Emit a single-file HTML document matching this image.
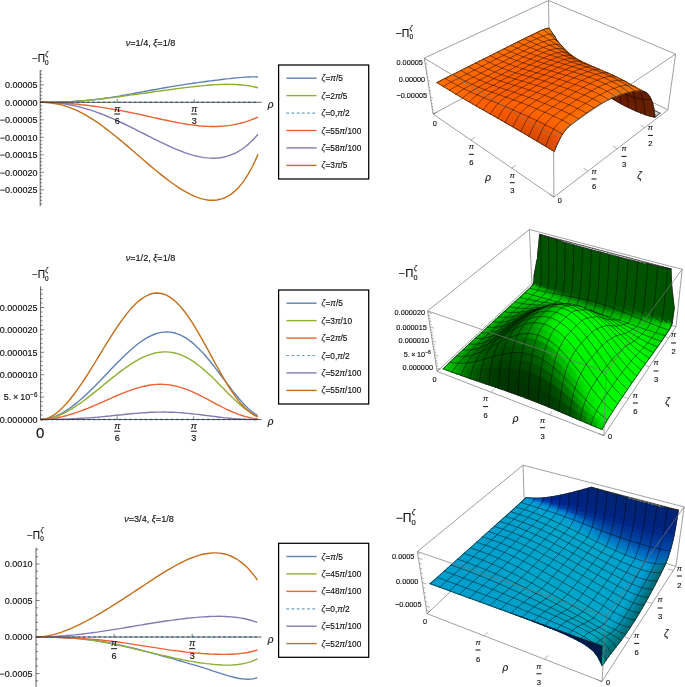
<!DOCTYPE html>
<html><head><meta charset="utf-8"><title>Plots</title>
<style>html,body{margin:0;padding:0;background:#fff}svg{display:block}text{font-family:"Liberation Sans",Arial,sans-serif;fill:#111;stroke:#111;stroke-width:.15px}.m{stroke:#000;stroke-opacity:.62;stroke-width:.75;fill:none}.e{stroke:#222;stroke-width:.7;fill:none;stroke-linecap:round}</style></head>
<body><svg width="685" height="687" viewBox="0 0 685 687">
<rect width="685" height="687" fill="#fff"/>
<path d="M40.2 102.3 L43.4 102.3 L46.5 102.3 L49.7 102.2 L52.8 102.2 L56 102.1 L59.1 102 L62.3 101.9 L65.5 101.8 L68.6 101.6 L71.8 101.5 L74.9 101.3 L78.1 101 L81.2 100.8 L84.4 100.6 L87.5 100.3 L90.7 100 L93.9 99.6 L97 99.3 L100.2 98.9 L103.3 98.5 L106.5 98 L109.6 97.6 L112.8 97.1 L116 96.6 L119.1 96.1 L122.3 95.5 L125.4 95 L128.6 94.4 L131.7 93.9 L134.9 93.3 L138.1 92.7 L141.2 92.1 L144.4 91.5 L147.5 90.9 L150.7 90.3 L153.8 89.7 L157 89.2 L160.1 88.6 L163.3 88 L166.5 87.5 L169.6 86.9 L172.8 86.4 L175.9 85.9 L179.1 85.4 L182.2 84.9 L185.4 84.4 L188.6 83.9 L191.7 83.5 L194.9 83 L198 82.6 L201.2 82.1 L204.3 81.7 L207.5 81.3 L210.7 80.9 L213.8 80.5 L217 80.1 L220.1 79.7 L223.3 79.3 L226.4 78.9 L229.6 78.6 L232.7 78.2 L235.9 77.9 L239.1 77.6 L242.2 77.4 L245.4 77.1 L248.5 77 L251.7 76.9 L254.8 76.9 L258 77" stroke="#5E81B5" stroke-width="1.4" fill="none" stroke-linejoin="round"/>
<path d="M40.2 102.3 L43.4 102.3 L46.5 102.3 L49.7 102.3 L52.8 102.2 L56 102.2 L59.1 102.1 L62.3 102 L65.5 101.9 L68.6 101.8 L71.8 101.6 L74.9 101.4 L78.1 101.2 L81.2 100.9 L84.4 100.7 L87.5 100.4 L90.7 100.1 L93.9 99.8 L97 99.4 L100.2 99.1 L103.3 98.7 L106.5 98.3 L109.6 97.9 L112.8 97.5 L116 97.1 L119.1 96.7 L122.3 96.2 L125.4 95.8 L128.6 95.4 L131.7 94.9 L134.9 94.5 L138.1 94.1 L141.2 93.6 L144.4 93.2 L147.5 92.7 L150.7 92.3 L153.8 91.8 L157 91.4 L160.1 91 L163.3 90.5 L166.5 90.1 L169.6 89.7 L172.8 89.3 L175.9 88.8 L179.1 88.4 L182.2 88 L185.4 87.6 L188.6 87.3 L191.7 86.9 L194.9 86.5 L198 86.2 L201.2 85.9 L204.3 85.6 L207.5 85.3 L210.7 85 L213.8 84.8 L217 84.6 L220.1 84.5 L223.3 84.4 L226.4 84.3 L229.6 84.4 L232.7 84.4 L235.9 84.5 L239.1 84.7 L242.2 85 L245.4 85.4 L248.5 85.8 L251.7 86.4 L254.8 87 L258 87.8" stroke="#8FB032" stroke-width="1.4" fill="none" stroke-linejoin="round"/>
<path d="M40.2 102.3H258" stroke="#5D9EC7" stroke-width="1.5" stroke-dasharray="2.6 2.6" fill="none"/>
<path d="M40.2 102.3 L43.4 102.3 L46.5 102.4 L49.7 102.4 L52.8 102.5 L56 102.7 L59.1 102.8 L62.3 103 L65.5 103.2 L68.6 103.5 L71.8 103.7 L74.9 104 L78.1 104.3 L81.2 104.7 L84.4 105 L87.5 105.4 L90.7 105.8 L93.9 106.2 L97 106.6 L100.2 107.1 L103.3 107.6 L106.5 108.1 L109.6 108.6 L112.8 109.2 L116 109.7 L119.1 110.3 L122.3 110.9 L125.4 111.5 L128.6 112.1 L131.7 112.8 L134.9 113.4 L138.1 114.1 L141.2 114.8 L144.4 115.5 L147.5 116.2 L150.7 116.9 L153.8 117.6 L157 118.3 L160.1 119 L163.3 119.7 L166.5 120.3 L169.6 121 L172.8 121.6 L175.9 122.3 L179.1 122.9 L182.2 123.4 L185.4 124 L188.6 124.5 L191.7 124.9 L194.9 125.3 L198 125.7 L201.2 126 L204.3 126.2 L207.5 126.4 L210.7 126.5 L213.8 126.5 L217 126.5 L220.1 126.3 L223.3 126.1 L226.4 125.8 L229.6 125.4 L232.7 124.9 L235.9 124.3 L239.1 123.6 L242.2 122.8 L245.4 121.9 L248.5 120.9 L251.7 119.7 L254.8 118.5 L258 117.2" stroke="#EB6235" stroke-width="1.4" fill="none" stroke-linejoin="round"/>
<path d="M40.2 102.3 L43.4 102.3 L46.5 102.4 L49.7 102.5 L52.8 102.7 L56 102.9 L59.1 103.3 L62.3 103.6 L65.5 104.1 L68.6 104.6 L71.8 105.2 L74.9 105.9 L78.1 106.6 L81.2 107.4 L84.4 108.3 L87.5 109.2 L90.7 110.2 L93.9 111.2 L97 112.4 L100.2 113.5 L103.3 114.7 L106.5 116 L109.6 117.3 L112.8 118.7 L116 120.1 L119.1 121.6 L122.3 123 L125.4 124.5 L128.6 126.1 L131.7 127.6 L134.9 129.2 L138.1 130.8 L141.2 132.4 L144.4 134 L147.5 135.6 L150.7 137.2 L153.8 138.8 L157 140.3 L160.1 141.9 L163.3 143.4 L166.5 144.9 L169.6 146.4 L172.8 147.8 L175.9 149.1 L179.1 150.4 L182.2 151.6 L185.4 152.8 L188.6 153.8 L191.7 154.8 L194.9 155.7 L198 156.4 L201.2 157.1 L204.3 157.6 L207.5 157.9 L210.7 158.1 L213.8 158.2 L217 158 L220.1 157.7 L223.3 157.2 L226.4 156.4 L229.6 155.4 L232.7 154.2 L235.9 152.8 L239.1 151 L242.2 149 L245.4 146.7 L248.5 144.1 L251.7 141.1 L254.8 137.9 L258 134.2" stroke="#8778B3" stroke-width="1.4" fill="none" stroke-linejoin="round"/>
<path d="M40.2 102.3 L43.4 102.3 L46.5 102.5 L49.7 102.8 L52.8 103.2 L56 103.7 L59.1 104.3 L62.3 105.1 L65.5 106.1 L68.6 107.1 L71.8 108.3 L74.9 109.6 L78.1 111.1 L81.2 112.7 L84.4 114.4 L87.5 116.2 L90.7 118.1 L93.9 120.1 L97 122.2 L100.2 124.4 L103.3 126.7 L106.5 129.1 L109.6 131.5 L112.8 134 L116 136.5 L119.1 139.1 L122.3 141.8 L125.4 144.4 L128.6 147.1 L131.7 149.8 L134.9 152.5 L138.1 155.3 L141.2 158 L144.4 160.7 L147.5 163.4 L150.7 166.1 L153.8 168.7 L157 171.3 L160.1 173.9 L163.3 176.4 L166.5 178.9 L169.6 181.2 L172.8 183.5 L175.9 185.7 L179.1 187.8 L182.2 189.8 L185.4 191.7 L188.6 193.4 L191.7 195 L194.9 196.4 L198 197.6 L201.2 198.6 L204.3 199.4 L207.5 200 L210.7 200.3 L213.8 200.3 L217 200 L220.1 199.3 L223.3 198.3 L226.4 197 L229.6 195.2 L232.7 192.9 L235.9 190.2 L239.1 186.9 L242.2 183.1 L245.4 178.7 L248.5 173.7 L251.7 168 L254.8 161.6 L258 154.4" stroke="#C56E1A" stroke-width="1.4" fill="none" stroke-linejoin="round"/>
<path d="M40.2 70.2V206.4M40.2 102.3H261.6" stroke="#2b2b2b" stroke-width="0.75" fill="none"/>
<path d="M40.2 203.8h2.0M40.2 200.3h2.0M40.2 196.8h2.0M40.2 193.3h2.0M40.2 189.8h3.6M40.2 186.3h2.0M40.2 182.8h2.0M40.2 179.3h2.0M40.2 175.8h2.0M40.2 172.3h3.6M40.2 168.8h2.0M40.2 165.3h2.0M40.2 161.8h2.0M40.2 158.3h2.0M40.2 154.8h3.6M40.2 151.3h2.0M40.2 147.8h2.0M40.2 144.3h2.0M40.2 140.8h2.0M40.2 137.3h3.6M40.2 133.8h2.0M40.2 130.3h2.0M40.2 126.8h2.0M40.2 123.3h2.0M40.2 119.8h3.6M40.2 116.3h2.0M40.2 112.8h2.0M40.2 109.3h2.0M40.2 105.8h2.0M40.2 102.3h3.6M40.2 98.8h2.0M40.2 95.3h2.0M40.2 91.8h2.0M40.2 88.3h2.0M40.2 84.8h3.6M40.2 81.3h2.0M40.2 77.8h2.0M40.2 74.3h2.0M40.2 70.8h2.0M117.2 102.3v-3.2M194.2 102.3v-3.2" stroke="#2b2b2b" stroke-width="0.6" fill="none"/>
<text x="37.6" y="88" font-size="9" text-anchor="end">0.00005</text>
<text x="37.6" y="105.5" font-size="9" text-anchor="end">0.00000</text>
<text x="37.6" y="123" font-size="9" text-anchor="end">−0.00005</text>
<text x="37.6" y="140.5" font-size="9" text-anchor="end">−0.00010</text>
<text x="37.6" y="158" font-size="9" text-anchor="end">−0.00015</text>
<text x="37.6" y="175.5" font-size="9" text-anchor="end">−0.00020</text>
<text x="37.6" y="193" font-size="9" text-anchor="end">−0.00025</text>
<text x="117.2" y="111.5" font-size="9" font-style="italic" text-anchor="middle">π</text>
<path d="M114.2 114H120.2" stroke="#111" stroke-width="1"/>
<text x="117.2" y="123.9" font-size="9" text-anchor="middle">6</text>
<text x="194.2" y="111.5" font-size="9" font-style="italic" text-anchor="middle">π</text>
<path d="M191.2 114H197.2" stroke="#111" stroke-width="1"/>
<text x="194.2" y="123.9" font-size="9" text-anchor="middle">3</text>
<text x="270.5" y="107.8" font-size="10" font-style="italic" text-anchor="middle">ρ</text>
<text x="150.5" y="46.3" font-size="9.1" text-anchor="middle"><tspan font-style="italic">ν</tspan>=1/4, <tspan font-style="italic">ξ</tspan>=1/8</text>
<text x="31.9" y="62.2" font-size="10">−Π</text>
<text x="45.1" y="64.6" font-size="6.4">0</text>
<text x="45.3" y="55.6" font-size="6.4" font-style="italic">ζ</text>
<rect x="278.6" y="65" width="90.1" height="114" fill="#fff" stroke="#000" stroke-width="1.25"/>
<path d="M286.4 78.2H316.6" stroke="#5E81B5" stroke-width="1.4"/>
<text x="321.6" y="81.2" font-size="8.3"><tspan font-style="italic">ζ</tspan>=<tspan font-style="italic">π</tspan>/5</text>
<path d="M286.4 95.6H316.6" stroke="#8FB032" stroke-width="1.4"/>
<text x="321.6" y="98.6" font-size="8.3"><tspan font-style="italic">ζ</tspan>=2<tspan font-style="italic">π</tspan>/5</text>
<path d="M286.4 113.1H316.6" stroke="#5D9EC7" stroke-width="1.2" stroke-dasharray="2.6 2.6"/>
<text x="321.6" y="116.1" font-size="8.3"><tspan font-style="italic">ζ</tspan>=0,<tspan font-style="italic">π</tspan>/2</text>
<path d="M286.4 130.5H316.6" stroke="#EB6235" stroke-width="1.4"/>
<text x="321.6" y="133.5" font-size="8.3"><tspan font-style="italic">ζ</tspan>=55<tspan font-style="italic">π</tspan>/100</text>
<path d="M286.4 147.9H316.6" stroke="#8778B3" stroke-width="1.4"/>
<text x="321.6" y="150.9" font-size="8.3"><tspan font-style="italic">ζ</tspan>=58<tspan font-style="italic">π</tspan>/100</text>
<path d="M286.4 165.4H316.6" stroke="#C56E1A" stroke-width="1.4"/>
<text x="321.6" y="168.4" font-size="8.3"><tspan font-style="italic">ζ</tspan>=3<tspan font-style="italic">π</tspan>/5</text>
<path d="M40.6 419.5 L43.7 419.3 L46.9 418.9 L50 418.2 L53.2 417.2 L56.3 415.9 L59.5 414.5 L62.6 412.8 L65.8 410.9 L68.9 408.8 L72 406.5 L75.2 404.1 L78.3 401.5 L81.5 398.8 L84.6 396 L87.8 393 L90.9 390 L94.1 386.9 L97.2 383.7 L100.4 380.5 L103.5 377.2 L106.6 373.9 L109.8 370.6 L112.9 367.3 L116.1 364.1 L119.2 360.9 L122.4 357.7 L125.5 354.7 L128.7 351.8 L131.8 349 L134.9 346.3 L138.1 343.8 L141.2 341.5 L144.4 339.4 L147.5 337.5 L150.7 335.9 L153.8 334.5 L157 333.4 L160.1 332.6 L163.3 332.1 L166.4 331.9 L169.5 332.1 L172.7 332.5 L175.8 333.3 L179 334.4 L182.1 335.8 L185.3 337.6 L188.4 339.7 L191.6 342.1 L194.7 344.7 L197.8 347.7 L201 350.9 L204.1 354.3 L207.3 358 L210.4 361.8 L213.6 365.7 L216.7 369.8 L219.9 374 L223 378.2 L226.2 382.4 L229.3 386.5 L232.4 390.6 L235.6 394.5 L238.7 398.3 L241.9 401.9 L245 405.3 L248.2 408.4 L251.3 411.2 L254.5 413.6 L257.6 415.6" stroke="#5E81B5" stroke-width="1.4" fill="none" stroke-linejoin="round"/>
<path d="M40.6 419.5 L43.7 419.4 L46.9 419 L50 418.4 L53.2 417.5 L56.3 416.5 L59.5 415.2 L62.6 413.8 L65.8 412.2 L68.9 410.5 L72 408.6 L75.2 406.6 L78.3 404.5 L81.5 402.3 L84.6 400 L87.8 397.6 L90.9 395.1 L94.1 392.6 L97.2 390.1 L100.4 387.6 L103.5 385 L106.6 382.4 L109.8 379.9 L112.9 377.4 L116.1 374.9 L119.2 372.4 L122.4 370.1 L125.5 367.8 L128.7 365.6 L131.8 363.6 L134.9 361.6 L138.1 359.8 L141.2 358.2 L144.4 356.7 L147.5 355.4 L150.7 354.3 L153.8 353.3 L157 352.6 L160.1 352.2 L163.3 351.9 L166.4 351.9 L169.5 352.1 L172.7 352.5 L175.8 353.2 L179 354.2 L182.1 355.4 L185.3 356.8 L188.4 358.5 L191.6 360.4 L194.7 362.4 L197.8 364.7 L201 367.2 L204.1 369.9 L207.3 372.7 L210.4 375.6 L213.6 378.6 L216.7 381.7 L219.9 384.9 L223 388.1 L226.2 391.3 L229.3 394.4 L232.4 397.5 L235.6 400.5 L238.7 403.4 L241.9 406.1 L245 408.7 L248.2 411 L251.3 413.1 L254.5 415 L257.6 416.5" stroke="#8FB032" stroke-width="1.4" fill="none" stroke-linejoin="round"/>
<path d="M40.6 419.5 L43.7 419.4 L46.9 419.2 L50 418.9 L53.2 418.5 L56.3 418 L59.5 417.3 L62.6 416.6 L65.8 415.8 L68.9 414.9 L72 414 L75.2 412.9 L78.3 411.9 L81.5 410.7 L84.6 409.5 L87.8 408.3 L90.9 407 L94.1 405.7 L97.2 404.3 L100.4 402.9 L103.5 401.6 L106.6 400.2 L109.8 398.8 L112.9 397.4 L116.1 396 L119.2 394.7 L122.4 393.4 L125.5 392.1 L128.7 390.9 L131.8 389.8 L134.9 388.7 L138.1 387.8 L141.2 386.9 L144.4 386.2 L147.5 385.5 L150.7 385 L153.8 384.6 L157 384.4 L160.1 384.3 L163.3 384.4 L166.4 384.6 L169.5 384.9 L172.7 385.5 L175.8 386.1 L179 386.9 L182.1 387.9 L185.3 388.9 L188.4 390.1 L191.6 391.4 L194.7 392.8 L197.8 394.3 L201 395.9 L204.1 397.5 L207.3 399.2 L210.4 400.9 L213.6 402.6 L216.7 404.3 L219.9 405.9 L223 407.5 L226.2 409.1 L229.3 410.5 L232.4 411.9 L235.6 413.2 L238.7 414.4 L241.9 415.5 L245 416.4 L248.2 417.2 L251.3 417.9 L254.5 418.4 L257.6 418.8" stroke="#EB6235" stroke-width="1.4" fill="none" stroke-linejoin="round"/>
<path d="M40.6 419.5H257.6" stroke="#5D9EC7" stroke-width="1.5" stroke-dasharray="2.6 2.6" fill="none"/>
<path d="M40.6 419.5 L43.7 419.5 L46.9 419.5 L50 419.4 L53.2 419.4 L56.3 419.3 L59.5 419.3 L62.6 419.2 L65.8 419.1 L68.9 419 L72 418.8 L75.2 418.7 L78.3 418.5 L81.5 418.3 L84.6 418.1 L87.8 417.9 L90.9 417.7 L94.1 417.4 L97.2 417.2 L100.4 416.9 L103.5 416.6 L106.6 416.3 L109.8 416 L112.9 415.6 L116.1 415.3 L119.2 415 L122.4 414.7 L125.5 414.3 L128.7 414 L131.8 413.7 L134.9 413.4 L138.1 413.2 L141.2 412.9 L144.4 412.7 L147.5 412.5 L150.7 412.3 L153.8 412.2 L157 412.1 L160.1 412.1 L163.3 412 L166.4 412.1 L169.5 412.2 L172.7 412.3 L175.8 412.4 L179 412.6 L182.1 412.8 L185.3 413.1 L188.4 413.4 L191.6 413.7 L194.7 414.1 L197.8 414.4 L201 414.8 L204.1 415.2 L207.3 415.6 L210.4 416 L213.6 416.4 L216.7 416.8 L219.9 417.2 L223 417.6 L226.2 417.9 L229.3 418.2 L232.4 418.5 L235.6 418.7 L238.7 418.9 L241.9 419.1 L245 419.3 L248.2 419.4 L251.3 419.4 L254.5 419.5 L257.6 419.5" stroke="#8778B3" stroke-width="1.4" fill="none" stroke-linejoin="round"/>
<path d="M40.6 419.5 L43.7 419.2 L46.9 418.4 L50 417.1 L53.2 415.4 L56.3 413.2 L59.5 410.6 L62.6 407.6 L65.8 404.3 L68.9 400.7 L72 396.8 L75.2 392.7 L78.3 388.3 L81.5 383.7 L84.6 379 L87.8 374.1 L90.9 369.1 L94.1 364 L97.2 358.9 L100.4 353.7 L103.5 348.5 L106.6 343.4 L109.8 338.4 L112.9 333.4 L116.1 328.6 L119.2 324 L122.4 319.6 L125.5 315.4 L128.7 311.4 L131.8 307.8 L134.9 304.5 L138.1 301.6 L141.2 299.1 L144.4 297 L147.5 295.3 L150.7 294 L153.8 293.3 L157 293 L160.1 293.2 L163.3 294 L166.4 295.2 L169.5 296.9 L172.7 299.1 L175.8 301.8 L179 304.9 L182.1 308.5 L185.3 312.5 L188.4 316.9 L191.6 321.6 L194.7 326.6 L197.8 331.8 L201 337.3 L204.1 342.9 L207.3 348.6 L210.4 354.4 L213.6 360.3 L216.7 366 L219.9 371.7 L223 377.2 L226.2 382.5 L229.3 387.6 L232.4 392.3 L235.6 396.8 L238.7 400.9 L241.9 404.6 L245 407.9 L248.2 410.8 L251.3 413.2 L254.5 415.3 L257.6 416.9" stroke="#C56E1A" stroke-width="1.4" fill="none" stroke-linejoin="round"/>
<path d="M40.6 286.4V419.5M40.6 419.5H261.6" stroke="#2b2b2b" stroke-width="0.75" fill="none"/>
<path d="M40.6 419.5h3.6M40.6 415h2.0M40.6 410.5h2.0M40.6 406.1h2.0M40.6 401.6h2.0M40.6 397.1h3.6M40.6 392.6h2.0M40.6 388.1h2.0M40.6 383.7h2.0M40.6 379.2h2.0M40.6 374.7h3.6M40.6 370.2h2.0M40.6 365.7h2.0M40.6 361.3h2.0M40.6 356.8h2.0M40.6 352.3h3.6M40.6 347.8h2.0M40.6 343.3h2.0M40.6 338.9h2.0M40.6 334.4h2.0M40.6 329.9h3.6M40.6 325.4h2.0M40.6 320.9h2.0M40.6 316.5h2.0M40.6 312h2.0M40.6 307.5h3.6M40.6 303h2.0M40.6 298.5h2.0M40.6 294.1h2.0M40.6 289.6h2.0M117.2 419.5v-3.2M193.8 419.5v-3.2" stroke="#2b2b2b" stroke-width="0.6" fill="none"/>
<text x="37.4" y="310.7" font-size="9" text-anchor="end">0.000025</text>
<text x="37.4" y="333.1" font-size="9" text-anchor="end">0.000020</text>
<text x="37.4" y="355.5" font-size="9" text-anchor="end">0.000015</text>
<text x="37.4" y="377.9" font-size="9" text-anchor="end">0.000010</text>
<text x="37.4" y="400.3" font-size="9" text-anchor="end">5.&#8201;×&#8201;10<tspan font-size="6.3" dy="-3.6">−6</tspan></text>
<text x="37.4" y="422.7" font-size="9" text-anchor="end">0.000000</text>
<text x="117.2" y="428.7" font-size="9" font-style="italic" text-anchor="middle">π</text>
<path d="M114.2 431.2H120.2" stroke="#111" stroke-width="1"/>
<text x="117.2" y="441.1" font-size="9" text-anchor="middle">6</text>
<text x="193.8" y="428.7" font-size="9" font-style="italic" text-anchor="middle">π</text>
<path d="M190.8 431.2H196.8" stroke="#111" stroke-width="1"/>
<text x="193.8" y="441.1" font-size="9" text-anchor="middle">3</text>
<text x="40.1" y="438" font-size="15" text-anchor="middle">0</text>
<text x="270.5" y="425" font-size="10" font-style="italic" text-anchor="middle">ρ</text>
<text x="150.5" y="261.2" font-size="9.1" text-anchor="middle"><tspan font-style="italic">ν</tspan>=1/2, <tspan font-style="italic">ξ</tspan>=1/8</text>
<text x="31.9" y="278.4" font-size="10">−Π</text>
<text x="45.1" y="280.8" font-size="6.4">0</text>
<text x="45.3" y="271.8" font-size="6.4" font-style="italic">ζ</text>
<rect x="278.6" y="290" width="90.1" height="114" fill="#fff" stroke="#000" stroke-width="1.25"/>
<path d="M286.4 303.2H316.6" stroke="#5E81B5" stroke-width="1.4"/>
<text x="321.6" y="306.2" font-size="8.3"><tspan font-style="italic">ζ</tspan>=<tspan font-style="italic">π</tspan>/5</text>
<path d="M286.4 320.6H316.6" stroke="#8FB032" stroke-width="1.4"/>
<text x="321.6" y="323.6" font-size="8.3"><tspan font-style="italic">ζ</tspan>=3<tspan font-style="italic">π</tspan>/10</text>
<path d="M286.4 338.1H316.6" stroke="#EB6235" stroke-width="1.4"/>
<text x="321.6" y="341.1" font-size="8.3"><tspan font-style="italic">ζ</tspan>=2<tspan font-style="italic">π</tspan>/5</text>
<path d="M286.4 355.5H316.6" stroke="#5D9EC7" stroke-width="1.2" stroke-dasharray="2.6 2.6"/>
<text x="321.6" y="358.5" font-size="8.3"><tspan font-style="italic">ζ</tspan>=0,<tspan font-style="italic">π</tspan>/2</text>
<path d="M286.4 372.9H316.6" stroke="#8778B3" stroke-width="1.4"/>
<text x="321.6" y="375.9" font-size="8.3"><tspan font-style="italic">ζ</tspan>=52<tspan font-style="italic">π</tspan>/100</text>
<path d="M286.4 390.4H316.6" stroke="#C56E1A" stroke-width="1.4"/>
<text x="321.6" y="393.4" font-size="8.3"><tspan font-style="italic">ζ</tspan>=55<tspan font-style="italic">π</tspan>/100</text>
<path d="M36 637 L39.2 637 L42.4 637.1 L45.6 637.1 L48.8 637.2 L52 637.3 L55.3 637.4 L58.5 637.5 L61.7 637.6 L64.9 637.8 L68.1 638 L71.3 638.2 L74.5 638.4 L77.7 638.6 L80.9 638.9 L84.1 639.2 L87.3 639.5 L90.5 639.9 L93.8 640.3 L97 640.8 L100.2 641.3 L103.4 641.8 L106.6 642.3 L109.8 642.9 L113 643.6 L116.2 644.2 L119.4 644.9 L122.6 645.6 L125.8 646.4 L129.1 647.1 L132.3 647.9 L135.5 648.7 L138.7 649.5 L141.9 650.4 L145.1 651.2 L148.3 652.1 L151.5 652.9 L154.7 653.8 L157.9 654.7 L161.1 655.6 L164.3 656.5 L167.6 657.3 L170.8 658.2 L174 659.1 L177.2 660.1 L180.4 661 L183.6 661.9 L186.8 662.8 L190 663.8 L193.2 664.7 L196.4 665.7 L199.6 666.7 L202.9 667.7 L206.1 668.7 L209.3 669.7 L212.5 670.8 L215.7 671.8 L218.9 672.8 L222.1 673.9 L225.3 674.9 L228.5 675.8 L231.7 676.7 L234.9 677.5 L238.1 678.2 L241.4 678.7 L244.6 679.1 L247.8 679.2 L251 679.1 L254.2 678.6 L257.4 677.7" stroke="#5E81B5" stroke-width="1.4" fill="none" stroke-linejoin="round"/>
<path d="M36 637 L39.2 637 L42.4 637 L45.6 637 L48.8 637 L52 637.1 L55.3 637.1 L58.5 637.2 L61.7 637.4 L64.9 637.5 L68.1 637.7 L71.3 637.9 L74.5 638.2 L77.7 638.5 L80.9 638.8 L84.1 639.2 L87.3 639.6 L90.5 640 L93.8 640.5 L97 641 L100.2 641.5 L103.4 642.1 L106.6 642.7 L109.8 643.4 L113 644 L116.2 644.7 L119.4 645.4 L122.6 646.1 L125.8 646.8 L129.1 647.6 L132.3 648.3 L135.5 649.1 L138.7 649.8 L141.9 650.6 L145.1 651.4 L148.3 652.1 L151.5 652.9 L154.7 653.6 L157.9 654.4 L161.1 655.1 L164.3 655.8 L167.6 656.5 L170.8 657.2 L174 657.9 L177.2 658.6 L180.4 659.2 L183.6 659.9 L186.8 660.5 L190 661.1 L193.2 661.6 L196.4 662.2 L199.6 662.7 L202.9 663.1 L206.1 663.6 L209.3 663.9 L212.5 664.3 L215.7 664.6 L218.9 664.8 L222.1 665 L225.3 665.1 L228.5 665.1 L231.7 665 L234.9 664.8 L238.1 664.5 L241.4 664 L244.6 663.4 L247.8 662.6 L251 661.6 L254.2 660.4 L257.4 658.9" stroke="#8FB032" stroke-width="1.4" fill="none" stroke-linejoin="round"/>
<path d="M36 637 L39.2 637 L42.4 637 L45.6 637.1 L48.8 637.2 L52 637.2 L55.3 637.3 L58.5 637.4 L61.7 637.5 L64.9 637.7 L68.1 637.8 L71.3 637.9 L74.5 638.1 L77.7 638.3 L80.9 638.4 L84.1 638.6 L87.3 638.9 L90.5 639.1 L93.8 639.4 L97 639.6 L100.2 639.9 L103.4 640.3 L106.6 640.6 L109.8 641 L113 641.4 L116.2 641.8 L119.4 642.2 L122.6 642.6 L125.8 643.1 L129.1 643.6 L132.3 644.1 L135.5 644.6 L138.7 645.1 L141.9 645.6 L145.1 646.1 L148.3 646.6 L151.5 647.1 L154.7 647.6 L157.9 648.1 L161.1 648.6 L164.3 649.1 L167.6 649.6 L170.8 650.1 L174 650.5 L177.2 650.9 L180.4 651.3 L183.6 651.7 L186.8 652.1 L190 652.4 L193.2 652.8 L196.4 653.1 L199.6 653.3 L202.9 653.6 L206.1 653.8 L209.3 654 L212.5 654.1 L215.7 654.3 L218.9 654.3 L222.1 654.4 L225.3 654.4 L228.5 654.3 L231.7 654.2 L234.9 654 L238.1 653.8 L241.4 653.4 L244.6 653 L247.8 652.5 L251 651.8 L254.2 651 L257.4 650" stroke="#EB6235" stroke-width="1.4" fill="none" stroke-linejoin="round"/>
<path d="M36 637H257.4" stroke="#5D9EC7" stroke-width="1.5" stroke-dasharray="2.6 2.6" fill="none"/>
<path d="M36 637 L39.2 637 L42.4 636.9 L45.6 636.9 L48.8 636.7 L52 636.6 L55.3 636.4 L58.5 636.2 L61.7 636 L64.9 635.8 L68.1 635.5 L71.3 635.2 L74.5 634.9 L77.7 634.5 L80.9 634.2 L84.1 633.8 L87.3 633.4 L90.5 633 L93.8 632.5 L97 632.1 L100.2 631.6 L103.4 631.1 L106.6 630.6 L109.8 630.1 L113 629.6 L116.2 629.1 L119.4 628.6 L122.6 628.1 L125.8 627.5 L129.1 627 L132.3 626.5 L135.5 625.9 L138.7 625.4 L141.9 624.9 L145.1 624.3 L148.3 623.8 L151.5 623.3 L154.7 622.8 L157.9 622.3 L161.1 621.8 L164.3 621.3 L167.6 620.8 L170.8 620.4 L174 619.9 L177.2 619.5 L180.4 619.1 L183.6 618.7 L186.8 618.3 L190 618 L193.2 617.6 L196.4 617.4 L199.6 617.1 L202.9 616.9 L206.1 616.7 L209.3 616.5 L212.5 616.4 L215.7 616.4 L218.9 616.3 L222.1 616.4 L225.3 616.5 L228.5 616.7 L231.7 616.9 L234.9 617.2 L238.1 617.6 L241.4 618.1 L244.6 618.8 L247.8 619.5 L251 620.3 L254.2 621.3 L257.4 622.4" stroke="#8778B3" stroke-width="1.4" fill="none" stroke-linejoin="round"/>
<path d="M36 637 L39.2 636.9 L42.4 636.6 L45.6 636.2 L48.8 635.6 L52 634.9 L55.3 634.1 L58.5 633.1 L61.7 632.1 L64.9 630.9 L68.1 629.6 L71.3 628.3 L74.5 626.9 L77.7 625.4 L80.9 623.8 L84.1 622.2 L87.3 620.5 L90.5 618.8 L93.8 617 L97 615.1 L100.2 613.3 L103.4 611.4 L106.6 609.4 L109.8 607.5 L113 605.4 L116.2 603.4 L119.4 601.4 L122.6 599.3 L125.8 597.2 L129.1 595.1 L132.3 593 L135.5 590.9 L138.7 588.7 L141.9 586.6 L145.1 584.5 L148.3 582.4 L151.5 580.3 L154.7 578.2 L157.9 576.2 L161.1 574.1 L164.3 572.1 L167.6 570.2 L170.8 568.3 L174 566.5 L177.2 564.7 L180.4 563 L183.6 561.4 L186.8 559.9 L190 558.5 L193.2 557.3 L196.4 556.1 L199.6 555.2 L202.9 554.3 L206.1 553.7 L209.3 553.2 L212.5 552.9 L215.7 552.9 L218.9 553.1 L222.1 553.5 L225.3 554.2 L228.5 555.2 L231.7 556.5 L234.9 558.1 L238.1 560 L241.4 562.4 L244.6 565.1 L247.8 568.1 L251 571.7 L254.2 575.6 L257.4 580" stroke="#C56E1A" stroke-width="1.4" fill="none" stroke-linejoin="round"/>
<path d="M36 547.7V687M36 637H261.6" stroke="#2b2b2b" stroke-width="0.75" fill="none"/>
<path d="M36 680.8h2.0M36 673.5h3.6M36 666.2h2.0M36 658.9h2.0M36 651.6h2.0M36 644.3h2.0M36 637h3.6M36 629.7h2.0M36 622.4h2.0M36 615.1h2.0M36 607.8h2.0M36 600.5h3.6M36 593.2h2.0M36 585.9h2.0M36 578.6h2.0M36 571.3h2.0M36 564h3.6M36 556.7h2.0M36 549.4h2.0M114.1 637v-3.2M192.2 637v-3.2" stroke="#2b2b2b" stroke-width="0.6" fill="none"/>
<text x="32.4" y="567.2" font-size="9" text-anchor="end">0.0010</text>
<text x="32.4" y="603.7" font-size="9" text-anchor="end">0.0005</text>
<text x="32.4" y="640.2" font-size="9" text-anchor="end">0.0000</text>
<text x="32.4" y="676.7" font-size="9" text-anchor="end">−0.0005</text>
<text x="114.1" y="646.2" font-size="9" font-style="italic" text-anchor="middle">π</text>
<path d="M111.1 648.7H117.1" stroke="#111" stroke-width="1"/>
<text x="114.1" y="658.6" font-size="9" text-anchor="middle">6</text>
<text x="192.2" y="646.2" font-size="9" font-style="italic" text-anchor="middle">π</text>
<path d="M189.2 648.7H195.2" stroke="#111" stroke-width="1"/>
<text x="192.2" y="658.6" font-size="9" text-anchor="middle">3</text>
<text x="270.5" y="642.5" font-size="10" font-style="italic" text-anchor="middle">ρ</text>
<text x="149" y="522" font-size="9.1" text-anchor="middle"><tspan font-style="italic">ν</tspan>=3/4, <tspan font-style="italic">ξ</tspan>=1/8</text>
<text x="27" y="538.8" font-size="10">−Π</text>
<text x="40.2" y="541.2" font-size="6.4">0</text>
<text x="40.4" y="532.2" font-size="6.4" font-style="italic">ζ</text>
<rect x="278.6" y="543.3" width="90.1" height="114" fill="#fff" stroke="#000" stroke-width="1.25"/>
<path d="M286.4 556.5H316.6" stroke="#5E81B5" stroke-width="1.4"/>
<text x="321.6" y="559.5" font-size="8.3"><tspan font-style="italic">ζ</tspan>=<tspan font-style="italic">π</tspan>/5</text>
<path d="M286.4 573.9H316.6" stroke="#8FB032" stroke-width="1.4"/>
<text x="321.6" y="576.9" font-size="8.3"><tspan font-style="italic">ζ</tspan>=45<tspan font-style="italic">π</tspan>/100</text>
<path d="M286.4 591.4H316.6" stroke="#EB6235" stroke-width="1.4"/>
<text x="321.6" y="594.4" font-size="8.3"><tspan font-style="italic">ζ</tspan>=48<tspan font-style="italic">π</tspan>/100</text>
<path d="M286.4 608.8H316.6" stroke="#5D9EC7" stroke-width="1.2" stroke-dasharray="2.6 2.6"/>
<text x="321.6" y="611.8" font-size="8.3"><tspan font-style="italic">ζ</tspan>=0,<tspan font-style="italic">π</tspan>/2</text>
<path d="M286.4 626.2H316.6" stroke="#8778B3" stroke-width="1.4"/>
<text x="321.6" y="629.2" font-size="8.3"><tspan font-style="italic">ζ</tspan>=51<tspan font-style="italic">π</tspan>/100</text>
<path d="M286.4 643.6H316.6" stroke="#C56E1A" stroke-width="1.4"/>
<text x="321.6" y="646.6" font-size="8.3"><tspan font-style="italic">ζ</tspan>=52<tspan font-style="italic">π</tspan>/100</text>
<path d="M548.6 0.5L549.1 51.4M549.1 51.4L433.1 114.1M549.1 51.4L667.9 109.9" stroke="#777" stroke-width="0.7" fill="none"/>
<path fill="#cc6e00" d="M546.1 28.1l6.9 7.2l3.2 2.8l-6.9-10.4z"/>
<path fill="#661b00" d="M554.2 35.9l5.9 7.9l2 7.4l-7.1-13.9z"/>
<path fill="#e77500" d="M544.1 28.8l7 5.7l3.3 1.2l-7.2-7.8z"/>
<path fill="#f87600" d="M542 29.6l7.2 4.9l3.3 0.1l-7.4-6.1z"/>
<path fill="#b46100" d="M550.3 33.4l7.1 7.8l1.6 1.7l-5.4-8.3z"/>
<path fill="#ff7500" d="M540 30.6l7.2 4.4l3.2-0.7l-7.4-5.1z"/>
<path fill="#d56d00" d="M548.1 33.6l7.3 6.3l3.3 1.9l-7.2-8.1z"/>
<path fill="#ff7400" d="M538 31.6l7.2 4.2l3.1-1.1l-7.3-4.6z"/>
<path fill="#ff7300" d="M535.9 32.6l7.2 4.1l3.1-1.3l-7.3-4.3z"/>
<path fill="#f07400" d="M546.2 34.4l7.3 5.3l3.4 0.4l-7.5-6.5z"/>
<path fill="#ac5b00" d="M554.7 38.7l7.1 7.7l1.6 1.9l-5.4-7.7z"/>
<path fill="#ff7100" d="M533.8 33.6l7.2 3.9l3.2-1.3l-7.3-4.1z"/>
<path fill="#fc7500" d="M544.2 35.2l7.3 4.9l3.3-0.5l-7.5-5.5z"/>
<path fill="#ff7000" d="M531.6 34.6l7.3 3.7l3.2-1.3l-7.3-3.9z"/>
<path fill="#d16a00" d="M552.5 38.8l7.4 6.3l3.2 1.9l-7.2-7.9z"/>
<path fill="#ff7400" d="M542.1 36.1l7.4 4.4l3.2-0.7l-7.4-5z"/>
<path fill="#ff6f00" d="M529.5 35.6l7.3 3.6l3.2-1.4l-7.3-3.7z"/>
<path fill="#ff7100" d="M540 36.9l7.4 4.2l3.3-0.9l-7.5-4.5z"/>
<path fill="#ea7100" d="M550.5 39.3l7.4 5.5l3.4 0.5l-7.5-6.5z"/>
<path fill="#ff6e00" d="M527.4 36.6l7.3 3.5l3.2-1.4l-7.3-3.6z"/>
<path fill="#b05b00" d="M559.1 44l7.3 7.3l1.5 1.4l-5.4-6.9z"/>
<path fill="#ff7000" d="M537.9 37.7l7.4 4l3.3-1l-7.5-4.2z"/>
<path fill="#ff6d00" d="M525.3 37.7l7.3 3.4l3.2-1.5l-7.4-3.5z"/>
<path fill="#f37100" d="M548.4 39.9l7.5 4.8l3.4 0.1l-7.6-5.7z"/>
<path fill="#661b00" d="M565.9 50l4.5 4l2.2 4.9l-4.3-4.9z"/>
<path fill="#cf6700" d="M556.9 43.8l7.5 6.1l3.3 1.9l-7.3-7.4z"/>
<path fill="#ff6e00" d="M535.8 38.6l7.4 3.7l3.3-1l-7.5-4z"/>
<path fill="#ff6d00" d="M523.1 38.7l7.4 3.4l3.2-1.5l-7.4-3.5z"/>
<path fill="#f67000" d="M546.3 40.4l7.6 4.5l3.4-0.3l-7.7-5z"/>
<path fill="#ff6c00" d="M521 39.8l7.3 3.4l3.2-1.6l-7.3-3.4z"/>
<path fill="#ff6d00" d="M533.7 39.6l7.4 3.5l3.3-1.2l-7.5-3.7z"/>
<path fill="#ba5d00" d="M563.7 48.8l4 3.9l3.2 2.5l-3.9-4.6z"/>
<path fill="#e06b00" d="M554.8 43.9l7.7 5.4l3.3 0.9l-7.5-6.3z"/>
<path fill="#f96e00" d="M544.2 41.1l7.6 4.1l3.4-0.5l-7.7-4.6z"/>
<path fill="#ff6c00" d="M518.8 40.9l7.3 3.4l3.2-1.6l-7.3-3.4z"/>
<path fill="#ff6c00" d="M531.5 40.6l7.5 3.4l3.3-1.3l-7.6-3.6z"/>
<path fill="#661b00" d="M567.1 51.5l4.6 3.5l2.5 3.8l-4.5-4.2z"/>
<path fill="#ff6c00" d="M516.6 42l7.4 3.4l3.2-1.6l-7.4-3.4z"/>
<path fill="#fb6d00" d="M542.1 41.8l7.6 3.8l3.5-0.7l-7.8-4.2z"/>
<path fill="#e86b00" d="M552.7 44.1l7.7 4.8l3.4 0.4l-7.6-5.5z"/>
<path fill="#ff6c00" d="M529.4 41.6l7.5 3.4l3.2-1.5l-7.5-3.4z"/>
<path fill="#ce6400" d="M561.5 48.3l4.3 3.3l3.3 1.5l-4.2-3.9z"/>
<path fill="#ff6c00" d="M514.4 43.1l7.4 3.4l3.2-1.6l-7.4-3.4z"/>
<path fill="#fd6c00" d="M540 42.6l7.6 3.6l3.4-0.9l-7.7-3.9z"/>
<path fill="#ff6b00" d="M527.2 42.7l7.5 3.3l3.3-1.5l-7.6-3.4z"/>
<path fill="#c35e00" d="M564.9 50.5l4.2 3.6l3.3 2l-4.1-4.1z"/>
<path fill="#ee6b00" d="M550.6 44.5l7.8 4.3l3.4 0l-7.7-4.8z"/>
<path fill="#ff6c00" d="M512.2 44.2l7.3 3.4l3.3-1.6l-7.4-3.4z"/>
<path fill="#db6600" d="M559.4 48l4.4 3l3.3 0.8l-4.3-3.4z"/>
<path fill="#ff6a00" d="M525.1 43.8l7.4 3.2l3.3-1.5l-7.5-3.3z"/>
<path fill="#ff6b00" d="M537.9 43.5l7.6 3.4l3.4-1.1l-7.7-3.6z"/>
<path fill="#661b00" d="M568.3 52.9l4.7 3l2.7 3.2l-4.6-3.5z"/>
<path fill="#ff6c00" d="M510 45.3l7.3 3.5l3.3-1.7l-7.4-3.4z"/>
<path fill="#f36b00" d="M548.5 45l7.8 3.9l3.5-0.3l-7.8-4.4z"/>
<path fill="#ff6a00" d="M522.9 44.9l7.5 3.2l3.2-1.6l-7.5-3.2z"/>
<path fill="#d16200" d="M562.8 50l4.3 3.1l3.4 1.3l-4.3-3.6z"/>
<path fill="#ff6a00" d="M535.7 44.5l7.7 3.2l3.3-1.2l-7.7-3.5z"/>
<path fill="#e46700" d="M557.3 48l4.4 2.7l3.5 0.3l-4.5-3z"/>
<path fill="#ff6c00" d="M506.6 47l7.3 3.5l4.4-2.2l-7.3-3.5z"/>
<path fill="#f86a00" d="M546.4 45.6l7.9 3.7l3.4-0.6l-7.9-4z"/>
<path fill="#ff6a00" d="M520.7 46l7.5 3.2l3.2-1.6l-7.5-3.2z"/>
<path fill="#c75d00" d="M566.2 52.1l4.3 3.2l3.3 1.7l-4.2-3.7z"/>
<path fill="#ff6900" d="M533.6 45.5l7.6 3.2l3.3-1.4l-7.6-3.3z"/>
<path fill="#dd6400" d="M560.7 49.8l4.4 2.8l3.4 0.6l-4.4-3.1z"/>
<path fill="#ec6800" d="M555.2 48.2l4.5 2.4l3.4 0l-4.5-2.7z"/>
<path fill="#ff6900" d="M518.5 47.2l7.4 3.1l3.3-1.6l-7.5-3.2z"/>
<path fill="#fb6a00" d="M544.3 46.4l7.8 3.4l3.5-0.8l-7.9-3.8z"/>
<path fill="#ff6c00" d="M503.2 48.7l7.3 3.5l4.5-2.2l-7.4-3.5z"/>
<path fill="#ff6900" d="M531.4 46.6l7.7 3l3.3-1.5l-7.7-3.1z"/>
<path fill="#661b00" d="M569.7 54.2l4.7 2.6l2.8 2.9l-4.7-3.1z"/>
<path fill="#ff6900" d="M516.2 48.3l7.5 3.2l3.3-1.7l-7.5-3.2z"/>
<path fill="#d56100" d="M564.1 51.7l4.4 2.8l3.4 1l-4.4-3.2z"/>
<path fill="#f26800" d="M553 48.6l4.6 2.3l3.5-0.5l-4.6-2.4z"/>
<path fill="#e66600" d="M558.5 49.9l4.6 2.5l3.4 0.1l-4.5-2.7z"/>
<path fill="#ff6800" d="M529.2 47.7l7.7 2.9l3.3-1.5l-7.7-3.1z"/>
<path fill="#fd6900" d="M542.2 47.2l7.8 3.3l3.5-1.1l-8-3.4z"/>
<path fill="#ff6c00" d="M499.8 50.4l7.3 3.6l4.5-2.3l-7.4-3.5z"/>
<path fill="#ff6900" d="M512.9 50l7.4 3.2l4.5-2.3l-7.5-3.1z"/>
<path fill="#cd5d00" d="M567.5 53.5l4.4 3l3.4 1.3l-4.4-3.3z"/>
<path fill="#ff6800" d="M527 48.8l7.7 2.9l3.3-1.6l-7.7-3z"/>
<path fill="#f76800" d="M550.9 49.2l4.6 2.1l3.5-0.7l-4.6-2.2z"/>
<path fill="#fe6800" d="M540 48.2l7.9 3.1l3.4-1.3l-7.9-3.2z"/>
<path fill="#e06300" d="M562 51.5l4.5 2.6l3.4 0.4l-4.5-2.8z"/>
<path fill="#ee6700" d="M556.4 50.2l4.6 2.2l3.4-0.2l-4.5-2.5z"/>
<path fill="#6d1c00" d="M608.8 89.1l4.6 3.6l1 7.9l-4.3-2.6z"/>
<path fill="#ff6c00" d="M496.3 52.2l7.3 3.5l4.5-2.3l-7.3-3.5z"/>
<path fill="#ff6700" d="M524.8 49.9l7.7 2.9l3.3-1.6l-7.7-3z"/>
<path fill="#c45a00" d="M571 55.4l4.4 3.1l1.2 0.2l-2.2-1.9z"/>
<path fill="#ff6700" d="M537.9 49.2l7.8 2.9l3.4-1.3l-7.9-3.1z"/>
<path fill="#ff6900" d="M509.5 51.7l7.4 3.2l4.5-2.2l-7.5-3.2z"/>
<path fill="#f96700" d="M548.8 50l4.6 1.8l3.4-0.9l-4.6-2z"/>
<path fill="#d96000" d="M565.4 53.2l4.5 2.7l3.4 0.7l-4.5-2.9z"/>
<path fill="#f36700" d="M554.3 50.7l4.6 2l3.5-0.5l-4.7-2.3z"/>
<path fill="#d1d1d1" d="M617.4 102.2l1.5-1l-4.5-2.4l-1.4 0.9z"/>
<path fill="#6e1d00" d="M612.4 92l4.6 3.3l0.9 7.2l-4.4-2.5z"/>
<path fill="#e96500" d="M559.8 51.7l4.6 2.3l3.5 0l-4.6-2.5z"/>
<path fill="#ff6700" d="M522.6 51l7.6 2.9l3.4-1.6l-7.7-3z"/>
<path fill="#ff6c00" d="M492.8 53.9l7.3 3.6l4.5-2.3l-7.3-3.5z"/>
<path fill="#f60" d="M535.7 50.2l7.8 2.9l3.4-1.5l-7.9-3z"/>
<path fill="#fb6700" d="M546.6 50.8l4.6 1.8l3.5-1.2l-4.6-1.9z"/>
<path fill="#ff6900" d="M506 53.5l7.5 3.2l4.5-2.3l-7.5-3.2z"/>
<path fill="#d1d1d1" d="M621 104.2l1.6-1.1l-4.6-2.4l-1.5 1z"/>
<path fill="#6e1d00" d="M616.1 94.7l4.6 3l0.8 6.8l-4.5-2.5z"/>
<path fill="#f76600" d="M552.1 51.3l4.7 1.9l3.4-0.8l-4.6-2.1z"/>
<path fill="#d25e00" d="M568.9 54.9l4.5 2.7l3.4 1.1l-4.5-3z"/>
<path fill="#ef6500" d="M557.7 52.1l4.6 2.1l3.5-0.4l-4.6-2.3z"/>
<path fill="#e46300" d="M563.3 53.3l4.6 2.3l3.4 0.2l-4.6-2.6z"/>
<path fill="#f60" d="M519.2 52.8l7.7 2.8l4.4-2.2l-7.6-2.9z"/>
<path fill="#f60" d="M533.5 51.3l7.8 2.8l3.4-1.6l-7.9-2.8z"/>
<path fill="#ff6b00" d="M489.3 55.7l7.3 3.6l4.5-2.3l-7.3-3.6z"/>
<path fill="#fd6600" d="M544.4 51.7l4.7 1.7l3.4-1.3l-4.6-1.8z"/>
<path fill="#d1d1d1" d="M624.7 106.1l1.6-1.1l-4.6-2.4l-1.6 1.1z"/>
<path fill="#6f1d00" d="M619.8 97.2l4.7 2.6l0.7 6.6l-4.7-2.4z"/>
<path fill="#ff6900" d="M502.6 55.2l7.4 3.3l4.5-2.3l-7.4-3.2z"/>
<path fill="#f96600" d="M550 52l4.6 1.8l3.5-1l-4.7-1.9z"/>
<path fill="#cb5a00" d="M572.4 56.7l4.5 2.7l3.3 1.4l-4.4-3.1z"/>
<path fill="#ff6500" d="M531.3 52.4l7.8 2.7l3.4-1.6l-7.9-2.8z"/>
<path fill="#f46500" d="M555.5 52.6l4.7 2l3.5-0.7l-4.7-2.1z"/>
<path fill="#de6000" d="M566.8 54.8l4.5 2.4l3.5 0.5l-4.6-2.7z"/>
<path fill="#eb6400" d="M561.1 53.5l4.7 2.2l3.4-0.3l-4.6-2.3z"/>
<path fill="#f60" d="M515.8 54.5l7.7 2.9l4.4-2.3l-7.6-2.9z"/>
<path fill="#ff6b00" d="M485.7 57.5l7.3 3.6l4.6-2.3l-7.3-3.6z"/>
<path fill="#fd6500" d="M542.3 52.6l4.6 1.6l3.4-1.3l-4.6-1.7z"/>
<path fill="#d1d1d1" d="M649.5 110.7l4.8 2.5l2.7-2l-4.9-2.5z"/>
<path fill="#d1d1d1" d="M628.5 108l1.6-1.1l-4.7-2.4l-1.6 1.2z"/>
<path fill="#6e1d00" d="M623.5 99.3l4.8 2.2l0.7 6.8l-4.8-2.4z"/>
<path fill="#fb6500" d="M547.8 52.9l4.7 1.7l3.5-1.2l-4.7-1.8z"/>
<path fill="#ff6500" d="M529.1 53.5l7.8 2.7l3.4-1.6l-7.9-2.8z"/>
<path fill="#ff6900" d="M499.1 57l7.4 3.3l4.6-2.3l-7.5-3.3z"/>
<path fill="#661b00" d="M575.9 58.4l5 2.1l2.8 2.4l-4.8-2.4z"/>
<path fill="#f76500" d="M553.4 53.3l4.7 1.8l3.4-0.9l-4.7-1.9z"/>
<path fill="#d1d1d1" d="M653.4 112.7l4.9 2.5l2.6-2.1l-4.8-2.4z"/>
<path fill="#fe6500" d="M540.1 53.6l4.6 1.6l3.4-1.5l-4.6-1.6z"/>
<path fill="#f16400" d="M559 54l4.7 1.9l3.4-0.5l-4.6-2.1z"/>
<path fill="#d85e00" d="M570.3 56.4l4.6 2.4l3.4 0.7l-4.6-2.7z"/>
<path fill="#ff6b00" d="M482.1 59.3l7.3 3.6l4.6-2.3l-7.3-3.6z"/>
<path fill="#f60" d="M512.4 56.3l7.6 2.9l4.5-2.4l-7.6-2.8z"/>
<path fill="#e76200" d="M564.6 55l4.7 2.1l3.4 0l-4.6-2.4z"/>
<path fill="#d1d1d1" d="M632.4 109.9l1.5-1.1l-4.7-2.4l-1.6 1.2z"/>
<path fill="#6e1d00" d="M627.4 101.2l4.8 1.7l0.7 7.2l-4.9-2.3z"/>
<path fill="#fc6500" d="M545.6 53.8l4.7 1.6l3.5-1.3l-4.7-1.7z"/>
<path fill="#ff6400" d="M525.7 55.2l7.8 2.7l4.5-2.3l-7.8-2.7z"/>
<path fill="#661b00" d="M614.6 87.6l4.8 2.9l1.5 8.4l-4.7-3z"/>
<path fill="#ff6900" d="M495.5 58.8l7.5 3.4l4.5-2.4l-7.4-3.3z"/>
<path fill="#f96500" d="M551.2 54.1l4.7 1.7l3.5-1.1l-4.7-1.8z"/>
<path fill="#fe6400" d="M537.9 54.7l4.6 1.5l3.4-1.5l-4.6-1.6z"/>
<path fill="#d1d1d1" d="M651.5 114.1l4.9 2.5l2.7-2l-4.9-2.5z"/>
<path fill="#f56400" d="M556.8 54.6l4.8 1.8l3.4-0.8l-4.7-2z"/>
<path fill="#d1d1d1" d="M639.9 112.9l1.1 0.6l4.1 1.6l2.3-1.7l-4.8-2.5z"/>
<path fill="#712100" d="M639.9 113l5.4-1.1l0.2 3.3z"/>
<path fill="#ff6b00" d="M478.5 61.1l7.3 3.7l4.6-2.4l-7.3-3.6z"/>
<path fill="#d35b00" d="M573.8 58l4.6 2.5l3.4 0.9l-4.6-2.8z"/>
<path fill="#d1d1d1" d="M636.5 111.7l1.2-0.9l-4.7-2.4l-1.5 1.1z"/>
<path fill="#6d1e00" d="M631.3 102.7l4.9 1.2l0.8 8l-5.1-2.2z"/>
<path fill="#f60" d="M508.9 58.1l7.6 2.9l4.6-2.4l-7.6-2.9z"/>
<path fill="#ee6300" d="M562.5 55.3l4.7 2l3.5-0.4l-4.8-2.2z"/>
<path fill="#fd6400" d="M543.4 54.8l4.7 1.5l3.5-1.4l-4.7-1.6z"/>
<path fill="#e36000" d="M568.1 56.4l4.7 2.2l3.5 0.2l-4.7-2.5z"/>
<path fill="#661b00" d="M618.4 89.9l4.8 2.6l1.5 8.4l-4.8-2.6z"/>
<path fill="#ff6300" d="M535.7 55.8l4.6 1.5l3.4-1.6l-4.6-1.6z"/>
<path fill="#fb6400" d="M549 55l4.8 1.6l3.4-1.3l-4.7-1.7z"/>
<path fill="#ff6400" d="M522.3 57l7.8 2.6l4.5-2.3l-7.8-2.6z"/>
<path fill="#ff6900" d="M492 60.6l7.4 3.4l4.6-2.4l-7.4-3.3z"/>
<path fill="#d1d1d1" d="M649.6 115.5l3.3 1.7l2.1 0.5l2.2-1.7l-4.9-2.5z"/>
<path fill="#712900" d="M652.2 117l3-2.8l0.2 3.5z"/>
<path fill="#f76400" d="M554.7 55.3l4.7 1.7l3.5-1l-4.8-1.8z"/>
<path fill="#fd6300" d="M541.2 55.8l4.7 1.5l3.4-1.5l-4.6-1.6z"/>
<path fill="#ff6b00" d="M474.8 62.9l7.3 3.8l4.7-2.4l-7.3-3.7z"/>
<path fill="#cd5900" d="M577.4 59.5l4.6 2.6l3.4 1.2l-4.6-2.9z"/>
<path fill="#d1d1d1" d="M640.7 113.4l0.9-0.6l-4.8-2.5l-1.3 1z"/>
<path fill="#6b1e00" d="M635.2 103.7l5 0.7l1 9.2l-5.2-2.1z"/>
<path fill="#f26300" d="M560.3 55.8l4.8 1.9l3.4-0.7l-4.7-2z"/>
<path fill="#f60" d="M505.4 59.9l7.6 3l4.6-2.4l-7.6-3z"/>
<path fill="#661b00" d="M622.2 92.1l4.9 2.2l1.4 8.3l-4.8-2.2z"/>
<path fill="#d1d1d1" d="M649.8 116.5l1.5-1.1l-4.8-2.5l-2.4 1.8z"/>
<path fill="#6d2200" d="M644.5 112.1l5.2-1.8l0.5 6.4l-5.6-1.8z"/>
<path fill="#de5e00" d="M571.7 57.8l4.7 2.3l3.4 0.3l-4.7-2.4z"/>
<path fill="#ea6200" d="M566 56.7l4.7 2l3.5-0.3l-4.7-2.2z"/>
<path fill="#fc6300" d="M546.8 55.9l4.8 1.6l3.4-1.4l-4.7-1.6z"/>
<path fill="#ff6300" d="M532.3 57.5l4.6 1.5l4.5-2.3l-4.6-1.5z"/>
<path fill="#ff6900" d="M488.4 62.4l7.4 3.5l4.6-2.4l-7.4-3.4z"/>
<path fill="#ff6400" d="M518.8 58.8l7.9 2.7l4.5-2.4l-7.8-2.7z"/>
<path fill="#fe6300" d="M539 56.9l4.7 1.5l3.4-1.6l-4.7-1.5z"/>
<path fill="#f96300" d="M552.5 56.1l4.7 1.6l3.5-1.2l-4.8-1.7z"/>
<path fill="#ff6b00" d="M471.1 64.8l7.3 3.8l4.7-2.4l-7.3-3.8z"/>
<path fill="#f66300" d="M558.1 56.5l4.8 1.7l3.5-0.9l-4.8-1.8z"/>
<path fill="#661b00" d="M581 61.1l5 1.9l3 2.2l-5-2.1z"/>
<path fill="#661b00" d="M626.1 93.9l4.9 2l1.3 8l-4.8-1.7z"/>
<path fill="#f60" d="M501.9 61.7l7.6 3.1l4.6-2.5l-7.6-3z"/>
<path fill="#fc6300" d="M544.6 56.9l4.7 1.5l3.5-1.5l-4.7-1.5z"/>
<path fill="#f06200" d="M563.8 57.1l4.8 1.9l3.5-0.6l-4.8-2z"/>
<path fill="#d95c00" d="M575.3 59.3l4.7 2.3l3.4 0.5l-4.7-2.5z"/>
<path fill="#d1d1d1" d="M642.4 113.6l-1.7-1.3l-1 0.7z"/>
<path fill="#681f00" d="M639.3 104.3l5.1 0.1l1 8.4l-4.2 0.8l-0.9-0.4z"/>
<path fill="#e76000" d="M569.5 58l4.8 2.1l3.5-0.2l-4.8-2.2z"/>
<path fill="#ff6200" d="M528.9 59.3l4.6 1.4l4.5-2.3l-4.6-1.5z"/>
<path fill="#ff6900" d="M484.7 64.3l7.4 3.5l4.7-2.4l-7.4-3.5z"/>
<path fill="#fb6300" d="M550.3 57l4.7 1.6l3.5-1.4l-4.8-1.6z"/>
<path fill="#fe6200" d="M535.6 58.6l4.7 1.4l4.6-2.2l-4.7-1.5z"/>
<path fill="#ff6400" d="M515.4 60.6l7.8 2.7l4.5-2.4l-7.8-2.7z"/>
<path fill="#d1d1d1" d="M654.3 117.2l-3.9-2.3l-1.8 1.4z"/>
<path fill="#662300" d="M648.8 110.6l5.4-2.8l1 7.5l-2 2l-3.9-0.9z"/>
<path fill="#ff6b00" d="M467.4 66.7l7.2 3.8l4.7-2.4l-7.2-3.8z"/>
<path fill="#f86300" d="M555.9 57.3l4.9 1.6l3.4-1.1l-4.8-1.7z"/>
<path fill="#fd6200" d="M542.4 58l4.7 1.4l3.5-1.5l-4.8-1.5z"/>
<path fill="#661b00" d="M584.7 62.8l5 1.9l2.9 2.4l-5-2.1z"/>
<path fill="#f60" d="M498.3 63.6l7.6 3.1l4.6-2.5l-7.6-3z"/>
<path fill="#661c00" d="M630 95.5l5 1.6l1.3 7.7l-4.9-1.2z"/>
<path fill="#f46200" d="M561.7 57.7l4.8 1.8l3.4-0.9l-4.8-1.9z"/>
<path fill="#d55a00" d="M578.9 60.8l4.7 2.3l3.4 0.7l-4.7-2.5z"/>
<path fill="#ed6100" d="M567.4 58.4l4.8 1.9l3.5-0.5l-4.8-2z"/>
<path fill="#fc6200" d="M548 58l4.8 1.5l3.5-1.4l-4.8-1.6z"/>
<path fill="#e35f00" d="M573.1 59.4l4.8 2l3.5 0.1l-4.8-2.3z"/>
<path fill="#ff6900" d="M481.1 66.2l7.3 3.5l4.7-2.4l-7.3-3.5z"/>
<path fill="#ff6200" d="M525.4 61.1l4.6 1.4l4.6-2.4l-4.6-1.4z"/>
<path fill="#ff6400" d="M511.9 62.5l7.8 2.7l4.6-2.5l-7.8-2.7z"/>
<path fill="#ff6b00" d="M463.6 68.6l7.2 3.8l4.8-2.4l-7.2-3.8z"/>
<path fill="#fe6200" d="M532.2 60.3l4.7 1.4l4.6-2.3l-4.7-1.4z"/>
<path fill="#f96200" d="M553.7 58.1l4.9 1.6l3.4-1.3l-4.8-1.6z"/>
<path fill="#662000" d="M643.5 104.4l5.1-0.5l1.2 7.3l-5.3 1.8z"/>
<path fill="#fd6200" d="M539 59.6l4.7 1.4l4.6-2.1l-4.7-1.5z"/>
<path fill="#f66200" d="M559.5 58.4l4.8 1.7l3.5-1.1l-4.8-1.7z"/>
<path fill="#661b00" d="M620.7 86.4l4.9 2.4l1.7 6.7l-4.9-2.4z"/>
<path fill="#ff6700" d="M494.7 65.4l7.6 3.2l4.6-2.5l-7.5-3.1z"/>
<path fill="#fc6200" d="M545.8 59l4.8 1.5l3.5-1.5l-4.8-1.5z"/>
<path fill="#661d00" d="M634 96.9l5 1.2l1.4 7.2l-5.1-0.7z"/>
<path fill="#f26200" d="M565.2 58.9l4.9 1.8l3.4-0.8l-4.8-1.9z"/>
<path fill="#d05900" d="M582.6 62.2l4.7 2.5l3.4 0.9l-4.7-2.6z"/>
<path fill="#ff6900" d="M477.3 68.1l7.4 3.5l4.7-2.4l-7.3-3.5z"/>
<path fill="#eb6000" d="M571 59.7l4.8 1.9l3.5-0.4l-4.8-2.1z"/>
<path fill="#e05d00" d="M576.8 60.7l4.8 2.2l3.4 0.1l-4.8-2.3z"/>
<path fill="#ff6b00" d="M459.8 70.5l7.2 3.9l4.8-2.5l-7.2-3.8z"/>
<path fill="#ff6200" d="M522 62.9l4.5 1.5l4.6-2.5l-4.5-1.4z"/>
<path fill="#fb6200" d="M551.5 59.1l4.9 1.5l3.4-1.4l-4.8-1.6z"/>
<path fill="#ff6400" d="M508.3 64.3l7.8 2.8l4.6-2.5l-7.7-2.7z"/>
<path fill="#fe6100" d="M528.8 62.1l4.6 1.4l4.6-2.4l-4.6-1.4z"/>
<path fill="#f86200" d="M557.3 59.3l4.8 1.5l3.5-1.2l-4.8-1.6z"/>
<path fill="#661b00" d="M624.6 88.4l5 2.1l1.6 6.5l-4.9-2z"/>
<path fill="#fe6100" d="M535.6 61.4l4.7 1.4l4.6-2.3l-4.7-1.5z"/>
<path fill="#ff6700" d="M491.1 67.3l7.5 3.2l4.7-2.5l-7.5-3.1z"/>
<path fill="#fd6100" d="M542.5 60.7l4.7 1.4l4.6-2.2l-4.7-1.4z"/>
<path fill="#f56200" d="M563 59.6l4.9 1.7l3.5-1l-4.9-1.8z"/>
<path fill="#ff6900" d="M473.6 70l7.4 3.6l4.7-2.5l-7.3-3.5z"/>
<path fill="#fb6200" d="M549.3 60.1l4.8 1.5l3.5-1.6l-4.8-1.5z"/>
<path fill="#661d00" d="M638.1 97.9l5 0.9l1.4 6.5l-5.1-0.1z"/>
<path fill="#f06100" d="M568.8 60.1l4.9 1.8l3.5-0.7l-4.9-1.9z"/>
<path fill="#ff6c00" d="M455.9 72.4l7.2 4l4.8-2.5l-7.1-3.9z"/>
<path fill="#620" d="M647.7 104.1l5.3-1.2l1.4 5.8l-5.5 2.9z"/>
<path fill="#dc5c00" d="M580.4 62.1l4.9 2.2l3.4 0.3l-4.8-2.3z"/>
<path fill="#e85f00" d="M574.6 60.9l4.9 2l3.4-0.3l-4.8-2.1z"/>
<path fill="#ff6200" d="M518.5 64.8l4.5 1.5l4.6-2.5l-4.5-1.5z"/>
<path fill="#ff6400" d="M504.8 66.2l7.7 2.9l4.7-2.6l-7.8-2.7z"/>
<path fill="#fa6200" d="M555.1 60.2l4.8 1.5l3.5-1.4l-4.9-1.5z"/>
<path fill="#fe6100" d="M525.3 64l4.6 1.4l4.7-2.5l-4.7-1.4z"/>
<path fill="#661b00" d="M628.5 90.1l5.1 1.9l1.6 6.2l-5-1.6z"/>
<path fill="#ff6700" d="M487.4 69.2l7.5 3.3l4.7-2.5l-7.5-3.2z"/>
<path fill="#fe6100" d="M532.2 63.2l4.7 1.4l4.6-2.4l-4.7-1.4z"/>
<path fill="#f76200" d="M560.8 60.4l4.9 1.6l3.5-1.2l-4.9-1.7z"/>
<path fill="#ff6900" d="M469.8 71.9l7.4 3.7l4.7-2.5l-7.3-3.6z"/>
<path fill="#fd6100" d="M539.1 62.4l4.7 1.4l4.6-2.3l-4.7-1.4z"/>
<path fill="#ff6c00" d="M452 74.4l7.2 4l4.9-2.5l-7.2-4z"/>
<path fill="#661b00" d="M590 65.3l5.1 1.7l3 2.1l-5.1-1.9z"/>
<path fill="#fc6100" d="M545.9 61.7l4.8 1.4l4.7-2.1l-4.9-1.5z"/>
<path fill="#f46100" d="M566.6 60.8l4.9 1.7l3.5-1l-4.9-1.7z"/>
<path fill="#ee6000" d="M572.5 61.4l4.9 1.8l3.4-0.6l-4.9-1.9z"/>
<path fill="#d95b00" d="M584.1 63.5l4.9 2.2l3.4 0.5l-4.8-2.4z"/>
<path fill="#fb6100" d="M552.8 61.1l4.9 1.5l3.5-1.4l-4.9-1.6z"/>
<path fill="#ff6200" d="M514.9 66.7l4.6 1.5l4.6-2.5l-4.5-1.5z"/>
<path fill="#e55e00" d="M578.3 62.2l4.9 2l3.4-0.1l-4.8-2.1z"/>
<path fill="#ff6400" d="M501.2 68.2l7.7 2.8l4.7-2.5l-7.8-2.8z"/>
<path fill="#661e00" d="M642.2 98.7l5.2 0.4l1.4 5.7l-5.2 0.5z"/>
<path fill="#ff6100" d="M521.8 65.9l4.6 1.4l4.7-2.5l-4.7-1.4z"/>
<path fill="#661c00" d="M632.5 91.7l5.1 1.7l1.7 5.7l-5.1-1.2z"/>
<path fill="#ff6700" d="M483.7 71.2l7.5 3.3l4.7-2.5l-7.5-3.3z"/>
<path fill="#f96200" d="M558.6 61.3l4.9 1.5l3.5-1.3l-4.9-1.6z"/>
<path fill="#ff6c00" d="M449.4 75.7l7.1 4.1l3.6-1.9l-7.1-4z"/>
<path fill="#ff6a00" d="M466 73.9l7.3 3.7l4.8-2.5l-7.3-3.7z"/>
<path fill="#fe6000" d="M528.7 65l4.7 1.4l4.6-2.5l-4.7-1.3z"/>
<path fill="#f66100" d="M564.4 61.5l5 1.6l3.4-1.1l-4.9-1.7z"/>
<path fill="#661b00" d="M593.8 66.8l5.2 1.8l2.9 2.3l-5.2-2z"/>
<path fill="#fd6000" d="M535.6 64.2l4.8 1.3l4.6-2.3l-4.8-1.4z"/>
<path fill="#fd6100" d="M542.5 63.4l4.8 1.4l4.7-2.3l-4.9-1.4z"/>
<path fill="#f26100" d="M570.3 62l4.9 1.7l3.5-0.9l-4.9-1.8z"/>
<path fill="#ff6c00" d="M446.7 77.1l7.2 4l3.6-1.8l-7.1-4.1z"/>
<path fill="#fb6100" d="M549.4 62.7l4.9 1.4l4.6-2l-4.8-1.5z"/>
<path fill="#d65a00" d="M587.9 64.9l4.8 2.3l3.5 0.6l-4.9-2.4z"/>
<path fill="#ff6200" d="M511.4 68.7l4.5 1.5l4.7-2.6l-4.6-1.5z"/>
<path fill="#ff6400" d="M497.5 70.1l7.7 2.9l4.7-2.5l-7.7-2.9z"/>
<path fill="#ec6000" d="M576.1 62.6l5 1.9l3.4-0.5l-4.9-2z"/>
<path fill="#e35d00" d="M582 63.6l4.9 2l3.5 0l-4.9-2.2z"/>
<path fill="#fa6100" d="M556.4 62.2l4.9 1.5l3.5-1.4l-4.9-1.6z"/>
<path fill="#ff6700" d="M479.9 73.1l7.5 3.4l4.8-2.5l-7.5-3.4z"/>
<path fill="#ff6100" d="M518.3 67.8l4.6 1.5l4.6-2.6l-4.6-1.4z"/>
<path fill="#661c00" d="M636.6 93.1l5.1 1.4l1.7 5.2l-5.1-0.8z"/>
<path fill="#ff6a00" d="M462.1 75.9l7.3 3.7l4.9-2.5l-7.3-3.7z"/>
<path fill="#662000" d="M646.4 99.1l5.3 0.1l1.6 4.6l-5.4 1.1z"/>
<path fill="#ff6c00" d="M444.1 78.4l7.1 4.1l3.6-1.9l-7.1-4z"/>
<path fill="#f86100" d="M562.2 62.4l5 1.5l3.5-1.2l-5-1.7z"/>
<path fill="#fe6000" d="M525.2 66.9l4.7 1.4l4.6-2.5l-4.7-1.4z"/>
<path fill="#661b00" d="M626.8 85.9l5.2 2.2l2 5.1l-5.2-2z"/>
<path fill="#fd6000" d="M532.1 66.1l4.8 1.3l4.6-2.5l-4.7-1.3z"/>
<path fill="#f56100" d="M568.1 62.7l4.9 1.6l3.5-1.1l-4.9-1.7z"/>
<path fill="#ff6400" d="M493.8 72.1l7.7 2.9l4.8-2.5l-7.7-3z"/>
<path fill="#ff6c00" d="M442.1 79.4l7.1 4.2l3-1.6l-7.2-4.1z"/>
<path fill="#ff6200" d="M507.7 70.6l4.6 1.6l4.7-2.6l-4.6-1.5z"/>
<path fill="#fd6000" d="M539.1 65.2l4.8 1.3l4.6-2.3l-4.8-1.4z"/>
<path fill="#d35900" d="M591.7 66.4l4.9 2.3l3.3 0.8l-4.8-2.5z"/>
<path fill="#f16100" d="M574 63.2l4.9 1.7l3.5-0.8l-5-1.8z"/>
<path fill="#fc6000" d="M546 64.4l4.9 1.4l4.6-2.2l-4.8-1.5z"/>
<path fill="#ea5f00" d="M579.9 63.9l4.9 1.9l3.5-0.4l-5-2.1z"/>
<path fill="#e05d00" d="M585.8 64.9l4.9 2.1l3.4 0.1l-4.9-2.2z"/>
<path fill="#ff6700" d="M476.1 75.1l7.5 3.4l4.8-2.5l-7.5-3.4z"/>
<path fill="#fb6100" d="M553 63.8l4.9 1.4l4.7-2l-5-1.5z"/>
<path fill="#ff6a00" d="M458.2 77.9l7.3 3.8l4.9-2.6l-7.3-3.7z"/>
<path fill="#ff6100" d="M514.7 69.8l4.6 1.4l4.7-2.5l-4.6-1.5z"/>
<path fill="#f96100" d="M560 63.3l4.9 1.5l3.5-1.4l-4.9-1.5z"/>
<path fill="#ff6c00" d="M440.1 80.4l7.1 4.3l2.9-1.6l-7.1-4.2z"/>
<path fill="#661d00" d="M640.7 94.3l5.2 1.2l1.8 4.6l-5.3-0.5z"/>
<path fill="#fe6000" d="M521.7 68.9l4.6 1.4l4.7-2.6l-4.7-1.4z"/>
<path fill="#661b00" d="M630.8 87.7l5.3 2.1l1.9 4.7l-5.2-1.8z"/>
<path fill="#f76100" d="M565.9 63.5l4.9 1.6l3.5-1.3l-4.9-1.6z"/>
<path fill="#ff6d00" d="M438.1 81.5l7.1 4.3l2.9-1.6l-7.1-4.2z"/>
<path fill="#fd6000" d="M528.6 68l4.7 1.3l4.7-2.5l-4.7-1.4z"/>
<path fill="#ff6400" d="M490.1 74.1l7.7 3l4.8-2.6l-7.7-3z"/>
<path fill="#ff6200" d="M504.1 72.6l4.5 1.6l4.7-2.6l-4.5-1.5z"/>
<path fill="#f46100" d="M571.8 63.8l5 1.7l3.5-1l-5-1.8z"/>
<path fill="#ff6a00" d="M455.6 79.2l7.3 3.9l3.6-1.9l-7.3-3.8z"/>
<path fill="#d05800" d="M595.5 67.9l4.9 2.4l3.4 0.9l-4.9-2.6z"/>
<path fill="#ff6700" d="M472.3 77.1l7.5 3.5l4.8-2.6l-7.5-3.4z"/>
<path fill="#fd6000" d="M535.6 67l4.8 1.4l4.6-2.5l-4.7-1.3z"/>
<path fill="#f06000" d="M577.7 64.4l5 1.8l3.5-0.8l-5-1.8z"/>
<path fill="#ff6d00" d="M436 82.5l7.1 4.4l3-1.6l-7.1-4.3z"/>
<path fill="#de5c00" d="M589.6 66.3l4.9 2.2l3.5 0.1l-5-2.2z"/>
<path fill="#e85f00" d="M583.6 65.2l5 1.9l3.5-0.3l-5-2.1z"/>
<path fill="#fc6000" d="M542.6 66.2l4.8 1.3l4.7-2.3l-4.9-1.4z"/>
<path fill="#ff6100" d="M511.1 71.8l4.5 1.5l4.8-2.7l-4.6-1.4z"/>
<path fill="#fc6000" d="M549.6 65.4l4.9 1.4l4.7-2.2l-5-1.4z"/>
<path fill="#fa6100" d="M556.6 64.8l5 1.5l4.6-2l-5-1.5z"/>
<path fill="#ff6a00" d="M452.9 80.6l7.3 3.9l3.6-1.9l-7.2-3.9z"/>
<path fill="#661b00" d="M634.9 89.3l5.3 2l2 4.3l-5.3-1.5z"/>
<path fill="#f96100" d="M563.6 64.4l5 1.5l3.5-1.3l-5-1.6z"/>
<path fill="#fe6000" d="M518.1 70.9l4.6 1.4l4.7-2.6l-4.6-1.4z"/>
<path fill="#661e00" d="M644.9 95.3l5.3 1.1l1.9 3.7l-5.4-0.1z"/>
<path fill="#ff6400" d="M486.3 76.1l7.7 3l4.8-2.6l-7.7-3z"/>
<path fill="#f76100" d="M569.6 64.6l5 1.7l3.5-1.3l-5.1-1.6z"/>
<path fill="#fe6000" d="M525.1 69.9l4.7 1.4l4.7-2.6l-4.7-1.3z"/>
<path fill="#ff6200" d="M500.4 74.6l4.5 1.6l4.7-2.6l-4.4-1.6z"/>
<path fill="#ff6700" d="M468.4 79.2l7.5 3.5l4.9-2.6l-7.5-3.5z"/>
<path fill="#cd5700" d="M599.4 69.4l4.9 2.5l3.3 1l-4.8-2.6z"/>
<path fill="#ff6a00" d="M450.3 82l7.3 4l3.6-2l-7.3-3.9z"/>
<path fill="#f36100" d="M575.5 65l5 1.7l3.5-0.9l-5-1.8z"/>
<path fill="#fd5f00" d="M532.1 69l4.8 1.3l4.6-2.5l-4.7-1.4z"/>
<path fill="#dc5c00" d="M593.4 67.7l5 2.3l3.4 0.2l-5-2.3z"/>
<path fill="#ee6000" d="M581.5 65.6l5 1.9l3.5-0.7l-5.1-1.9z"/>
<path fill="#ff6100" d="M507.4 73.8l4.6 1.5l4.7-2.6l-4.5-1.5z"/>
<path fill="#e75e00" d="M587.4 66.5l5.1 2l3.4-0.2l-5-2.2z"/>
<path fill="#fd6000" d="M539.1 68l4.9 1.4l4.6-2.5l-4.8-1.3z"/>
<path fill="#661b00" d="M609.3 73.5l5.3 2.1l2.7 2.6l-5.3-2.1z"/>
<path fill="#fc6000" d="M546.2 67.2l4.8 1.4l4.7-2.4l-4.9-1.4z"/>
<path fill="#661c00" d="M639 90.9l5.3 1.9l2.2 3.8l-5.4-1.3z"/>
<path fill="#ff6b00" d="M448.3 83.1l7.3 4.1l2.9-1.7l-7.3-4z"/>
<path fill="#fb6000" d="M553.2 66.4l5 1.5l4.6-2.2l-4.9-1.5z"/>
<path fill="#fa6100" d="M560.3 65.9l5 1.5l4.6-2l-5-1.5z"/>
<path fill="#fe6000" d="M514.4 72.9l4.7 1.4l4.7-2.6l-4.6-1.4z"/>
<path fill="#f86100" d="M567.3 65.5l5.1 1.6l3.5-1.4l-5.1-1.6z"/>
<path fill="#ff6400" d="M482.5 78.1l7.7 3.1l4.8-2.6l-7.6-3.1z"/>
<path fill="#ff6700" d="M464.5 81.2l7.4 3.6l5-2.7l-7.5-3.5z"/>
<path fill="#ff6200" d="M496.7 76.7l4.4 1.6l4.8-2.7l-4.4-1.5z"/>
<path fill="#fe5f00" d="M521.5 71.9l4.7 1.4l4.7-2.6l-4.7-1.4z"/>
<path fill="#ff6b00" d="M446.3 84.2l7.2 4.2l3-1.8l-7.3-4z"/>
<path fill="#661b00" d="M603.3 71l5.3 1.8l2.9 1.9l-5.2-1.9z"/>
<path fill="#f66100" d="M573.3 65.8l5 1.7l3.5-1.2l-5-1.7z"/>
<path fill="#fd5f00" d="M528.5 70.9l4.8 1.4l4.7-2.6l-4.8-1.4z"/>
<path fill="#f26100" d="M579.3 66.2l5 1.8l3.5-0.9l-5-1.9z"/>
<path fill="#da5b00" d="M597.3 69.2l5 2.3l3.4 0.4l-5-2.4z"/>
<path fill="#ff6100" d="M503.7 75.8l4.6 1.5l4.7-2.6l-4.5-1.5z"/>
<path fill="#ff6c00" d="M444.3 85.3l7.2 4.3l2.9-1.8l-7.2-4.1z"/>
<path fill="#ed6000" d="M585.3 66.9l5 1.9l3.5-0.6l-5.1-2z"/>
<path fill="#e55e00" d="M591.3 67.8l5 2.2l3.5-0.2l-5.1-2.2z"/>
<path fill="#fd5f00" d="M535.6 69.9l4.8 1.4l4.7-2.5l-4.8-1.4z"/>
<path fill="#661b00" d="M633.1 86.6l5.4 2.3l2.4 3.6l-5.5-2z"/>
<path fill="#661c00" d="M643 92.4l5.5 1.8l2.4 3.2l-5.6-1.1z"/>
<path fill="#ff6700" d="M461.9 82.6l7.4 3.6l3.6-2l-7.4-3.5z"/>
<path fill="#fe6000" d="M510.8 74.9l4.6 1.5l4.8-2.7l-4.7-1.4z"/>
<path fill="#fc5f00" d="M542.7 69l4.9 1.4l4.6-2.5l-4.9-1.3z"/>
<path fill="#ff6400" d="M478.7 80.1l7.6 3.2l4.9-2.6l-7.6-3.2z"/>
<path fill="#ff6d00" d="M442.3 86.4l7.2 4.4l2.9-1.8l-7.2-4.2z"/>
<path fill="#fc6000" d="M549.8 68.2l4.9 1.4l4.7-2.3l-5-1.4z"/>
<path fill="#fa6100" d="M563.9 67l5.1 1.5l4.6-1.9l-5-1.6z"/>
<path fill="#fb6000" d="M556.8 67.5l5 1.4l4.7-2.1l-5-1.5z"/>
<path fill="#ff6200" d="M492.9 78.7l4.5 1.7l4.8-2.7l-4.5-1.6z"/>
<path fill="#661b00" d="M607.2 72.7l5.4 1.9l2.9 2l-5.3-2z"/>
<path fill="#f86100" d="M571.1 66.7l5 1.6l3.5-1.3l-5-1.7z"/>
<path fill="#fe5f00" d="M517.9 73.9l4.6 1.4l4.8-2.6l-4.7-1.4z"/>
<path fill="#ff6800" d="M459.2 84l7.5 3.7l3.6-2l-7.4-3.6z"/>
<path fill="#f56100" d="M577.1 67l5.1 1.7l3.4-1.1l-5-1.8z"/>
<path fill="#ff6100" d="M500 77.9l4.5 1.5l4.8-2.6l-4.5-1.6z"/>
<path fill="#d85b00" d="M601.2 70.7l5 2.5l3.4 0.4l-5-2.5z"/>
<path fill="#fd5f00" d="M525 72.9l4.7 1.4l4.7-2.7l-4.7-1.3z"/>
<path fill="#f26100" d="M583.1 67.5l5.1 1.8l3.5-0.9l-5.1-1.9z"/>
<path fill="#661b00" d="M637.2 88.5l5.4 2.3l2.5 3.1l-5.5-1.8z"/>
<path fill="#e35e00" d="M595.1 69.3l5.1 2.2l3.5-0.1l-5.1-2.3z"/>
<path fill="#ec6000" d="M589.1 68.2l5.1 2l3.5-0.5l-5.1-2.1z"/>
<path fill="#fd5f00" d="M532.1 71.9l4.8 1.3l4.7-2.5l-4.9-1.4z"/>
<path fill="#fe6000" d="M507.1 77l4.6 1.4l4.8-2.7l-4.6-1.4z"/>
<path fill="#ff6500" d="M474.8 82.2l7.6 3.2l4.9-2.6l-7.6-3.2z"/>
<path fill="#ff6800" d="M456.6 85.5l7.4 3.8l3.6-2.1l-7.4-3.7z"/>
<path fill="#fd5f00" d="M539.2 70.9l4.8 1.4l4.7-2.5l-4.9-1.4z"/>
<path fill="#ff6200" d="M489.1 80.8l4.4 1.7l4.9-2.7l-4.5-1.7z"/>
<path fill="#661b00" d="M611.2 74.5l5.4 2l2.9 2l-5.4-2.1z"/>
<path fill="#fc6000" d="M546.3 70l4.9 1.4l4.7-2.4l-4.9-1.4z"/>
<path fill="#fe5f00" d="M514.2 76l4.7 1.4l4.7-2.7l-4.6-1.4z"/>
<path fill="#f96100" d="M567.7 68.1l5.1 1.5l4.6-1.9l-5.1-1.6z"/>
<path fill="#fc6000" d="M553.4 69.2l5 1.4l4.7-2.2l-5-1.5z"/>
<path fill="#fb6100" d="M560.5 68.6l5.1 1.5l4.6-2.2l-5-1.5z"/>
<path fill="#f76100" d="M574.8 67.8l5.2 1.7l3.5-1.3l-5.2-1.7z"/>
<path fill="#661b00" d="M621.3 79.2l5.3 2.4l2.7 2.5l-5.4-2.3z"/>
<path fill="#ff6900" d="M454.6 86.7l7.4 3.9l2.9-1.8l-7.4-3.8z"/>
<path fill="#ff6100" d="M496.2 80l4.5 1.5l4.9-2.7l-4.5-1.5z"/>
<path fill="#d75b00" d="M605.1 72.3l5.1 2.6l3.4 0.5l-5.1-2.6z"/>
<path fill="#661b00" d="M631.3 84.7l5.4 2.5l2.5 2.8l-5.4-2.2z"/>
<path fill="#fd5f00" d="M521.3 75l4.7 1.3l4.8-2.7l-4.7-1.3z"/>
<path fill="#661b00" d="M641.3 90.4l5.5 2.2l2.6 2.6l-5.6-1.6z"/>
<path fill="#f56100" d="M580.9 68.2l5.1 1.8l3.5-1.1l-5.1-1.8z"/>
<path fill="#e25f00" d="M599.1 70.7l5.1 2.4l3.4-0.1l-5.1-2.3z"/>
<path fill="#f16100" d="M586.9 68.8l5.2 1.9l3.5-0.9l-5.2-1.9z"/>
<path fill="#eb6000" d="M593 69.6l5.1 2.1l3.5-0.5l-5.1-2.2z"/>
<path fill="#ff6500" d="M470.9 84.3l7.6 3.3l4.9-2.7l-7.6-3.2z"/>
<path fill="#ff6a00" d="M452.6 87.8l7.4 4.1l2.9-1.9l-7.4-3.9z"/>
<path fill="#fd5f00" d="M528.5 73.9l4.7 1.4l4.8-2.7l-4.8-1.3z"/>
<path fill="#fe6000" d="M503.3 79l4.6 1.5l4.9-2.7l-4.6-1.4z"/>
<path fill="#661b00" d="M615.2 76.3l5.4 2.2l2.9 2l-5.4-2.2z"/>
<path fill="#ff6200" d="M485.2 82.9l4.5 1.7l4.9-2.7l-4.5-1.7z"/>
<path fill="#fd5f00" d="M535.6 72.9l4.9 1.3l4.7-2.5l-4.9-1.4z"/>
<path fill="#ff6b00" d="M450.6 89.1l7.4 4.2l2.8-2l-7.3-4z"/>
<path fill="#fe5f00" d="M510.5 78.1l4.6 1.4l4.8-2.7l-4.6-1.4z"/>
<path fill="#fd5f00" d="M542.8 71.9l4.9 1.4l4.7-2.5l-4.9-1.4z"/>
<path fill="#661b00" d="M635.4 86.8l5.4 2.6l2.6 2.4l-5.5-2.1z"/>
<path fill="#ff6100" d="M492.4 82l4.5 1.7l4.9-2.8l-4.5-1.5z"/>
<path fill="#d65c00" d="M609.1 74.1l5.1 2.7l3.4 0.6l-5.1-2.8z"/>
<path fill="#f96100" d="M571.5 69.2l5.1 1.6l4.6-1.8l-5.1-1.7z"/>
<path fill="#fc6000" d="M549.9 71l5 1.5l4.7-2.5l-5-1.4z"/>
<path fill="#f76200" d="M578.7 69l5.1 1.7l3.5-1.2l-5.1-1.8z"/>
<path fill="#fc6000" d="M557.1 70.3l5 1.4l4.7-2.2l-5-1.5z"/>
<path fill="#fb6100" d="M564.3 69.7l5.1 1.5l4.6-2.1l-5.1-1.6z"/>
<path fill="#ff6500" d="M468.3 85.8l7.6 3.3l3.6-2l-7.6-3.3z"/>
<path fill="#ff6c00" d="M448.6 90.3l7.4 4.4l2.8-2l-7.3-4.2z"/>
<path fill="#fd5f00" d="M517.7 77l4.7 1.4l4.7-2.7l-4.7-1.4z"/>
<path fill="#f46200" d="M584.7 69.5l5.2 1.8l3.5-1.1l-5.2-1.8z"/>
<path fill="#e15f00" d="M603 72.3l5.2 2.5l3.4 0l-5.1-2.5z"/>
<path fill="#f06200" d="M590.8 70.1l5.2 2l3.5-0.8l-5.2-2z"/>
<path fill="#ea6100" d="M596.9 71l5.2 2.2l3.5-0.4l-5.2-2.2z"/>
<path fill="#fe6000" d="M499.6 81.1l4.5 1.6l4.9-2.8l-4.6-1.5z"/>
<path fill="#ca5900" d="M619.3 78.3l5 3.1l3.2 1.2l-5-3.1z"/>
<path fill="#fd5f00" d="M524.8 76l4.8 1.3l4.8-2.7l-4.8-1.3z"/>
<path fill="#ff6300" d="M481.4 85l4.4 1.7l4.9-2.7l-4.4-1.7z"/>
<path fill="#ff6500" d="M465.7 87.3l7.5 3.4l3.6-2.1l-7.5-3.4z"/>
<path fill="#661b00" d="M639.5 89l5.5 2.5l2.7 2.1l-5.6-2.1z"/>
<path fill="#fd5f00" d="M532 74.9l4.8 1.4l4.8-2.7l-4.9-1.3z"/>
<path fill="#fe5f00" d="M506.8 80.2l4.6 1.4l4.8-2.7l-4.6-1.4z"/>
<path fill="#d55d00" d="M613.2 75.9l5.1 2.8l3.3 0.7l-5.1-2.9z"/>
<path fill="#ff6100" d="M488.6 84.2l4.4 1.6l4.9-2.7l-4.4-1.6z"/>
<path fill="#fd5f00" d="M539.2 73.9l4.9 1.4l4.7-2.6l-4.9-1.4z"/>
<path fill="#fd6000" d="M546.4 72.9l5 1.4l4.6-2.5l-4.9-1.4z"/>
<path fill="#fd5f00" d="M513.9 79.1l4.7 1.4l4.9-2.7l-4.7-1.4z"/>
<path fill="#f96200" d="M575.3 70.4l5.2 1.7l4.6-1.9l-5.2-1.7z"/>
<path fill="#f66200" d="M582.5 70.3l5.2 1.7l3.5-1.2l-5.2-1.8z"/>
<path fill="#f60" d="M463 88.8l7.5 3.7l3.6-2.4l-7.5-3.4z"/>
<path fill="#e06000" d="M607 74l5.2 2.6l3.4 0.1l-5.1-2.7z"/>
<path fill="#cb5a00" d="M623.3 80.4l5.1 3.3l3.2 1l-5-3.1z"/>
<path fill="#fc6000" d="M553.6 72.1l5 1.4l4.7-2.4l-5-1.4z"/>
<path fill="#fa6100" d="M568.1 70.8l5.1 1.6l4.6-2.1l-5.1-1.6z"/>
<path fill="#fc6100" d="M560.9 71.4l5 1.5l4.7-2.3l-5.1-1.5z"/>
<path fill="#fe6000" d="M495.8 83.3l4.5 1.5l4.9-2.7l-4.6-1.6z"/>
<path fill="#f46200" d="M588.6 70.8l5.3 1.9l3.4-1l-5.2-2z"/>
<path fill="#e96100" d="M600.9 72.6l5.2 2.3l3.5-0.4l-5.2-2.3z"/>
<path fill="#ff6300" d="M477.4 87.2l4.4 1.7l5-2.7l-4.4-1.8z"/>
<path fill="#661b00" d="M633.5 85.8l5.5 2.6l0.5 0.7l-3.3-1.1z"/>
<path fill="#ef6200" d="M594.8 71.5l5.2 2.1l3.5-0.7l-5.2-2.2z"/>
<path fill="#fd5f00" d="M521.2 78.1l4.7 1.3l4.8-2.7l-4.8-1.4z"/>
<path fill="#ff6700" d="M461.1 90.1l7.5 3.8l2.8-2l-7.5-3.6z"/>
<path fill="#fe5f00" d="M503 82.3l4.6 1.5l4.9-2.8l-4.7-1.4z"/>
<path fill="#d65e00" d="M617.2 77.8l5.1 3.1l3.4 0.6l-5.1-3z"/>
<path fill="#fd5f00" d="M528.4 77l4.8 1.3l4.7-2.7l-4.8-1.3z"/>
<path fill="#ff6100" d="M484.7 86.3l4.4 1.7l5-2.8l-4.5-1.6z"/>
<path fill="#ff6800" d="M459.1 91.4l7.5 4l2.8-2.1l-7.5-3.8z"/>
<path fill="#ce5d00" d="M627.4 82.7l5.1 3.4l3.3 0.9l-5.1-3.3z"/>
<path fill="#fd5f00" d="M535.6 75.9l4.9 1.4l4.7-2.7l-4.9-1.3z"/>
<path fill="#ff6300" d="M474.8 88.7l4.4 1.8l3.6-2.1l-4.4-1.8z"/>
<path fill="#e06100" d="M611.1 75.8l5.2 2.7l3.4 0.2l-5.2-2.8z"/>
<path fill="#fd5f00" d="M510.2 81.2l4.7 1.5l4.8-2.8l-4.7-1.4z"/>
<path fill="#ce5c00" d="M637.6 88.2l5.2 3.5l3.2 0.7l-5.2-3.1z"/>
<path fill="#fd5f00" d="M542.9 74.9l4.9 1.4l4.7-2.6l-4.9-1.4z"/>
<path fill="#ff6000" d="M491.9 85.4l4.5 1.6l5-2.8l-4.6-1.5z"/>
<path fill="#f66300" d="M586.4 71.6l5.3 1.8l3.5-1.2l-5.3-1.9z"/>
<path fill="#f96200" d="M579.2 71.6l5.2 1.7l4.6-1.8l-5.2-1.7z"/>
<path fill="#ff6900" d="M457.1 92.8l7.5 4.2l2.7-2.2l-7.4-3.9z"/>
<path fill="#e86200" d="M604.9 74.2l5.3 2.5l3.4-0.3l-5.2-2.5z"/>
<path fill="#fd6000" d="M550.1 74l5 1.4l4.7-2.5l-5-1.4z"/>
<path fill="#f36300" d="M592.6 72.2l5.2 2l3.5-1l-5.2-2z"/>
<path fill="#ef6300" d="M598.8 73l5.2 2.2l3.5-0.6l-5.3-2.3z"/>
<path fill="#fa6200" d="M571.9 72l5.2 1.6l4.6-2.1l-5.2-1.6z"/>
<path fill="#fc6000" d="M557.4 73.2l5 1.5l4.7-2.4l-5.1-1.5z"/>
<path fill="#fd5f00" d="M517.4 80.2l4.8 1.4l4.8-2.8l-4.7-1.4z"/>
<path fill="#fc6100" d="M564.6 72.5l5.1 1.5l4.7-2.2l-5.1-1.6z"/>
<path fill="#d76000" d="M621.3 80l5.2 3.2l3.3 0.5l-5.1-3.1z"/>
<path fill="#ff6a00" d="M455.1 94.2l7.5 4.4l2.7-2.3l-7.4-4.1z"/>
<path fill="#ff6400" d="M472.2 90.3l4.3 1.8l3.6-2.2l-4.3-1.8z"/>
<path fill="#fe5f00" d="M499.2 84.4l4.6 1.5l4.9-2.7l-4.7-1.5z"/>
<path fill="#ff6200" d="M480.7 88.5l4.5 1.7l4.9-2.8l-4.4-1.6z"/>
<path fill="#d36000" d="M631.6 85.1l5.1 3.5l3.2 0.7l-5.1-3.3z"/>
<path fill="#fd5f00" d="M524.7 79.1l4.8 1.3l4.8-2.7l-4.8-1.4z"/>
<path fill="#e06200" d="M615.2 77.7l5.2 3l3.3 0.1l-5.1-2.9z"/>
<path fill="#fd5f00" d="M532 78l4.8 1.4l4.8-2.7l-4.9-1.4z"/>
<path fill="#fd5f00" d="M506.4 83.4l4.7 1.4l4.9-2.8l-4.7-1.4z"/>
<path fill="#ff6100" d="M488 87.6l4.5 1.6l5-2.8l-4.5-1.6z"/>
<path fill="#ff6400" d="M469.6 92l4.3 2l3.5-2.5l-4.3-1.8z"/>
<path fill="#e76400" d="M609 75.9l5.2 2.7l3.5-0.2l-5.3-2.7z"/>
<path fill="#fd5f00" d="M539.3 76.9l4.9 1.4l4.7-2.6l-4.9-1.4z"/>
<path fill="#d96200" d="M625.4 82.3l5.2 3.4l3.3 0.4l-5.1-3.3z"/>
<path fill="#f66300" d="M590.4 72.9l5.3 2l3.5-1.2l-5.3-2z"/>
<path fill="#f86300" d="M583.1 72.9l5.2 1.8l4.7-1.8l-5.3-1.8z"/>
<path fill="#ee6400" d="M602.8 74.6l5.3 2.4l3.4-0.6l-5.2-2.4z"/>
<path fill="#f36400" d="M596.6 73.6l5.3 2.1l3.4-0.8l-5.2-2.2z"/>
<path fill="#ff6200" d="M478.1 90.1l4.4 1.7l3.7-2.1l-4.5-1.7z"/>
<path fill="#fd5f00" d="M513.7 82.3l4.7 1.4l4.9-2.8l-4.8-1.4z"/>
<path fill="#d86300" d="M635.7 87.7l5.2 3.7l3.3 0.3l-5.3-3.3z"/>
<path fill="#fd6000" d="M546.6 76l4.9 1.4l4.7-2.6l-4.9-1.4z"/>
<path fill="#fa6200" d="M575.8 73.2l5.2 1.6l4.6-2l-5.2-1.7z"/>
<path fill="#ff6500" d="M467.6 93.4l4.3 2l2.8-2.1l-4.2-1.9z"/>
<path fill="#fd6000" d="M553.9 75.1l5 1.5l4.7-2.5l-5.1-1.5z"/>
<path fill="#fe6000" d="M495.3 86.6l4.6 1.6l4.9-2.9l-4.6-1.5z"/>
<path fill="#fc6100" d="M568.5 73.6l5.1 1.6l4.7-2.2l-5.2-1.6z"/>
<path fill="#fc6100" d="M561.2 74.3l5 1.5l4.7-2.4l-5.1-1.5z"/>
<path fill="#e06400" d="M619.3 79.8l5.2 3.2l3.4 0.2l-5.2-3.2z"/>
<path fill="#fd5f00" d="M521 81.2l4.8 1.4l4.8-2.8l-4.8-1.4z"/>
<path fill="#f60" d="M465.7 94.9l4.2 2.2l2.8-2.3l-4.2-2z"/>
<path fill="#ff6300" d="M475.5 91.7l4.4 1.8l3.6-2.3l-4.4-1.7z"/>
<path fill="#fe5f00" d="M502.6 85.6l4.6 1.4l4.9-2.8l-4.6-1.4z"/>
<path fill="#dc6500" d="M629.6 84.8l5.2 3.6l3.3 0.3l-5.2-3.5z"/>
<path fill="#ff6100" d="M484.1 89.8l4.5 1.7l4.9-2.9l-4.5-1.6z"/>
<path fill="#fd5f00" d="M528.3 80.1l4.8 1.4l4.8-2.8l-4.8-1.3z"/>
<path fill="#e76500" d="M613.1 77.9l5.2 2.8l3.4-0.2l-5.2-2.9z"/>
<path fill="#ff6700" d="M463.7 96.5l4.2 2.3l2.8-2.4l-4.2-2.1z"/>
<path fill="#e60" d="M606.8 76.3l5.3 2.6l3.5-0.5l-5.3-2.7z"/>
<path fill="#fd5f00" d="M535.6 79l4.9 1.4l4.8-2.7l-4.9-1.4z"/>
<path fill="#f66400" d="M594.4 74.3l5.3 2.1l3.5-1.1l-5.3-2.1z"/>
<path fill="#f26500" d="M600.6 75.2l5.3 2.3l3.5-0.9l-5.3-2.3z"/>
<path fill="#fd5f00" d="M509.9 84.5l4.7 1.4l4.9-2.8l-4.7-1.4z"/>
<path fill="#f86400" d="M587 74.2l5.3 1.9l4.7-1.7l-5.3-2z"/>
<path fill="#ff6300" d="M472.9 93.5l4.3 1.9l3.6-2.5l-4.4-1.8z"/>
<path fill="#ff6900" d="M461.7 98.1l4.2 2.5l2.7-2.5l-4.1-2.2z"/>
<path fill="#fe6000" d="M491.4 88.8l4.6 1.6l4.9-2.8l-4.6-1.6z"/>
<path fill="#e16700" d="M623.4 82.2l5.2 3.4l3.4 0l-5.2-3.3z"/>
<path fill="#fd6000" d="M543 78l4.9 1.4l4.7-2.6l-4.9-1.5z"/>
<path fill="#fa6300" d="M579.7 74.4l5.2 1.8l4.7-2l-5.3-1.8z"/>
<path fill="#e06900" d="M633.7 87.5l5.3 3.8l3.3 0l-5.3-3.5z"/>
<path fill="#fd6000" d="M550.3 77l5 1.5l4.7-2.6l-5-1.4z"/>
<path fill="#fd5f00" d="M517.2 83.4l4.8 1.4l4.8-2.8l-4.7-1.4z"/>
<path fill="#ff6100" d="M481.5 91.4l4.4 1.7l3.7-2.2l-4.5-1.7z"/>
<path fill="#fc6200" d="M572.4 74.8l5.1 1.7l4.7-2.2l-5.2-1.7z"/>
<path fill="#fd6100" d="M557.7 76.2l5 1.5l4.7-2.5l-5.1-1.5z"/>
<path fill="#fc6100" d="M565 75.4l5.1 1.6l4.7-2.3l-5.1-1.6z"/>
<path fill="#ff6400" d="M471 95l4.3 2l2.7-2.2l-4.2-1.9z"/>
<path fill="#e76800" d="M617.2 80l5.3 3.1l3.4-0.2l-5.3-3.1z"/>
<path fill="#fe5f00" d="M498.7 87.8l4.7 1.5l4.9-2.9l-4.6-1.4z"/>
<path fill="#fd5f00" d="M524.6 82.2l4.8 1.5l4.8-2.8l-4.8-1.4z"/>
<path fill="#ed6800" d="M610.9 78.2l5.4 2.8l3.4-0.5l-5.3-2.8z"/>
<path fill="#ff6500" d="M469 96.6l4.3 2.1l2.7-2.3l-4.2-2z"/>
<path fill="#e36a00" d="M627.6 84.7l5.2 3.7l3.4-0.1l-5.3-3.5z"/>
<path fill="#ff6200" d="M478.9 93.1l4.4 1.8l3.6-2.4l-4.5-1.7z"/>
<path fill="#f26700" d="M604.7 76.9l5.3 2.4l3.5-0.7l-5.3-2.6z"/>
<path fill="#fd5f00" d="M506.1 86.7l4.7 1.5l4.9-2.9l-4.7-1.4z"/>
<path fill="#f66600" d="M598.4 75.9l5.4 2.2l3.4-1l-5.3-2.3z"/>
<path fill="#fd5f00" d="M531.9 81.1l4.9 1.5l4.8-2.8l-4.9-1.4z"/>
<path fill="#ff6000" d="M487.5 91.1l4.5 1.6l5-2.9l-4.6-1.6z"/>
<path fill="#f60" d="M467.1 98.3l4.2 2.3l2.7-2.5l-4.2-2.1z"/>
<path fill="#f86500" d="M591 75.6l5.4 2l4.6-1.7l-5.3-2z"/>
<path fill="#fd5f00" d="M539.3 80.1l4.9 1.4l4.8-2.7l-4.9-1.4z"/>
<path fill="#e86a00" d="M621.3 82.3l5.3 3.3l3.4-0.2l-5.3-3.3z"/>
<path fill="#fd5f00" d="M513.4 85.6l4.8 1.4l4.9-2.8l-4.8-1.5z"/>
<path fill="#ff6700" d="M465.1 100.1l4.2 2.4l2.7-2.6l-4.2-2.2z"/>
<path fill="#fb6400" d="M583.7 75.7l5.2 1.9l4.7-2l-5.3-1.9z"/>
<path fill="#fd6000" d="M546.7 79.1l5 1.5l4.7-2.7l-5-1.5z"/>
<path fill="#ff6200" d="M476.3 95l4.3 1.9l3.5-2.7l-4.3-1.7z"/>
<path fill="#fe5f00" d="M494.8 90l4.6 1.6l5-2.9l-4.6-1.5z"/>
<path fill="#e66d00" d="M631.7 87.5l5.3 3.9l3.3-0.2l-5.2-3.7z"/>
<path fill="#fd6100" d="M554.1 78.2l5 1.5l4.7-2.6l-5-1.5z"/>
<path fill="#fc6300" d="M576.3 76.1l5.2 1.7l4.6-2.2l-5.2-1.7z"/>
<path fill="#fd6100" d="M561.5 77.3l5.1 1.6l4.6-2.5l-5-1.5z"/>
<path fill="#fd6200" d="M568.9 76.6l5.1 1.7l4.7-2.4l-5.2-1.6z"/>
<path fill="#ed6a00" d="M615.1 80.3l5.3 3l3.4-0.4l-5.3-3.1z"/>
<path fill="#fd5f00" d="M520.8 84.4l4.8 1.5l4.9-2.9l-4.8-1.4z"/>
<path fill="#ff6000" d="M484.8 92.7l4.6 1.7l3.6-2.3l-4.5-1.6z"/>
<path fill="#ff6300" d="M474.3 96.6l4.4 1.9l2.7-2.3l-4.3-1.8z"/>
<path fill="#f26900" d="M608.8 78.7l5.3 2.7l3.5-0.7l-5.3-2.8z"/>
<path fill="#fe5f00" d="M502.2 88.9l4.7 1.5l4.9-2.9l-4.7-1.4z"/>
<path fill="#f56700" d="M602.5 77.5l5.4 2.4l3.4-0.9l-5.3-2.5z"/>
<path fill="#e96d00" d="M625.5 84.8l5.3 3.7l3.4-0.3l-5.3-3.5z"/>
<path fill="#fd5f00" d="M528.2 83.3l4.9 1.5l4.8-2.8l-4.9-1.5z"/>
<path fill="#ff6400" d="M472.4 98.3l4.3 2.1l2.7-2.5l-4.3-2z"/>
<path fill="#f86600" d="M595.1 77.1l5.3 2.2l4.6-1.6l-5.3-2.2z"/>
<path fill="#fe5f00" d="M535.6 82.2l4.9 1.5l4.8-2.8l-4.9-1.4z"/>
<path fill="#ff6100" d="M482.2 94.5l4.5 1.7l3.6-2.5l-4.5-1.6z"/>
<path fill="#fd5f00" d="M509.6 87.8l4.7 1.5l4.9-2.9l-4.7-1.5z"/>
<path fill="#fe6000" d="M490.9 92.3l4.6 1.6l5-2.9l-4.6-1.6z"/>
<path fill="#ff6500" d="M470.5 100.1l4.2 2.3l2.7-2.7l-4.3-2z"/>
<path fill="#ed6c00" d="M619.2 82.6l5.4 3.3l3.4-0.4l-5.3-3.4z"/>
<path fill="#fb6500" d="M587.7 77.1l5.3 2l4.6-2l-5.3-2z"/>
<path fill="#fe6000" d="M543.1 81.2l4.9 1.5l4.8-2.7l-5-1.5z"/>
<path fill="#f60" d="M468.5 102l4.2 2.5l2.7-2.8l-4.2-2.2z"/>
<path fill="#eb7000" d="M629.7 87.7l5.3 4l3.3-0.4l-5.2-3.9z"/>
<path fill="#fe6100" d="M550.5 80.2l5 1.6l4.7-2.7l-5-1.5z"/>
<path fill="#fc6300" d="M580.3 77.4l5.2 1.8l4.6-2.2l-5.2-1.8z"/>
<path fill="#fd5f00" d="M517 86.7l4.8 1.4l4.9-2.8l-4.8-1.5z"/>
<path fill="#f16b00" d="M612.9 80.7l5.4 3l3.5-0.6l-5.4-3.1z"/>
<path fill="#fe6100" d="M557.9 79.3l5.1 1.6l4.7-2.6l-5.1-1.6z"/>
<path fill="#fd6300" d="M572.8 77.9l5.2 1.7l4.6-2.3l-5.1-1.8z"/>
<path fill="#fd6200" d="M565.4 78.6l5.1 1.6l4.6-2.5l-5.1-1.6z"/>
<path fill="#ff6200" d="M479.7 96.5l4.4 1.8l3.4-2.7l-4.3-1.7z"/>
<path fill="#fe5f00" d="M498.3 91.2l4.7 1.6l4.9-3l-4.6-1.5z"/>
<path fill="#f56a00" d="M606.6 79.3l5.4 2.7l3.5-0.9l-5.4-2.7z"/>
<path fill="#fe5f00" d="M524.5 85.5l4.8 1.5l4.8-2.9l-4.8-1.4z"/>
<path fill="#ed6f00" d="M623.4 85.1l5.3 3.7l3.4-0.5l-5.3-3.6z"/>
<path fill="#ff6000" d="M488.3 94l4.5 1.6l3.7-2.3l-4.6-1.6z"/>
<path fill="#f86800" d="M599.2 78.7l5.4 2.4l4.5-1.6l-5.3-2.4z"/>
<path fill="#ff6200" d="M477.7 98.1l4.4 2l2.7-2.5l-4.3-1.8z"/>
<path fill="#fe5f00" d="M505.7 90.1l4.8 1.5l4.9-2.9l-4.7-1.5z"/>
<path fill="#fe5f00" d="M531.9 84.4l4.9 1.5l4.8-2.8l-4.9-1.5z"/>
<path fill="#ff6200" d="M475.8 100l4.3 2.1l2.7-2.7l-4.3-1.9z"/>
<path fill="#f16e00" d="M617.1 83l5.4 3.3l3.4-0.6l-5.3-3.3z"/>
<path fill="#fb6600" d="M591.8 78.6l5.3 2.1l4.6-1.9l-5.3-2.1z"/>
<path fill="#fe6000" d="M539.4 83.3l4.9 1.6l4.8-2.8l-5-1.5z"/>
<path fill="#fe5f00" d="M513.2 88.9l4.8 1.5l4.9-2.9l-4.8-1.5z"/>
<path fill="#ff6000" d="M485.7 95.8l4.5 1.7l3.5-2.5l-4.5-1.6z"/>
<path fill="#ff6300" d="M473.9 102l4.3 2.2l2.6-2.8l-4.3-2.1z"/>
<path fill="#fe6100" d="M546.9 82.3l4.9 1.6l4.8-2.7l-5-1.6z"/>
<path fill="#f56c00" d="M610.8 81.4l5.4 2.9l3.4-0.9l-5.3-2.9z"/>
<path fill="#ee7200" d="M627.7 88l5.2 4l3.3-0.5l-5.2-3.9z"/>
<path fill="#fe5f00" d="M494.4 93.5l4.6 1.6l5-2.9l-4.7-1.6z"/>
<path fill="#fc6500" d="M584.3 78.8l5.3 1.9l4.5-2.2l-5.2-1.9z"/>
<path fill="#fe6100" d="M554.3 81.4l5.1 1.6l4.7-2.7l-5.1-1.6z"/>
<path fill="#ff6400" d="M471.9 104l4.3 2.5l2.6-3l-4.3-2.2z"/>
<path fill="#fd6300" d="M576.8 79.2l5.2 1.8l4.6-2.4l-5.2-1.7z"/>
<path fill="#fe6200" d="M561.8 80.6l5.1 1.6l4.7-2.6l-5.1-1.6z"/>
<path fill="#fe6300" d="M569.3 79.8l5.2 1.7l4.6-2.5l-5.1-1.7z"/>
<path fill="#fe5f00" d="M520.7 87.8l4.8 1.5l4.8-2.9l-4.8-1.5z"/>
<path fill="#f86a00" d="M603.4 80.5l5.3 2.5l4.5-1.4l-5.3-2.6z"/>
<path fill="#ff6100" d="M483.1 97.9l4.4 1.8l3.5-2.8l-4.4-1.7z"/>
<path fill="#f17100" d="M621.4 85.6l5.3 3.6l3.3-0.6l-5.2-3.6z"/>
<path fill="#fe5f00" d="M501.8 92.4l4.7 1.6l5-3l-4.7-1.5z"/>
<path fill="#fe5f00" d="M528.1 86.6l4.9 1.6l4.8-2.9l-4.8-1.5z"/>
<path fill="#ff6000" d="M491.7 95.2l4.6 1.7l3.7-2.4l-4.6-1.6z"/>
<path fill="#ff6100" d="M481.2 99.7l4.4 1.9l2.7-2.6l-4.4-1.8z"/>
<path fill="#fb6800" d="M595.9 80.2l5.3 2.2l4.6-1.8l-5.3-2.3z"/>
<path fill="#f46f00" d="M615.1 83.6l5.2 3.2l3.4-0.8l-5.3-3.2z"/>
<path fill="#fe6000" d="M535.7 85.6l4.9 1.5l4.8-2.8l-5-1.6z"/>
<path fill="#fe5f00" d="M509.3 91.2l4.8 1.6l4.9-3l-4.8-1.5z"/>
<path fill="#ff6100" d="M479.3 101.6l4.3 2.1l2.6-2.8l-4.3-1.9z"/>
<path fill="#fe6100" d="M543.2 84.5l4.9 1.6l4.8-2.8l-5-1.6z"/>
<path fill="#f07400" d="M625.7 88.5l5.1 4l3.3-0.7l-5.1-4z"/>
<path fill="#fd6600" d="M588.4 80.2l5.3 2.1l4.5-2.1l-5.2-2.1z"/>
<path fill="#ff6100" d="M550.7 83.5l5 1.7l4.7-2.8l-5-1.6z"/>
<path fill="#ff6100" d="M477.3 103.8l4.4 2.2l2.5-3l-4.3-2z"/>
<path fill="#f86c00" d="M607.6 82.5l5.3 2.8l4.5-1.4l-5.3-2.9z"/>
<path fill="#fe5f00" d="M516.8 90.1l4.8 1.5l4.9-2.9l-4.8-1.5z"/>
<path fill="#fd6400" d="M580.9 80.6l5.2 1.9l4.6-2.4l-5.2-1.9z"/>
<path fill="#ff6000" d="M489.2 97.1l4.5 1.7l3.5-2.6l-4.5-1.6z"/>
<path fill="#ff6200" d="M558.2 82.6l5.1 1.7l4.7-2.7l-5.1-1.6z"/>
<path fill="#fe6300" d="M573.3 81.1l5.2 1.8l4.6-2.5l-5.2-1.8z"/>
<path fill="#fe5f00" d="M497.9 94.8l4.6 1.6l5-3.1l-4.7-1.5z"/>
<path fill="#fe6200" d="M565.8 81.8l5.1 1.8l4.6-2.7l-5.1-1.7z"/>
<path fill="#ff6200" d="M475.4 106l4.3 2.5l2.6-3.2l-4.3-2.2z"/>
<path fill="#f37100" d="M619.3 86.1l5.2 3.6l3.4-0.8l-5.3-3.6z"/>
<path fill="#fe6000" d="M524.3 88.9l4.9 1.6l4.9-2.9l-4.9-1.6z"/>
<path fill="#fb6a00" d="M600.1 81.9l5.3 2.4l4.5-1.7l-5.3-2.5z"/>
<path fill="#ff6000" d="M486.6 99.3l4.4 1.8l3.5-2.9l-4.5-1.7z"/>
<path fill="#fe5f00" d="M505.4 93.6l4.7 1.6l5-3l-4.8-1.6z"/>
<path fill="#fe6000" d="M531.9 87.8l4.9 1.6l4.8-2.9l-4.9-1.6z"/>
<path fill="#f76f00" d="M611.8 84.6l5.3 3.2l4.4-1.3l-5.2-3.2z"/>
<path fill="#ff6100" d="M539.4 86.7l5 1.7l4.8-2.9l-5-1.6z"/>
<path fill="#ff6000" d="M484.7 101.2l4.4 1.9l2.7-2.7l-4.4-1.7z"/>
<path fill="#ff6000" d="M495.3 96.5l4.6 1.6l3.6-2.4l-4.6-1.5z"/>
<path fill="#fd6700" d="M592.5 81.8l5.3 2.2l4.5-2.1l-5.2-2.2z"/>
<path fill="#f27400" d="M623.6 89l5.1 4l3.3-0.8l-5.1-4z"/>
<path fill="#fe5f00" d="M512.9 92.4l4.8 1.6l4.9-3l-4.8-1.6z"/>
<path fill="#ff6100" d="M547 85.7l5 1.7l4.8-2.8l-5.1-1.7z"/>
<path fill="#ff6000" d="M482.8 103.3l4.3 2.1l2.6-3l-4.3-1.9z"/>
<path fill="#fe6500" d="M584.9 82l5.3 2l4.6-2.3l-5.3-2z"/>
<path fill="#ff6200" d="M554.6 84.8l5 1.7l4.7-2.8l-5-1.7z"/>
<path fill="#fe6400" d="M577.4 82.5l5.2 1.9l4.6-2.5l-5.2-1.9z"/>
<path fill="#ff5f00" d="M480.8 105.6l4.4 2.3l2.5-3.2l-4.3-2.1z"/>
<path fill="#ff6200" d="M562.2 83.9l5.1 1.8l4.6-2.7l-5.1-1.8z"/>
<path fill="#ff6300" d="M569.8 83.2l5.1 1.7l4.7-2.6l-5.2-1.7z"/>
<path fill="#fe6000" d="M520.5 91.2l4.8 1.6l4.9-2.9l-4.8-1.6z"/>
<path fill="#fe6000" d="M478.9 108l4.4 2.5l2.5-3.4l-4.4-2.2z"/>
<path fill="#ff6000" d="M492.7 98.4l4.5 1.8l3.6-2.7l-4.6-1.6z"/>
<path fill="#fb6c00" d="M604.3 83.8l5.3 2.7l4.5-1.7l-5.3-2.7z"/>
<path fill="#ff6000" d="M501.4 96l4.7 1.6l5-3.1l-4.7-1.5z"/>
<path fill="#f67200" d="M616.1 87.1l5.2 3.5l4.4-1.2l-5.2-3.6z"/>
<path fill="#ff6000" d="M528.1 90.1l4.9 1.6l4.8-2.9l-4.9-1.6z"/>
<path fill="#ff6000" d="M490.1 100.7l4.5 1.9l3.4-3.1l-4.5-1.7z"/>
<path fill="#fd6900" d="M596.7 83.5l5.3 2.3l4.5-1.9l-5.3-2.5z"/>
<path fill="#ff6100" d="M535.7 89l4.9 1.7l4.8-2.9l-4.9-1.7z"/>
<path fill="#ff6000" d="M509 94.8l4.8 1.6l4.9-3l-4.7-1.6z"/>
<path fill="#ff6100" d="M543.3 88l5 1.7l4.7-2.9l-5-1.7z"/>
<path fill="#fe6700" d="M589.1 83.6l5.3 2.1l4.5-2.3l-5.3-2.1z"/>
<path fill="#f47500" d="M620.4 89.9l5.1 3.9l4.4-1.1l-5.2-4z"/>
<path fill="#ff5f00" d="M488.2 102.7l4.4 2l2.7-2.8l-4.4-1.8z"/>
<path fill="#ff6000" d="M498.8 97.8l4.7 1.6l3.6-2.4l-4.7-1.6z"/>
<path fill="#ff6200" d="M550.9 87l5 1.7l4.8-2.8l-5.1-1.7z"/>
<path fill="#fa6f00" d="M608.5 85.9l5.3 3l4.4-1.5l-5.2-3.1z"/>
<path fill="#ff6000" d="M516.6 93.6l4.8 1.6l4.9-3l-4.8-1.6z"/>
<path fill="#ff6500" d="M581.4 84l5.3 1.9l4.6-2.4l-5.3-2z"/>
<path fill="#ff6200" d="M558.5 86.1l5.1 1.8l4.7-2.8l-5.1-1.8z"/>
<path fill="#ff5e00" d="M486.3 105l4.4 2.1l2.6-3.1l-4.4-2z"/>
<path fill="#ff6400" d="M573.8 84.5l5.2 1.9l4.6-2.6l-5.2-1.9z"/>
<path fill="#ff6300" d="M566.2 85.3l5.1 1.8l4.7-2.7l-5.2-1.8z"/>
<path fill="#fc5e00" d="M484.4 107.4l4.4 2.3l2.5-3.4l-4.4-2z"/>
<path fill="#fb5e00" d="M482.5 110l4.3 2.5l2.5-3.5l-4.4-2.3z"/>
<path fill="#ff6000" d="M524.2 92.5l4.9 1.6l4.9-3l-4.9-1.6z"/>
<path fill="#ff6000" d="M496.2 99.8l4.6 1.7l3.5-2.7l-4.5-1.7z"/>
<path fill="#fd6c00" d="M600.9 85.3l5.3 2.6l4.5-1.9l-5.3-2.6z"/>
<path fill="#ff6000" d="M505.1 97.2l4.7 1.7l5-3.1l-4.8-1.6z"/>
<path fill="#ff6100" d="M531.9 91.4l4.9 1.6l4.8-2.9l-4.9-1.7z"/>
<path fill="#f97200" d="M612.8 88.3l5.2 3.3l4.4-1.4l-5.2-3.4z"/>
<path fill="#ff6100" d="M539.5 90.3l5 1.7l4.8-2.9l-5-1.7z"/>
<path fill="#fe6900" d="M593.3 85.2l5.2 2.3l4.6-2.2l-5.3-2.3z"/>
<path fill="#ff6000" d="M493.7 102.2l4.5 1.8l3.4-3.2l-4.5-1.7z"/>
<path fill="#ff6000" d="M512.7 96l4.8 1.7l4.9-3.1l-4.8-1.6z"/>
<path fill="#ff6200" d="M547.2 89.3l5 1.7l4.7-2.9l-5-1.7z"/>
<path fill="#f60" d="M585.6 85.5l5.2 2l4.6-2.4l-5.3-2.1z"/>
<path fill="#ff6200" d="M554.8 88.4l5.1 1.7l4.7-2.8l-5.1-1.8z"/>
<path fill="#ff5f00" d="M491.8 104.3l4.5 1.9l2.6-2.9l-4.5-1.8z"/>
<path fill="#ff6500" d="M577.9 86l5.2 1.9l4.6-2.6l-5.2-1.9z"/>
<path fill="#ff6300" d="M562.5 87.5l5.1 1.8l4.7-2.8l-5.1-1.8z"/>
<path fill="#ff6000" d="M502.4 99l4.7 1.8l3.6-2.5l-4.7-1.7z"/>
<path fill="#ff6400" d="M570.2 86.7l5.2 1.8l4.6-2.7l-5.2-1.8z"/>
<path fill="#ff6000" d="M520.3 94.9l4.9 1.7l4.9-3.1l-4.9-1.6z"/>
<path fill="#fd5d00" d="M489.9 106.7l4.4 2.1l2.5-3.3l-4.4-1.9z"/>
<path fill="#fc6e00" d="M605.2 87.3l5.2 2.9l4.5-1.7l-5.3-3z"/>
<path fill="#f77500" d="M617.1 91l5.2 3.8l4.3-1.3l-5.1-3.9z"/>
<path fill="#fa5c00" d="M488 109.3l4.4 2.3l2.5-3.5l-4.5-2.1z"/>
<path fill="#f85c00" d="M486.1 112.1l4.4 2.5l2.4-3.8l-4.4-2.2z"/>
<path fill="#ff6100" d="M528 93.7l4.9 1.8l4.9-3.1l-4.9-1.7z"/>
<path fill="#ff6000" d="M499.9 101.1l4.6 1.8l3.5-2.8l-4.7-1.7z"/>
<path fill="#fe6b00" d="M597.5 87l5.3 2.5l4.5-2.1l-5.3-2.6z"/>
<path fill="#ff6000" d="M508.7 98.5l4.8 1.8l5-3.2l-4.8-1.7z"/>
<path fill="#ff6100" d="M535.7 92.7l5 1.7l4.8-3l-5-1.7z"/>
<path fill="#ff6200" d="M543.4 91.6l5 1.8l4.8-3l-5-1.7z"/>
<path fill="#ff6800" d="M589.8 87.1l5.2 2.2l4.6-2.3l-5.3-2.3z"/>
<path fill="#fb7200" d="M609.5 89.6l5.2 3.3l4.4-1.6l-5.2-3.4z"/>
<path fill="#ff6000" d="M497.3 103.7l4.6 1.8l3.3-3.3l-4.5-1.7z"/>
<path fill="#ff6100" d="M516.4 97.3l4.8 1.8l5-3.2l-4.9-1.6z"/>
<path fill="#ff6200" d="M551.1 90.7l5.1 1.8l4.7-3l-5.1-1.8z"/>
<path fill="#f60" d="M582 87.5l5.3 2l4.6-2.5l-5.3-2.1z"/>
<path fill="#ff6300" d="M558.8 89.7l5.1 1.9l4.7-2.9l-5.1-1.8z"/>
<path fill="#ff6400" d="M574.3 88.1l5.2 1.9l4.6-2.7l-5.2-1.9z"/>
<path fill="#ff6400" d="M566.6 88.9l5.1 1.8l4.7-2.8l-5.2-1.8z"/>
<path fill="#ff5e00" d="M495.4 105.9l4.5 2l2.6-3.1l-4.5-1.8z"/>
<path fill="#ff6100" d="M524.1 96.2l4.9 1.7l4.9-3.1l-4.9-1.7z"/>
<path fill="#ff6100" d="M506.1 100.4l4.7 1.7l3.6-2.5l-4.7-1.7z"/>
<path fill="#fb5c00" d="M493.5 108.4l4.5 2.1l2.5-3.4l-4.5-1.9z"/>
<path fill="#f75a00" d="M491.6 111.2l4.4 2.3l2.5-3.7l-4.5-2.1z"/>
<path fill="#f55a00" d="M489.7 114.1l4.4 2.5l2.4-3.9l-4.4-2.3z"/>
<path fill="#fe6e00" d="M601.8 89l5.2 2.7l4.5-1.9l-5.3-2.9z"/>
<path fill="#ff6200" d="M531.8 95.1l5 1.7l4.8-3l-4.9-1.8z"/>
<path fill="#f97500" d="M613.8 92.2l5.2 3.7l4.3-1.4l-5.1-3.9z"/>
<path fill="#ff6200" d="M539.6 94l5 1.8l4.8-3l-5-1.8z"/>
<path fill="#ff6100" d="M503.5 102.5l4.7 1.9l3.5-2.9l-4.7-1.8z"/>
<path fill="#ff6a00" d="M594 88.8l5.3 2.4l4.5-2.2l-5.3-2.5z"/>
<path fill="#ff6100" d="M512.4 99.9l4.9 1.7l4.9-3.2l-4.8-1.7z"/>
<path fill="#ff6300" d="M547.3 93l5.1 1.8l4.7-3l-5-1.8z"/>
<path fill="#ff6700" d="M586.2 89.1l5.3 2.2l4.6-2.5l-5.3-2.3z"/>
<path fill="#ff6300" d="M555.1 92.1l5.1 1.8l4.7-2.9l-5.1-1.9z"/>
<path fill="#ff6500" d="M578.4 89.6l5.3 2l4.6-2.6l-5.3-2.1z"/>
<path fill="#ff6300" d="M562.9 91.2l5.1 1.8l4.7-2.9l-5.2-1.8z"/>
<path fill="#ff6100" d="M520.2 98.7l4.9 1.8l4.9-3.2l-4.9-1.7z"/>
<path fill="#ff6000" d="M501 105.2l4.6 1.9l3.3-3.4l-4.6-1.8z"/>
<path fill="#ff6400" d="M570.6 90.3l5.2 2l4.7-2.8l-5.2-2z"/>
<path fill="#fd7100" d="M606.1 91.2l5.2 3.1l4.5-1.8l-5.3-3.3z"/>
<path fill="#fe5d00" d="M499 107.5l4.6 2l2.6-3.1l-4.6-1.9z"/>
<path fill="#ff6200" d="M527.9 97.5l5 1.9l4.8-3.2l-4.9-1.7z"/>
<path fill="#ff6100" d="M509.8 101.8l4.8 1.8l3.5-2.6l-4.7-1.8z"/>
<path fill="#f95b00" d="M497.1 110.1l4.6 2.2l2.5-3.5l-4.6-2z"/>
<path fill="#f25800" d="M493.3 116.2l4.5 2.6l2.4-4.1l-4.5-2.4z"/>
<path fill="#f45900" d="M495.2 113.1l4.5 2.4l2.5-3.9l-4.5-2.2z"/>
<path fill="#ff6d00" d="M598.3 90.7l5.3 2.7l4.5-2.2l-5.3-2.7z"/>
<path fill="#ff6200" d="M535.7 96.5l5 1.8l4.8-3.1l-5-1.8z"/>
<path fill="#ff6300" d="M543.5 95.4l5 1.9l4.8-3.1l-5-1.8z"/>
<path fill="#fb7400" d="M610.4 93.7l5.2 3.5l4.4-1.7l-5.2-3.6z"/>
<path fill="#ff6900" d="M590.4 90.8l5.3 2.3l4.6-2.4l-5.3-2.4z"/>
<path fill="#ff6100" d="M507.2 104l4.7 1.9l3.5-3l-4.7-1.8z"/>
<path fill="#ff6200" d="M516.2 101.2l4.9 1.9l4.9-3.2l-4.9-1.8z"/>
<path fill="#ff6300" d="M551.3 94.4l5.1 1.9l4.8-3l-5.1-1.8z"/>
<path fill="#ff6700" d="M582.6 91.2l5.3 2.1l4.6-2.6l-5.3-2.2z"/>
<path fill="#ff6300" d="M559.1 93.5l5.2 1.9l4.7-3l-5.2-1.8z"/>
<path fill="#ff6400" d="M566.9 92.6l5.2 2l4.7-2.9l-5.2-1.9z"/>
<path fill="#ff6500" d="M574.8 91.9l5.2 2l4.7-2.8l-5.3-2z"/>
<path fill="#ff6200" d="M524 100.1l4.9 1.8l4.9-3.2l-4.9-1.8z"/>
<path fill="#ff6000" d="M504.7 106.7l4.6 2l3.3-3.5l-4.6-1.9z"/>
<path fill="#ff7000" d="M602.6 92.8l5.3 3l4.4-2l-5.2-3.1z"/>
<path fill="#fd5d00" d="M502.8 109.1l4.5 2.1l2.6-3.3l-4.6-1.9z"/>
<path fill="#ff6200" d="M531.8 99l5 1.8l4.8-3.1l-4.9-1.8z"/>
<path fill="#ef5700" d="M497 118.3l4.6 2.6l2.3-4.2l-4.5-2.4z"/>
<path fill="#f75a00" d="M500.8 111.9l4.6 2.3l2.5-3.7l-4.6-2.1z"/>
<path fill="#f25700" d="M498.9 115l4.6 2.4l2.4-4l-4.6-2.2z"/>
<path fill="#ff6200" d="M513.6 103.2l4.8 1.8l3.5-2.5l-4.8-1.9z"/>
<path fill="#ff6300" d="M539.6 97.9l5.1 1.9l4.8-3.1l-5-1.9z"/>
<path fill="#ff6c00" d="M594.7 92.6l5.3 2.6l4.6-2.3l-5.3-2.7z"/>
<path fill="#ff6300" d="M547.5 96.9l5.1 1.9l4.7-3.1l-5-1.9z"/>
<path fill="#ff6800" d="M586.8 92.9l5.4 2.2l4.5-2.5l-5.3-2.3z"/>
<path fill="#ff6300" d="M555.3 95.9l5.2 2l4.7-3.1l-5.1-1.9z"/>
<path fill="#ff6100" d="M511 105.5l4.7 1.9l3.5-3l-4.8-1.9z"/>
<path fill="#fd7300" d="M606.9 95.2l5.3 3.4l4.4-1.8l-5.2-3.6z"/>
<path fill="#ff6200" d="M520 102.7l4.9 1.9l4.9-3.3l-4.9-1.8z"/>
<path fill="#ff6400" d="M563.2 95l5.2 2l4.7-3l-5.2-2z"/>
<path fill="#f60" d="M579 93.4l5.2 2.1l4.7-2.7l-5.3-2.2z"/>
<path fill="#ff6500" d="M571.1 94.2l5.2 2l4.7-2.9l-5.3-2z"/>
<path fill="#ff6300" d="M527.9 101.5l4.9 1.9l4.9-3.2l-4.9-1.8z"/>
<path fill="#ff6000" d="M508.4 108.3l4.7 2l3.3-3.6l-4.7-1.9z"/>
<path fill="#ff6f00" d="M599.1 94.7l5.3 2.8l4.5-2.2l-5.3-2.9z"/>
<path fill="#ec5500" d="M500.8 120.5l4.6 2.6l2.3-4.4l-4.6-2.5z"/>
<path fill="#ff6300" d="M535.7 100.4l5 2l4.9-3.2l-5-1.9z"/>
<path fill="#fc5c00" d="M506.5 110.8l4.6 2.2l2.6-3.4l-4.7-2z"/>
<path fill="#ef5600" d="M502.7 117l4.6 2.5l2.4-4.2l-4.6-2.3z"/>
<path fill="#f55900" d="M504.6 113.8l4.6 2.2l2.5-3.8l-4.7-2.1z"/>
<path fill="#ff6200" d="M517.4 104.7l4.8 1.9l3.6-2.6l-4.9-1.9z"/>
<path fill="#ff6300" d="M543.6 99.4l5.1 1.9l4.8-3.1l-5.1-1.9z"/>
<path fill="#ff6b00" d="M591.1 94.7l5.4 2.4l4.5-2.4l-5.3-2.6z"/>
<path fill="#ff6300" d="M551.5 98.4l5.1 2l4.8-3.2l-5.1-1.9z"/>
<path fill="#ff6700" d="M583.2 95.1l5.3 2.2l4.6-2.7l-5.3-2.3z"/>
<path fill="#ff6400" d="M559.4 97.5l5.2 1.9l4.7-3l-5.1-2z"/>
<path fill="#ff6400" d="M567.3 96.6l5.3 2l4.7-3l-5.3-2z"/>
<path fill="#ff6500" d="M575.3 95.8l5.2 2l4.7-2.9l-5.3-2z"/>
<path fill="#ff6200" d="M514.8 107l4.8 2l3.4-3.1l-4.8-1.9z"/>
<path fill="#ff6300" d="M523.9 104.2l4.9 1.9l4.9-3.3l-4.9-1.9z"/>
<path fill="#ff7200" d="M603.4 97l5.3 3.2l4.5-2l-5.3-3.4z"/>
<path fill="#ff6300" d="M531.8 103l5 2l4.9-3.2l-5-2z"/>
<path fill="#ff6000" d="M512.2 109.9l4.7 2.1l3.3-3.7l-4.7-2z"/>
<path fill="#e95400" d="M504.6 122.7l4.6 2.6l2.3-4.6l-4.6-2.4z"/>
<path fill="#ff6300" d="M539.7 102l5.1 2l4.8-3.3l-5-1.9z"/>
<path fill="#ff6e00" d="M595.5 96.7l5.3 2.7l4.5-2.4l-5.3-2.8z"/>
<path fill="#fb5c00" d="M510.3 112.6l4.7 2.2l2.5-3.5l-4.7-2.1z"/>
<path fill="#ed5500" d="M506.5 119l4.6 2.5l2.4-4.3l-4.6-2.3z"/>
<path fill="#f35800" d="M508.4 115.6l4.6 2.4l2.5-4l-4.7-2.2z"/>
<path fill="#ff6400" d="M547.7 100.9l5.1 2l4.8-3.2l-5.1-1.9z"/>
<path fill="#ff6300" d="M521.3 106.2l4.8 2l3.6-2.7l-4.9-1.9z"/>
<path fill="#ff6a00" d="M587.5 96.9l5.3 2.4l4.6-2.7l-5.3-2.5z"/>
<path fill="#ff6400" d="M555.6 100l5.2 2l4.7-3.2l-5.1-1.9z"/>
<path fill="#ff6400" d="M563.6 99l5.2 2l4.7-3l-5.2-2z"/>
<path fill="#ff6700" d="M579.5 97.4l5.3 2.2l4.7-2.9l-5.3-2.2z"/>
<path fill="#ff6500" d="M571.5 98.2l5.3 2l4.7-3l-5.3-2z"/>
<path fill="#ff6300" d="M527.8 105.7l5 2.1l4.9-3.4l-5-2z"/>
<path fill="#ff6200" d="M518.7 108.6l4.8 2.1l3.4-3.2l-4.8-1.9z"/>
<path fill="#ff7100" d="M599.9 98.9l5.3 3.1l4.5-2.2l-5.3-3.3z"/>
<path fill="#ff6300" d="M535.8 104.6l5 2l4.9-3.3l-5.1-1.9z"/>
<path fill="#e75200" d="M508.4 124.9l4.7 2.7l2.3-4.8l-4.7-2.5z"/>
<path fill="#ff5f00" d="M516.1 111.6l4.7 2.2l3.3-3.8l-4.7-2.1z"/>
<path fill="#ff6400" d="M543.7 103.5l5.1 2.1l4.9-3.3l-5.1-2z"/>
<path fill="#eb5400" d="M510.3 121.1l4.7 2.5l2.4-4.5l-4.7-2.3z"/>
<path fill="#ff6d00" d="M591.8 98.8l5.4 2.6l4.5-2.5l-5.3-2.8z"/>
<path fill="#fa5b00" d="M514.2 114.4l4.7 2.2l2.5-3.6l-4.7-2.1z"/>
<path fill="#f15700" d="M512.2 117.6l4.7 2.3l2.5-4.1l-4.7-2.2z"/>
<path fill="#ff6400" d="M551.7 102.5l5.2 2.1l4.8-3.3l-5.2-1.9z"/>
<path fill="#ff6300" d="M525.2 107.8l4.9 2l3.5-2.7l-4.9-2z"/>
<path fill="#ff6900" d="M583.8 99.1l5.3 2.4l4.7-2.8l-5.4-2.4z"/>
<path fill="#ff6400" d="M559.7 101.6l5.2 2l4.8-3.2l-5.2-2z"/>
<path fill="#ff6500" d="M567.8 100.6l5.2 2.1l4.7-3.1l-5.2-2z"/>
<path fill="#f60" d="M575.8 99.8l5.3 2.2l4.6-3l-5.2-2.2z"/>
<path fill="#ff6400" d="M531.8 107.3l5 2.1l4.9-3.4l-5-2z"/>
<path fill="#ff6200" d="M522.6 110.3l4.8 2.1l3.4-3.2l-4.8-2.1z"/>
<path fill="#ff7000" d="M596.3 100.9l5.3 3.1l4.5-2.5l-5.3-3.1z"/>
<path fill="#ff6400" d="M539.8 106.2l5.1 2.1l4.8-3.3l-5.1-2.1z"/>
<path fill="#e45100" d="M512.3 127.1l4.7 2.8l2.3-4.9l-4.7-2.6z"/>
<path fill="#ff5f00" d="M520 113.4l4.8 2.2l3.3-3.9l-4.8-2.1z"/>
<path fill="#ff6400" d="M547.8 105.2l5.1 2l4.9-3.2l-5.2-2.1z"/>
<path fill="#e85200" d="M514.2 123.2l4.7 2.6l2.4-4.7l-4.7-2.4z"/>
<path fill="#ff6c00" d="M588.2 101l5.3 2.6l4.6-2.7l-5.3-2.7z"/>
<path fill="#f95b00" d="M518 116.2l4.8 2.3l2.5-3.7l-4.7-2.2z"/>
<path fill="#f05600" d="M516.1 119.5l4.8 2.4l2.4-4.2l-4.8-2.3z"/>
<path fill="#ff6400" d="M555.9 104.2l5.2 2l4.7-3.2l-5.1-2.1z"/>
<path fill="#ff6800" d="M580.1 101.6l5.3 2.3l4.7-3l-5.4-2.3z"/>
<path fill="#ff6500" d="M563.9 103.2l5.3 2.1l4.7-3.2l-5.2-2.1z"/>
<path fill="#ff6400" d="M529.1 109.4l5 2.1l3.5-2.7l-5-2.1z"/>
<path fill="#f60" d="M572 102.3l5.3 2.2l4.7-3.1l-5.3-2.2z"/>
<path fill="#ff6400" d="M535.8 109l5 2.1l4.9-3.4l-5-2.1z"/>
<path fill="#ff6300" d="M526.5 112l4.9 2.1l3.4-3.2l-4.9-2.1z"/>
<path fill="#e25000" d="M516.2 129.4l4.8 2.8l2.3-5.1l-4.8-2.6z"/>
<path fill="#ff6400" d="M543.9 107.9l5.1 2.1l4.8-3.4l-5.1-2z"/>
<path fill="#ff7000" d="M592.6 103.1l5.3 3l4.6-2.7l-5.3-3z"/>
<path fill="#ff5f00" d="M523.9 115.2l4.9 2.2l3.3-4l-4.9-2.1z"/>
<path fill="#ff6400" d="M551.9 106.8l5.2 2.2l4.8-3.4l-5.1-2z"/>
<path fill="#e65100" d="M518.1 125.3l4.8 2.7l2.4-4.8l-4.8-2.5z"/>
<path fill="#ff6b00" d="M584.4 103.4l5.4 2.6l4.6-2.9l-5.3-2.6z"/>
<path fill="#ff6500" d="M560.1 105.8l5.2 2.2l4.8-3.3l-5.3-2.1z"/>
<path fill="#e50" d="M520.1 121.5l4.7 2.5l2.5-4.4l-4.8-2.3z"/>
<path fill="#f75a00" d="M522 118.1l4.8 2.3l2.5-3.7l-4.8-2.3z"/>
<path fill="#ff6800" d="M576.3 104.1l5.3 2.3l4.7-3.1l-5.3-2.3z"/>
<path fill="#f60" d="M568.2 104.9l5.3 2.2l4.7-3.2l-5.3-2.2z"/>
<path fill="#ff6400" d="M533.2 111.1l5 2.2l3.5-2.8l-5-2.1z"/>
<path fill="#ff6400" d="M539.9 110.7l5.1 2.2l4.8-3.5l-5.1-2.1z"/>
<path fill="#ff6300" d="M530.5 113.7l5 2.2l3.4-3.3l-5-2.1z"/>
<path fill="#e04f00" d="M520.2 131.7l4.8 2.8l2.3-5.1l-4.8-2.7z"/>
<path fill="#ff6500" d="M548 109.6l5.1 2.2l4.9-3.5l-5.2-2.1z"/>
<path fill="#ff6f00" d="M588.9 105.5l5.3 2.9l4.6-2.8l-5.3-3z"/>
<path fill="#ff6500" d="M556.1 108.5l5.3 2.2l4.8-3.3l-5.3-2.2z"/>
<path fill="#e55000" d="M522.1 127.5l4.8 2.7l2.4-4.9l-4.8-2.5z"/>
<path fill="#ff5f00" d="M527.9 117l4.9 2.3l3.3-4.1l-4.9-2.2z"/>
<path fill="#ff6b00" d="M580.7 106l5.3 2.5l4.7-3.1l-5.4-2.5z"/>
<path fill="#f60" d="M564.3 107.6l5.3 2.2l4.7-3.3l-5.2-2.2z"/>
<path fill="#ff6800" d="M572.5 106.7l5.3 2.3l4.7-3.2l-5.3-2.3z"/>
<path fill="#ec5400" d="M524 123.6l4.9 2.5l2.4-4.5l-4.8-2.3z"/>
<path fill="#f65900" d="M526 120l4.9 2.4l2.5-3.9l-4.9-2.2z"/>
<path fill="#ff6400" d="M537.2 112.9l5.1 2.1l3.5-2.8l-5.1-2.1z"/>
<path fill="#ff6500" d="M544 112.4l5.1 2.3l4.9-3.6l-5.1-2.1z"/>
<path fill="#de4e00" d="M524.2 134.1l4.8 2.8l2.4-5.3l-4.9-2.7z"/>
<path fill="#ff6300" d="M534.6 115.5l5 2.3l3.4-3.4l-5-2.2z"/>
<path fill="#ff6500" d="M552.2 111.3l5.2 2.3l4.8-3.5l-5.2-2.2z"/>
<path fill="#ff6f00" d="M585.1 108l5.3 3l4.6-3.1l-5.3-2.9z"/>
<path fill="#f60" d="M560.4 110.3l5.2 2.3l4.8-3.4l-5.2-2.2z"/>
<path fill="#e34f00" d="M526.1 129.7l4.9 2.7l2.4-5l-4.9-2.6z"/>
<path fill="#ff6a00" d="M576.8 108.6l5.4 2.6l4.7-3.3l-5.4-2.5z"/>
<path fill="#ff6800" d="M568.6 109.4l5.3 2.4l4.7-3.4l-5.2-2.3z"/>
<path fill="#ff5f00" d="M532 118.9l4.9 2.3l3.3-4.2l-4.9-2.2z"/>
<path fill="#eb5300" d="M528.1 125.7l4.9 2.5l2.4-4.6l-4.9-2.4z"/>
<path fill="#f55900" d="M530 122l4.9 2.4l2.6-3.9l-5-2.3z"/>
<path fill="#ff6500" d="M541.3 114.6l5.1 2.3l3.5-2.9l-5.1-2.2z"/>
<path fill="#dd4d00" d="M528.3 136.5l4.9 2.9l2.3-5.5l-4.9-2.7z"/>
<path fill="#f60" d="M548.2 114.2l5.2 2.3l4.8-3.5l-5.2-2.3z"/>
<path fill="#ff6300" d="M538.7 117.4l5.1 2.3l3.4-3.5l-5.1-2.2z"/>
<path fill="#f60" d="M556.4 113.2l5.3 2.3l4.8-3.5l-5.3-2.3z"/>
<path fill="#ff6e00" d="M581.3 110.7l5.3 3l4.6-3.3l-5.3-2.9z"/>
<path fill="#ff6800" d="M564.7 112.2l5.3 2.4l4.7-3.4l-5.2-2.4z"/>
<path fill="#ff6a00" d="M573 111.3l5.3 2.7l4.7-3.4l-5.3-2.6z"/>
<path fill="#e14f00" d="M530.2 132l4.9 2.7l2.4-5.1l-4.9-2.6z"/>
<path fill="#fe5f00" d="M536.1 120.8l5 2.4l3.3-4.3l-5-2.2z"/>
<path fill="#e95300" d="M532.2 127.8l4.9 2.6l2.4-4.7l-4.9-2.5z"/>
<path fill="#f45800" d="M534.1 124l5 2.5l2.5-4.1l-5-2.3z"/>
<path fill="#ff6500" d="M545.5 116.5l5.2 2.3l3.4-2.9l-5.1-2.3z"/>
<path fill="#db4c00" d="M532.4 138.9l4.9 2.9l2.4-5.6l-5-2.7z"/>
<path fill="#ff6700" d="M552.4 116.1l5.2 2.4l4.9-3.6l-5.2-2.4z"/>
<path fill="#ff6e00" d="M577.4 113.5l5.3 3l4.7-3.4l-5.3-3z"/>
<path fill="#ff6400" d="M542.9 119.3l5.1 2.3l3.4-3.5l-5.1-2.3z"/>
<path fill="#ff6800" d="M560.7 115.1l5.3 2.5l4.8-3.6l-5.3-2.4z"/>
<path fill="#ff6b00" d="M569.1 114.2l5.3 2.7l4.7-3.5l-5.3-2.6z"/>
<path fill="#e04e00" d="M534.3 134.3l5 2.8l2.4-5.3l-5-2.7z"/>
<path fill="#fe5f00" d="M540.3 122.8l5 2.4l3.3-4.3l-5.1-2.3z"/>
<path fill="#e85200" d="M536.3 129.9l5 2.7l2.4-4.8l-5-2.5z"/>
<path fill="#f35800" d="M538.3 126.1l5 2.5l2.5-4.1l-5-2.5z"/>
<path fill="#f60" d="M549.8 118.4l5.1 2.4l3.5-3l-5.2-2.3z"/>
<path fill="#da4b00" d="M536.5 141.4l5 2.9l2.4-5.7l-5-2.8z"/>
<path fill="#ff6800" d="M556.7 118l5.3 2.6l4.8-3.7l-5.2-2.4z"/>
<path fill="#ff6e00" d="M573.5 116.4l5.3 3l4.7-3.5l-5.3-3z"/>
<path fill="#ff6b00" d="M565.1 117.1l5.3 2.7l4.8-3.5l-5.3-2.7z"/>
<path fill="#ff6400" d="M547.1 121.2l5.2 2.5l3.3-3.6l-5.1-2.4z"/>
<path fill="#de4d00" d="M538.5 136.6l5 2.9l2.4-5.4l-5-2.8z"/>
<path fill="#fe5f00" d="M544.5 124.8l5.1 2.5l3.2-4.4l-5.1-2.4z"/>
<path fill="#e75200" d="M540.5 132.2l5 2.7l2.5-4.9l-5.1-2.6z"/>
<path fill="#f25800" d="M542.5 128.2l5.1 2.6l2.5-4.2l-5.1-2.5z"/>
<path fill="#ff6800" d="M554.1 120.4l5.2 2.5l3.4-3l-5.2-2.5z"/>
<path fill="#d94b00" d="M540.7 143.9l5.1 3l2.4-5.8l-5.1-2.9z"/>
<path fill="#ff6b00" d="M561.1 120.1l5.3 2.8l4.8-3.7l-5.3-2.7z"/>
<path fill="#ff6f00" d="M569.5 119.3l5.3 3.1l4.8-3.6l-5.3-3z"/>
<path fill="#f60" d="M551.4 123.2l5.2 2.6l3.4-3.6l-5.2-2.5z"/>
<path fill="#dd4d00" d="M542.7 139l5.1 2.9l2.4-5.5l-5.1-2.8z"/>
<path fill="#e65200" d="M544.8 134.4l5 2.9l2.5-5l-5.1-2.7z"/>
<path fill="#fe6000" d="M548.7 126.9l5.2 2.7l3.3-4.5l-5.2-2.6z"/>
<path fill="#f25800" d="M546.8 130.4l5.1 2.7l2.5-4.3l-5.1-2.6z"/>
<path fill="#ff6a00" d="M558.4 122.5l5.3 2.8l3.4-3l-5.2-2.8z"/>
<path fill="#d84b00" d="M545 146.4l5.1 3.1l2.4-5.8l-5.1-3.1z"/>
<path fill="#ff6f00" d="M565.5 122.4l5.3 3.1l4.8-3.7l-5.3-3z"/>
<path fill="#ff6800" d="M555.8 125.4l5.2 2.8l3.3-3.6l-5.2-2.8z"/>
<path fill="#dd4d00" d="M547 141.5l5.1 3l2.5-5.5l-5.2-3z"/>
<path fill="#e55200" d="M549.1 136.8l5.1 3l2.4-5l-5.1-2.9z"/>
<path fill="#fe6100" d="M553.1 129.2l5.2 2.8l3.2-4.5l-5.1-2.8z"/>
<path fill="#f25900" d="M551.1 132.7l5.1 2.9l2.5-4.3l-5.1-2.9z"/>
<path fill="#ff6e00" d="M562.8 124.8l5.3 3.1l3.4-3l-5.2-3.1z"/>
<path fill="#d84b00" d="M549.3 149.1l5.2 3.2l2.4-5.9l-5.2-3.2z"/>
<path fill="#dd4e00" d="M551.4 144l5.1 3.2l2.5-5.5l-5.2-3.2z"/>
<path fill="#ff6b00" d="M560.2 127.8l5.2 3.1l3.3-3.7l-5.2-3.1z"/>
<path fill="#e65400" d="M553.4 139.3l5.2 3.2l2.5-5l-5.2-3.2z"/>
<path fill="#ff6400" d="M557.5 131.6l5.2 3.1l3.3-4.5l-5.3-3.1z"/>
<path fill="#f25b00" d="M555.4 135.1l5.2 3.2l2.6-4.3l-5.2-3.2z"/>
<path class="m" d="M553.3 34.9l2 2.2M551.3 34.1l2 0.8M543 29.7l6.3 4.4M549.3 34.1l2 0M547.3 34.6l2-0.5M549.3 34.1l6.4 5.5M555.7 39.6l2 1.4M536.8 32.6l6.3 3.6M545.2 35.3l2.1-0.7M553.7 39.3l2 0.3M555.7 39.6l6.5 6.6M543.1 36.2l2.1-0.9M541.1 37l2-0.8M543.1 36.2l6.4 3.9M551.6 39.6l2.1-0.3M530.6 35.6l6.3 3.1M560.1 44.8l2.1 1.4M562.2 46.2l3.2 3.8M539 37.8l2.1-0.8M549.5 40.1l2.1-0.5M558.1 44.3l2 0.5M536.9 38.7l2.1-0.9M547.5 40.6l2-0.5M549.5 40.1l6.6 4.2M524.2 38.7l6.3 2.9M534.7 39.6l2.2-0.9M536.9 38.7l6.4 3.2M565.7 50.3l1 0.7M556.1 44.3l2 0M545.4 41.2l2.1-0.6M532.6 40.6l2.1-1M543.3 41.9l2.1-0.7M554 44.4l2.1-0.1M556.1 44.3l6.6 4.5M530.5 41.6l2.1-1M562.7 48.8l2 0.8M517.7 42l6.2 2.9M541.1 42.6l2.2-0.7M543.3 41.9l6.5 3.2M528.3 42.7l2.2-1.1M530.5 41.6l6.4 2.9M551.9 44.7l2.1-0.3M560.6 48.5l2.1 0.3M562.7 48.8l3.3 2.4M526.1 43.8l2.2-1.1M539 43.5l2.1-0.9M571 55l0.4 0.3M549.8 45.1l2.1-0.4M523.9 44.9l2.2-1.1M566 51.2l3.4 2.5M536.9 44.5l2.1-1M558.5 48.4l2.1 0.1M511 45.3l6.3 3M547.7 45.7l2.1-0.6M549.8 45.1l6.6 3.4M521.7 46l2.2-1.1M523.9 44.9l6.4 2.7M567.3 52.7l2.1 1M569.4 53.7l3.3 2.5M534.7 45.5l2.2-1M536.9 44.5l6.5 2.8M556.4 48.5l2.1-0.1M519.5 47.1l2.2-1.1M545.5 46.4l2.2-0.7M532.5 46.5l2.2-1M572.7 56.2l0.6 0.5M517.3 48.3l2.2-1.2M565.3 52.1l2 0.6M554.3 48.8l2.1-0.3M556.4 48.5l3.4 1.7M530.3 47.6l2.2-1.1M543.4 47.3l2.1-0.9M504.2 48.7l6.3 3M513.9 50l3.4-1.7M517.3 48.3l6.4 2.7M528.1 48.7l2.2-1.1M530.3 47.6l6.6 2.6M552.2 49.3l2.1-0.5M541.2 48.2l2.2-0.9M543.4 47.3l6.6 2.7M563.5 52l1.8 0.1M559.8 50.2l3.4 1.7M525.9 49.8l2.2-1.1M573.5 56.8l0.7 0.4M539.1 49.1l2.1-0.9M510.5 51.7l3.4-1.7M550 50l2.2-0.7M613.6 97.5l0.3 2.2M561.1 52l2.1-0.1M563.2 51.9l3.4 1.8M523.7 51l2.2-1.2M497.3 52.2l6.3 3M536.9 50.2l2.2-1.1M547.9 50.8l2.1-0.8M550 50l3.4 1.4M507.1 53.5l3.4-1.8M510.5 51.7l6.4 2.7M570.1 55.4l2 0.7M559 52.3l2.1-0.3M566.6 53.7l3.5 1.7M520.3 52.7l3.4-1.7M523.7 51l6.5 2.4M535 51l1.9-0.8M536.9 50.2l6.6 2.4M545.7 51.6l2.2-0.8M620.3 98l0.7 5.7M503.6 55.2l3.5-1.7M553.4 51.4l3.4 1.3M532.4 52.3l2.3-1.1M556.8 52.7l2.2-0.4M568 55.2l2.1 0.2M570.1 55.4l3.5 1.8M516.9 54.4l3.4-1.7M490.3 55.7l6.3 3.1M543.5 52.6l2.2-1M530.2 53.4l2.2-1.1M500.1 57l3.5-1.8M503.6 55.2l6.4 2.8M578.8 59.9l0.3 0.2M554.7 53.4l2.1-0.7M556.8 52.7l3.5 1.4M541.3 53.6l2.2-1M543.5 52.6l3.4 1.2M573.6 57.2l2.9 1.5M513.5 56.2l3.4-1.8M516.9 54.4l6.5 2.5M565.9 55.2l2.1 0M627.9 101.8l0.5 5.7M526.8 55.2l3.4-1.8M530.2 53.4l6.7 2.3M496.6 58.8l3.5-1.8M552.5 54.1l2.2-0.7M539.1 54.6l2.2-1M560.3 54.1l3.4 1.4M483.1 59.3l6.3 3.1M575 58.4l0.7 0.2M576 58.7l1.1 0.3M577.1 59l2.9 1.6M510 58l3.5-1.8M563.7 55.5l2.2-0.3M546.9 53.8l3.4 1.1M619.7 94.4l0.6 3.6M536.9 55.7l2.2-1.1M550.3 54.9l2.2-0.8M523.4 56.9l3.4-1.7M493 60.6l3.6-1.8M496.6 58.8l6.4 2.9M580.6 60.9l1.2 0.6M635.7 104.2l0.7 7M561.6 55.9l2.1-0.4M563.7 55.5l3.6 1.3M506.5 59.8l3.5-1.8M510 58l6.5 2.5M644.9 112.4l0.1 2.2M573.3 58.2l1.7 0.2M548.1 55.9l2.2-1M550.3 54.9l3.4 1.2M533.5 57.4l3.4-1.7M536.9 55.7l3.3 1.1M489.4 62.4l3.6-1.8M520 58.7l3.4-1.8M523.4 56.9l6.7 2.3M475.8 62.9l6.3 3.3M559.4 56.5l2.2-0.6M583.9 62.5l0.3 0.2M584.2 62.7l0.6 0.3M626.7 94.6l1.2 7.2M503 61.7l3.5-1.9M545.9 56.8l2.2-0.9M567.3 56.8l3.5 1.4M570.8 58.2l2.1 0M530.1 59.2l3.4-1.8M485.8 64.3l3.6-1.9M489.4 62.4l6.4 3M553.7 56.1l3.5 1.2M540.2 56.8l3.4 1.1M516.5 60.5l3.5-1.8M653.1 116.8l1.7-1.6M557.2 57.3l2.2-0.8M543.6 57.9l2.3-1.1M587.8 64.6l1.9 0.9M499.4 63.5l3.6-1.8M503 61.7l6.5 2.6M580.1 61.2l2.1 0.5M568.7 58.5l2.1-0.3M570.8 58.2l3.6 1.4M482.1 66.2l3.7-1.9M526.6 61l3.5-1.8M530.1 59.2l2.8 0.8M513 62.4l3.5-1.9M516.5 60.5l6.6 2.3M468.4 66.7l6.2 3.3M555 58.1l2.2-0.8M557.2 57.3l3.6 1.1M644 104.8l0.9 7.6M540.3 59.5l3.3-1.6M543.6 57.9l3.5 1M589.5 65.1l0.3 0.2M624.1 93.4l2.6 1.2M495.8 65.4l3.6-1.9M634.6 97.5l1.1 6.7M566.5 59l2.2-0.5M478.4 68.1l3.7-1.9M482.1 66.2l6.3 3M574.4 59.6l3 1.2M578 61l2.1 0.2M523.1 62.8l3.5-1.8M552.8 59l2.2-0.9M509.5 64.3l3.5-1.9M533.4 60.2l3.4 1.1M560.8 58.4l3.5 1.2M626.2 92.8l0.5 1.8M626.7 94.6l3.9 1.6M536.8 61.3l3.5-1.8M492.1 67.3l3.7-1.9M495.8 65.4l6.5 2.7M547.1 58.9l3.5 1.1M564.3 59.6l2.2-0.6M474.6 70l3.8-1.9M550.6 60l2.2-1M460.7 70.5l6.3 3.4M575.9 61.1l2.1-0.1M578 61l3.7 1.4M519.6 64.7l3.5-1.9M523.1 62.8l3.4 1.1M505.9 66.2l3.6-1.9M509.5 64.3l6.6 2.3M630.6 96.2l4 1.3M488.4 69.2l3.7-1.9M533.4 63.1l3.4-1.8M536.8 61.3l3.5 1M562.1 60.4l2.2-0.8M564.3 59.6l3.6 1.2M470.8 71.9l3.8-1.9M474.6 70l6.4 3.1M547.2 61.6l3.4-1.6M550.6 60l3.5 1.1M573.7 61.5l2.2-0.4M585.4 63.8l2.1 0.4M516.1 66.6l3.5-1.9M581.7 62.4l3.7 1.4M502.3 68.1l3.6-1.9M642.8 99.2l1.2 5.6M526.5 63.9l3.4 1M633.2 92.4l1.4 5.1M634.6 97.5l4 1M484.7 71.1l3.7-1.9M488.4 69.2l6.5 2.8M560.3 61.1l1.8-0.7M453 74.4l6.2 3.5M467 73.9l3.8-2M529.9 64.9l3.5-1.8M567.9 60.8l3.7 1.2M540.3 62.3l3.5 1M543.8 63.3l3.4-1.7M571.6 62l2.1-0.5M554.1 61.1l3.6 1M512.5 68.6l3.6-2M516.1 66.6l2.8 0.9M498.6 70l3.7-1.9M502.3 68.1l6.6 2.4M583.3 63.8l2.1 0M585.4 63.8l3.7 1.5M557.7 62.1l2.2-0.9M481 73.1l3.7-2M638.6 98.5l4.2 0.7M463.1 75.9l3.9-2M467 73.9l6.3 3.2M526.4 66.8l3.5-1.9M529.9 64.9l3.4 1M569.4 62.7l2.2-0.7M571.6 62l3.6 1.2M494.9 72l3.7-2M445 78.4l6.2 3.6M508.9 70.5l3.6-1.9M540.3 65.1l3.5-1.8M543.8 63.3l3.5 1M592.9 66.8l0.3 0.1M593.6 67l1.3 0.4M581.1 64l2.2-0.2M589.1 65.3l3.2 1.2M477.1 75.1l3.9-2M481 73.1l6.4 2.9M554.3 63.7l3.4-1.6M557.7 62.1l3.6 1.1M459.2 77.9l3.9-2M519.4 67.7l3.4 1.1M641.4 94.9l1.4 4.3M642.8 99.2l4.2 0.4M522.8 68.8l3.6-2M632.7 91.1l0.5 1.3M567.5 63.3l1.9-0.6M533.3 65.9l3.5 1M491.2 74l3.7-2M494.9 72l6.6 2.6M505.2 72.5l3.7-2M508.9 70.5l3.3 1.2M575.2 63.2l3.8 1.3M456.6 79.2l2.6-1.3M459.2 77.9l6.3 3.3M473.3 77.1l3.8-2M536.8 66.9l3.5-1.8M579 64.5l2.1-0.5M590.8 66.6l2.1 0.2M592.9 66.8l3.8 1.5M547.3 64.3l3.6 1M550.9 65.3l3.4-1.6M561.3 63.2l3.6 1.1M453.9 80.6l2.7-1.4M564.9 64.3l2.3-0.8M519.2 70.8l3.6-2M522.8 68.8l3.5 1M647 99.6l4.3 0.1M487.4 76l3.8-2M501.5 74.6l3.7-2.1M469.4 79.1l3.9-2M473.3 77.1l6.4 3M602.2 70.6l0.4 0.1M451.2 82l2.7-1.4M576.8 65.1l2.2-0.6M579 64.5l3.7 1.2M533.3 68.8l3.5-1.9M536.8 66.9l3.5 1M596.7 68.3l3.2 1.3M512.2 71.7l3.4 1.1M589 66.7l1.8-0.1M547.4 67.1l3.5-1.8M550.9 65.3l3.6 1M639.8 91.7l1.6 3.2M449.2 83.1l2-1.1M451.2 82l6.4 3.5M561.5 65.8l3.4-1.5M564.9 64.3l3.7 1.2M515.6 72.8l3.6-2M483.6 78l3.8-2M487.4 76l6.6 2.6M465.5 81.2l3.9-2.1M497.8 76.6l3.7-2M501.5 74.6l3.3 1.1M526.3 69.8l3.4 1M447.2 84.2l2-1.1M574.6 65.8l2.2-0.7M529.7 70.8l3.6-2M582.7 65.7l3.8 1.3M598.5 69.5l2.1 0.4M600.6 69.9l3.2 1.4M445.2 85.3l2-1.1M586.5 67l2.2-0.3M540.3 67.9l3.6 1M462.9 82.6l2.6-1.4M465.5 81.2l6.4 3.1M511.9 74.8l3.7-2M515.6 72.8l3.4 1M543.9 68.9l3.5-1.8M479.7 80.1l3.9-2.1M443.2 86.4l2-1.1M554.5 66.3l3.6 1.1M568.6 65.5l3.7 1.1M558.1 67.4l3.4-1.6M494 78.6l3.8-2M572.3 66.6l2.3-0.8M460.2 84l2.7-1.4M504.8 75.7l3.4 1.2M604.5 71.5l3.9 1.7M526.1 72.8l3.6-2M529.7 70.8l3.5 1M584.4 67.5l2.1-0.5M586.5 67l3.9 1.4M639.3 90.9l0.5 0.8M596.4 69.5l2.1 0M508.2 76.9l3.7-2.1M475.9 82.2l3.8-2.1M479.7 80.1l6.6 2.7M457.6 85.5l2.6-1.5M540.4 70.8l3.5-1.9M543.9 68.9l3.6 1M490.2 80.7l3.8-2.1M494 78.6l3.3 1.3M519 73.8l3.5 1M569 68l3.3-1.4M572.3 66.6l3.8 1.2M554.7 69.1l3.4-1.7M558.1 67.4l3.7 1.1M455.5 86.6l2.1-1.1M457.6 85.5l6.4 3.3M606.4 72.7l2 0.5M608.4 73.2l4 1.8M522.5 74.8l3.6-2M582.5 68.1l1.9-0.6M590.4 68.4l3.9 1.3M594.3 69.7l2.1-0.2M471.9 84.3l4-2.1M453.5 87.8l2-1.2M533.2 71.8l3.6 1M504.5 78.9l3.7-2M508.2 76.9l3.4 1M486.3 82.8l3.9-2.1M536.8 72.8l3.6-2M451.5 89l2-1.2M547.5 69.9l3.7 1M641.7 90.9l0.7 0.3M497.3 79.9l3.4 1.1M612.4 75l3.3 1.6M576.1 67.8l3.8 1.2M551.2 70.9l3.5-1.8M579.9 69l2.3-0.8M561.8 68.5l3.7 1.1M565.5 69.6l3.5-1.6M469.3 85.7l2.6-1.4M471.9 84.3l6.6 2.8M449.5 90.3l2-1.3M518.8 76.9l3.7-2.1M522.5 74.8l3.5 1M604.3 72.6l2.1 0.1M592.5 70.1l1.8-0.4M594.3 69.7l3.9 1.5M500.7 81l3.8-2.1M482.4 84.9l3.9-2.1M486.3 82.8l3.3 1.3M466.6 87.2l2.7-1.5M642.4 91.2l4.2 1.8M533.2 74.8l3.6-2M536.8 72.8l3.6 1M511.6 77.9l3.5 1.1M614.4 76.3l2 0.6M616.4 76.9l3.3 1.7M547.6 72.8l3.6-1.9M551.2 70.9l3.6 1.1M515.1 79l3.7-2.1M576.6 70.4l3.3-1.4M579.9 69l3.9 1.3M464 88.8l2.6-1.6M625.8 81.7l0.6 0.3M562.1 71.3l3.4-1.7M565.5 69.6l3.8 1.1M496.9 83.2l3.8-2.2M500.7 81l3.4 1.2M589.9 70.8l2.2-0.6M602.2 72.8l2.1-0.2M478.5 87.1l3.9-2.2M598.2 71.2l4 1.6M526 75.8l3.5 1M462 90.1l2-1.3M464 88.8l6.5 3.1M620.4 78.9l4.1 2.1M529.5 76.8l3.7-2M489.6 84.1l3.4 1.2M460 91.4l2-1.3M540.4 73.8l3.6 1M475.8 88.6l2.7-1.5M478.5 87.1l3.3 1.4M612.3 76.1l2.1 0.2M511.3 81.1l3.8-2.1M515.1 79l3.5 1M544 74.8l3.6-2M493 85.3l3.9-2.1M587.7 71.6l2.2-0.8M583.8 70.3l3.9 1.3M458 92.8l2-1.4M554.8 72l3.8 1.1M600 73.1l2.2-0.3M602.2 72.8l4 1.6M573.2 71.9l3.4-1.5M558.6 73.1l3.5-1.8M569.3 70.7l3.9 1.2M622.5 80.5l2 0.5M624.5 81l4.1 2.3M455.9 94.2l2.1-1.4M473.2 90.2l2.6-1.6M504.1 82.2l3.4 1.1M632.7 85.7l1.9 0.7M525.9 78.9l3.6-2.1M529.5 76.8l3.6 1M507.5 83.3l3.8-2.2M489.1 87.5l3.9-2.2M493 85.3l3.4 1.2M470.5 91.9l2.7-1.7M610.2 76.2l2.1-0.1M540.4 76.8l3.6-2M544 74.8l3.7 1M628.6 83.3l3.4 2M584.4 72.9l3.3-1.3M587.7 71.6l4 1.3M606.2 74.4l4 1.8M597.9 73.7l2.1-0.6M481.8 88.5l3.3 1.2M518.6 80l3.5 1.1M468.5 93.3l2-1.4M470.5 91.9l3.3 1.5M555 74.9l3.6-1.8M558.6 73.1l3.8 1.1M569.7 73.5l3.5-1.6M573.2 71.9l3.8 1.2M620.5 80.2l2 0.3M522.1 81.1l3.8-2.2M466.5 94.8l2-1.5M503.7 85.4l3.8-2.1M507.5 83.3l3.5 1.1M630.8 85.3l1.9 0.4M632.7 85.7l4.2 2.5M485.1 89.7l4-2.2M533.1 77.8l3.7 1.1M464.5 96.4l2-1.6M608.1 76.5l2.1-0.3M610.2 76.2l4.1 1.9M536.8 78.9l3.6-2.1M595.7 74.4l2.2-0.7M591.7 72.9l4 1.5M462.5 98.1l2-1.7M496.4 86.5l3.4 1.2M547.7 75.8l3.8 1.1M581 74.4l3.4-1.5M636.9 88.2l4.1 2.7M551.5 76.9l3.5-2M518.4 83.2l3.7-2.1M522.1 81.1l3.6 1M482.5 91.3l2.6-1.6M485.1 89.7l3.4 1.3M577 73.1l4 1.3M562.4 74.2l3.8 1.1M566.2 75.3l3.5-1.8M473.8 93.4l3.4 1.5M618.4 80.3l2.1-0.1M499.8 87.7l3.9-2.3M614.3 78.1l4.1 2.2M628.8 85.1l2 0.2M479.8 93l2.7-1.7M606 77l2.1-0.5M511 84.4l3.6 1M533.1 81l3.7-2.1M536.8 78.9l3.7 1M592.3 75.6l3.4-1.2M595.7 74.4l4 1.5M514.6 85.4l3.8-2.2M547.8 79l3.7-2.1M551.5 76.9l3.7 1.1M477.2 94.9l2.6-1.9M495.9 89.9l3.9-2.2M499.8 87.7l3.5 1.1M577.5 76l3.5-1.6M581 74.4l3.9 1.3M562.7 77.2l3.5-1.9M566.2 75.3l3.9 1.3M616.3 80.5l2.1-0.2M618.4 80.3l4.2 2.3M525.7 82.1l3.6 1.1M488.5 91l3.5 1.2M475.2 96.5l2-1.6M477.2 94.9l3.4 1.4M603.8 77.6l2.2-0.6M626.7 85.2l2.1-0.1M529.3 83.2l3.8-2.2M473.2 98.2l2-1.7M599.7 75.9l4.1 1.7M540.5 79.9l3.7 1.2M510.7 87.7l3.9-2.3M514.6 85.4l3.5 1.1M492 92.2l3.9-2.3M471.2 100l2-1.8M622.6 82.6l4.1 2.6M588.9 77.1l3.4-1.5M544.2 81.1l3.6-2.1M469.3 102l1.9-2M555.2 78l3.9 1.2M584.9 75.7l4 1.4M614.2 80.9l2.1-0.4M559.1 79.2l3.6-2M574 77.8l3.5-1.8M570.1 76.6l3.9 1.2M503.3 88.8l3.5 1.1M525.6 85.4l3.7-2.2M529.3 83.2l3.7 1.1M624.7 85.4l2-0.2M626.7 85.2l4.2 2.8M489.3 93.9l2.7-1.7M492 92.2l3.4 1.2M600.5 78.8l3.3-1.2M603.8 77.6l4.1 1.9M480.6 96.3l3.4 1.5M506.8 89.9l3.9-2.2M540.5 83.2l3.7-2.1M544.2 81.1l3.8 1.1M518.1 86.5l3.7 1.1M486.6 95.7l2.7-1.8M612 81.5l2.2-0.6M630.9 88l4.2 3.2M585.5 78.7l3.4-1.6M588.9 77.1l4.1 1.5M555.5 81.3l3.6-2.1M559.1 79.2l3.9 1.3M570.5 79.7l3.5-1.9M574 77.8l4 1.3M521.8 87.6l3.8-2.2M607.9 79.5l4.1 2M484 97.8l2.6-2.1M622.6 85.8l2.1-0.4M502.9 92.3l3.9-2.4M506.8 89.9l3.6 1.2M533 84.3l3.7 1.1M495.4 93.4l3.5 1.3M482 99.5l2-1.7M484 97.8l3.5 1.4M597.1 80.2l3.4-1.4M536.7 85.4l3.8-2.2M480 101.5l2-2M548 82.2l3.8 1.2M593 78.6l4.1 1.6M551.8 83.4l3.7-2.1M478.1 103.6l1.9-2.1M608.8 82.6l3.2-1.1M612 81.5l4.2 2.3M517.9 89.9l3.9-2.3M521.8 87.6l3.6 1.2M582 80.5l3.5-1.8M563 80.5l3.9 1.2M578 79.1l4 1.4M498.9 94.7l4-2.4M566.9 81.7l3.6-2M476.1 105.9l2-2.3M620.4 86.3l2.2-0.5M510.4 91.1l3.6 1.2M533 87.7l3.7-2.3M536.7 85.4l3.8 1.2M616.2 83.8l4.2 2.5M487.5 99.2l3.5 1.4M496.3 96.4l2.6-1.7M498.9 94.7l3.6 1.2M593.7 81.8l3.4-1.6M597.1 80.2l4.1 1.7M514 92.3l3.9-2.4M548.1 85.6l3.7-2.2M551.8 83.4l3.9 1.3M578.5 82.4l3.5-1.9M582 80.5l4.1 1.5M563.3 83.8l3.6-2.1M566.9 81.7l4 1.4M525.4 88.8l3.7 1.2M493.6 98.3l2.7-1.9M605.4 83.9l3.4-1.3M617.2 87.3l3.2-1M620.4 86.3l4.2 2.9M529.1 90l3.9-2.3M491 100.6l2.6-2.3M601.2 81.9l4.2 2M540.5 86.6l3.8 1.3M510.1 94.7l3.9-2.4M514 92.3l3.7 1.2M544.3 87.9l3.8-2.3M590.2 83.5l3.5-1.7M624.6 89.2l4.3 3.3M489 102.6l2-2M491 100.6l3.5 1.4M502.5 95.9l3.6 1.2M555.7 84.7l3.9 1.3M586.1 82l4.1 1.5M559.6 86l3.7-2.2M487 104.8l2-2.2M574.9 84.5l3.6-2.1M570.9 83.1l4 1.4M485.1 107.3l1.9-2.5M483.1 109.9l2-2.6M525.3 92.3l3.8-2.3M529.1 90l3.8 1.2M602 85.3l3.4-1.4M605.4 83.9l4.2 2.1M506.1 97.1l4-2.4M613.9 88.4l3.3-1.1M540.6 90.2l3.7-2.3M544.3 87.9l3.9 1.3M517.7 93.5l3.7 1.3M586.6 85.4l3.6-1.9M590.2 83.5l4.1 1.7M555.9 88.2l3.7-2.2M559.6 86l4 1.4M494.5 102l3.6 1.5M503.4 98.9l2.7-1.8M506.1 97.1l3.6 1.3M571.3 86.6l3.6-2.1M574.9 84.5l4.1 1.4M521.4 94.8l3.9-2.5M609.6 86l4.3 2.4M532.9 91.2l3.8 1.3M500.8 101l2.6-2.1M598.5 87l3.5-1.7M536.7 92.5l3.9-2.3M548.2 89.2l3.9 1.3M594.3 85.2l4.2 1.8M610.5 89.7l3.4-1.3M613.9 88.4l4.2 2.7M498.1 103.5l2.7-2.5M517.4 97.2l4-2.4M521.4 94.8l3.7 1.3M552.1 90.5l3.8-2.3M583.1 87.4l3.5-2M563.6 87.4l4 1.4M579 85.9l4.1 1.5M567.6 88.8l3.7-2.2M496.1 105.7l2-2.2M498.1 103.5l3.7 1.5M509.7 98.4l3.7 1.4M494.2 108.2l1.9-2.5M492.2 111l2-2.8M490.3 114l1.9-3M532.9 95l3.8-2.5M536.7 92.5l3.9 1.4M618.1 91.1l4.3 3.2M595 88.8l3.5-1.8M598.5 87l4.3 2M513.4 99.8l4-2.6M548.4 92.9l3.7-2.4M552.1 90.5l4 1.5M579.5 89.6l3.6-2.2M583.1 87.4l4.1 1.6M563.9 91.1l3.7-2.3M567.6 88.8l4.1 1.5M525.1 96.1l3.9 1.3M607 91.2l3.5-1.5M501.8 105l3.6 1.5M529 97.4l3.9-2.4M510.8 101.6l2.6-1.8M513.4 99.8l3.8 1.3M602.8 89l4.2 2.2M540.6 93.9l3.9 1.4M544.5 95.3l3.9-2.4M591.5 90.8l3.5-2M508.1 103.8l2.7-2.2M556.1 92l4 1.4M587.2 89l4.3 1.8M560.1 93.4l3.8-2.3M571.7 90.3l4.1 1.5M575.8 91.8l3.7-2.2M525 100l4-2.6M529 97.4l3.8 1.5M505.4 106.5l2.7-2.7M603.6 92.9l3.4-1.7M607 91.2l4.4 2.6M503.5 109l1.9-2.5M505.4 106.5l3.8 1.6M497.7 118.2l1.9-3.3M501.5 111.8l2-2.8M499.6 114.9l1.9-3.1M517.2 101.1l3.8 1.5M540.6 97.8l3.9-2.5M544.5 95.3l4 1.5M587.9 92.8l3.6-2M591.5 90.8l4.2 1.8M556.3 95.8l3.8-2.4M560.1 93.4l4.1 1.5M611.4 93.8l4.3 2.9M521 102.6l4-2.6M572.1 94.1l3.7-2.3M575.8 91.8l4.2 1.6M532.8 98.9l3.9 1.4M600 94.7l3.6-1.8M536.7 100.3l3.9-2.5M509.2 108.1l3.8 1.7M518.3 104.5l2.7-1.9M521 102.6l3.9 1.5M548.5 96.8l4 1.5M595.7 92.6l4.3 2.1M552.5 98.3l3.8-2.5M584.2 95l3.7-2.2M564.2 94.9l4.1 1.6M568.3 96.5l3.8-2.4M580 93.4l4.2 1.6M515.6 106.9l2.7-2.4M532.8 102.9l3.9-2.6M536.7 100.3l4 1.6M513 109.8l2.6-2.9M505.2 122.5l1.9-3.6M596.4 96.6l3.6-1.9M600 94.7l4.4 2.3M511 112.4l2-2.6M513 109.8l3.8 1.7M507.1 118.9l1.9-3.4M509 115.5l2-3.1M548.6 100.8l3.9-2.5M552.5 98.3l4.1 1.6M524.9 104.1l3.9 1.5M564.5 98.9l3.8-2.4M568.3 96.5l4.2 1.6M580.5 97.3l3.7-2.3M584.2 95l4.3 1.8M528.8 105.6l4-2.7M604.4 97l4.3 2.7M540.7 101.9l4 1.5M544.7 103.4l3.9-2.6M592.8 98.7l3.6-2.1M516.8 111.5l3.9 1.7M556.6 99.9l4.1 1.6M526.1 107.7l2.7-2.1M528.8 105.6l3.9 1.6M588.5 96.8l4.3 1.9M560.7 101.5l3.8-2.6M572.5 98.1l4.2 1.6M576.7 99.7l3.8-2.4M523.4 110.1l2.7-2.4M540.7 106.1l4-2.7M544.7 103.4l4.1 1.7M512.9 126.9l1.9-3.9M520.7 113.2l2.7-3.1M514.8 123l2-3.7M589.1 101l3.7-2.3M592.8 98.7l4.4 2.2M518.7 116l2-2.8M520.7 113.2l4 1.8M516.8 119.3l1.9-3.3M556.8 104.1l3.9-2.6M560.7 101.5l4.2 1.6M532.7 107.2l4 1.7M573 102.2l3.7-2.5M576.7 99.7l4.3 1.8M536.7 108.9l4-2.8M548.8 105.1l4.1 1.6M597.2 100.9l4.4 2.6M552.9 106.7l3.9-2.6M585.4 103.4l3.7-2.4M564.9 103.1l4.2 1.7M524.7 115l4 1.8M581 101.5l4.4 1.9M569.1 104.8l3.9-2.6M534 111l2.7-2.1M536.7 108.9l4.1 1.7M531.3 113.6l2.7-2.6M520.8 131.5l1.9-4.2M548.9 109.5l4-2.8M552.9 106.7l4.2 1.8M522.7 127.3l2-3.9M528.7 116.8l2.6-3.2M581.6 105.9l3.8-2.5M585.4 103.4l4.3 2.1M565.2 107.5l3.9-2.7M569.1 104.8l4.3 1.8M524.7 123.4l2-3.6M526.7 119.8l2-3M528.7 116.8l4 1.9M540.8 110.6l4.1 1.7M544.9 112.3l4-2.8M557.1 108.5l4.2 1.7M589.7 105.5l4.5 2.4M561.3 110.2l3.9-2.7M577.7 108.5l3.9-2.6M573.4 106.6l4.3 1.9M532.7 118.7l4.1 2M542.2 114.5l2.7-2.2M544.9 112.3l4.2 1.8M528.8 136.3l2-4.5M539.5 117.2l2.7-2.7M557.3 113.1l4-2.9M561.3 110.2l4.3 1.9M573.9 111.3l3.8-2.8M577.7 108.5l4.4 2.2M530.8 131.8l2-4.2M536.8 120.7l2.7-3.5M532.8 127.6l2-3.8M534.8 123.8l2-3.1M536.8 120.7l4.2 1.9M549.1 114.1l4.2 1.9M553.3 116l4-2.9M582.1 110.7l4.5 2.4M565.6 112.1l4.3 2M569.9 114.1l4-2.8M541 122.6l4.2 2.1M550.6 118.3l2.7-2.3M553.3 116l4.3 2M537.1 141.2l2-4.8M565.9 117l4-2.9M569.9 114.1l4.4 2.2M547.9 121.1l2.7-2.8M539.1 136.4l2-4.4M545.2 124.7l2.7-3.6M541.1 132l2-4M543.1 128l2.1-3.3M545.2 124.7l4.2 2.1M557.6 118l4.3 2.1M561.9 120.1l4-3.1M574.3 116.3l4.4 2.6M549.4 126.8l4.3 2.2M559.2 122.4l2.7-2.3M561.9 120.1l4.4 2.3M545.6 146.2l2-4.9M556.5 125.3l2.7-2.9M547.6 141.3l2-4.7M549.6 136.6l2.1-4.1M553.7 129l2.8-3.7M551.7 132.5l2-3.5M553.7 129l4.4 2.4M566.3 122.4l4.5 2.6M558.1 131.4l4.4 2.7"/>
<path class="e" d="M547.1 28.4l2-0.2M549.1 28.2l6.2 8.9M555.3 37.1l2.1 4.3M545 29l2.1-0.6M543 29.7l2-0.7M541 30.6l2-0.9M538.9 31.6l2.1-1M536.8 32.6l2.1-1M534.8 33.6l2-1M532.7 34.6l2.1-1M530.6 35.6l2.1-1M528.4 36.6l2.2-1M526.3 37.6l2.1-1M524.2 38.7l2.1-1.1M522 39.8l2.2-1.1M519.8 40.9l2.2-1.1M517.7 42l2.1-1.1M515.5 43.1l2.2-1.1M513.2 44.2l2.3-1.1M511 45.3l2.2-1.1M507.6 47l3.4-1.7M504.2 48.7l3.4-1.7M500.8 50.4l3.4-1.7M613.9 99.7l-2.8-1.7M497.3 52.2l3.5-1.8M617.4 101.7l-3.5-2M493.8 53.9l3.5-1.7M621 103.7l-3.6-2M490.3 55.7l3.5-1.8M624.6 105.6l-3.6-1.9M486.7 57.5l3.6-1.8M653.5 109.9l2.6 1.3M628.4 107.5l-3.8-1.9M658.2 114.6l1.9-1.4M656.1 111.2l4 2M483.1 59.3l3.6-1.8M632.4 109.4l-4-1.9M656.4 116l1.8-1.4M645 114.6l-3.8-1.5M479.5 61.1l3.6-1.8M636.4 111.2l-4-1.8M654.9 117.2l-1.8-0.4M654.8 115.2l0.1 2M654.9 117.2l1.5-1.2M475.8 62.9l3.7-1.8M640.7 112.9l-4.3-1.7M649.7 116l-4.7-1.4M472.1 64.8l3.7-1.9M641.2 113.1l-0.5-0.2M653.1 116.8l-3.4-0.8M653.8 108.5l1 6.7M468.4 66.7l3.7-1.9M464.6 68.6l3.8-1.9M460.7 70.5l3.9-1.9M456.9 72.5l3.8-2M652.7 103.5l1.1 5M453 74.4l3.9-1.9M450.3 75.7l2.7-1.3M447.7 77.1l2.6-1.4M651.3 99.7l1.4 3.8M445 78.4l2.7-1.3M443 79.4l2-1M441 80.5l2-1.1M439 81.5l2-1M436.9 82.6l2.1-1.1M436.9 82.6l6.3 3.8M649.9 96.8l1.4 2.9M648.3 94.6l1.6 2.2M443.2 86.4l6.3 3.9M646.6 93l1.7 1.6M449.5 90.3l6.4 3.9M644.8 91.9l1.8 1.1M642.9 91.3l1.9 0.6M455.9 94.2l6.6 3.9M641 90.9l1.9 0.4M462.5 98.1l3.4 1.9M639.1 90.9l1.9 0M465.9 100l3.4 2M637.1 91l2-0.1M469.3 102l3.4 1.9M635.1 91.2l2-0.2M633 91.6l2.1-0.4M472.7 103.9l3.4 2M631 92l2-0.4M476.1 105.9l3.5 2M628.9 92.5l2.1-0.5M479.6 107.9l3.5 2M625.6 93.3l3.3-0.8M483.1 109.9l3.6 2M622.4 94.3l3.2-1M486.7 111.9l3.6 2.1M490.3 114l3.7 2M619.1 95.4l3.3-1.1M494 116l3.7 2.2M615.7 96.7l3.4-1.3M497.7 118.2l3.7 2.1M612.2 98.1l3.5-1.4M501.4 120.3l3.8 2.2M608.7 99.7l3.5-1.6M505.2 122.5l3.8 2.2M605.2 101.5l3.5-1.8M509 124.7l3.9 2.2M601.6 103.5l3.6-2M512.9 126.9l3.9 2.3M516.8 129.2l4 2.3M597.9 105.6l3.7-2.1M520.8 131.5l4 2.4M594.2 107.9l3.7-2.3M524.8 133.9l4 2.4M590.4 110.4l3.8-2.5M528.8 136.3l4.1 2.4M586.6 113.1l3.8-2.7M532.9 138.7l4.2 2.5M582.7 115.9l3.9-2.8M537.1 141.2l4.2 2.5M578.7 118.9l4-3M541.3 143.7l4.3 2.5M574.8 121.9l3.9-3M545.6 146.2l4.3 2.7M570.8 125l4-3.1M568 127.3l2.8-2.3M554.2 151.6l2.1-5M549.9 148.9l4.3 2.7M556.3 146.6l2.1-4.7M565.3 130.3l2.7-3M558.4 141.9l2.1-4.2M562.5 134.1l2.8-3.8M560.5 137.7l2-3.6"/>
<path d="M424.3 58.1L433.1 114.1M675.6 54.1L667.9 109.9M424.3 58.1L548.6 0.5M548.6 0.5L675.6 54.1M553.5 136.2L424.3 58.1M553.5 136.2L675.6 54.1M553.5 136.2L553.9 197.1M553.9 197.1L433.1 114.1M553.9 197.1L667.9 109.9" stroke="#777" stroke-width="0.7" fill="none"/>
<text x="395.6" y="36.8" font-size="10.4">−Π</text>
<text x="409.4" y="39.3" font-size="6.7">0</text>
<text x="409.6" y="29.9" font-size="6.7" font-style="italic">ζ</text>
<text x="422.9" y="64.6" font-size="7.3" text-anchor="end">0.00005</text>
<text x="425.2" y="81.6" font-size="7.3" text-anchor="end">0.00000</text>
<text x="427.1" y="98.2" font-size="7.3" text-anchor="end">−0.00005</text>
<text x="434.8" y="125.6" font-size="7.3" text-anchor="middle">0</text>
<text x="559.9" y="202.6" font-size="7.3" text-anchor="middle">0</text>
<text x="471.4" y="149.1" font-size="7.6" font-style="italic" text-anchor="middle">π</text>
<path d="M468.9 154.3h5" stroke="#111" stroke-width="1"/>
<text x="471.4" y="164.5" font-size="7.6" text-anchor="middle">6</text>
<text x="512.3" y="177.7" font-size="7.6" font-style="italic" text-anchor="middle">π</text>
<path d="M509.8 182.7h5" stroke="#111" stroke-width="1"/>
<text x="512.3" y="193.1" font-size="7.6" text-anchor="middle">3</text>
<text x="594" y="173.8" font-size="7.6" font-style="italic" text-anchor="middle">π</text>
<path d="M591.5 179h5" stroke="#111" stroke-width="1"/>
<text x="594" y="189.3" font-size="7.6" text-anchor="middle">6</text>
<text x="624" y="151.2" font-size="7.6" font-style="italic" text-anchor="middle">π</text>
<path d="M621.5 156.4h5" stroke="#111" stroke-width="1"/>
<text x="624" y="166.7" font-size="7.6" text-anchor="middle">3</text>
<text x="650.4" y="130.4" font-size="7.6" font-style="italic" text-anchor="middle">π</text>
<path d="M647.9 135.4h5" stroke="#111" stroke-width="1"/>
<text x="650.4" y="145.7" font-size="7.6" text-anchor="middle">2</text>
<text x="488" y="180.6" font-size="10" text-anchor="middle" font-style="italic">ρ</text>
<text x="639.5" y="179.3" font-size="10" text-anchor="middle" font-style="italic">ζ</text>
<path d="M433.1 114.1L437.2 111.9M470.8 140L474.9 137.6M511.6 168.1L515.8 165.3M553.9 197.1L549.5 194.2M588 171L583.7 168.3M617.2 148.7L612.9 146.3M644.8 127.6L640.6 125.4M432.9 112.4L435.4 114.2M432.4 109.3L433.7 110.2M431.9 106.2L433.2 107.1M431.4 103L432.7 103.9M430.9 99.8L432.2 100.7M430.4 96.6L433 98.3M429.9 93.4L431.2 94.3M429.4 90.1L430.7 91M428.8 86.8L430.2 87.7M428.3 83.5L429.7 84.4M427.8 80.2L430.4 81.8M427.3 76.8L428.6 77.6M426.7 73.4L428.1 74.2M426.2 70L427.6 70.8M425.6 66.5L427 67.3M425.1 63L427.8 64.6M424.5 59.5L425.9 60.3" stroke="#666" stroke-width="0.5" fill="none"/>
<path d="M529.4 229.5L531.9 283.6M531.9 283.6L437.1 371.4M531.9 283.6L676 326.6" stroke="#777" stroke-width="0.7" fill="none"/>
<path fill="#005400" d="M532.2 285.1l5-0.2l1-4.8l-4.8 2.6z"/>
<path fill="#009b00" d="M531.3 286l5.1 0.6l1.2-2.6l-4.9 0.2z"/>
<path fill="#00b900" d="M530.5 286.8l5 1l1.4-2l-4.9-0.6z"/>
<path fill="#00c500" d="M529.7 287.6l5 1.2l1.4-1.8l-4.9-0.9z"/>
<path fill="#00cb00" d="M528.9 288.4l5 1.3l1.5-1.7l-5-1.1z"/>
<path fill="#006c00" d="M535.4 286.6l5 0.2l1-3.7l-4.9 1z"/>
<path fill="#009f00" d="M534.5 287.7l5 0.7l1.2-2.5l-4.8-0.2z"/>
<path fill="#005400" d="M536.3 285.1l4.9-1l0.7-8l-4.8 4.6z"/>
<path fill="#00cf00" d="M528.1 289.2l5 1.3l1.5-1.6l-5-1.2z"/>
<path fill="#005400" d="M533.2 283.8l4.8-2.6l-0.5-25.9l-3.8 19.7z"/>
<path fill="#00b800" d="M533.7 288.6l5 1l1.3-2.1l-4.9-0.7z"/>
<path fill="#00d100" d="M527.3 289.9l5 1.5l1.5-1.6l-5-1.4z"/>
<path fill="#00c400" d="M532.9 289.5l5 1.2l1.4-1.9l-4.9-1z"/>
<path fill="#008100" d="M538.6 288.3l5 0.5l1-3.1l-4.9 0.2z"/>
<path fill="#005400" d="M539.4 286.8l5-0.2l0.9-4.9l-4.9 1.6z"/>
<path fill="#00d200" d="M526.5 290.7l5 1.5l1.5-1.6l-5-1.4z"/>
<path fill="#00ca00" d="M532.1 290.3l5 1.3l1.4-1.7l-4.9-1.2z"/>
<path fill="#00a700" d="M537.8 289.4l5 0.9l1.2-2.4l-5-0.5z"/>
<path fill="#00ce00" d="M531.3 291.1l5 1.4l1.5-1.6l-5-1.4z"/>
<path fill="#00d300" d="M525.6 291.5l5 1.5l1.6-1.5l-5-1.5z"/>
<path fill="#00ba00" d="M536.9 290.4l5 1.2l1.3-2.1l-4.9-0.9z"/>
<path fill="#005400" d="M540.2 284.3l4.9-1.6l0.5-11.7l-4.7 6.1z"/>
<path fill="#00d100" d="M530.5 291.9l5 1.5l1.5-1.6l-5-1.4z"/>
<path fill="#00c500" d="M536.1 291.4l5 1.2l1.4-1.8l-5-1.1z"/>
<path fill="#00d400" d="M524.8 292.2l5 1.5l1.6-1.4l-5-1.6z"/>
<path fill="#006700" d="M542.6 288.7l5 0.4l1-3.9l-4.9 0.5z"/>
<path fill="#009200" d="M541.8 290.2l5 0.8l1.1-2.8l-4.9-0.4z"/>
<path fill="#00cb00" d="M535.3 292.2l5 1.4l1.4-1.7l-4.9-1.3z"/>
<path fill="#00d200" d="M529.7 292.7l5 1.5l1.5-1.6l-5-1.4z"/>
<path fill="#005400" d="M543.5 286.6l4.9-0.4l0.8-6.5l-4.9 2.3z"/>
<path fill="#00d300" d="M524 293l5 1.4l1.6-1.4l-5-1.5z"/>
<path fill="#00ae00" d="M541 291.4l5 1l1.2-2.3l-4.9-0.8z"/>
<path fill="#00cf00" d="M534.5 293.1l5 1.4l1.5-1.6l-5-1.4z"/>
<path fill="#00d400" d="M528.8 293.4l5 1.5l1.6-1.4l-5-1.5z"/>
<path fill="#00be00" d="M540.2 292.4l5 1.2l1.3-2l-5-1z"/>
<path fill="#00d200" d="M522.7 294.1l5.1 1.4l2-1.8l-5-1.4z"/>
<path fill="#008200" d="M545.9 290.8l3.6 0.5l1.1-3l-3.6-0.2z"/>
<path fill="#005600" d="M546.7 289l3.6 0.2l0.9-4.4l-3.6 0.5z"/>
<path fill="#00d100" d="M533.7 293.9l5 1.5l1.5-1.6l-5-1.5z"/>
<path fill="#00c700" d="M539.4 293.4l5 1.3l1.3-1.8l-4.9-1.3z"/>
<path fill="#00d300" d="M528 294.1l5 1.5l1.6-1.4l-5-1.5z"/>
<path fill="#00a300" d="M545.1 292.2l3.6 0.8l1.2-2.5l-3.6-0.5z"/>
<path fill="#00b700" d="M544.3 293.4l3.6 0.9l1.3-2.2l-3.7-0.7z"/>
<path fill="#005400" d="M547.5 286.3l3.6-0.5l0.7-7.6l-3.6 2z"/>
<path fill="#0c0" d="M538.6 294.3l5 1.4l1.4-1.7l-5-1.4z"/>
<path fill="#00d400" d="M532.8 294.6l5.1 1.5l1.6-1.4l-5.1-1.5z"/>
<path fill="#00d100" d="M521.5 295.3l5 1.3l2.1-1.8l-5.1-1.4z"/>
<path fill="#007500" d="M548.6 291.2l3.6 0.5l1.1-3.4l-3.7-0.1z"/>
<path fill="#00d200" d="M526.7 295.3l5.1 1.3l2-1.7l-5-1.5z"/>
<path fill="#005400" d="M549.4 289.1l3.6 0.1l0.9-4.8l-3.6 0.6z"/>
<path fill="#005400" d="M544.2 283l4.9-2.2l0.3-16.2l-4.7 7.5z"/>
<path fill="#090" d="M547.8 292.8l3.6 0.7l1.2-2.7l-3.7-0.4z"/>
<path fill="#00c200" d="M543.5 294.5l3.6 1l1.3-2l-3.6-0.9z"/>
<path fill="#00cf00" d="M537.8 295.1l5 1.6l1.4-1.7l-5-1.5z"/>
<path fill="#e6e6e6" d="M540.6 235.2l1-0.8l-3.1-0.4z"/>
<path fill="#005400" d="M537.1 282l4.7-4.5l-0.8-43.1l-1.7-0.7l-2.3 22.9z"/>
<path fill="#00d300" d="M532 295.3l5 1.4l1.7-1.3l-5.1-1.5z"/>
<path fill="#00b000" d="M547 294.1l3.6 0.9l1.3-2.3l-3.7-0.7z"/>
<path fill="#00c900" d="M542.6 295.5l3.7 1l1.4-1.8l-3.7-1z"/>
<path fill="#00d000" d="M520.2 296.4l5.1 1.4l2-1.9l-5-1.4z"/>
<path fill="#006b00" d="M551.3 291.6l3.7 0.4l1-3.6l-3.7-0.1z"/>
<path fill="#00d500" d="M536.8 295.8l5.1 1.5l1.7-1.3l-5.1-1.6z"/>
<path fill="#00bf00" d="M546.2 295.2l3.6 1l1.3-2.1l-3.6-0.8z"/>
<path fill="#00d000" d="M525.5 296.4l5 1.3l2.1-1.8l-5.1-1.4z"/>
<path fill="#008f00" d="M550.5 293.3l3.7 0.7l1.1-2.8l-3.7-0.5z"/>
<path fill="#005400" d="M550.2 285.9l3.6-0.6l0.7-8.7l-3.6 2.2z"/>
<path fill="#005400" d="M552.1 289.2l3.7 0.1l0.8-5.4l-3.6 0.6z"/>
<path fill="#00ce00" d="M541.8 296.4l3.7 1.1l1.4-1.8l-3.6-1z"/>
<path fill="#00d100" d="M530.7 296.4l5.1 1.3l2.1-1.7l-5.1-1.4z"/>
<path fill="#0a0" d="M549.7 294.7l3.7 0.9l1.2-2.4l-3.7-0.7z"/>
<path fill="#00c700" d="M545.4 296.2l3.6 1.1l1.4-1.9l-3.7-1z"/>
<path fill="#00d300" d="M536 296.4l5.1 1.5l1.7-1.3l-5.1-1.5z"/>
<path fill="#00ce00" d="M519 297.6l5 1.3l2.1-1.9l-5.1-1.3z"/>
<path fill="#00ba00" d="M548.9 295.9l3.7 1l1.2-2.1l-3.6-0.9z"/>
<path fill="#00d500" d="M540.9 297l3.7 1.1l1.7-1.3l-3.8-1.2z"/>
<path fill="#006100" d="M554.1 291.9l3.6 0.5l1-4l-3.7 0z"/>
<path fill="#008600" d="M553.3 293.9l3.6 0.6l1.1-3l-3.7-0.4z"/>
<path fill="#00ce00" d="M524.2 297.5l5.1 1.2l2.1-1.7l-5.1-1.4z"/>
<path fill="#0c0" d="M544.6 297.2l3.6 1.1l1.4-1.8l-3.6-1z"/>
<path fill="#00a300" d="M552.5 295.4l3.6 0.8l1.2-2.5l-3.7-0.7z"/>
<path fill="#00c400" d="M548.1 297l3.7 1.1l1.3-2l-3.7-0.9z"/>
<path fill="#00cf00" d="M529.5 297.4l5.1 1.3l2.1-1.7l-5.1-1.4z"/>
<path fill="#005400" d="M554.8 289.3l3.7 0l0.8-6l-3.6 0.7z"/>
<path fill="#00d100" d="M534.7 297.4l5.2 1.3l2.1-1.5l-5.2-1.5z"/>
<path fill="#005400" d="M552.9 285.5l3.6-0.7l0.7-10l-3.6 2.4z"/>
<path fill="#00b600" d="M551.7 296.7l3.6 0.9l1.2-2.2l-3.6-0.8z"/>
<path fill="#00d300" d="M540 297.6l3.8 1l1.8-1.2l-3.9-1.1z"/>
<path fill="#00d500" d="M543.6 297.8l3.8 1.1l1.7-1.3l-3.9-1.1z"/>
<path fill="#005400" d="M548.2 281.3l3.6-2l0.2-19.5l-3.4 5.9z"/>
<path fill="#00cb00" d="M547.3 298l3.7 1.1l1.3-1.8l-3.6-1z"/>
<path fill="#007e00" d="M556 294.4l3.7 0.7l1-3.3l-3.6-0.4z"/>
<path fill="#005a00" d="M556.8 292.3l3.7 0.4l0.9-4.3l-3.7 0z"/>
<path fill="#0c0" d="M522.9 298.6l5.1 1.2l2.1-1.8l-5.1-1.2z"/>
<path fill="#009c00" d="M555.2 296l3.7 0.9l1.1-2.7l-3.6-0.7z"/>
<path fill="#00c200" d="M550.9 297.8l3.6 1.1l1.3-2.1l-3.6-0.9z"/>
<path fill="#0c0" d="M516.4 299.9l5.1 1.2l3.3-2.9l-5.1-1.4z"/>
<path fill="#0c0" d="M528.2 298.5l5.1 1.2l2.2-1.7l-5.2-1.3z"/>
<path fill="#00b100" d="M554.4 297.4l3.7 1l1.2-2.4l-3.7-0.8z"/>
<path fill="#00d300" d="M542.7 298.3l3.8 1l1.9-1.1l-3.9-1.1z"/>
<path fill="#00d500" d="M546.3 298.5l3.8 1.2l1.7-1.2l-3.8-1.2z"/>
<path fill="#005400" d="M557.6 289.3l3.6 0l0.9-6.6l-3.7 0.8z"/>
<path fill="#00d000" d="M538.7 298.5l3.9 0.9l2.2-1.5l-3.9-1z"/>
<path fill="#00c900" d="M550.1 298.9l3.6 1.1l1.4-1.9l-3.7-1.1z"/>
<path fill="#00ce00" d="M533.5 298.4l5.2 1.2l2.1-1.5l-5.2-1.4z"/>
<path fill="#007600" d="M558.8 294.9l3.7 0.7l1-3.5l-3.7-0.4z"/>
<path fill="#00bf00" d="M553.6 298.6l3.7 1.1l1.3-2.1l-3.7-1z"/>
<path fill="#009600" d="M558 296.7l3.7 0.8l1-2.8l-3.6-0.7z"/>
<path fill="#005400" d="M559.6 292.6l3.6 0.4l0.9-4.6l-3.6 0z"/>
<path fill="#005400" d="M555.6 285l3.6-0.8l0.7-11.2l-3.6 2.5z"/>
<path fill="#00ac00" d="M557.2 298.1l3.7 1l1.1-2.4l-3.6-0.9z"/>
<path fill="#00d200" d="M545.3 299l4 1.1l1.9-1.1l-4-1.1z"/>
<path fill="#00d500" d="M549 299.3l3.8 1.1l1.8-1.1l-3.9-1.2z"/>
<path fill="#00c700" d="M552.8 299.7l3.7 1.1l1.3-1.9l-3.7-1.1z"/>
<path fill="#00c900" d="M526.9 299.6l5.2 1l2.2-1.7l-5.2-1.1z"/>
<path fill="#00d000" d="M541.4 299.1l3.9 1l2.3-1.4l-3.9-1.1z"/>
<path fill="#e6e6e6" d="M544.5 236.6l1.3-1.1l-5.2-1.4l-0.9 0.8z"/>
<path fill="#005400" d="M540.9 278.5l4.7-6.1l-0.7-36.6l-4.8-1.7z"/>
<path fill="#00c800" d="M520.4 300.9l5.1 1l3.4-2.8l-5.1-1.2z"/>
<path fill="#0b0" d="M556.4 299.4l3.7 1l1.2-2.1l-3.7-1z"/>
<path fill="#007000" d="M561.6 295.4l3.6 0.7l1-3.7l-3.7-0.4z"/>
<path fill="#00cb00" d="M532.2 299.4l5.2 1.1l2.2-1.6l-5.2-1.2z"/>
<path fill="#00cd00" d="M537.5 299.4l3.9 0.8l2.2-1.5l-3.9-0.9z"/>
<path fill="#005400" d="M560.3 289.3l3.7 0l0.8-7.2l-3.7 0.8z"/>
<path fill="#008f00" d="M560.8 297.3l3.6 0.9l1.1-3l-3.7-0.7z"/>
<path fill="#005400" d="M562.3 292.9l3.7 0.4l0.9-4.9l-3.7 0z"/>
<path fill="#005400" d="M550.8 279.8l3.6-2.1l0.2-23.2l-3.4 6.4z"/>
<path fill="#00a800" d="M560 298.9l3.7 0.9l1.1-2.5l-3.7-0.8z"/>
<path fill="#00d400" d="M551.7 300.1l3.9 1.1l1.8-1l-3.9-1.2z"/>
<path fill="#00d100" d="M548 299.7l4 1.1l2-0.9l-4-1.2z"/>
<path fill="#00c500" d="M555.6 300.5l3.7 1.2l1.3-2l-3.7-1.1z"/>
<path fill="#00c900" d="M513.8 302.3l5.1 1.1l3.4-3l-5.1-1.2z"/>
<path fill="#00cf00" d="M544.1 299.8l4 0.9l2.3-1.2l-4-1.1z"/>
<path fill="#00b800" d="M559.2 300.2l3.7 1l1.2-2.2l-3.7-1z"/>
<path fill="#005400" d="M558.3 284.4l3.7-0.8l0.7-12.5l-3.7 2.5z"/>
<path fill="#006a00" d="M564.3 295.9l3.7 0.7l1-3.8l-3.7-0.5z"/>
<path fill="#0c0" d="M540.2 300l3.9 0.8l2.3-1.4l-4-1z"/>
<path fill="#008a00" d="M563.6 298l3.6 0.8l1.1-3.1l-3.7-0.6z"/>
<path fill="#00c700" d="M530.9 300.4l5.3 1l2.2-1.6l-5.3-1.1z"/>
<path fill="#00d400" d="M554.4 300.9l4 1.1l1.9-1l-4-1.2z"/>
<path fill="#00a300" d="M562.8 299.6l3.6 1l1.2-2.6l-3.7-0.9z"/>
<path fill="#00c900" d="M536.2 300.3l3.9 0.8l2.3-1.6l-3.9-0.8z"/>
<path fill="#00d000" d="M550.7 300.5l4.1 1.1l2-0.9l-4.1-1.2z"/>
<path fill="#005400" d="M563.1 289.3l3.7 0l0.8-7.8l-3.7 0.8z"/>
<path fill="#00c300" d="M558.4 301.4l3.7 1.1l1.2-2.1l-3.6-1z"/>
<path fill="#005400" d="M565.1 293.2l3.7 0.4l0.9-5.2l-3.7 0z"/>
<path fill="#00c500" d="M524.4 301.7l5.2 0.9l3.4-2.7l-5.2-1.1z"/>
<path fill="#00ce00" d="M546.8 300.4l4 1l2.4-1.2l-4-1.1z"/>
<path fill="#00b500" d="M562 301l3.7 1l1.1-2.3l-3.6-0.9z"/>
<path fill="#008400" d="M566.4 298.6l3.6 0.9l1.1-3.2l-3.7-0.7z"/>
<path fill="#006500" d="M567.1 296.4l3.7 0.7l1-4l-3.7-0.4z"/>
<path fill="#00cb00" d="M542.8 300.6l4.1 0.8l2.3-1.3l-4-1z"/>
<path fill="#00d300" d="M557.1 301.7l4 1.1l2-0.9l-4.1-1.3z"/>
<path fill="#00c400" d="M517.8 303.2l5.2 0.9l3.4-2.9l-5.2-1.1z"/>
<path fill="#009f00" d="M565.6 300.3l3.7 1l1.1-2.7l-3.7-0.8z"/>
<path fill="#00c000" d="M561.2 302.2l3.7 1.1l1.2-2.1l-3.7-1z"/>
<path fill="#00cf00" d="M553.5 301.2l4 1.1l2.1-0.8l-4.1-1.2z"/>
<path fill="#00c800" d="M538.9 300.8l4 0.8l2.3-1.5l-4-0.8z"/>
<path fill="#005400" d="M567.9 293.5l3.7 0.5l0.9-5.6l-3.7 0z"/>
<path fill="#e6e6e6" d="M548.6 237.9l1.4-1.3l-5.2-1.4l-1.3 1.1z"/>
<path fill="#005400" d="M544.8 273.4l4.7-7.4l-0.6-29l-5-1.5z"/>
<path fill="#00cd00" d="M549.5 301.1l4.1 0.9l2.4-1l-4.1-1.1z"/>
<path fill="#00b200" d="M564.8 301.8l3.7 1l1.1-2.3l-3.6-1z"/>
<path fill="#00c600" d="M534.9 301.2l4 0.7l2.3-1.6l-4-0.8z"/>
<path fill="#005400" d="M561.1 283.8l3.6-0.8l0.7-13.9l-3.7 2.6z"/>
<path fill="#005400" d="M565.9 289.3l3.7 0l0.8-8.4l-3.7 0.8z"/>
<path fill="#00c600" d="M511.2 304.7l5.1 1l3.4-3l-5.1-1.2z"/>
<path fill="#008000" d="M569.2 299.3l3.7 0.8l1-3.3l-3.7-0.7z"/>
<path fill="#005400" d="M553.5 278.3l3.6-2.3l0.2-27.1l-3.4 6.8z"/>
<path fill="#006100" d="M569.9 297l3.7 0.7l1-4.2l-3.7-0.5z"/>
<path fill="#00ca00" d="M545.5 301.1l4.1 0.9l2.4-1.2l-4.1-1z"/>
<path fill="#00d200" d="M559.8 302.5l4.1 1.1l2-0.9l-4.1-1.2z"/>
<path fill="#009a00" d="M568.4 301.1l3.7 1l1.1-2.8l-3.7-0.9z"/>
<path fill="#00be00" d="M564 303.1l3.7 1.1l1.2-2.2l-3.7-1z"/>
<path fill="#00c200" d="M528.4 302.4l5.3 0.8l3.5-2.5l-5.3-1z"/>
<path fill="#00cd00" d="M556.2 301.9l4.1 1.1l2.1-0.6l-4.1-1.3z"/>
<path fill="#00c700" d="M541.6 301.3l4 0.8l2.5-1.4l-4.2-0.8z"/>
<path fill="#00ae00" d="M567.6 302.6l3.7 1.1l1.1-2.5l-3.7-1z"/>
<path fill="#00cb00" d="M552.3 301.7l4 1l2.5-0.9l-4.1-1.2z"/>
<path fill="#005400" d="M570.7 293.9l3.7 0.5l0.9-5.9l-3.7-0.1z"/>
<path fill="#00c400" d="M537.6 301.7l4.1 0.6l2.3-1.4l-4-0.8z"/>
<path fill="#007c00" d="M572 299.9l3.7 0.9l1-3.4l-3.7-0.8z"/>
<path fill="#00c000" d="M521.8 303.9l5.3 0.7l3.4-2.7l-5.2-0.9z"/>
<path fill="#00d100" d="M562.6 303.2l4.1 1.2l2.1-0.8l-4.2-1.3z"/>
<path fill="#00bc00" d="M566.8 303.9l3.7 1.2l1.2-2.3l-3.7-1z"/>
<path fill="#009700" d="M571.2 301.8l3.7 1l1.1-2.8l-3.7-0.9z"/>
<path fill="#005d00" d="M572.8 297.5l3.7 0.8l0.9-4.4l-3.7-0.5z"/>
<path fill="#00c900" d="M548.3 301.7l4.1 0.8l2.4-1l-4.1-1.1z"/>
<path fill="#005400" d="M568.7 289.3l3.7 0l0.8-8.9l-3.7 0.7z"/>
<path fill="#00cb00" d="M559 302.5l4.1 1.2l2.1-0.5l-4.1-1.3z"/>
<path fill="#00ab00" d="M570.4 303.4l3.7 1.1l1.1-2.5l-3.7-1z"/>
<path fill="#005400" d="M563.8 283.2l3.7-0.8l0.7-15.2l-3.7 2.6z"/>
<path fill="#00c600" d="M544.3 301.8l4.1 0.8l2.4-1.3l-4.1-0.8z"/>
<path fill="#00ca00" d="M555 302.3l4.1 1l2.5-0.7l-4.1-1.3z"/>
<path fill="#00c000" d="M515.2 305.5l5.2 0.8l3.5-3l-5.2-0.9z"/>
<path fill="#00c000" d="M532.4 303.1l4 0.5l3.6-2.4l-4-0.7z"/>
<path fill="#00d000" d="M565.4 304l4.1 1.2l2.1-0.7l-4.1-1.3z"/>
<path fill="#005400" d="M573.5 294.2l3.7 0.6l0.9-6.2l-3.7-0.2z"/>
<path fill="#007800" d="M574.8 300.6l3.7 0.9l1-3.5l-3.7-0.8z"/>
<path fill="#00c300" d="M540.3 302.1l4.1 0.7l2.4-1.4l-4.1-0.8z"/>
<path fill="#00ba00" d="M569.6 304.8l3.7 1.1l1.2-2.2l-3.7-1.1z"/>
<path fill="#009300" d="M574 302.6l3.7 1l1.1-3l-3.7-0.9z"/>
<path fill="#00ca00" d="M561.8 303.2l4.1 1.3l2.1-0.4l-4.1-1.4z"/>
<path fill="#005a00" d="M575.6 298.1l3.7 0.7l0.9-4.5l-3.7-0.6z"/>
<path fill="#e6e6e6" d="M551.3 238.7l1.6-1.3l-3.9-1.1l-1.5 1.3z"/>
<path fill="#005400" d="M548.7 267.1l3.4-6l-0.4-23.3l-3.7-1z"/>
<path fill="#00c700" d="M551 302.2l4.1 0.9l2.5-1l-4.1-1z"/>
<path fill="#00c400" d="M508.5 307.1l5.2 1l3.5-3.1l-5.2-1.1z"/>
<path fill="#00a900" d="M573.2 304.2l3.7 1.1l1.2-2.6l-3.7-1z"/>
<path fill="#005400" d="M571.5 289.3l3.7 0.1l0.8-9.5l-3.7 0.6z"/>
<path fill="#00c800" d="M557.8 302.9l4.1 1.1l2.5-0.7l-4.1-1.2z"/>
<path fill="#00c400" d="M547.1 302.3l4.1 0.7l2.4-1.1l-4.1-0.9z"/>
<path fill="#005400" d="M556.2 276.6l3.7-2.5l0.1-31.2l-3.5 7.1z"/>
<path fill="#00b800" d="M572.5 305.6l3.7 1.2l1.1-2.3l-3.7-1.1z"/>
<path fill="#00bc00" d="M525.8 304.5l5.3 0.6l3.6-2.6l-5.4-0.8z"/>
<path fill="#007500" d="M577.6 301.3l3.8 0.9l1-3.6l-3.8-0.8z"/>
<path fill="#00be00" d="M535.1 303.4l4.1 0.5l3.6-2.3l-4.1-0.7z"/>
<path fill="#009000" d="M576.9 303.3l3.7 1.1l1-3l-3.7-1z"/>
<path fill="#005400" d="M576.4 294.6l3.7 0.6l0.9-6.5l-3.8-0.2z"/>
<path fill="#00c100" d="M543.1 302.5l4.1 0.7l2.4-1.3l-4.1-0.8z"/>
<path fill="#005800" d="M578.4 298.7l3.7 0.8l1-4.7l-3.7-0.6z"/>
<path fill="#00c500" d="M553.8 302.7l4.1 0.9l2.5-0.8l-4.1-1.1z"/>
<path fill="#00a600" d="M576.1 305l3.7 1.1l1.1-2.6l-3.7-1z"/>
<path fill="#005400" d="M566.6 282.6l3.7-0.8l0.7-16.5l-3.7 2.5z"/>
<path fill="#00ba00" d="M519.2 306.2l5.3 0.5l3.5-2.8l-5.3-0.7z"/>
<path fill="#00c600" d="M560.6 303.5l4.1 1.1l2.5-0.5l-4.1-1.3z"/>
<path fill="#00b600" d="M575.3 306.5l3.7 1.1l1.2-2.3l-3.7-1.1z"/>
<path fill="#00c300" d="M549.8 302.7l4.1 0.8l2.5-1l-4.1-0.9z"/>
<path fill="#007300" d="M580.5 302l3.7 1l1-3.8l-3.7-0.8z"/>
<path fill="#008e00" d="M579.7 304.1l3.7 1.1l1.1-3.1l-3.7-1z"/>
<path fill="#005400" d="M574.3 289.3l3.7 0.2l0.9-10.1l-3.8 0.6z"/>
<path fill="#0b0" d="M512.5 307.9l5.3 0.6l3.5-3l-5.2-0.7z"/>
<path fill="#00bd00" d="M537.8 303.7l4.1 0.4l3.7-2l-4.1-0.7z"/>
<path fill="#00a400" d="M578.9 305.9l3.8 1.1l1.1-2.7l-3.8-1z"/>
<path fill="#005400" d="M579.2 295l3.7 0.7l0.9-6.7l-3.7-0.3z"/>
<path fill="#005600" d="M581.3 299.3l3.7 0.8l1-4.8l-3.8-0.7z"/>
<path fill="#00c000" d="M545.8 302.9l4.1 0.6l2.5-1.1l-4.1-0.8z"/>
<path fill="#00c400" d="M556.6 303.2l4.1 1l2.5-0.7l-4.1-1.1z"/>
<path fill="#e6e6e6" d="M554.1 239.5l1.6-1.4l-3.9-1l-1.5 1.3z"/>
<path fill="#005400" d="M551.4 262.3l3.4-6.4l-0.3-17.3l-3.7-1z"/>
<path fill="#00b900" d="M529.8 304.9l4.1 0.4l3.7-2.5l-4.2-0.5z"/>
<path fill="#00b400" d="M578.2 307.4l3.7 1.1l1.1-2.4l-3.7-1.1z"/>
<path fill="#00c000" d="M505.9 309.6l5.2 0.8l3.5-3.1l-5.2-1z"/>
<path fill="#007100" d="M583.3 302.7l3.8 1l1-3.8l-3.8-0.9z"/>
<path fill="#008c00" d="M582.6 304.9l3.7 1.1l1-3.1l-3.7-1z"/>
<path fill="#00c100" d="M552.6 303.1l4.1 0.9l2.5-0.9l-4.1-0.9z"/>
<path fill="#00a300" d="M581.8 306.7l3.7 1.1l1.1-2.7l-3.7-1z"/>
<path fill="#050" d="M584.1 299.9l3.8 0.9l0.9-4.9l-3.7-0.8z"/>
<path fill="#005400" d="M577.1 289.4l3.8 0.2l0.9-10.5l-3.8 0.5z"/>
<path fill="#005400" d="M569.4 282l3.7-0.7l0.8-17.9l-3.8 2.5z"/>
<path fill="#005400" d="M582.1 295.5l3.7 0.7l0.9-6.9l-3.8-0.4z"/>
<path fill="#00c200" d="M559.4 303.7l4.1 1l2.5-0.5l-4.1-1.2z"/>
<path fill="#0b0" d="M540.6 303.9l4.1 0.5l3.7-1.9l-4.2-0.7z"/>
<path fill="#00be00" d="M548.6 303.2l4.1 0.7l2.5-1l-4.1-0.8z"/>
<path fill="#005400" d="M559 274.7l3.6-2.5l0.3-31.2l-2-0.6l-1.6 3.7z"/>
<path fill="#00b300" d="M581 308.2l3.8 1.2l1.1-2.4l-3.7-1.1z"/>
<path fill="#00b500" d="M523.1 306.6l5.5 0.3l3.6-2.6l-5.4-0.6z"/>
<path fill="#008b00" d="M585.4 305.7l3.8 1.1l1-3.2l-3.7-1z"/>
<path fill="#007000" d="M586.2 303.5l3.8 1l1-3.9l-3.8-0.9z"/>
<path fill="#00b600" d="M532.5 305.1l4.1 0.3l3.7-2.3l-4.1-0.5z"/>
<path fill="#00a100" d="M584.7 307.5l3.7 1.2l1.1-2.8l-3.8-1z"/>
<path fill="#00c000" d="M555.4 303.6l4.1 0.8l2.5-0.7l-4.1-1z"/>
<path fill="#005400" d="M587 300.6l3.8 0.9l0.9-5l-3.8-0.8z"/>
<path fill="#00b400" d="M516.5 308.4l5.4 0.3l3.6-2.8l-5.4-0.5z"/>
<path fill="#005400" d="M584.9 296l3.8 0.8l0.9-7.1l-3.8-0.5z"/>
<path fill="#00b200" d="M583.9 309.1l3.7 1.1l1.2-2.4l-3.8-1.1z"/>
<path fill="#005400" d="M580 289.6l3.7 0.3l0.9-11l-3.8 0.3z"/>
<path fill="#008a00" d="M588.3 306.5l3.8 1.1l1-3.2l-3.7-1z"/>
<path fill="#006f00" d="M589.1 304.3l3.8 1l0.9-3.9l-3.7-1z"/>
<path fill="#00b700" d="M509.8 310.3l5.3 0.4l3.6-3l-5.3-0.6z"/>
<path fill="#00bd00" d="M551.4 303.6l4.1 0.7l2.5-0.9l-4.1-0.8z"/>
<path fill="#00b900" d="M543.3 304.1l4.2 0.5l3.7-1.7l-4.2-0.7z"/>
<path fill="#e6e6e6" d="M556.9 240.2l1.6-1.4l-3.9-1l-1.5 1.4z"/>
<path fill="#005400" d="M554 257l3.4-6.8l-0.1-10.8l-3.7-1z"/>
<path fill="#00a000" d="M587.5 308.4l3.8 1.1l1.1-2.7l-3.8-1.1z"/>
<path fill="#005400" d="M572.2 281.5l3.8-0.7l0.8-19.1l-3.8 2.3z"/>
<path fill="#00bd00" d="M503.2 312l5.2 0.8l3.5-3.2l-5.2-0.8z"/>
<path fill="#005400" d="M589.9 301.3l3.8 1l0.9-5.1l-3.8-0.9z"/>
<path fill="#00b400" d="M535.3 305.3l4.1 0.2l3.7-2.1l-4.1-0.5z"/>
<path fill="#00b100" d="M586.8 310l3.7 1.1l1.2-2.4l-3.8-1.1z"/>
<path fill="#00b100" d="M527.2 306.8l4.1 0.2l3.7-2.5l-4.1-0.4z"/>
<path fill="#005400" d="M587.8 296.6l3.8 0.8l0.9-7.2l-3.8-0.7z"/>
<path fill="#005400" d="M561.7 272.9l3.7-2.6l0.3-28.4l-3.7-1.2z"/>
<path fill="#008900" d="M591.2 307.4l3.8 1.1l1-3.2l-3.8-1.1z"/>
<path fill="#006f00" d="M592 305.1l3.8 1l1-3.9l-3.8-1z"/>
<path fill="#00a000" d="M590.4 309.3l3.8 1.1l1.1-2.8l-3.8-1.1z"/>
<path fill="#005400" d="M582.9 289.8l3.7 0.4l0.9-11.4l-3.8 0.2z"/>
<path fill="#0b0" d="M554.2 303.9l4.1 0.7l2.5-0.7l-4.1-0.9z"/>
<path fill="#00b800" d="M546.1 304.3l4.2 0.5l3.7-1.5l-4.2-0.7z"/>
<path fill="#005400" d="M592.8 302.1l3.8 1l0.9-5.1l-3.8-1z"/>
<path fill="#00b000" d="M589.7 310.9l3.7 1.1l1.2-2.4l-3.8-1.2z"/>
<path fill="#008900" d="M594.1 308.2l3.8 1.2l1-3.3l-3.8-1.1z"/>
<path fill="#00ae00" d="M520.5 308.7l5.5 0.1l3.7-2.7l-5.5-0.3z"/>
<path fill="#006f00" d="M594.9 305.9l3.8 1.1l1-3.9l-3.8-1.1z"/>
<path fill="#005400" d="M590.7 297.2l3.8 0.9l0.9-7.4l-3.8-0.7z"/>
<path fill="#00b200" d="M538 305.4l4.2 0.2l3.7-1.9l-4.2-0.5z"/>
<path fill="#00a000" d="M593.3 310.1l3.8 1.2l1.1-2.8l-3.8-1.1z"/>
<path fill="#00ae00" d="M530 306.9l4.1 0.1l3.7-2.4l-4.2-0.3z"/>
<path fill="#00ae00" d="M513.8 310.7l5.4 0.1l3.7-2.9l-5.4-0.3z"/>
<path fill="#005400" d="M595.7 302.9l3.8 1.1l0.9-5.2l-3.7-1.1z"/>
<path fill="#005400" d="M575.1 280.9l3.7-0.5l0.9-20.4l-3.8 2.2z"/>
<path fill="#00b000" d="M592.6 311.7l3.8 1.2l1.1-2.5l-3.8-1.1z"/>
<path fill="#005400" d="M564.5 270.9l3.7-2.6l0.2-25.5l-3.6-1.2z"/>
<path fill="#005400" d="M585.7 290.1l3.8 0.5l1-11.7l-3.9-0.1z"/>
<path fill="#e6e6e6" d="M559.8 241l1.6-1.4l-3.9-1l-1.6 1.4z"/>
<path fill="#005400" d="M556.7 251.4l3.5-7.1l-0.1-4.1l-3.7-1.1z"/>
<path fill="#008a00" d="M597 309.1l3.8 1.1l1-3.2l-3.7-1.1z"/>
<path fill="#007000" d="M597.8 306.7l3.8 1.2l1-3.9l-3.8-1.2z"/>
<path fill="#00b100" d="M507.1 312.7l5.4 0.3l3.6-3.1l-5.3-0.4z"/>
<path fill="#00b600" d="M548.9 304.5l4.2 0.5l3.7-1.3l-4.2-0.7z"/>
<path fill="#005400" d="M593.6 297.9l3.8 1l1-7.5l-3.9-0.8z"/>
<path fill="#00a000" d="M596.3 311l3.7 1.2l1.1-2.8l-3.8-1.2z"/>
<path fill="#00ba00" d="M500.4 314.5l5.3 0.7l3.6-3.2l-5.3-0.8z"/>
<path fill="#050" d="M598.6 303.7l3.8 1.2l1-5.2l-3.8-1.2z"/>
<path fill="#00b000" d="M595.5 312.6l3.8 1.2l1.1-2.5l-3.8-1.1z"/>
<path fill="#00b000" d="M540.8 305.4l4.2 0.3l3.7-1.8l-4.2-0.5z"/>
<path fill="#008b00" d="M600 310l3.7 1.2l1.1-3.2l-3.8-1.2z"/>
<path fill="#007100" d="M600.7 307.6l3.8 1.2l1-3.9l-3.8-1.2z"/>
<path fill="#00a900" d="M524.6 308.7l4.1 0l3.7-2.5l-4.1-0.2z"/>
<path fill="#00a100" d="M599.2 311.9l3.8 1.2l1-2.8l-3.7-1.2z"/>
<path fill="#005400" d="M588.6 290.4l3.8 0.7l1-12l-3.8-0.3z"/>
<path fill="#00ac00" d="M532.7 306.9l4.2 0.1l3.6-2.2l-4.1-0.3z"/>
<path fill="#005400" d="M596.5 298.6l3.8 1.1l1-7.5l-3.8-1z"/>
<path fill="#005600" d="M601.5 304.6l3.8 1.2l1-5.1l-3.8-1.3z"/>
<path fill="#00b500" d="M551.8 304.6l4.1 0.6l3.7-1.1l-4.1-0.7z"/>
<path fill="#e6e6e6" d="M570.9 244.5l1.2-1.2l-3.9-1l-1.1 1z"/>
<path fill="#005400" d="M567.3 268.9l3.7-2.5l0.3-22.8l-3.8-1.1z"/>
<path fill="#00b100" d="M598.4 313.5l3.8 1.2l1.1-2.5l-3.8-1.1z"/>
<path fill="#005400" d="M577.9 280.5l3.8-0.5l0.9-21.4l-3.8 2z"/>
<path fill="#008d00" d="M602.9 310.9l3.8 1.2l1-3.2l-3.8-1.2z"/>
<path fill="#007300" d="M603.7 308.6l3.8 1.2l1-3.9l-3.8-1.3z"/>
<path fill="#00a200" d="M602.1 312.8l3.8 1.2l1.1-2.8l-3.8-1.2z"/>
<path fill="#005400" d="M599.4 299.4l3.8 1.2l1-7.4l-3.8-1.2z"/>
<path fill="#00a700" d="M517.9 310.8l5.4-0.2l3.8-2.6l-5.5-0.2z"/>
<path fill="#e6e6e6" d="M561.1 241.4l1.5 0.4l1.6-1.4l-3.9-1.1l-1.6 1.4z"/>
<path fill="#005400" d="M559.5 245.5l2.3-4.9l-2.6-0.7z"/>
<path fill="#005800" d="M604.5 305.5l3.8 1.3l1-5.1l-3.8-1.3z"/>
<path fill="#005400" d="M591.5 290.9l3.8 0.7l1-12.1l-3.8-0.5z"/>
<path fill="#00af00" d="M543.6 305.5l4.2 0.2l3.7-1.5l-4.2-0.5z"/>
<path fill="#00b200" d="M601.3 314.4l3.9 1.2l1.1-2.5l-3.8-1.1z"/>
<path fill="#00a700" d="M511.1 313l5.5-0.1l3.7-3l-5.5-0.1z"/>
<path fill="#008f00" d="M605.8 311.8l3.8 1.2l1.1-3.1l-3.8-1.3z"/>
<path fill="#007500" d="M606.6 309.5l3.8 1.3l1-3.9l-3.8-1.3z"/>
<path fill="#00a900" d="M535.5 306.9l4.1 0l3.7-2l-4.1-0.3z"/>
<path fill="#00a600" d="M527.4 308.7l4.1-0.1l3.7-2.4l-4.1-0.1z"/>
<path fill="#00ac00" d="M504.4 315.1l5.4 0.2l3.7-3.2l-5.4-0.3z"/>
<path fill="#00a400" d="M605.1 313.7l3.8 1.2l1-2.7l-3.8-1.2z"/>
<path fill="#005400" d="M602.4 300.3l3.8 1.3l1-7.4l-3.8-1.3z"/>
<path fill="#005a00" d="M607.4 306.5l3.8 1.3l1-4.9l-3.8-1.5z"/>
<path fill="#00b700" d="M497.6 317.1l5.3 0.6l3.6-3.3l-5.2-0.7z"/>
<path fill="#e6e6e6" d="M573.8 245.3l1.2-1.2l-3.9-1l-1.2 1.1z"/>
<path fill="#005400" d="M570.1 267l3.8-2.5l0.2-20.1l-3.7-1.1z"/>
<path fill="#00b300" d="M604.3 315.3l3.8 1.2l1.1-2.4l-3.8-1.2z"/>
<path fill="#007800" d="M609.6 310.5l3.8 1.3l1-3.8l-3.8-1.4z"/>
<path fill="#009200" d="M608.8 312.8l3.8 1.2l1-3.1l-3.8-1.3z"/>
<path fill="#005400" d="M580.8 280.1l3.8-0.3l1-22.4l-3.9 1.7z"/>
<path fill="#005400" d="M594.4 291.5l3.9 0.8l1-12.3l-3.8-0.7z"/>
<path fill="#00ca00" d="M600 314l4.2 1.6l2-0.4l-4.2-1.5z"/>
<path fill="#e6e6e6" d="M561.6 241.5l3.9 1l1.6-1.4l-3.9-1z"/>
<path fill="#00a600" d="M608 314.6l3.8 1.2l1.1-2.6l-3.8-1.3z"/>
<path fill="#005400" d="M605.3 301.3l3.8 1.3l1-7.2l-3.8-1.5z"/>
<path fill="#005d00" d="M610.4 307.5l3.8 1.4l1-4.8l-3.8-1.6z"/>
<path fill="#00ad00" d="M546.4 305.4l4.2 0.3l3.7-1.3l-4.2-0.5z"/>
<path fill="#007c00" d="M612.5 311.5l3.9 1.3l1-3.6l-3.9-1.5z"/>
<path fill="#009500" d="M611.7 313.7l3.9 1.3l1-3l-3.8-1.4z"/>
<path fill="#00b400" d="M607.3 316.2l3.8 1.2l1.1-2.4l-3.8-1.2z"/>
<path fill="#00a100" d="M522 310.6l4.1-0.2l3.7-2.5l-4.1 0z"/>
<path fill="#00cb00" d="M602.9 315l4.2 1.5l2.1-0.4l-4.2-1.5z"/>
<path fill="#00a700" d="M538.3 306.8l4.1 0l3.7-1.8l-4.1-0.3z"/>
<path fill="#005400" d="M597.4 292.1l3.8 1.1l1.1-12.4l-3.9-1z"/>
<path fill="#005400" d="M608.3 302.3l3.8 1.5l1-7.2l-3.8-1.6z"/>
<path fill="#00a300" d="M530.1 308.5l4.2-0.1l3.7-2.2l-4.2-0.1z"/>
<path fill="#00a900" d="M611 315.6l3.8 1.2l1.1-2.7l-3.8-1.2z"/>
<path fill="#006100" d="M613.3 308.6l3.9 1.4l1-4.7l-3.9-1.6z"/>
<path fill="#e6e6e6" d="M564.5 242.3l3.9 1l1.6-1.4l-3.9-1.1z"/>
<path fill="#008000" d="M615.5 312.5l3.8 1.4l1.1-3.6l-3.9-1.5z"/>
<path fill="#e6e6e6" d="M576.7 246.1l1.3-1.2l-4-1.1l-1.2 1.2z"/>
<path fill="#005400" d="M572.9 265.1l3.8-2.4l0.3-17.4l-3.8-1.1z"/>
<path fill="#090" d="M614.7 314.7l3.9 1.3l1-3l-3.8-1.3z"/>
<path fill="#00b600" d="M610.2 317.1l3.9 1.2l1.1-2.4l-3.9-1.2z"/>
<path fill="#005400" d="M583.7 279.9l3.8-0.2l1-23.3l-3.9 1.3z"/>
<path fill="#005400" d="M611.2 303.4l3.8 1.6l1.1-7l-3.8-1.7z"/>
<path fill="#009f00" d="M515.2 312.9l5.5-0.4l3.7-2.7l-5.5 0.1z"/>
<path fill="#00cd00" d="M605.9 315.9l4.2 1.5l2-0.5l-4.2-1.4z"/>
<path fill="#006500" d="M616.3 309.7l3.8 1.5l1-4.6l-3.8-1.6z"/>
<path fill="#00ac00" d="M614 316.5l3.8 1.2l1.1-2.6l-3.9-1.2z"/>
<path fill="#005400" d="M600.3 292.9l3.8 1.2l1.1-12.3l-3.8-1.3z"/>
<path fill="#00a100" d="M508.4 315.3l5.5-0.3l3.7-3l-5.5 0.1z"/>
<path fill="#008500" d="M618.5 313.6l3.8 1.4l1-3.5l-3.8-1.5z"/>
<path fill="#00a800" d="M501.6 317.6l5.4 0l3.8-3.2l-5.5-0.1z"/>
<path fill="#009d00" d="M617.7 315.7l3.9 1.3l1-2.9l-3.8-1.4z"/>
<path fill="#005400" d="M614.2 304.6l3.8 1.6l1.1-6.7l-3.9-1.9z"/>
<path fill="#00b400" d="M494.8 319.7l5.3 0.5l3.7-3.4l-5.3-0.5z"/>
<path fill="#006900" d="M619.3 310.9l3.8 1.5l1-4.4l-3.8-1.7z"/>
<path fill="#e6e6e6" d="M567.4 243l3.9 1.1l1.6-1.5l-3.9-1z"/>
<path fill="#00b800" d="M613.2 318.1l3.9 1.1l1.1-2.3l-3.9-1.2z"/>
<path fill="#00a600" d="M541.1 306.6l4.2 0l3.7-1.6l-4.2-0.2z"/>
<path fill="#009e00" d="M524.7 310.4l4.2-0.3l3.7-2.3l-4.2 0z"/>
<path fill="#00ce00" d="M608.9 316.9l4.2 1.5l2-0.6l-4.2-1.4z"/>
<path fill="#00af00" d="M616.9 317.5l3.9 1.2l1.1-2.5l-3.9-1.3z"/>
<path fill="#00a100" d="M532.9 308.3l4.2-0.2l3.7-2l-4.2 0z"/>
<path fill="#005400" d="M603.3 293.8l3.8 1.3l1.1-12.2l-3.8-1.5z"/>
<path fill="#008b00" d="M621.5 314.7l3.8 1.4l1-3.3l-3.8-1.6z"/>
<path fill="#005400" d="M617.1 305.9l3.9 1.6l1-6.4l-3.8-2z"/>
<path fill="#006f00" d="M622.3 312.1l3.8 1.5l1-4.2l-3.8-1.8z"/>
<path fill="#00a200" d="M620.7 316.7l3.9 1.3l1-2.8l-3.8-1.4z"/>
<path fill="#e6e6e6" d="M579.6 246.9l1.3-1.2l-4-1.1l-1.3 1.2z"/>
<path fill="#005400" d="M575.8 263.3l3.8-2.2l0.3-15l-3.8-1.1z"/>
<path fill="#00ba00" d="M616.2 319l3.9 1.2l1.1-2.3l-3.9-1.3z"/>
<path fill="#00c300" d="M607.7 316.2l1.7 1l2 0.2l-4.1-1.8z"/>
<path fill="#005400" d="M586.6 279.7l3.8 0.1l1.1-24.1l-3.9 1z"/>
<path fill="#005400" d="M620.1 307.2l3.9 1.7l1-6.1l-3.8-2.2z"/>
<path fill="#00cf00" d="M611.9 317.9l4.3 1.5l1.9-0.7l-4.3-1.4z"/>
<path fill="#00b200" d="M619.9 318.4l3.9 1.3l1.1-2.5l-3.9-1.3z"/>
<path fill="#009100" d="M624.5 315.8l3.8 1.4l1.1-3.2l-3.9-1.6z"/>
<path fill="#e6e6e6" d="M570.3 243.8l4 1l1.5-1.4l-3.9-1z"/>
<path fill="#005400" d="M606.2 294.8l3.8 1.5l1.2-12l-3.9-1.8z"/>
<path fill="#007500" d="M625.3 313.3l3.8 1.6l1-4l-3.8-1.9z"/>
<path fill="#00a700" d="M623.7 317.7l3.9 1.4l1-2.8l-3.8-1.4z"/>
<path fill="#005400" d="M623.1 308.5l3.8 1.8l1.1-5.8l-3.8-2.2z"/>
<path fill="#090" d="M519.3 312.5l4.1-0.4l3.8-2.5l-4.2 0.1z"/>
<path fill="#00bd00" d="M619.2 319.9l3.9 1.2l1.1-2.3l-3.9-1.2z"/>
<path fill="#00c500" d="M608.3 316.4l4.1 1.9l2 0l-4.1-1.7z"/>
<path fill="#007c00" d="M628.3 314.5l3.8 1.6l1-3.7l-3.8-1.9z"/>
<path fill="#009800" d="M627.5 316.9l3.8 1.4l1.1-3l-3.9-1.6z"/>
<path fill="#005400" d="M609.2 295.9l3.8 1.7l1.2-11.8l-3.9-2z"/>
<path fill="#00a400" d="M543.9 306.4l4.2 0.1l3.7-1.4l-4.2-0.3z"/>
<path fill="#00b600" d="M623 319.4l3.8 1.2l1.1-2.4l-3.9-1.3z"/>
<path fill="#00d100" d="M614.9 318.9l4.3 1.5l1.9-0.8l-4.3-1.4z"/>
<path fill="#005800" d="M626.1 309.9l3.8 1.9l1.1-5.5l-3.8-2.3z"/>
<path fill="#009a00" d="M527.5 310.1l4.1-0.3l3.8-2.2l-4.2 0.1z"/>
<path fill="#00ad00" d="M626.7 318.8l3.9 1.3l1.1-2.6l-3.9-1.5z"/>
<path fill="#009e00" d="M535.7 308l4.2-0.2l3.7-1.8l-4.2 0z"/>
<path fill="#e6e6e6" d="M573.2 244.6l4 1l1.5-1.4l-3.9-1.1z"/>
<path fill="#008500" d="M631.3 315.8l3.8 1.6l1.1-3.5l-3.9-1.9z"/>
<path fill="#005e00" d="M629.1 311.4l3.8 1.9l1.1-5.2l-3.8-2.3z"/>
<path fill="#005400" d="M612.1 297.2l3.9 1.8l1.2-11.4l-3.9-2.3z"/>
<path fill="#00a000" d="M630.5 318l3.9 1.5l1-2.9l-3.8-1.7z"/>
<path fill="#e6e6e6" d="M582.5 247.8l1.4-1.4l-4-1l-1.4 1.3z"/>
<path fill="#005400" d="M578.7 261.6l3.9-2l0.2-12.7l-3.8-1.1z"/>
<path fill="#009700" d="M512.5 315.1l5.5-0.7l3.7-2.8l-5.5 0.4z"/>
<path fill="#005400" d="M589.5 279.7l3.8 0.3l1.2-24.8l-3.9 0.7z"/>
<path fill="#00bf00" d="M622.2 320.8l3.9 1.2l1.1-2.2l-3.9-1.2z"/>
<path fill="#009b00" d="M505.7 317.7l5.4-0.5l3.8-3.1l-5.5 0.3z"/>
<path fill="#00c800" d="M611.2 317.5l4.2 1.8l2-0.1l-4.1-1.7z"/>
<path fill="#00a400" d="M498.8 320.2l5.4-0.1l3.8-3.4l-5.4 0z"/>
<path fill="#00ba00" d="M626 320.4l3.9 1.2l1.1-2.3l-3.9-1.4z"/>
<path fill="#00b300" d="M492 322.3l5.3 0.5l3.7-3.4l-5.3-0.6z"/>
<path fill="#00d300" d="M617.9 319.9l4.3 1.5l1.9-1l-4.3-1.3z"/>
<path fill="#006500" d="M632.1 312.9l3.8 1.9l1.1-4.8l-3.8-2.4z"/>
<path fill="#008e00" d="M634.3 317.1l3.9 1.6l1-3.3l-3.9-1.9z"/>
<path fill="#00b300" d="M629.7 319.8l3.9 1.3l1.1-2.5l-3.9-1.4z"/>
<path fill="#005400" d="M615.1 298.6l3.8 1.9l1.2-11l-3.8-2.5z"/>
<path fill="#00c500" d="M604.3 315l4 1.9l2.4 0.3l-4-1.8z"/>
<path fill="#00a800" d="M633.5 319.1l3.9 1.5l1.1-2.7l-3.9-1.7z"/>
<path fill="#006e00" d="M635.1 314.3l3.9 2l1-4.5l-3.8-2.3z"/>
<path fill="#005400" d="M618.1 300l3.8 2l1.2-10.5l-3.8-2.6z"/>
<path fill="#009800" d="M637.3 318.4l3.9 1.6l1-3.1l-3.8-1.9z"/>
<path fill="#e6e6e6" d="M576.2 245.3l3.9 1.1l1.6-1.5l-4-1z"/>
<path fill="#00c200" d="M625.2 321.8l4 1.2l1.1-2.2l-3.9-1.3z"/>
<path fill="#00cb00" d="M614.2 318.6l4.2 1.8l2-0.3l-4.2-1.6z"/>
<path fill="#00be00" d="M629 321.3l3.9 1.3l1.1-2.3l-3.9-1.3z"/>
<path fill="#007800" d="M638.1 315.8l3.9 2l1-4.1l-3.8-2.4z"/>
<path fill="#00b900" d="M632.8 320.8l3.9 1.4l1.1-2.4l-3.9-1.5z"/>
<path fill="#00d400" d="M621 321l4.3 1.4l1.7-1.1l-4.2-1.2z"/>
<path fill="#009500" d="M522.1 312.2l4.1-0.5l3.7-2.4l-4.1 0.2z"/>
<path fill="#005400" d="M621.1 301.6l3.8 2.1l1.2-10l-3.8-2.8z"/>
<path fill="#00b000" d="M636.6 320.3l3.9 1.5l1-2.7l-3.9-1.6z"/>
<path fill="#008300" d="M641.2 317.3l3.8 1.9l1-3.7l-3.8-2.3z"/>
<path fill="#00c700" d="M607.3 316.1l4.1 2l2.3 0l-4.1-1.7z"/>
<path fill="#00a300" d="M640.4 319.6l3.8 1.7l1.1-2.9l-3.9-1.9z"/>
<path fill="#005400" d="M624 303.2l3.9 2.2l1.2-9.3l-3.8-3z"/>
<path fill="#005400" d="M592.4 279.9l3.9 0.5l1.3-25.2l-4 0.1z"/>
<path fill="#009800" d="M530.3 309.7l4.1-0.4l3.8-1.9l-4.2 0.1z"/>
<path fill="#009d00" d="M538.5 307.7l4.2-0.2l3.7-1.6l-4.2 0z"/>
<path fill="#e6e6e6" d="M585.4 248.6l1.4-1.4l-4-1l-1.3 1.3z"/>
<path fill="#005400" d="M581.7 260l3.8-1.6l0.2-10.7l-3.8-1z"/>
<path fill="#005400" d="M627 305l3.8 2.2l1.2-8.7l-3.7-3.1z"/>
<path fill="#009000" d="M644.2 318.8l3.9 1.9l1-3.4l-3.9-2.3z"/>
<path fill="#00c500" d="M628.3 322.7l3.9 1.2l1.1-2.1l-3.9-1.3z"/>
<path fill="#00c200" d="M632.1 322.3l3.9 1.3l1.1-2.2l-3.9-1.4z"/>
<path fill="#00cd00" d="M617.2 319.7l4.3 1.7l2-0.4l-4.3-1.6z"/>
<path fill="#00be00" d="M635.8 321.9l3.9 1.4l1.1-2.4l-3.9-1.4z"/>
<path fill="#005400" d="M630 306.7l3.8 2.4l1.2-8.1l-3.8-3.2z"/>
<path fill="#00b800" d="M639.6 321.4l3.9 1.5l1.1-2.5l-3.9-1.6z"/>
<path fill="#005400" d="M633 308.6l3.8 2.3l1.2-7.4l-3.8-3.2z"/>
<path fill="#00ae00" d="M643.4 320.9l3.9 1.6l1-2.7l-3.8-1.8z"/>
<path fill="#00d500" d="M624.1 322l4.2 1.4l1.6-1.1l-4.1-1.3z"/>
<path fill="#005400" d="M636 310.4l3.8 2.4l1.2-6.8l-3.8-3.2z"/>
<path fill="#e6e6e6" d="M579.1 246.1l4 1.1l1.5-1.5l-3.9-1z"/>
<path fill="#005600" d="M639 312.3l3.8 2.3l1.1-6l-3.7-3.2z"/>
<path fill="#009e00" d="M647.2 320.3l3.9 1.8l1-3l-3.8-2.2z"/>
<path fill="#005f00" d="M642 314.1l3.8 2.4l1.1-5.5l-3.7-3.1z"/>
<path fill="#006a00" d="M645 316l3.8 2.2l1.1-4.7l-3.8-3.1z"/>
<path fill="#00ca00" d="M610.2 317.3l4.2 1.9l2.4-0.1l-4.2-1.7z"/>
<path fill="#070" d="M648 317.8l3.9 2.2l1-4.2l-3.8-3z"/>
<path fill="#008b00" d="M651.1 319.5l5.3 2.9l1.1-3.4l-5.4-3.8z"/>
<path fill="#00b900" d="M646.5 322.2l3.9 1.6l1-2.5l-3.9-1.9z"/>
<path fill="#00bf00" d="M642.7 322.6l3.9 1.4l1.1-2.3l-4-1.6z"/>
<path fill="#00c300" d="M638.9 323l3.9 1.3l1.1-2.2l-3.9-1.5z"/>
<path fill="#009100" d="M516.6 314.5l4.1-0.6l3.8-2.7l-4.2 0.4z"/>
<path fill="#00c600" d="M635.1 323.3l3.9 1.3l1.1-2.2l-3.9-1.3z"/>
<path fill="#00b000" d="M650.3 321.7l5.4 2.5l1-2.6l-5.4-3z"/>
<path fill="#00c700" d="M631.3 323.6l4 1.2l1.1-2l-3.9-1.3z"/>
<path fill="#00d000" d="M620.3 320.8l4.3 1.7l1.9-0.6l-4.3-1.5z"/>
<path fill="#00a800" d="M655.6 322l5.4 2.7l1-2.8l-5.3-3.4z"/>
<path fill="#00d600" d="M627.3 323l4.1 1.4l1.5-1.2l-4.1-1.3z"/>
<path fill="#009b00" d="M661 322.4l5.4 3l1-3l-5.3-4.3z"/>
<path fill="#005400" d="M595.4 280.2l3.8 0.7l1.4-25.4l-3.9-0.3z"/>
<path fill="#007600" d="M656.4 319.4l5.4 3.4l1-4l-5.2-5.1z"/>
<path fill="#008200" d="M666.3 322.8l5.4 3.4l1-3.3l-5.1-6z"/>
<path fill="#00c300" d="M665.5 325l5.5 2.6l1-2.3l-5.4-3.4z"/>
<path fill="#00cd00" d="M613.2 318.4l4.2 2l2.4-0.3l-4.2-1.7z"/>
<path fill="#00a100" d="M496 322.8l5.4-0.2l3.9-3.4l-5.5 0.1z"/>
<path fill="#00c600" d="M645.7 323.7l4 1.5l1-2.2l-3.9-1.6z"/>
<path fill="#00c400" d="M649.5 323.4l5.5 2.2l1.1-2.2l-5.5-2.5z"/>
<path fill="#00b100" d="M489.2 324.9l5.3 0.5l3.7-3.5l-5.3-0.4z"/>
<path fill="#00c700" d="M603.2 314.7l4.1 2l2.4 0.2l-4.1-1.9z"/>
<path fill="#00c400" d="M660.2 324.3l5.5 2.5l1-2.3l-5.4-3z"/>
<path fill="#009600" d="M502.9 320.2l5.5-0.6l3.7-3.3l-5.4 0.4z"/>
<path fill="#e6e6e6" d="M582.1 246.9l4 1l1.5-1.4l-4-1.1z"/>
<path fill="#00c400" d="M654.9 323.8l5.4 2.3l1.1-2.2l-5.5-2.8z"/>
<path fill="#009000" d="M509.8 317.3l5.4-0.8l3.8-3l-5.5 0.6z"/>
<path fill="#e6e6e6" d="M588.4 249.4l1.4-1.4l-4-1.1l-1.4 1.4z"/>
<path fill="#005400" d="M584.6 258.7l3.9-1.4l0.2-8.8l-3.9-1z"/>
<path fill="#00c800" d="M642 324l3.9 1.4l1.1-2.2l-3.9-1.4z"/>
<path fill="#009200" d="M524.8 311.7l4.2-0.6l3.7-2.2l-4.1 0.3z"/>
<path fill="#00c900" d="M638.2 324.3l3.9 1.3l1.1-2.1l-3.9-1.4z"/>
<path fill="#005d00" d="M651.9 316.1l5.3 3.9l1.2-5.5l-5.2-5.8z"/>
<path fill="#00ca00" d="M634.4 324.6l3.9 1.2l1.2-2l-4-1.3z"/>
<path fill="#009c00" d="M541.3 307.4l4.2-0.2l3.8-1.4l-4.2-0.1z"/>
<path fill="#00d300" d="M623.3 322l4.3 1.6l2-0.8l-4.4-1.4z"/>
<path fill="#009500" d="M533.1 309.3l4.1-0.4l3.8-1.8l-4.2 0.2z"/>
<path fill="#00d700" d="M630.4 324l4.1 1.4l1.4-1.3l-4-1.2z"/>
<path fill="#00d600" d="M664.8 326.4l5.5 2.3l1.1-2l-5.5-2.6z"/>
<path fill="#005400" d="M648.9 313.8l3.8 3l1.3-7.2l-3.7-4.6z"/>
<path fill="#00d000" d="M616.3 319.7l4.2 1.9l2.3-0.5l-4.2-1.6z"/>
<path fill="#00d200" d="M659.5 325.8l5.5 2.2l1.1-2l-5.5-2.5z"/>
<path fill="#00cd00" d="M648.8 324.9l5.5 1.9l1.1-2l-5.5-2.2z"/>
<path fill="#0c0" d="M645 325.1l4 1.3l1.1-2l-4-1.5z"/>
<path fill="#005a00" d="M661.8 319.1l5.3 4.3l1.2-5.6l-5-8.1z"/>
<path fill="#00cf00" d="M654.2 325.3l5.5 2.1l1-2.1l-5.5-2.3z"/>
<path fill="#00ca00" d="M606.2 315.8l4.1 2l2.4 0.2l-4.1-1.9z"/>
<path fill="#005400" d="M598.4 280.8l3.8 0.9l1.4-25.6l-3.9-0.8z"/>
<path fill="#0c0" d="M641.2 325.3l4 1.3l1.1-2l-3.9-1.4z"/>
<path fill="#0c0" d="M637.5 325.5l3.9 1.2l1.2-1.9l-4-1.3z"/>
<path fill="#00d500" d="M626.4 323.2l4.3 1.5l1.8-0.9l-4.2-1.4z"/>
<path fill="#005400" d="M646 311.4l3.7 3.1l1.4-8.5l-3.7-4.8z"/>
<path fill="#e6e6e6" d="M585 247.7l4 1l1.6-1.4l-4-1.1z"/>
<path fill="#00d700" d="M633.5 325.1l4.1 1.3l1.4-1.4l-4.1-1.2z"/>
<path fill="#00d300" d="M619.3 320.9l4.3 1.9l2.3-0.7l-4.3-1.6z"/>
<path fill="#00d800" d="M664.1 327.7l5.6 2l1.1-1.8l-5.6-2.3z"/>
<path fill="#008d00" d="M519.4 314l4.1-0.7l3.7-2.5l-4.1 0.5z"/>
<path fill="#e6e6e6" d="M591.3 250.2l1.5-1.4l-4-1.1l-1.4 1.4z"/>
<path fill="#005400" d="M587.6 257.6l3.9-1l0.2-7.3l-3.9-1z"/>
<path fill="#00cd00" d="M609.2 317l4.2 2.1l2.3-0.1l-4.1-1.8z"/>
<path fill="#00d000" d="M648.1 326.1l5.6 1.9l1.1-1.9l-5.6-2z"/>
<path fill="#005400" d="M643 308.9l3.8 3.2l1.3-9.9l-3.6-4.9z"/>
<path fill="#00d500" d="M658.8 327.1l5.6 2l1-1.9l-5.5-2.2z"/>
<path fill="#00cf00" d="M644.3 326.3l4 1.3l1.1-2l-3.9-1.3z"/>
<path fill="#00d300" d="M653.5 326.5l5.5 2l1.1-1.9l-5.5-2.1z"/>
<path fill="#00ce00" d="M640.5 326.5l4 1.2l1.2-1.9l-4-1.3z"/>
<path fill="#00d700" d="M629.6 324.3l4.2 1.5l1.6-1.1l-4.1-1.3z"/>
<path fill="#005400" d="M601.3 281.5l3.9 1.2l1.5-25.6l-4-1.2z"/>
<path fill="#00d700" d="M636.6 326.1l4.1 1.3l1.3-1.4l-4-1.3z"/>
<path fill="#005400" d="M640 306.4l3.8 3.2l1.5-11.3l-3.7-5.1z"/>
<path fill="#008f00" d="M527.6 311.1l4.2-0.5l3.7-2.1l-4.1 0.4z"/>
<path fill="#00d600" d="M622.3 322.2l4.3 1.8l2.3-0.9l-4.3-1.5z"/>
<path fill="#e6e6e6" d="M588 248.5l4 1l1.5-1.5l-4-1z"/>
<path fill="#005400" d="M657.4 314.8l5.2 5.1l1.5-9l-4.8-9.8z"/>
<path fill="#00d000" d="M612.2 318.3l4.2 2.1l2.4-0.3l-4.2-1.8z"/>
<path fill="#009400" d="M535.9 308.8l4.2-0.4l3.7-1.6l-4.2 0.2z"/>
<path fill="#00d700" d="M663.5 328.8l5.6 1.9l1.1-1.8l-5.6-2z"/>
<path fill="#00d100" d="M647.4 327.3l5.6 1.8l1.1-1.9l-5.5-1.9z"/>
<path fill="#00cf00" d="M643.6 327.4l4 1.2l1.2-1.8l-4-1.3z"/>
<path fill="#00c900" d="M602.2 314.3l4.1 2.1l2.4 0.2l-4.1-1.9z"/>
<path fill="#00d500" d="M658.1 328.2l5.6 1.9l1.1-1.8l-5.6-2z"/>
<path fill="#003000" d="M592.1 310.7l4.4 1l2.1 1.3l-4.3-1z"/>
<path fill="#00d300" d="M652.8 327.7l5.6 1.8l1.1-1.8l-5.6-2z"/>
<path fill="#00d900" d="M632.8 325.4l4.1 1.5l1.5-1.2l-4.1-1.3z"/>
<path fill="#005400" d="M637 303.9l3.8 3.2l1.6-12.8l-3.7-5.2z"/>
<path fill="#008900" d="M513.9 316.6l4.1-0.8l3.7-2.8l-4.1 0.6z"/>
<path fill="#005400" d="M604.3 282.4l3.9 1.4l1.5-25.2l-3.9-1.8z"/>
<path fill="#00b000" d="M486.3 327.6l5.3 0.4l3.8-3.5l-5.3-0.4z"/>
<path fill="#009f00" d="M493.1 325.4l5.5-0.2l3.9-3.5l-5.5 0.1z"/>
<path fill="#00d700" d="M639.8 327.1l4 1.3l1.3-1.5l-4-1.2z"/>
<path fill="#00d900" d="M625.4 323.5l4.3 1.7l2.1-1l-4.2-1.5z"/>
<path fill="#e6e6e6" d="M594.3 251l1.5-1.4l-4-1.1l-1.5 1.4z"/>
<path fill="#005400" d="M590.6 256.8l3.9-0.6l0.2-6l-3.9-1.1z"/>
<path fill="#009200" d="M500.1 322.7l5.5-0.7l3.7-3.4l-5.4 0.6z"/>
<path fill="#00d400" d="M615.3 319.6l4.2 2.1l2.3-0.4l-4.2-1.8z"/>
<path fill="#005400" d="M634.1 301.3l3.8 3.3l1.5-14.4l-3.7-5.1z"/>
<path fill="#008b00" d="M507 319.7l5.5-1l3.7-3.2l-5.5 0.9z"/>
<path fill="#e6e6e6" d="M591 249.3l4 1l1.5-1.5l-4-1z"/>
<path fill="#0c0" d="M605.2 315.5l4.1 2.1l2.4 0.2l-4.1-2z"/>
<path fill="#00d900" d="M635.9 326.6l4.1 1.4l1.4-1.3l-4-1.3z"/>
<path fill="#005400" d="M607.3 283.5l3.8 1.7l1.6-24.8l-3.9-2.3z"/>
<path fill="#00d100" d="M646.8 328.4l5.5 1.7l1.2-1.8l-5.6-1.8z"/>
<path fill="#00d600" d="M662.8 329.8l5.7 1.8l1.1-1.7l-5.6-1.9z"/>
<path fill="#00d300" d="M652.1 328.8l5.6 1.7l1.1-1.8l-5.5-1.8z"/>
<path fill="#00d500" d="M657.5 329.2l5.6 1.9l1.1-1.8l-5.6-1.9z"/>
<path fill="#00db00" d="M628.6 324.8l4.2 1.6l2-1.2l-4.1-1.5z"/>
<path fill="#00d700" d="M642.9 328.1l4.1 1.3l1.2-1.5l-4-1.3z"/>
<path fill="#005400" d="M631.1 298.9l3.8 3.1l1.6-15.8l-3.7-5.1z"/>
<path fill="#008900" d="M522.1 313.4l4.2-0.8l3.7-2.3l-4.1 0.5z"/>
<path fill="#00d700" d="M618.3 321l4.3 2l2.3-0.6l-4.3-1.8z"/>
<path fill="#005400" d="M610.3 284.8l3.8 2l1.7-24.2l-3.9-2.8z"/>
<path fill="#005400" d="M628.1 296.5l3.8 3.1l1.7-17.4l-3.7-4.9z"/>
<path fill="#00d000" d="M608.2 316.8l4.2 2.2l2.3 0l-4.1-2z"/>
<path fill="#00da00" d="M639.1 327.7l4.1 1.4l1.3-1.4l-4-1.3z"/>
<path fill="#008d00" d="M530.4 310.5l4.2-0.6l3.8-1.8l-4.2 0.4z"/>
<path fill="#00dc00" d="M631.8 326l4.1 1.7l1.9-1.4l-4.1-1.5z"/>
<path fill="#e6e6e6" d="M597.4 251.8l1.4-1.4l-4-1.1l-1.5 1.4z"/>
<path fill="#005400" d="M593.6 256.2l3.9-0.1l0.2-5.1l-3.9-1.1z"/>
<path fill="#005400" d="M625.2 294.2l3.8 2.9l1.7-18.7l-3.8-4.7z"/>
<path fill="#005400" d="M613.2 286.3l3.9 2.2l1.7-23.4l-3.9-3.2z"/>
<path fill="#009300" d="M538.7 308.3l4.2-0.4l3.8-1.4l-4.2 0.1z"/>
<path fill="#e6e6e6" d="M594 250l4.1 1.1l1.4-1.5l-4-1z"/>
<path fill="#00c700" d="M598.1 312.7l4.1 2.1l2.4 0.4l-4-2z"/>
<path fill="#00da00" d="M621.3 322.4l4.3 1.9l2.3-0.8l-4.3-1.7z"/>
<path fill="#005400" d="M653 309.8l5.2 5.9l1.8-13.4l-4.7-11.4z"/>
<path fill="#005400" d="M622.2 292l3.8 2.8l1.7-20.1l-3.8-4.4z"/>
<path fill="#005400" d="M616.2 288l3.9 2.5l1.7-22.5l-3.9-3.7z"/>
<path fill="#00d500" d="M662.2 330.8l5.6 1.8l1.2-1.8l-5.7-1.8z"/>
<path fill="#00d600" d="M646 329.1l5.7 1.8l1.2-1.6l-5.6-1.7z"/>
<path fill="#00d200" d="M651.4 329.8l5.7 1.7l1.1-1.7l-5.6-1.8z"/>
<path fill="#005400" d="M619.2 289.9l3.8 2.7l1.8-21.4l-3.9-4.1z"/>
<path fill="#00d400" d="M656.8 330.3l5.7 1.7l1.1-1.7l-5.6-1.8z"/>
<path fill="#00d300" d="M611.2 318.2l4.2 2.1l2.4-0.1l-4.2-2z"/>
<path fill="#00d900" d="M642.2 328.8l4.1 1.4l1.3-1.5l-4-1.3z"/>
<path fill="#008500" d="M516.6 316l4.2-0.9l3.7-2.7l-4.1 0.7z"/>
<path fill="#0d0" d="M635 327.3l4.1 1.6l1.7-1.6l-4-1.4z"/>
<path fill="#00dc00" d="M624.4 323.8l4.3 1.9l2.1-1l-4.1-1.7z"/>
<path fill="#00cb00" d="M601.1 313.9l4.1 2.2l2.4 0.2l-4-2z"/>
<path fill="#e6e6e6" d="M597 250.8l4.1 1.1l1.5-1.5l-4.1-1z"/>
<path fill="#00d700" d="M614.3 319.6l4.2 2.1l2.3-0.3l-4.2-1.9z"/>
<path fill="#e6e6e6" d="M600.4 252.6l1.4-1.4l-4-1.1l-1.5 1.4z"/>
<path fill="#005400" d="M596.6 256.1l3.9 0.2l0.2-4.5l-3.9-1.1z"/>
<path fill="#00af00" d="M483.4 330.3l5.3 0.4l3.8-3.5l-5.3-0.4z"/>
<path fill="#00d400" d="M661.6 331.8l5.6 1.7l1.2-1.7l-5.7-1.8z"/>
<path fill="#0d0" d="M638.1 328.5l4.1 1.6l1.7-1.7l-4.1-1.4z"/>
<path fill="#00d300" d="M656.2 331.3l5.6 1.7l1.2-1.7l-5.7-1.8z"/>
<path fill="#00d500" d="M650.8 330.6l5.6 1.8l1.2-1.6l-5.6-1.8z"/>
<path fill="#009c00" d="M490.3 328l5.4-0.2l3.9-3.6l-5.5 0.3z"/>
<path fill="#00de00" d="M627.7 325.2l4.1 1.8l2-1.1l-4.1-1.7z"/>
<path fill="#00d800" d="M645.4 329.9l5.6 1.8l1.3-1.5l-5.6-1.8z"/>
<path fill="#008600" d="M524.9 312.7l4.2-0.8l3.7-2.2l-4.1 0.6z"/>
<path fill="#00ce00" d="M604.2 315.2l4.1 2.2l2.4 0.2l-4.1-2.1z"/>
<path fill="#008f00" d="M497.3 325.3l5.4-0.8l3.8-3.5l-5.4 0.7z"/>
<path fill="#008300" d="M511.1 318.9l4.1-0.9l3.8-3.1l-4.1 0.8z"/>
<path fill="#00da00" d="M617.3 321.1l4.3 2.1l2.3-0.5l-4.3-2z"/>
<path fill="#008600" d="M504.2 322.2l5.5-1.2l3.7-3.3l-5.4 1z"/>
<path fill="#008b00" d="M533.2 309.9l4.2-0.6l3.8-1.7l-4.2 0.4z"/>
<path fill="#00e000" d="M630.8 326.6l4.2 1.8l1.8-1.4l-4.1-1.6z"/>
<path fill="#00dc00" d="M641.3 329.7l4 1.5l1.7-1.8l-4.1-1.3z"/>
<path fill="#005400" d="M667.3 318l5.2 6l2.2-15.7l-3-25.7z"/>
<path fill="#e6e6e6" d="M600.1 251.6l4 1.1l1.5-1.5l-4-1.1z"/>
<path fill="#005400" d="M650.1 306.2l3.7 4.6l2.1-18.7l-3.2-8.8z"/>
<path fill="#00d200" d="M607.2 316.6l4.1 2.2l2.4 0.1l-4.1-2.1z"/>
<path fill="#0d0" d="M620.3 322.6l4.3 2.1l2.3-0.8l-4.2-1.9z"/>
<path fill="#e6e6e6" d="M603.4 253.4l1.5-1.4l-4.1-1.1l-1.4 1.4z"/>
<path fill="#005400" d="M599.7 256.2l3.9 0.8l0.1-4.4l-3.9-1.1z"/>
<path fill="#00d400" d="M660.9 332.7l5.7 1.8l1.1-1.8l-5.6-1.7z"/>
<path fill="#00d500" d="M655.5 332.1l5.7 1.8l1.1-1.7l-5.6-1.7z"/>
<path fill="#00d700" d="M650.1 331.4l5.7 1.9l1.2-1.6l-5.7-1.8z"/>
<path fill="#00e000" d="M634 328l4.1 1.7l1.7-1.5l-4-1.6z"/>
<path fill="#008100" d="M519.4 315.2l4.2-0.9l3.7-2.6l-4.2 0.8z"/>
<path fill="#00db00" d="M644.4 330.9l5.7 2l1.5-1.9l-5.6-1.9z"/>
<path fill="#00d600" d="M610.2 318l4.2 2.3l2.4-0.1l-4.2-2.1z"/>
<path fill="#00e000" d="M623.5 324.1l4.2 2l2.1-0.9l-4.1-1.8z"/>
<path fill="#003000" d="M592.9 310.8l4.4 1.2l3.2 1.6l-4.3-1.1z"/>
<path fill="#e6e6e6" d="M603.1 252.4l4.1 1.1l1.4-1.5l-4-1.1z"/>
<path fill="#00e000" d="M637.1 329.3l4.1 1.7l1.7-1.6l-4-1.6z"/>
<path fill="#e6e6e6" d="M606.5 254.2l1.4-1.4l-4.1-1.1l-1.4 1.5z"/>
<path fill="#005400" d="M602.7 256.8l3.9 1.3l0.2-4.7l-3.9-1.1z"/>
<path fill="#00d400" d="M660.3 333.6l5.7 1.8l1.1-1.7l-5.7-1.8z"/>
<path fill="#00e200" d="M626.7 325.6l4.1 2l2-1.1l-4.1-1.8z"/>
<path fill="#00d900" d="M613.2 319.5l4.3 2.3l2.3-0.3l-4.2-2.1z"/>
<path fill="#00d600" d="M654.9 333l5.6 1.8l1.2-1.7l-5.6-1.7z"/>
<path fill="#008400" d="M527.7 311.9l4.2-0.8l3.8-2l-4.2 0.6z"/>
<path fill="#00e000" d="M640.3 330.6l4 1.7l1.7-1.8l-4-1.5z"/>
<path fill="#00d900" d="M649.2 332.6l5.6 2l1.5-2.1l-5.6-1.8z"/>
<path fill="#00c900" d="M596 311.9l4 2.2l3.6 0.7l-4.1-2z"/>
<path fill="#007e00" d="M513.9 318.1l4.1-1l3.7-3l-4.1 0.9z"/>
<path fill="#00ae00" d="M480.4 333l5.4 0.4l3.8-3.5l-5.3-0.4z"/>
<path fill="#00e300" d="M629.9 327.2l4.1 1.9l1.8-1.3l-4-1.8z"/>
<path fill="#0d0" d="M616.3 321.1l4.2 2.3l2.4-0.5l-4.3-2.1z"/>
<path fill="#008a00" d="M536.1 309.2l4.2-0.6l3.8-1.4l-4.3 0.3z"/>
<path fill="#005400" d="M647.2 302.5l3.7 4.8l2.4-22.8l-3.2-9.4z"/>
<path fill="#e6e6e6" d="M606.2 253.2l4 1.1l1.5-1.5l-4.1-1.1z"/>
<path fill="#009b00" d="M487.4 330.7l5.4-0.3l3.9-3.6l-5.4 0.3z"/>
<path fill="#e6e6e6" d="M609.6 255l1.4-1.4l-4.1-1.1l-1.4 1.5z"/>
<path fill="#005400" d="M605.7 257.7l4 1.8l0.2-5.3l-4-1.1z"/>
<path fill="#008c00" d="M494.4 327.9l5.5-0.9l3.8-3.5l-5.5 0.8z"/>
<path fill="#00d400" d="M659.6 334.5l5.8 1.8l1.1-1.7l-5.7-1.7z"/>
<path fill="#00e400" d="M633 328.7l4.1 1.8l1.7-1.4l-4-1.7z"/>
<path fill="#00e000" d="M619.3 322.7l4.3 2.3l2.3-0.7l-4.2-2z"/>
<path fill="#00de00" d="M643.4 331.9l5.7 2.2l1.6-1.9l-5.6-2z"/>
<path fill="#00cd00" d="M599 313.2l4.1 2.3l3.5 0.6l-4.1-2.1z"/>
<path fill="#007e00" d="M508.4 321.2l4.1-1l3.7-3.2l-4.1 0.9z"/>
<path fill="#00d700" d="M653.9 334.3l5.7 1.9l1.5-2.2l-5.7-1.8z"/>
<path fill="#008200" d="M501.4 324.7l5.5-1.3l3.7-3.4l-5.4 1.2z"/>
<path fill="#e6e6e6" d="M612.7 255.8l1.3-1.4l-4-1.1l-1.4 1.5z"/>
<path fill="#005400" d="M608.8 259.1l3.9 2.3l0.3-6.4l-4-1.1z"/>
<path fill="#00e200" d="M622.5 324.4l4.2 2.2l2.1-0.9l-4.1-2z"/>
<path fill="#e6e6e6" d="M609.2 254l4.1 1.1l1.5-1.5l-4.1-1.1z"/>
<path fill="#007f00" d="M522.2 314.4l4.2-1l3.7-2.4l-4.2 0.8z"/>
<path fill="#00e400" d="M636.2 330.1l4 1.8l1.7-1.6l-4-1.6z"/>
<path fill="#00d100" d="M602.1 314.6l4.1 2.3l3.4 0.5l-4.1-2.2z"/>
<path fill="#00dc00" d="M648.2 333.8l5.6 2.1l1.6-2.1l-5.6-1.9z"/>
<path fill="#00e500" d="M625.7 326l4.1 2.2l2-1.1l-4-1.9z"/>
<path fill="#00e300" d="M639.3 331.5l4.1 1.8l1.6-1.7l-4-1.6z"/>
<path fill="#e6e6e6" d="M615.8 256.6l1.3-1.4l-4.1-1.1l-1.3 1.5z"/>
<path fill="#005400" d="M611.8 260.9l3.9 2.7l0.4-7.8l-4-1z"/>
<path fill="#008300" d="M530.5 311.1l4.2-0.9l3.8-1.7l-4.2 0.6z"/>
<path fill="#00d500" d="M658.7 335.9l5.7 1.8l1.5-2.2l-5.7-1.7z"/>
<path fill="#00d500" d="M605.1 316.1l4.1 2.4l3.5 0.2l-4.2-2.2z"/>
<path fill="#005400" d="M644.3 298.6l3.7 4.9l2.7-27.1l-3.3-9.9z"/>
<path fill="#e6e6e6" d="M612.3 254.9l4.1 1l1.4-1.5l-4-1z"/>
<path fill="#00e600" d="M628.9 327.7l4.1 2.1l1.8-1.3l-4-1.9z"/>
<path fill="#008a00" d="M538.9 308.5l4.2-0.6l3.8-1.2l-4.2 0.3z"/>
<path fill="#007b00" d="M516.7 317.3l4.1-1.1l3.7-2.9l-4.1 1z"/>
<path fill="#e6e6e6" d="M618.9 257.4l1.3-1.4l-4.1-1.1l-1.3 1.5z"/>
<path fill="#005400" d="M614.8 263l3.9 3.3l0.5-9.7l-4-1z"/>
<path fill="#00e100" d="M642.5 332.9l5.6 2.4l1.6-1.9l-5.6-2.2z"/>
<path fill="#00d900" d="M608.1 317.7l4.2 2.5l3.4 0l-4.1-2.3z"/>
<path fill="#00d900" d="M653 335.5l5.6 2l1.5-2.1l-5.6-1.9z"/>
<path fill="#00e700" d="M632 329.3l4.1 2l1.8-1.4l-4-1.8z"/>
<path fill="#00ad00" d="M477.4 335.8l5.4 0.4l3.9-3.6l-5.4-0.4z"/>
<path fill="#e6e6e6" d="M622 258.2l1.3-1.4l-4.1-1.1l-1.3 1.5z"/>
<path fill="#005400" d="M617.8 265.5l3.9 3.7l0.7-11.8l-4.1-1z"/>
<path fill="#090" d="M484.4 333.5l5.5-0.4l3.9-3.6l-5.4 0.3z"/>
<path fill="#e6e6e6" d="M615.4 255.7l4.1 1.1l1.4-1.6l-4.1-1z"/>
<path fill="#00e700" d="M635.2 330.9l4 1.9l1.7-1.5l-4-1.8z"/>
<path fill="#0d0" d="M611.2 319.4l4.2 2.5l3.4-0.3l-4.2-2.2z"/>
<path fill="#007900" d="M511.1 320.4l4.1-1.1l3.8-3.2l-4.2 1z"/>
<path fill="#e6e6e6" d="M625.2 259l1.2-1.4l-4.1-1l-1.3 1.4z"/>
<path fill="#005400" d="M620.8 268.4l3.9 4l0.8-14.2l-4-1.1z"/>
<path fill="#00de00" d="M647.2 334.9l5.7 2.2l1.5-2l-5.6-2.1z"/>
<path fill="#e6e6e6" d="M672.3 269.1l-4.4-1.5l-0.8 1.1z"/>
<path fill="#005400" d="M663.1 311.1l5 8l4-35.2l-0.7-15.4l-3.9-0.7z"/>
<path fill="#008a00" d="M491.5 330.6l5.5-1l3.8-3.6l-5.4 0.9z"/>
<path fill="#007d00" d="M525 313.5l4.2-1.1l3.7-2.2l-4.2 0.8z"/>
<path fill="#00e000" d="M614.2 321.2l4.3 2.5l3.4-0.6l-4.3-2.2z"/>
<path fill="#00d600" d="M657.7 337.2l5.8 1.9l1.4-2.2l-5.7-1.8z"/>
<path fill="#e6e6e6" d="M628.4 259.8l1.2-1.3l-4.1-1.1l-1.3 1.4z"/>
<path fill="#005400" d="M623.8 271.5l3.8 4.5l1.1-17.1l-4.1-1z"/>
<path fill="#00e600" d="M638.3 332.4l4.1 1.9l1.6-1.7l-4-1.7z"/>
<path fill="#005400" d="M641.4 294.5l3.7 5.2l2.9-31.9l-1.4-4.9l-2.4-0.4z"/>
<path fill="#e6e6e6" d="M631.6 260.6l1.1-1.3l-4.1-1.1l-1.2 1.3z"/>
<path fill="#005400" d="M626.8 275l3.8 4.7l1.3-20l-4.1-1z"/>
<path fill="#007a00" d="M505.5 323.6l4.1-1.1l3.8-3.3l-4.1 1z"/>
<path fill="#007f00" d="M498.5 327.2l5.5-1.3l3.8-3.5l-5.5 1.3z"/>
<path fill="#e6e6e6" d="M634.8 261.3l1.1-1.2l-4.1-1.1l-1.2 1.3z"/>
<path fill="#005400" d="M629.7 278.6l3.8 5l1.7-23.1l-4.2-1z"/>
<path fill="#e6e6e6" d="M618.5 256.5l4.1 1.1l1.4-1.5l-4.1-1.1z"/>
<path fill="#00e300" d="M617.3 323l4.3 2.5l3.3-0.9l-4.2-2.2z"/>
<path fill="#e6e6e6" d="M638.1 262.1l1-1.1l-4.2-1.1l-1.1 1.2z"/>
<path fill="#005400" d="M632.7 282.5l3.7 5.1l2-26.4l-4.1-0.9z"/>
<path fill="#008300" d="M533.4 310.2l4.2-0.8l3.8-1.6l-4.2 0.6z"/>
<path fill="#e6e6e6" d="M641.4 262.8l0.9-1l-4.2-1.1l-1 1.1z"/>
<path fill="#005400" d="M635.6 286.5l3.7 5.1l2.4-29.7l-4.2-0.9z"/>
<path fill="#e6e6e6" d="M644.7 263.5l0.8-0.9l-4.2-1l-0.9 1z"/>
<path fill="#005400" d="M638.5 290.5l3.7 5.2l2.9-33.1l-4.3-0.8z"/>
<path fill="#00e400" d="M641.5 333.9l5.6 2.5l1.6-1.9l-5.6-2.3z"/>
<path fill="#00c700" d="M590.7 310l4.1 2.1l3.6 0.8l-4.1-2.1z"/>
<path fill="#00db00" d="M652 336.8l5.7 2l1.5-2.1l-5.7-1.9z"/>
<path fill="#00e600" d="M620.5 324.9l4.2 2.5l3.1-1.3l-4.1-2.1z"/>
<path fill="#007800" d="M519.5 316.3l4.1-1.2l3.7-2.7l-4.1 1.1z"/>
<path fill="#00e800" d="M623.7 326.8l4.1 2.4l3-1.5l-4-2.1z"/>
<path fill="#e6e6e6" d="M621.7 257.3l4.1 1.1l1.4-1.5l-4.2-1.1z"/>
<path fill="#00cb00" d="M593.8 311.2l4.1 2.2l3.5 0.7l-4.1-2.1z"/>
<path fill="#00e100" d="M646.3 336l5.6 2.4l1.5-2l-5.6-2.2z"/>
<path fill="#00ea00" d="M626.9 328.7l4 2.3l2.9-1.8l-4-2z"/>
<path fill="#00d700" d="M656.8 338.5l5.7 2l1.5-2.2l-5.7-1.9z"/>
<path fill="#00ac00" d="M474.4 338.6l5.4 0.4l3.9-3.6l-5.4-0.4z"/>
<path fill="#007500" d="M513.9 319.5l4.1-1.3l3.7-3l-4.1 1.1z"/>
<path fill="#00eb00" d="M630.1 330.5l4 2.3l2.8-2.1l-4-2z"/>
<path fill="#007c00" d="M527.8 312.5l4.2-1.1l3.8-2l-4.2 0.8z"/>
<path fill="#009800" d="M481.4 336.3l5.5-0.4l4-3.7l-5.5 0.3z"/>
<path fill="#00d000" d="M596.8 312.5l4.1 2.4l3.6 0.6l-4.1-2.2z"/>
<path fill="#e6e6e6" d="M624.8 258.1l4.1 1.1l1.4-1.5l-4.1-1.1z"/>
<path fill="#e6e6e6" d="M668.1 268.8l0.8-1l-5.9-1.5l-1.1 1.3z"/>
<path fill="#005400" d="M659 302.5l4.8 9.8l4.6-44.3l-6-1.2z"/>
<path fill="#0d0" d="M651 338l5.7 2.2l1.5-2.1l-5.6-2.1z"/>
<path fill="#00eb00" d="M633.2 332.3l4 2.3l2.8-2.4l-4-1.9z"/>
<path fill="#080" d="M488.6 333.3l5.4-1l3.9-3.7l-5.5 1z"/>
<path fill="#007500" d="M508.3 322.8l4.1-1.3l3.7-3.2l-4.1 1.1z"/>
<path fill="#008300" d="M536.2 309.3l4.3-0.7l3.8-1.4l-4.3 0.5z"/>
<path fill="#00d400" d="M599.9 314l4.1 2.5l3.5 0.4l-4.1-2.3z"/>
<path fill="#00ea00" d="M636.4 334.1l4 2.1l2.7-2.6l-4-1.8z"/>
<path fill="#e6e6e6" d="M627.9 259l4.2 1.1l1.3-1.6l-4.1-1.1z"/>
<path fill="#007c00" d="M495.6 329.8l5.5-1.4l3.8-3.5l-5.5 1.3z"/>
<path fill="#007600" d="M502.7 326.1l4.1-1.2l3.7-3.4l-4.1 1.1z"/>
<path fill="#00d900" d="M655.8 339.9l5.8 2l1.4-2.2l-5.7-1.9z"/>
<path fill="#e6e6e6" d="M662.9 267.8l1.1-1.3l-5.9-1.5l-1.2 1.4z"/>
<path fill="#005400" d="M655 292.3l4.7 11.4l3.5-36.7l-5.9-1.4z"/>
<path fill="#007600" d="M522.3 315.3l4.1-1.2l3.8-2.6l-4.2 1.1z"/>
<path fill="#00e800" d="M639.5 335.8l5.6 2.8l2.6-2.9l-5.5-2.5z"/>
<path fill="#00d800" d="M603 315.6l4.1 2.6l3.5 0.3l-4.1-2.4z"/>
<path fill="#00dc00" d="M606 317.3l4.2 2.7l3.5 0.1l-4.2-2.4z"/>
<path fill="#e6e6e6" d="M631.1 259.8l4.1 1.1l1.4-1.6l-4.1-1z"/>
<path fill="#00e500" d="M644.3 338.2l5.6 2.6l2.6-3.2l-5.6-2.3z"/>
<path fill="#00e000" d="M609.1 319.2l4.2 2.7l3.4-0.1l-4.1-2.5z"/>
<path fill="#007200" d="M516.7 318.5l4.1-1.4l3.8-3l-4.2 1.3z"/>
<path fill="#007b00" d="M530.7 311.5l4.2-1.1l3.8-1.8l-4.3 0.8z"/>
<path fill="#e6e6e6" d="M657.9 266.7l1.2-1.5l-4.3-1.1l-1.2 1.5z"/>
<path fill="#005400" d="M652.4 284.6l3.3 8.9l2.5-27.7l-4.2-1z"/>
<path fill="#00ac00" d="M471.3 341.5l5.4 0.4l4-3.7l-5.4-0.4z"/>
<path fill="#00e400" d="M612.2 321.1l4.2 2.8l3.4-0.4l-4.2-2.5z"/>
<path fill="#009700" d="M478.4 339.1l5.5-0.4l4-3.8l-5.5 0.4z"/>
<path fill="#003000" d="M585.3 308.2l4.5 1l3.3 1.7l-4.4-1.1z"/>
<path fill="#00e000" d="M649.1 340.5l5.7 2.3l2.5-3.4l-5.7-2.1z"/>
<path fill="#e6e6e6" d="M634.3 260.6l4.1 1.1l1.4-1.5l-4.2-1.1z"/>
<path fill="#00e700" d="M615.3 323.2l4.2 2.8l3.4-0.8l-4.2-2.4z"/>
<path fill="#007000" d="M511.1 321.8l4.1-1.4l3.7-3.2l-4.1 1.3z"/>
<path fill="#00ea00" d="M618.5 325.3l4.1 2.8l3.2-1.1l-4.1-2.4z"/>
<path fill="#e6e6e6" d="M654.6 265.9l1.2-1.5l-4.2-1.1l-1.3 1.5z"/>
<path fill="#005400" d="M649.8 276.5l3.2 9.4l1.9-20.9l-4.2-1z"/>
<path fill="#008600" d="M485.6 336l5.5-0.9l3.9-3.8l-5.5 1z"/>
<path fill="#00ec00" d="M621.7 327.4l4.1 2.7l3-1.4l-4-2.3z"/>
<path fill="#007100" d="M505.4 325.2l4.2-1.4l3.7-3.3l-4.1 1.2z"/>
<path fill="#007500" d="M525.1 314.2l4.2-1.3l3.7-2.4l-4.2 1.1z"/>
<path fill="#00db00" d="M653.9 342.5l5.7 2.2l2.5-3.6l-5.7-2z"/>
<path fill="#00c800" d="M588.4 309.2l4.2 2.1l3.6 0.8l-4.1-2.1z"/>
<path fill="#0e0" d="M624.9 329.6l4 2.6l2.9-1.7l-3.9-2.3z"/>
<path fill="#e6e6e6" d="M637.4 261.5l4.2 1.1l1.3-1.6l-4.1-1.1z"/>
<path fill="#00ef00" d="M628.1 331.7l4 2.5l2.8-2l-4-2.2z"/>
<path fill="#007a00" d="M492.7 332.5l5.5-1.5l3.8-3.6l-5.5 1.4z"/>
<path fill="#007300" d="M499.8 328.7l4.1-1.3l3.8-3.5l-4.1 1.2z"/>
<path fill="#00ef00" d="M631.2 333.7l4 2.5l2.8-2.3l-4-2.1z"/>
<path fill="#e6e6e6" d="M651.3 265.1l1.3-1.6l-4.2-1.1l-1.3 1.6z"/>
<path fill="#005400" d="M647.1 267.9l3.3 9.8l1.2-13.5l-4.1-1z"/>
<path fill="#00cd00" d="M591.5 310.4l4.1 2.3l3.6 0.7l-4.1-2.2z"/>
<path fill="#00ef00" d="M634.4 335.7l4 2.4l2.7-2.5l-4-2.1z"/>
<path fill="#e6e6e6" d="M640.6 262.3l4.2 1.1l1.3-1.5l-4.1-1.1z"/>
<path fill="#007000" d="M519.5 317.3l4.2-1.4l3.7-2.8l-4.2 1.2z"/>
<path fill="#e6e6e6" d="M643.8 263.2l2.3 0.6l1.9 0.4l1.3-1.5l-4.1-1.1z"/>
<path fill="#005400" d="M645.6 262.7l2.1 6.4l0.7-5.7z"/>
<path fill="#00ed00" d="M637.6 337.7l5.5 3.1l2.7-2.9l-5.6-2.7z"/>
<path fill="#00ac00" d="M468.2 344.4l5.4 0.4l4-3.8l-5.4-0.4z"/>
<path fill="#00d200" d="M594.6 311.8l4.1 2.4l3.6 0.7l-4.1-2.4z"/>
<path fill="#009700" d="M475.4 341.9l5.5-0.4l4-3.8l-5.5 0.4z"/>
<path fill="#006d00" d="M513.9 320.6l4.1-1.5l3.7-3l-4.1 1.3z"/>
<path fill="#00ea00" d="M642.3 340.4l5.7 2.9l2.5-3.2l-5.6-2.6z"/>
<path fill="#00d600" d="M597.7 313.3l4.1 2.7l3.6 0.5l-4.1-2.5z"/>
<path fill="#007500" d="M527.9 313.1l4.2-1.3l3.8-2.3l-4.2 1.1z"/>
<path fill="#008500" d="M482.6 338.8l5.5-0.9l3.9-3.8l-5.5 0.9z"/>
<path fill="#006c00" d="M508.2 324.1l4.1-1.5l3.8-3.3l-4.1 1.4z"/>
<path fill="#00e500" d="M647.1 342.9l5.7 2.6l2.5-3.4l-5.6-2.4z"/>
<path fill="#00db00" d="M600.8 315l4.1 2.8l3.6 0.4l-4.2-2.6z"/>
<path fill="#006d00" d="M502.6 327.7l4.1-1.5l3.7-3.4l-4.1 1.3z"/>
<path fill="#00df00" d="M603.9 316.9l4.1 2.9l3.6 0.2l-4.2-2.7z"/>
<path fill="#003000" d="M536.4 309.4l4-1.8l4.1-0.7l-4 1.7z"/>
<path fill="#007800" d="M489.8 335.3l5.4-1.5l3.9-3.8l-5.5 1.5z"/>
<path fill="#00df00" d="M651.9 345.1l5.8 2.4l2.5-3.6l-5.8-2.2z"/>
<path fill="#00e300" d="M607 318.9l4.2 3l3.5-0.1l-4.2-2.7z"/>
<path fill="#007000" d="M496.9 331.3l4.1-1.3l3.8-3.6l-4.1 1.2z"/>
<path fill="#006f00" d="M522.3 316.1l4.2-1.4l3.7-2.7l-4.2 1.3z"/>
<path fill="#00e600" d="M610.1 321.1l4.2 3l3.5-0.3l-4.2-2.8z"/>
<path fill="#00ea00" d="M613.2 323.3l4.2 3.1l3.4-0.7l-4.2-2.7z"/>
<path fill="#00ac00" d="M465.1 347.3l5.4 0.4l4-3.8l-5.4-0.4z"/>
<path fill="#00ec00" d="M616.4 325.6l4.2 3.1l3.2-1l-4.1-2.7z"/>
<path fill="#00ef00" d="M619.7 328l4 3l3.1-1.3l-4-2.6z"/>
<path fill="#00f100" d="M622.9 330.4l4 2.9l2.9-1.6l-3.9-2.6z"/>
<path fill="#006b00" d="M516.7 319.4l4.1-1.6l3.8-2.9l-4.2 1.4z"/>
<path fill="#009600" d="M472.3 344.8l5.5-0.4l4.1-3.8l-5.5 0.4z"/>
<path fill="#00f200" d="M626 332.7l4 2.9l2.9-1.9l-4-2.5z"/>
<path fill="#00f300" d="M629.2 335l4 2.8l2.8-2.2l-4-2.4z"/>
<path fill="#007500" d="M530.8 311.9l4.2-1.2l3.8-2.2l-4.3 1.1z"/>
<path fill="#00f300" d="M632.4 337.3l3.9 2.7l2.8-2.5l-4-2.4z"/>
<path fill="#00f200" d="M635.6 339.5l5.5 3.5l2.7-2.9l-5.5-3.1z"/>
<path fill="#006800" d="M511 322.9l4.2-1.6l3.7-3.2l-4.2 1.5z"/>
<path fill="#008500" d="M479.6 341.7l5.4-1l4-3.8l-5.5 0.9z"/>
<path fill="#00c800" d="M586.1 308.3l4.2 2.2l3.6 0.8l-4.1-2.1z"/>
<path fill="#0e0" d="M640.3 342.5l5.6 3.2l2.6-3.1l-5.5-2.9z"/>
<path fill="#006800" d="M505.3 326.5l4.2-1.6l3.7-3.4l-4.1 1.5z"/>
<path fill="#00ce00" d="M589.2 309.6l4.2 2.3l3.6 0.8l-4.1-2.2z"/>
<path fill="#070" d="M486.8 338.1l5.4-1.6l3.9-3.8l-5.5 1.5z"/>
<path fill="#00e900" d="M645.1 345.3l5.7 2.9l2.5-3.4l-5.6-2.6z"/>
<path fill="#006e00" d="M525.2 314.9l4.2-1.5l3.7-2.6l-4.2 1.3z"/>
<path fill="#006a00" d="M499.6 330.3l4.1-1.5l3.8-3.6l-4.1 1.4z"/>
<path fill="#006e00" d="M493.9 334l4.1-1.3l3.8-3.8l-4.1 1.4z"/>
<path fill="#00d200" d="M592.3 311l4.2 2.5l3.6 0.8l-4.1-2.5z"/>
<path fill="#00ac00" d="M461.9 350.2l5.4 0.5l4.1-3.8l-5.4-0.5z"/>
<path fill="#00e200" d="M650 347.8l5.7 2.5l2.5-3.6l-5.7-2.3z"/>
<path fill="#006900" d="M519.5 318.1l4.2-1.6l3.7-2.8l-4.2 1.4z"/>
<path fill="#009600" d="M469.2 347.7l5.5-0.3l4.1-3.9l-5.5 0.4z"/>
<path fill="#070" d="M533.7 310.7l4.3-1.2l3.7-1.9l-4.2 1z"/>
<path fill="#00d700" d="M595.5 312.6l4.1 2.7l3.6 0.7l-4.1-2.6z"/>
<path fill="#00dc00" d="M598.6 314.4l4.1 2.9l3.6 0.6l-4.1-2.8z"/>
<path fill="#060" d="M513.8 321.5l4.2-1.7l3.7-3l-4.1 1.5z"/>
<path fill="#008400" d="M476.5 344.6l5.5-1l4-3.9l-5.5 1z"/>
<path fill="#00e000" d="M601.7 316.4l4.2 3l3.5 0.4l-4.1-2.8z"/>
<path fill="#006400" d="M508.1 325.2l4.2-1.7l3.7-3.3l-4.1 1.6z"/>
<path fill="#00e300" d="M604.8 318.5l4.2 3.2l3.5 0.2l-4.1-3z"/>
<path fill="#006f00" d="M528 313.6l4.3-1.5l3.7-2.4l-4.2 1.3z"/>
<path fill="#00e700" d="M608 320.8l4.1 3.3l3.5-0.1l-4.1-3z"/>
<path fill="#00ea00" d="M611.1 323.2l4.2 3.3l3.5-0.3l-4.2-3z"/>
<path fill="#006500" d="M502.4 329.1l4.1-1.7l3.8-3.5l-4.1 1.6z"/>
<path fill="#00ed00" d="M614.3 325.7l4.1 3.4l3.3-0.7l-4-3z"/>
<path fill="#00f400" d="M624 333.6l3.9 3.2l2.9-1.7l-3.9-2.8z"/>
<path fill="#00f500" d="M627.2 336.2l3.9 3l2.8-1.9l-3.9-2.8z"/>
<path fill="#00f000" d="M617.5 328.3l4.1 3.3l3.1-1l-3.9-2.9z"/>
<path fill="#00f200" d="M620.8 331l4 3.2l3-1.3l-4-2.9z"/>
<path fill="#00f500" d="M630.3 338.7l4 2.9l2.8-2.2l-3.9-2.7z"/>
<path fill="#007600" d="M483.7 340.9l5.5-1.5l3.9-3.9l-5.5 1.5z"/>
<path fill="#00f500" d="M633.5 341.1l5.6 3.9l2.7-2.7l-5.5-3.5z"/>
<path fill="#006800" d="M496.7 333l4.1-1.6l3.8-3.7l-4.1 1.5z"/>
<path fill="#00f200" d="M638.3 344.5l5.6 3.6l2.6-3.1l-5.5-3.2z"/>
<path fill="#006d00" d="M490.9 336.8l4.1-1.4l3.9-3.8l-4.1 1.4z"/>
<path fill="#00ac00" d="M458.7 353.2l5.4 0.5l4.1-3.9l-5.4-0.4z"/>
<path fill="#003000" d="M580.6 306.4l4.5 1l3.4 1.9l-4.4-1.1z"/>
<path fill="#00ed00" d="M643.1 347.6l5.7 3.2l2.5-3.4l-5.6-2.8z"/>
<path fill="#007900" d="M536.6 309.6l4.3-1.1l3.8-1.8l-4.3 0.9z"/>
<path fill="#006900" d="M522.3 316.7l4.3-1.6l3.7-2.7l-4.2 1.5z"/>
<path fill="#003000" d="M545.2 306.5l4.2-1.5l4-0.1l-4.2 1.3z"/>
<path fill="#009600" d="M466 350.7l5.5-0.3l4.2-4l-5.6 0.4z"/>
<path fill="#00e600" d="M648 350.4l5.7 2.7l2.5-3.5l-5.7-2.6z"/>
<path fill="#006400" d="M516.7 320.1l4.1-1.7l3.8-3l-4.2 1.6z"/>
<path fill="#008400" d="M473.4 347.5l5.5-1l4-3.9l-5.5 1z"/>
<path fill="#007000" d="M530.9 312.3l4.3-1.4l3.8-2.3l-4.3 1.2z"/>
<path fill="#006200" d="M510.9 323.8l4.2-1.8l3.7-3.2l-4.1 1.7z"/>
<path fill="#0c0" d="M586.9 308.6l4.1 2.4l3.7 1l-4.1-2.4z"/>
<path fill="#006100" d="M505.2 327.8l4.1-1.8l3.8-3.6l-4.1 1.8z"/>
<path fill="#007500" d="M480.6 343.8l5.5-1.5l4-4l-5.5 1.6z"/>
<path fill="#006300" d="M499.5 331.8l4.1-1.7l3.8-3.8l-4.2 1.7z"/>
<path fill="#007c00" d="M539.5 308.5l4.4-1l3.8-1.7l-4.4 0.9z"/>
<path fill="#00ae00" d="M455.5 356.3l5.4 0.6l4.1-4l-5.4-0.5z"/>
<path fill="#006700" d="M493.7 335.8l4.1-1.6l3.8-3.8l-4.1 1.5z"/>
<path fill="#00d100" d="M590.1 310l4.1 2.6l3.6 1l-4.1-2.5z"/>
<path fill="#006c00" d="M487.9 339.7l4.1-1.4l3.9-3.9l-4.1 1.4z"/>
<path fill="#006900" d="M525.2 315.3l4.3-1.7l3.7-2.5l-4.2 1.5z"/>
<path fill="#009700" d="M462.8 353.8l5.6-0.3l4.1-4.1l-5.5 0.4z"/>
<path fill="#00d600" d="M593.2 311.6l4.1 2.9l3.6 0.9l-4.1-2.7z"/>
<path fill="#00f600" d="M631.5 342.4l5.5 4.4l2.8-2.4l-5.5-3.9z"/>
<path fill="#00f500" d="M636.3 346.2l5.6 4l2.6-2.8l-5.5-3.5z"/>
<path fill="#00db00" d="M596.4 313.5l4.1 3l3.6 0.9l-4.1-2.9z"/>
<path fill="#00f500" d="M628.3 339.7l3.9 3.3l2.9-1.9l-3.9-3z"/>
<path fill="#00f400" d="M625 336.9l4 3.4l2.9-1.5l-3.9-3.1z"/>
<path fill="#00f200" d="M641.1 349.7l5.6 3.6l2.6-3.2l-5.6-3.2z"/>
<path fill="#006400" d="M519.5 318.6l4.2-1.7l3.8-2.9l-4.3 1.7z"/>
<path fill="#00f200" d="M621.8 334l4 3.5l3.1-1.2l-4-3.1z"/>
<path fill="#00de00" d="M599.5 315.6l4.1 3.2l3.6 0.7l-4.1-3z"/>
<path fill="#008400" d="M470.2 350.5l5.5-0.9l4.1-4.1l-5.5 1z"/>
<path fill="#00f000" d="M618.6 331.1l4 3.6l3.2-0.8l-4-3.2z"/>
<path fill="#007300" d="M533.8 311l4.3-1.4l3.8-2l-4.3 1.1z"/>
<path fill="#00e200" d="M602.7 317.8l4.1 3.4l3.5 0.6l-4.1-3.2z"/>
<path fill="#0e0" d="M615.3 328.3l4.2 3.6l3.3-0.5l-4.1-3.3z"/>
<path fill="#00eb00" d="M645.9 352.8l5.8 3.1l2.5-3.5l-5.7-2.7z"/>
<path fill="#00eb00" d="M612.1 325.5l4.2 3.6l3.5-0.1l-4.2-3.4z"/>
<path fill="#00e500" d="M605.8 320.2l4.2 3.5l3.5 0.4l-4.1-3.3z"/>
<path fill="#00e800" d="M609 322.8l4.1 3.6l3.5 0.1l-4.1-3.3z"/>
<path fill="#003000" d="M575 304.8l4.5 0.7l3.5 1.7l-4.4-0.7z"/>
<path fill="#006000" d="M513.8 322.3l4.1-1.8l3.8-3.2l-4.2 1.8z"/>
<path fill="#003000" d="M551.2 304.9l4.3-1.2l4 0.3l-4.3 1z"/>
<path fill="#00b000" d="M453.3 358.3l5.4 0.7l3-2.9l-5.4-0.6z"/>
<path fill="#005e00" d="M508 326.3l4.2-1.9l3.7-3.5l-4.1 1.9z"/>
<path fill="#007500" d="M477.5 346.8l5.5-1.6l4-4l-5.5 1.6z"/>
<path fill="#005f00" d="M502.3 330.4l4.1-1.8l3.8-3.8l-4.2 1.9z"/>
<path fill="#006100" d="M496.5 334.5l4.1-1.7l3.8-3.8l-4.1 1.7z"/>
<path fill="#060" d="M490.7 338.6l4.1-1.6l3.8-3.9l-4.1 1.6z"/>
<path fill="#006c00" d="M484.8 342.5l4.1-1.4l3.9-3.9l-4.1 1.4z"/>
<path fill="#090" d="M459.6 356.9l5.5-0.1l4.2-4.2l-5.5 0.2z"/>
<path fill="#00b200" d="M451.1 360.4l5.4 0.8l3-3l-5.4-0.7z"/>
<path fill="#003000" d="M581.3 306.4l4.6 1.3l3.4 1.9l-4.5-1.3z"/>
<path fill="#006400" d="M522.4 317.1l4.2-1.8l3.8-2.7l-4.3 1.7z"/>
<path fill="#007600" d="M536.8 309.7l4.3-1.2l3.8-1.9l-4.3 1z"/>
<path fill="#008400" d="M467 353.7l5.6-0.9l4-4.3l-5.5 1z"/>
<path fill="#0c0" d="M584.5 307.6l4.2 2.4l3.7 1.1l-4.1-2.4z"/>
<path fill="#005f00" d="M516.6 320.8l4.2-2l3.8-3l-4.2 1.8z"/>
<path fill="#00f600" d="M639.1 351.7l5.6 4l2.6-3.1l-5.6-3.6z"/>
<path fill="#00f800" d="M634.2 347.8l5.6 4.5l2.7-2.7l-5.5-4z"/>
<path fill="#00f000" d="M643.9 355.2l5.7 3.5l2.6-3.5l-5.7-3.1z"/>
<path fill="#00f700" d="M629.4 343.5l5.5 4.9l2.8-2.2l-5.4-4.3z"/>
<path fill="#005c00" d="M510.9 324.7l4.1-2l3.8-3.3l-4.2 1.9z"/>
<path fill="#007500" d="M474.4 349.8l5.5-1.5l4-4.2l-5.5 1.6z"/>
<path fill="#009b00" d="M457.5 359l5.5 0l3-3.2l-5.5 0.2z"/>
<path fill="#00d200" d="M587.7 309l4.1 2.7l3.7 1l-4.1-2.6z"/>
<path fill="#00f600" d="M626.2 340.5l3.9 3.6l2.9-1.6l-3.9-3.3z"/>
<path fill="#00b500" d="M448.9 362.5l5.4 1l3-3.1l-5.4-0.8z"/>
<path fill="#005b00" d="M505.1 328.9l4.1-1.9l3.8-3.7l-4.2 1.9z"/>
<path fill="#005d00" d="M499.3 333.2l4.1-1.9l3.8-3.9l-4.1 1.9z"/>
<path fill="#006100" d="M493.5 337.3l4.1-1.7l3.8-3.9l-4.1 1.7z"/>
<path fill="#00f400" d="M622.9 337.4l4 3.8l3-1.3l-3.9-3.4z"/>
<path fill="#006500" d="M487.6 341.5l4.1-1.6l3.9-4l-4.1 1.6z"/>
<path fill="#006b00" d="M481.7 345.5l4.1-1.4l4-4l-4.1 1.4z"/>
<path fill="#00d700" d="M590.9 310.7l4.1 2.9l3.7 1l-4.1-2.8z"/>
<path fill="#00f200" d="M619.7 334.3l4 3.8l3.1-0.9l-3.9-3.4z"/>
<path fill="#00f000" d="M616.4 331.2l4.1 3.9l3.2-0.6l-3.9-3.5z"/>
<path fill="#00db00" d="M594.1 312.6l4.1 3.1l3.6 1l-4.1-3z"/>
<path fill="#0e0" d="M613.1 328.1l4.2 3.9l3.4-0.2l-4.1-3.6z"/>
<path fill="#008700" d="M463.8 356.9l5.6-0.8l4.1-4.3l-5.6 0.9z"/>
<path fill="#006500" d="M525.3 315.5l4.2-1.7l3.8-2.5l-4.3 1.5z"/>
<path fill="#00df00" d="M597.3 314.7l4.1 3.4l3.6 0.8l-4.1-3.2z"/>
<path fill="#00eb00" d="M610 325.1l4.1 3.9l3.5 0.1l-4.1-3.6z"/>
<path fill="#00e200" d="M600.4 317.1l4.2 3.5l3.5 0.7l-4.1-3.3z"/>
<path fill="#00e800" d="M606.8 322.3l4.1 3.8l3.6 0.4l-4.2-3.6z"/>
<path fill="#009e00" d="M455.3 361.2l5.5 0.1l3-3.2l-5.4 0z"/>
<path fill="#00b900" d="M447.3 364.1l5.4 1.2l2.4-2.6l-5.4-0.9z"/>
<path fill="#00e600" d="M603.6 319.6l4.1 3.7l3.6 0.6l-4.1-3.5z"/>
<path fill="#003000" d="M572.5 304.1l4.5 0.6l3.6 1.6l-4.5-0.7z"/>
<path fill="#005f00" d="M519.5 319.1l4.2-1.9l3.8-2.9l-4.3 1.8z"/>
<path fill="#003000" d="M560.4 303.5l4.5-0.5l3.8 0.8l-4.4 0.3z"/>
<path fill="#007500" d="M471.2 353l5.5-1.4l4.1-4.4l-5.5 1.5z"/>
<path fill="#005b00" d="M513.7 323.1l4.2-2.1l3.8-3.3l-4.2 2z"/>
<path fill="#00bd00" d="M445.6 365.8l5.4 1.3l2.4-2.6l-5.3-1.1z"/>
<path fill="#005900" d="M507.9 327.3l4.2-2l3.7-3.7l-4.1 2z"/>
<path fill="#00a300" d="M453.2 363.4l5.4 0.4l3-3.3l-5.4-0.2z"/>
<path fill="#005a00" d="M502.1 331.7l4.1-2.1l3.8-3.8l-4.1 2z"/>
<path fill="#006b00" d="M478.6 348.6l4.1-1.4l3.9-4.2l-4.1 1.4z"/>
<path fill="#005c00" d="M496.3 335.9l4.1-1.9l3.8-3.8l-4.1 1.8z"/>
<path fill="#006400" d="M484.5 344.4l4.1-1.6l3.9-4l-4.1 1.6z"/>
<path fill="#006000" d="M490.4 340.2l4.1-1.8l3.9-3.9l-4.1 1.7z"/>
<path fill="#008a00" d="M461.6 359.1l5.6-0.6l3.1-3.4l-5.6 0.8z"/>
<path fill="#00f400" d="M641.9 357.6l5.6 3.9l2.7-3.5l-5.7-3.5z"/>
<path fill="#00f900" d="M637 353.7l5.6 4.5l2.7-3.2l-5.6-3.9z"/>
<path fill="#00fa00" d="M632.2 349.4l5.5 4.9l2.7-2.7l-5.4-4.4z"/>
<path fill="#00c800" d="M578.8 305.7l4.3 2l3.8 0.9l-4.2-2.1z"/>
<path fill="#00c200" d="M444 367.4l5.4 1.7l2.3-2.8l-5.3-1.3z"/>
<path fill="#006700" d="M528.2 314l4.3-1.7l3.8-2.4l-4.3 1.5z"/>
<path fill="#00f900" d="M627.3 344.7l5.5 5.3l2.9-2.2l-5.5-4.8z"/>
<path fill="#00a900" d="M451.6 365.1l5.4 0.7l2.4-2.8l-5.4-0.4z"/>
<path fill="#00f700" d="M624.1 341.4l3.9 3.9l2.9-1.6l-3.8-3.6z"/>
<path fill="#00ce00" d="M582.1 306.8l4.2 2.4l3.8 0.9l-4.2-2.4z"/>
<path fill="#008d00" d="M459.5 361.4l5.6-0.4l3-3.5l-5.5 0.6z"/>
<path fill="#006000" d="M522.4 317.5l4.3-2l3.7-2.8l-4.2 1.8z"/>
<path fill="#00f500" d="M620.9 338.1l3.9 4l3-1.3l-3.9-3.7z"/>
<path fill="#00c900" d="M442.3 369.1l5.4 2l2.3-2.8l-5.3-1.6z"/>
<path fill="#007800" d="M468 356.4l5.6-1.3l4-4.6l-5.5 1.5z"/>
<path fill="#003000" d="M566.7 303.4l4.5 0.2l3.8 1.1l-4.5-0.3z"/>
<path fill="#00d400" d="M585.3 308.2l4.2 2.7l3.7 0.9l-4.2-2.6z"/>
<path fill="#00f300" d="M617.6 334.7l4 4.1l3.1-1l-3.9-3.7z"/>
<path fill="#00ae00" d="M450 366.9l5.4 1l2.3-2.9l-5.4-0.7z"/>
<path fill="#005b00" d="M516.6 321.4l4.2-2.1l3.8-3.2l-4.3 2z"/>
<path fill="#00f100" d="M614.3 331.4l4.1 4.1l3.2-0.6l-4-3.8z"/>
<path fill="#006b00" d="M475.4 351.9l4.1-1.4l4-4.5l-4.1 1.5z"/>
<path fill="#00d900" d="M588.5 309.9l4.2 2.9l3.7 0.9l-4.2-2.8z"/>
<path fill="#005800" d="M510.8 325.7l4.2-2.2l3.7-3.6l-4.2 2.1z"/>
<path fill="#006400" d="M481.4 347.5l4.1-1.6l3.9-4.2l-4.1 1.6z"/>
<path fill="#005800" d="M504.9 330l4.2-2.1l3.8-3.7l-4.2 2z"/>
<path fill="#005f00" d="M487.3 343.2l4.1-1.8l3.9-4.1l-4.1 1.8z"/>
<path fill="#00ef00" d="M611 328.1l4.1 4.1l3.4-0.3l-4-3.8z"/>
<path fill="#005b00" d="M493.2 338.8l4.1-1.9l3.9-4l-4.2 1.9z"/>
<path fill="#005900" d="M499.1 334.4l4.1-2l3.8-3.9l-4.1 2z"/>
<path fill="#0d0" d="M591.7 311.8l4.2 3.2l3.7 0.9l-4.2-3.1z"/>
<path fill="#009200" d="M457.5 363.8l5.5 0l2.8-3.7l-5.4 0.4z"/>
<path fill="#00ed00" d="M607.8 324.9l4.1 4.1l3.6 0.1l-4.2-3.9z"/>
<path fill="#00b400" d="M448.4 368.8l5.4 1.4l2.2-3.1l-5.3-1z"/>
<path fill="#006a00" d="M531.1 312.4l4.4-1.6l3.8-2.2l-4.3 1.5z"/>
<path fill="#00e100" d="M594.9 314l4.2 3.4l3.6 0.8l-4.1-3.3z"/>
<path fill="#00eb00" d="M604.6 321.9l4.1 4l3.6 0.3l-4.1-3.8z"/>
<path fill="#00ba00" d="M569.9 303.8l4.4 1.3l3.8 0.3l-4.3-1.4z"/>
<path fill="#00e500" d="M598.1 316.4l4.2 3.7l3.6 0.6l-4.1-3.5z"/>
<path fill="#00e800" d="M601.4 319.1l4.1 3.8l3.6 0.5l-4.1-3.6z"/>
<path fill="#00f700" d="M639.8 360.2l5.6 4.1l2.7-3.5l-5.7-3.9z"/>
<path fill="#00a100" d="M557.8 303.8l4.4 0.2l3.9-0.6l-4.4-0.4z"/>
<path fill="#007b00" d="M465.9 358.7l5.5-1.1l3-3.6l-5.5 1.3z"/>
<path fill="#00fb00" d="M634.9 355.9l5.6 4.8l2.7-3.2l-5.6-4.4z"/>
<path fill="#00bd00" d="M446.8 370.8l5.4 2l2.1-3.3l-5.3-1.5z"/>
<path fill="#003000" d="M539.9 308.4l4.2-2l4.1-0.8l-4.1 1.8z"/>
<path fill="#090" d="M455.9 365.7l5.5 0.3l2.2-3.1l-5.4 0z"/>
<path fill="#00fb00" d="M630.1 351.2l5.5 5.3l2.7-2.8l-5.4-4.9z"/>
<path fill="#008d00" d="M548.8 305.5l4.5-0.5l3.9-1.2l-4.5 0.3z"/>
<path fill="#006200" d="M525.3 315.8l4.3-1.9l3.8-2.6l-4.3 1.7z"/>
<path fill="#00c200" d="M573.1 304.4l4.3 1.6l3.9 0.4l-4.3-1.7z"/>
<path fill="#00fa00" d="M625.2 346.1l5.5 5.7l2.8-2.4l-5.4-5.2z"/>
<path fill="#006e00" d="M472.3 355.4l4.1-1.2l4-4.8l-4.2 1.4z"/>
<path fill="#005c00" d="M519.5 319.7l4.2-2.1l3.8-3.1l-4.3 1.9z"/>
<path fill="#009e00" d="M454.4 367.8l5.4 0.6l2.1-3.3l-5.3-0.2z"/>
<path fill="#007e00" d="M463.7 361.2l5.6-0.8l3-3.9l-5.6 1.2z"/>
<path fill="#006400" d="M478.2 350.9l4.2-1.5l3.9-4.6l-4.1 1.6z"/>
<path fill="#0a0" d="M560.9 303.6l4.5 0.5l3.9-0.5l-4.5-0.6z"/>
<path fill="#005800" d="M513.7 323.9l4.2-2.1l3.7-3.6l-4.2 2.1z"/>
<path fill="#005f00" d="M484.2 346.3l4.1-1.8l3.9-4.3l-4.1 1.9z"/>
<path fill="#00f900" d="M622 342.6l3.9 4.2l2.9-2l-3.8-3.8z"/>
<path fill="#00ca00" d="M576.3 305.2l4.3 2l3.9 0.5l-4.3-2z"/>
<path fill="#005b00" d="M490.1 341.8l4.1-2l3.9-4l-4.1 1.9z"/>
<path fill="#005600" d="M507.8 328.3l4.2-2.1l3.7-3.8l-4.1 2.1z"/>
<path fill="#005800" d="M496 337.3l4.2-2.1l3.8-3.9l-4.1 2z"/>
<path fill="#003000" d="M534.1 311l4-2.3l4.3-1.2l-4.1 2.1z"/>
<path fill="#005700" d="M501.9 332.8l4.2-2.1l3.8-3.9l-4.2 2.1z"/>
<path fill="#00a200" d="M452.9 370l5.4 1.3l2-3.7l-5.3-0.7z"/>
<path fill="#00f700" d="M618.8 339l3.8 4.3l3-1.6l-3.8-3.9z"/>
<path fill="#009500" d="M551.9 304.8l4.5-0.3l3.9-1l-4.4 0.1z"/>
<path fill="#008300" d="M461.7 363.9l5.6-0.5l2.8-4.1l-5.5 0.9z"/>
<path fill="#00d100" d="M579.5 306.3l4.3 2.3l3.9 0.6l-4.3-2.3z"/>
<path fill="#00ab00" d="M451.4 372.4l5.4 2l1.9-3.9l-5.3-1.3z"/>
<path fill="#00f600" d="M615.5 335.5l3.9 4.2l3.1-1.2l-3.9-4z"/>
<path fill="#00b300" d="M564.1 303.6l4.4 0.8l3.9-0.3l-4.4-0.9z"/>
<path fill="#007100" d="M470.1 357.9l4.2-1.1l2.9-3.7l-4.1 1.2z"/>
<path fill="#00f900" d="M637.7 362.9l5.6 4.4l2.7-3.7l-5.7-4.1z"/>
<path fill="#006500" d="M528.3 314.1l4.3-1.7l3.8-2.6l-4.3 1.7z"/>
<path fill="#00f400" d="M612.2 331.9l4 4.3l3.1-1l-3.8-3.9z"/>
<path fill="#00d700" d="M582.8 307.7l4.3 2.6l3.8 0.6l-4.3-2.6z"/>
<path fill="#00fc00" d="M632.8 358.4l5.5 5.1l2.8-3.5l-5.6-4.8z"/>
<path fill="#008a00" d="M460.2 366l5.5-0.1l2.2-3.4l-5.4 0.4z"/>
<path fill="#00f200" d="M608.9 328.4l4 4.3l3.3-0.7l-3.9-3.9z"/>
<path fill="#006700" d="M475.1 354.5l4.1-1.4l3.9-4.9l-4.1 1.6z"/>
<path fill="#0d0" d="M586 309.4l4.3 2.9l3.8 0.6l-4.3-2.9z"/>
<path fill="#005d00" d="M522.4 317.9l4.3-2l3.8-3l-4.3 1.9z"/>
<path fill="#00f000" d="M605.6 325.1l4.1 4.2l3.4-0.4l-4-3.9z"/>
<path fill="#00fc00" d="M627.9 353.3l5.5 5.7l2.8-3.1l-5.5-5.3z"/>
<path fill="#005f00" d="M481.1 349.7l4.1-1.7l3.8-4.7l-4.1 1.9z"/>
<path fill="#009e00" d="M555.1 304.2l4.4 0.1l4-0.8l-4.5-0.3z"/>
<path fill="#00e200" d="M589.3 311.4l4.2 3.2l3.8 0.5l-4.3-3.1z"/>
<path fill="#00bc00" d="M567.3 303.8l4.4 1.2l3.9-0.2l-4.4-1.2z"/>
<path fill="#003000" d="M537.1 309.5l4.1-2.1l4.2-1l-4.1 2z"/>
<path fill="#008e00" d="M458.8 368.3l5.4 0.5l2-3.8l-5.3 0.1z"/>
<path fill="#007300" d="M468 360.6l4.2-0.9l2.9-4.1l-4.2 1.2z"/>
<path fill="#0e0" d="M602.3 321.9l4.2 4.1l3.5-0.1l-4.1-3.9z"/>
<path fill="#005800" d="M516.6 322.2l4.2-2.2l3.8-3.5l-4.3 2.1z"/>
<path fill="#00e600" d="M592.5 313.6l4.3 3.5l3.7 0.4l-4.2-3.3z"/>
<path fill="#005a00" d="M487 344.9l4.1-2l3.9-4.2l-4.1 1.9z"/>
<path fill="#00ec00" d="M599 318.9l4.2 3.9l3.7 0.2l-4.2-3.8z"/>
<path fill="#00e900" d="M595.8 316.2l4.2 3.7l3.7 0.3l-4.2-3.6z"/>
<path fill="#003000" d="M546.1 306.2l4.2-1.5l4.2-0.4l-4.3 1.3z"/>
<path fill="#005600" d="M510.7 326.6l4.2-2.2l3.8-3.8l-4.3 2.2z"/>
<path fill="#005700" d="M492.9 340.2l4.2-2l3.8-4.1l-4.1 2.1z"/>
<path fill="#008e00" d="M457.4 371.1l5.3 1.1l1.9-4.3l-5.3-0.4z"/>
<path fill="#005600" d="M498.9 335.6l4.1-2.1l3.8-4l-4.1 2.2z"/>
<path fill="#050" d="M504.8 331.1l4.2-2.2l3.8-3.9l-4.2 2.2z"/>
<path fill="#00fb00" d="M623.1 347.9l5.4 6.1l2.9-2.8l-5.4-5.6z"/>
<path fill="#009500" d="M455.9 374.1l5.4 1.9l1.8-4.7l-5.3-1z"/>
<path fill="#00c500" d="M570.5 304.4l4.4 1.5l3.9-0.1l-4.4-1.6z"/>
<path fill="#007800" d="M466.1 363.6l4-0.6l2.8-4.4l-4.1 0.9z"/>
<path fill="#006a00" d="M473 357.1l4.1-1.3l2.9-3.8l-4.1 1.4z"/>
<path fill="#006900" d="M531.2 312.5l4.4-1.6l3.9-2.4l-4.4 1.5z"/>
<path fill="#00fa00" d="M619.8 344.2l3.9 4.4l2.9-2.4l-3.8-4.1z"/>
<path fill="#00a700" d="M558.2 303.9l4.5 0.4l3.9-0.7l-4.4-0.5z"/>
<path fill="#00f900" d="M635.5 365.8l5.7 4.6l2.6-3.8l-5.6-4.4z"/>
<path fill="#007e00" d="M464.6 366l4-0.3l2.1-3.7l-4 0.6z"/>
<path fill="#00f900" d="M616.6 340.4l3.8 4.5l3-2.1l-3.8-4.2z"/>
<path fill="#006100" d="M477.9 353.5l4.1-1.6l3.9-5l-4.1 1.7z"/>
<path fill="#00ce00" d="M573.7 305.2l4.4 1.8l3.9 0l-4.4-1.9z"/>
<path fill="#006000" d="M525.4 316.2l4.3-2l3.8-2.9l-4.3 1.8z"/>
<path fill="#009000" d="M549.2 305.3l4.4-0.3l4-1.1l-4.5 0.2z"/>
<path fill="#00fc00" d="M630.6 361l5.6 5.4l2.7-3.6l-5.5-5.1z"/>
<path fill="#006c00" d="M470.9 360l4.2-1.1l2.8-4.3l-4.2 1.4z"/>
<path fill="#008000" d="M463.2 368.7l3.9 0.2l2-4.1l-3.9 0.3z"/>
<path fill="#008200" d="M460.5 375.7l3.9 1.3l1.6-5.1l-3.8-0.7z"/>
<path fill="#005a00" d="M483.9 348.5l4.1-1.9l3.8-4.8l-4.1 2z"/>
<path fill="#00f800" d="M613.3 336.7l3.9 4.4l3-1.8l-3.8-4.2z"/>
<path fill="#007e00" d="M461.8 372l3.9 0.7l1.8-4.7l-3.9-0.2z"/>
<path fill="#005a00" d="M519.5 320.4l4.3-2.2l3.7-3.4l-4.3 2z"/>
<path fill="#00d600" d="M577 306.3l4.4 2.2l3.8 0l-4.3-2.2z"/>
<path fill="#005700" d="M489.8 343.4l4.2-2.1l3.8-4.3l-4.1 2.1z"/>
<path fill="#00b100" d="M561.4 303.8l4.5 0.7l3.9-0.5l-4.4-0.8z"/>
<path fill="#005700" d="M513.6 324.8l4.2-2.2l3.8-3.7l-4.3 2.1z"/>
<path fill="#050" d="M495.8 338.6l4.1-2.2l3.9-4.1l-4.2 2.2z"/>
<path fill="#00fc00" d="M625.7 355.7l5.5 5.9l2.8-3.3l-5.4-5.6z"/>
<path fill="#050" d="M507.7 329.3l4.2-2.2l3.8-3.9l-4.2 2.2z"/>
<path fill="#00f700" d="M610.1 332.9l3.9 4.5l3-1.6l-3.8-4.1z"/>
<path fill="#005400" d="M501.7 333.9l4.2-2.2l3.8-4l-4.2 2.2z"/>
<path fill="#007000" d="M469 363.2l4-0.7l2.7-4.7l-4.1 1.1z"/>
<path fill="#0d0" d="M580.2 307.7l4.4 2.6l3.9-0.1l-4.4-2.5z"/>
<path fill="#006f00" d="M534.3 311l4.4-1.5l3.9-2.2l-4.5 1.4z"/>
<path fill="#00f600" d="M606.8 329.3l3.9 4.3l3.2-1.2l-3.9-4.1z"/>
<path fill="#006400" d="M475.8 356.2l4.2-1.5l2.8-4l-4.1 1.7z"/>
<path fill="#090" d="M552.3 304.7l4.5-0.1l4-0.9l-4.5-0.1z"/>
<path fill="#007500" d="M463.5 376.8l4 1.3l1.5-5.7l-3.9-0.7z"/>
<path fill="#007500" d="M467.5 365.8l4-0.3l2.1-4l-4 0.7z"/>
<path fill="#00e300" d="M583.5 309.4l4.4 2.9l3.8 0l-4.3-2.8z"/>
<path fill="#00f500" d="M603.5 325.8l3.9 4.2l3.3-1l-3.9-4z"/>
<path fill="#00fb00" d="M620.9 350l5.4 6.3l2.9-3l-5.4-6z"/>
<path fill="#008200" d="M543.2 307.1l4.5-0.8l4-1.5l-4.5 0.6z"/>
<path fill="#00bc00" d="M564.6 304l4.5 1.1l3.9-0.4l-4.4-1.2z"/>
<path fill="#00f400" d="M600.1 322.5l4.1 4.1l3.4-0.8l-4-3.9z"/>
<path fill="#00e800" d="M586.8 311.5l4.3 3.1l3.8 0l-4.3-3.1z"/>
<path fill="#007600" d="M466.1 368.8l4 0.1l1.8-4.4l-3.9 0.4z"/>
<path fill="#007100" d="M464.8 372.6l3.9 0.6l1.7-5.2l-3.9 0z"/>
<path fill="#00f200" d="M596.8 319.3l4.1 3.9l3.5-0.5l-4.1-3.7z"/>
<path fill="#006400" d="M528.4 314.5l4.3-1.8l3.9-2.8l-4.4 1.7z"/>
<path fill="#00ec00" d="M590.1 313.8l4.3 3.5l3.8-0.2l-4.3-3.4z"/>
<path fill="#005c00" d="M480.8 352.3l4.1-1.7l3.8-5.2l-4.1 1.9z"/>
<path fill="#00ef00" d="M593.4 316.4l4.3 3.7l3.6-0.3l-4.2-3.6z"/>
<path fill="#006500" d="M473.7 359.3l4.2-1.3l2.8-4.5l-4.2 1.5z"/>
<path fill="#00fa00" d="M633.3 368.7l5.7 4.8l2.7-3.8l-5.7-4.6z"/>
<path fill="#00fa00" d="M617.6 346l3.8 4.7l3-2.7l-3.8-4.4z"/>
<path fill="#005600" d="M486.7 347l4.2-2l3.8-4.9l-4.1 2.1z"/>
<path fill="#005d00" d="M522.5 318.6l4.3-2l3.7-3.5l-4.3 2z"/>
<path fill="#00c600" d="M567.8 304.5l4.5 1.4l4-0.3l-4.5-1.5z"/>
<path fill="#00fc00" d="M628.4 363.7l5.6 5.6l2.7-3.7l-5.5-5.3z"/>
<path fill="#006900" d="M466.6 377.8l3.9 1.4l1.5-6.4l-3.9-0.6z"/>
<path fill="#00a400" d="M555.5 304.3l4.5 0.2l4-0.7l-4.5-0.4z"/>
<path fill="#005800" d="M516.5 323l4.3-2.2l3.8-3.7l-4.3 2.2z"/>
<path fill="#005400" d="M492.7 341.7l4.1-2.1l3.9-4.3l-4.2 2.1z"/>
<path fill="#00f900" d="M614.4 342.1l3.8 4.6l3-2.4l-3.8-4.4z"/>
<path fill="#006800" d="M471.9 362.7l4-0.8l2.6-5l-4 1.3z"/>
<path fill="#007500" d="M537.3 309.6l4.5-1.3l3.9-2l-4.5 1.1z"/>
<path fill="#050" d="M510.6 327.5l4.2-2.3l3.8-3.8l-4.2 2.3z"/>
<path fill="#005400" d="M498.6 336.8l4.2-2.2l3.9-4.1l-4.2 2.3z"/>
<path fill="#005400" d="M504.6 332.1l4.2-2.2l3.8-4l-4.2 2.3z"/>
<path fill="#008b00" d="M546.4 306.1l4.5-0.5l3.9-1.3l-4.5 0.3z"/>
<path fill="#006700" d="M467.8 373.1l4 0.6l1.5-5.7l-3.8 0z"/>
<path fill="#006d00" d="M470.4 365.6l4-0.5l2-4.2l-4 0.8z"/>
<path fill="#005f00" d="M478.7 355.1l4.1-1.6l2.8-4.1l-4.1 1.8z"/>
<path fill="#00fb00" d="M623.5 358.1l5.5 6.3l2.8-3.5l-5.5-5.9z"/>
<path fill="#00cf00" d="M571.1 305.3l4.5 1.8l3.9-0.3l-4.4-1.8z"/>
<path fill="#00f900" d="M611.1 338.1l3.8 4.7l3.1-2.2l-3.8-4.4z"/>
<path fill="#006d00" d="M469.1 368.9l3.9 0l1.8-4.8l-3.9 0.5z"/>
<path fill="#006a00" d="M531.4 312.9l4.4-1.7l3.8-2.7l-4.4 1.6z"/>
<path fill="#00f800" d="M607.8 334.2l3.9 4.6l3.1-1.9l-3.9-4.3z"/>
<path fill="#005f00" d="M469.7 378.9l3.9 1.3l1.4-6.9l-3.9-0.6z"/>
<path fill="#00ae00" d="M558.7 304.1l4.5 0.6l4-0.6l-4.5-0.7z"/>
<path fill="#00d800" d="M574.4 306.4l4.4 2.2l3.9-0.3l-4.4-2.2z"/>
<path fill="#005800" d="M483.6 351l4.2-1.8l3.7-5.4l-4.1 2.1z"/>
<path fill="#005f00" d="M476.6 358.5l4.2-1.5l2.7-4.7l-4.1 1.7z"/>
<path fill="#00fa00" d="M618.6 352.1l5.5 6.7l2.9-3.1l-5.5-6.3z"/>
<path fill="#00f800" d="M604.5 330.4l3.9 4.5l3.2-1.7l-3.9-4.2z"/>
<path fill="#006100" d="M525.5 316.9l4.3-1.9l3.8-3.4l-4.4 1.9z"/>
<path fill="#00fa00" d="M631.1 371.7l5.6 5l2.8-3.9l-5.7-4.8z"/>
<path fill="#00e000" d="M577.7 307.8l4.4 2.6l3.9-0.3l-4.4-2.5z"/>
<path fill="#007d00" d="M540.4 308.4l4.5-1.1l3.9-1.9l-4.5 0.9z"/>
<path fill="#005400" d="M489.6 345.5l4.1-2.1l3.8-5l-4.1 2.2z"/>
<path fill="#009500" d="M549.5 305.4l4.5-0.3l4-1.1l-4.5 0.1z"/>
<path fill="#006200" d="M474.8 362.2l4-1l2.6-5.3l-4.1 1.4z"/>
<path fill="#005d00" d="M470.9 373.6l3.9 0.6l1.5-6.3l-3.9 0.1z"/>
<path fill="#00f700" d="M601.2 326.7l3.9 4.4l3.3-1.4l-3.9-4.2z"/>
<path fill="#005b00" d="M519.5 321.2l4.3-2.1l3.8-3.7l-4.3 2.1z"/>
<path fill="#005300" d="M495.5 340l4.2-2.2l3.9-4.4l-4.2 2.3z"/>
<path fill="#00e600" d="M581 309.6l4.4 2.9l3.9-0.3l-4.4-2.8z"/>
<path fill="#00b900" d="M561.9 304.2l4.5 1l4-0.5l-4.5-1.1z"/>
<path fill="#005700" d="M513.5 325.6l4.3-2.2l3.8-3.7l-4.3 2.1z"/>
<path fill="#060" d="M473.4 365.2l4-0.5l1.9-4.5l-4 0.9z"/>
<path fill="#00f900" d="M615.3 348l3.9 4.8l2.9-2.7l-3.8-4.6z"/>
<path fill="#006400" d="M472.1 368.9l3.9-0.1l1.7-5.1l-3.9 0.6z"/>
<path fill="#00fb00" d="M626.1 366.5l5.6 5.8l2.8-3.7l-5.5-5.6z"/>
<path fill="#00f600" d="M597.8 323.2l4 4.2l3.4-1.2l-4-3.9z"/>
<path fill="#005300" d="M501.5 335l4.2-2.2l3.9-4.1l-4.2 2.3z"/>
<path fill="#005400" d="M507.5 330.3l4.3-2.3l3.8-3.9l-4.3 2.2z"/>
<path fill="#005700" d="M472.8 379.9l3.9 1.4l1.3-7.6l-3.9-0.6z"/>
<path fill="#00eb00" d="M584.3 311.7l4.4 3.2l3.8-0.4l-4.4-3.1z"/>
<path fill="#00f400" d="M594.5 319.9l4 4l3.5-0.9l-4-3.8z"/>
<path fill="#005b00" d="M481.5 354l4.2-1.8l2.7-4.2l-4.1 1.9z"/>
<path fill="#00ef00" d="M587.7 314.1l4.3 3.5l3.6-0.5l-4.2-3.4z"/>
<path fill="#00f200" d="M591.1 316.9l4.2 3.8l3.5-0.8l-4.1-3.6z"/>
<path fill="#007100" d="M534.4 311.4l4.5-1.4l3.9-2.6l-4.5 1.3z"/>
<path fill="#00f900" d="M612 343.8l3.9 4.9l3-2.5l-3.8-4.7z"/>
<path fill="#00fa00" d="M621.2 360.6l5.5 6.6l2.9-3.6l-5.5-6.2z"/>
<path fill="#00c400" d="M565.2 304.6l4.5 1.4l4-0.4l-4.5-1.4z"/>
<path fill="#00a100" d="M552.7 304.8l4.5 0.1l4-1l-4.5-0.2z"/>
<path fill="#005b00" d="M479.5 357.5l4.2-1.5l2.6-5l-4.1 1.8z"/>
<path fill="#050" d="M473.9 374l3.9 0.6l1.4-6.8l-3.9 0.1z"/>
<path fill="#008700" d="M543.5 307.3l4.5-0.8l4-1.7l-4.5 0.6z"/>
<path fill="#050" d="M486.5 349.7l4.2-2l3.7-5.5l-4.1 2.1z"/>
<path fill="#005000" d="M475.9 381l3.9 1.3l1.2-8.2l-3.9-0.5z"/>
<path fill="#00f800" d="M608.8 339.6l3.8 4.9l3.1-2.3l-3.8-4.6z"/>
<path fill="#060" d="M528.5 315.3l4.4-1.8l3.8-3.3l-4.4 1.7z"/>
<path fill="#005c00" d="M477.7 361.5l4.1-1.1l2.4-5.6l-4 1.5z"/>
<path fill="#005d00" d="M475.1 368.8l3.9-0.1l1.7-5.5l-4 0.6z"/>
<path fill="#00cf00" d="M568.4 305.4l4.5 1.8l4-0.4l-4.5-1.8z"/>
<path fill="#005200" d="M492.5 343.9l4.1-2.2l3.8-5.1l-4.2 2.3z"/>
<path fill="#006000" d="M476.3 364.8l4-0.6l1.9-4.8l-4 1z"/>
<path fill="#005f00" d="M522.5 319.4l4.4-1.9l3.7-3.6l-4.3 1.9z"/>
<path fill="#00fb00" d="M628.8 374.8l5.7 5.2l2.8-4l-5.7-5z"/>
<path fill="#00f900" d="M616.3 354.4l5.5 6.9l2.9-3.2l-5.5-6.6z"/>
<path fill="#00f800" d="M605.5 335.4l3.8 4.9l3.1-2l-3.8-4.6z"/>
<path fill="#005a00" d="M516.5 323.8l4.3-2.1l3.8-3.7l-4.3 2.1z"/>
<path fill="#005200" d="M498.4 338.3l4.2-2.3l3.9-4.4l-4.2 2.3z"/>
<path fill="#00ac00" d="M555.9 304.6l4.6 0.5l4-0.9l-4.6-0.6z"/>
<path fill="#005600" d="M510.5 328.4l4.3-2.2l3.8-3.9l-4.3 2.2z"/>
<path fill="#005400" d="M504.5 333.2l4.2-2.3l3.8-4l-4.2 2.2z"/>
<path fill="#007900" d="M537.5 310.1l4.5-1.2l3.9-2.5l-4.5 1.1z"/>
<path fill="#00d800" d="M571.7 306.4l4.5 2.2l4-0.2l-4.5-2.2z"/>
<path fill="#005800" d="M484.4 352.7l4.2-1.8l2.7-4.4l-4.1 2z"/>
<path fill="#00f800" d="M602.1 331.4l3.9 4.8l3.2-1.8l-3.8-4.4z"/>
<path fill="#00fb00" d="M623.8 369.4l5.6 6l2.9-3.8l-5.6-5.8z"/>
<path fill="#004a00" d="M479 382.1l4 1.3l1.1-8.9l-4-0.5z"/>
<path fill="#004f00" d="M476.9 374.5l4 0.5l1.3-7.4l-3.9 0.2z"/>
<path fill="#009200" d="M546.7 306.4l4.5-0.4l4-1.6l-4.5 0.3z"/>
<path fill="#00f800" d="M613 350l3.8 5.1l3-2.9l-3.8-4.8z"/>
<path fill="#00f700" d="M598.8 327.5l3.9 4.6l3.3-1.4l-3.9-4.4z"/>
<path fill="#00e000" d="M575.1 307.9l4.4 2.6l4-0.3l-4.5-2.5z"/>
<path fill="#005700" d="M482.4 356.5l4.2-1.7l2.6-5.2l-4.1 1.9z"/>
<path fill="#006d00" d="M531.6 313.7l4.4-1.5l3.8-3.3l-4.4 1.5z"/>
<path fill="#00b900" d="M559.1 304.6l4.6 0.9l4-0.7l-4.5-1z"/>
<path fill="#00f600" d="M595.4 323.9l4 4.4l3.4-1.2l-4-4.2z"/>
<path fill="#00e700" d="M578.4 309.7l4.4 3l3.9-0.4l-4.4-2.8z"/>
<path fill="#005300" d="M489.4 348.2l4.2-2l3.7-5.7l-4.2 2.2z"/>
<path fill="#00fa00" d="M618.9 363.3l5.5 6.8l2.9-3.7l-5.5-6.4z"/>
<path fill="#005700" d="M478.1 368.7l3.9-0.2l1.6-5.8l-3.9 0.7z"/>
<path fill="#00f800" d="M609.7 345.6l3.8 5.1l3.1-2.6l-3.8-4.9z"/>
<path fill="#005700" d="M480.6 360.7l4.1-1.1l2.4-5.9l-4 1.6z"/>
<path fill="#00f500" d="M592 320.4l4.1 4.2l3.4-1l-4-3.9z"/>
<path fill="#00ec00" d="M581.7 311.8l4.4 3.4l3.9-0.4l-4.4-3.2z"/>
<path fill="#005a00" d="M479.3 364.3l4-0.7l1.8-5l-4 1.1z"/>
<path fill="#00f300" d="M588.6 317.3l4.2 3.9l3.5-0.8l-4.1-3.7z"/>
<path fill="#004600" d="M482.1 383.1l4 1.4l1.1-9.6l-4-0.5z"/>
<path fill="#00f000" d="M585.2 314.4l4.3 3.6l3.7-0.5l-4.3-3.5z"/>
<path fill="#006400" d="M525.5 317.8l4.4-1.8l3.8-3.6l-4.4 1.8z"/>
<path fill="#005100" d="M495.4 342.2l4.2-2.2l3.7-5.2l-4.2 2.3z"/>
<path fill="#008300" d="M540.7 308.9l4.5-0.9l3.9-2.4l-4.5 0.9z"/>
<path fill="#009e00" d="M549.9 305.8l4.5-0.1l4-1.4l-4.5-0.1z"/>
<path fill="#004900" d="M480 374.9l4 0.5l1.2-7.9l-3.9 0.2z"/>
<path fill="#005e00" d="M519.5 322.1l4.4-2l3.8-3.8l-4.4 2z"/>
<path fill="#00fb00" d="M626.5 378l5.7 5.3l2.8-4.1l-5.7-5.1z"/>
<path fill="#00f800" d="M606.4 341.2l3.8 5.1l3.1-2.4l-3.8-4.8z"/>
<path fill="#00c500" d="M562.4 305l4.6 1.3l4-0.7l-4.5-1.3z"/>
<path fill="#005300" d="M501.4 336.4l4.2-2.2l3.8-4.4l-4.2 2.3z"/>
<path fill="#005900" d="M513.5 326.6l4.3-2.1l3.8-3.9l-4.3 2.1z"/>
<path fill="#050" d="M507.4 331.4l4.3-2.3l3.8-4l-4.3 2.2z"/>
<path fill="#00f800" d="M613.9 356.8l5.5 7.3l3-3.4l-5.5-7z"/>
<path fill="#050" d="M487.3 351.4l4.2-1.9l2.7-4.6l-4.2 2.1z"/>
<path fill="#00fb00" d="M621.5 372.4l5.6 6.3l2.9-4l-5.6-6z"/>
<path fill="#004200" d="M485.2 384.2l4.1 1.4l1-10.3l-4-0.5z"/>
<path fill="#00f800" d="M603.1 336.9l3.8 5.1l3.2-2.2l-3.9-4.8z"/>
<path fill="#007500" d="M534.7 312.4l4.5-1.4l3.8-3.1l-4.5 1.3z"/>
<path fill="#005100" d="M481.1 368.6l3.9-0.2l1.6-6.3l-4 0.7z"/>
<path fill="#00d000" d="M565.7 305.7l4.6 1.7l4-0.5l-4.5-1.8z"/>
<path fill="#005300" d="M485.4 355.3l4.2-1.6l2.5-5.5l-4.1 2z"/>
<path fill="#00ab00" d="M553.1 305.5l4.6 0.3l4-1.3l-4.6-0.5z"/>
<path fill="#050" d="M482.3 363.8l4-0.7l1.7-5.4l-4 1.2z"/>
<path fill="#00f700" d="M610.6 352.3l3.9 5.2l3-3.1l-3.8-5z"/>
<path fill="#005300" d="M483.6 359.9l4.1-1.2l2.3-6.2l-4 1.6z"/>
<path fill="#005200" d="M492.3 346.7l4.2-2.1l3.7-5.8l-4.2 2.2z"/>
<path fill="#00f800" d="M599.7 332.7l3.9 4.9l3.2-1.9l-3.8-4.7z"/>
<path fill="#008f00" d="M543.8 308l4.6-0.6l3.9-2.2l-4.5 0.5z"/>
<path fill="#004500" d="M483.1 375.3l3.9 0.5l1.2-8.5l-3.9 0.2z"/>
<path fill="#006b00" d="M528.6 316.2l4.5-1.6l3.8-3.5l-4.5 1.6z"/>
<path fill="#00da00" d="M569.1 306.8l4.5 2.1l4-0.5l-4.5-2.2z"/>
<path fill="#00f900" d="M616.5 366.2l5.6 7l2.9-3.8l-5.5-6.8z"/>
<path fill="#00f800" d="M596.4 328.6l3.9 4.8l3.3-1.7l-3.9-4.5z"/>
<path fill="#003f00" d="M488.4 385.3l4 1.3l1-10.9l-4-0.5z"/>
<path fill="#006300" d="M522.5 320.4l4.5-1.9l3.8-3.6l-4.4 1.8z"/>
<path fill="#005100" d="M498.3 340.5l4.2-2.2l3.8-5.3l-4.2 2.3z"/>
<path fill="#00f700" d="M607.3 347.7l3.9 5.3l3-2.9l-3.8-5z"/>
<path fill="#00e300" d="M572.4 308.2l4.5 2.6l4-0.5l-4.5-2.6z"/>
<path fill="#005d00" d="M516.5 324.8l4.3-2l3.9-3.9l-4.4 2.1z"/>
<path fill="#00fa00" d="M624.1 381.3l5.8 5.4l2.8-4.2l-5.7-5.2z"/>
<path fill="#00b900" d="M556.3 305.4l4.7 0.8l4-1.2l-4.6-0.8z"/>
<path fill="#005400" d="M504.3 334.6l4.3-2.2l3.8-4.4l-4.3 2.2z"/>
<path fill="#00f700" d="M593 324.8l4 4.6l3.3-1.5l-3.9-4.3z"/>
<path fill="#005800" d="M510.4 329.5l4.3-2.1l3.8-4.1l-4.3 2.2z"/>
<path fill="#005400" d="M490.3 350l4.2-2l2.6-4.6l-4.2 2.1z"/>
<path fill="#008000" d="M537.8 311.2l4.5-1.1l3.9-3.1l-4.5 1z"/>
<path fill="#00ea00" d="M575.7 310.1l4.5 3l4-0.6l-4.5-2.9z"/>
<path fill="#004d00" d="M484.1 368.4l4-0.2l1.5-6.7l-4 0.8z"/>
<path fill="#00f700" d="M589.6 321.2l4 4.3l3.5-1.2l-4-4.1z"/>
<path fill="#00ef00" d="M579.2 312.3l4.4 3.4l3.8-0.7l-4.3-3.3z"/>
<path fill="#00f500" d="M586.2 317.9l4.1 4l3.5-1l-4.1-3.8z"/>
<path fill="#00f700" d="M611.5 359.5l5.6 7.5l2.9-3.6l-5.4-7.3z"/>
<path fill="#009c00" d="M547 307.3l4.6-0.2l4-2.1l-4.6 0.1z"/>
<path fill="#00f300" d="M582.7 314.9l4.2 3.8l3.7-0.9l-4.2-3.6z"/>
<path fill="#004100" d="M486.2 375.7l4 0.5l1.1-9.1l-4 0.2z"/>
<path fill="#00f700" d="M604 343.2l3.8 5.3l3.1-2.7l-3.8-5.1z"/>
<path fill="#00fa00" d="M619.1 375.7l5.7 6.3l2.9-4.1l-5.7-6.2z"/>
<path fill="#005100" d="M488.3 354.2l4.2-1.7l2.6-5.7l-4.2 2z"/>
<path fill="#003c00" d="M491.6 386.3l4 1.4l0.9-11.5l-4-0.6z"/>
<path fill="#005100" d="M485.3 363.3l4-0.8l1.7-5.7l-4 1.2z"/>
<path fill="#005000" d="M486.6 359.1l4.1-1.2l2.3-6.6l-4.1 1.7z"/>
<path fill="#007300" d="M531.7 314.9l4.5-1.4l3.9-3.5l-4.5 1.4z"/>
<path fill="#00c700" d="M559.6 305.8l4.7 1.2l4-1.2l-4.6-1.2z"/>
<path fill="#005200" d="M495.2 345.1l4.3-2.1l3.7-6l-4.2 2.3z"/>
<path fill="#00f700" d="M600.6 338.7l3.9 5.2l3.2-2.5l-3.9-5z"/>
<path fill="#006a00" d="M525.6 318.8l4.5-1.6l3.8-3.7l-4.4 1.7z"/>
<path fill="#00f600" d="M608.2 354.9l3.9 5.4l3-3.4l-3.8-5.2z"/>
<path fill="#00f800" d="M614.1 369.3l5.6 7.1l2.9-4l-5.5-6.9z"/>
<path fill="#008c00" d="M541 310.2l4.6-0.7l3.8-3l-4.5 0.7z"/>
<path fill="#00ab00" d="M550.3 306.9l4.6 0.2l4-2l-4.6-0.3z"/>
<path fill="#005200" d="M501.3 338.8l4.2-2.2l3.8-5.4l-4.3 2.3z"/>
<path fill="#00d300" d="M563 306.5l4.6 1.6l4-1.1l-4.6-1.6z"/>
<path fill="#006200" d="M519.5 323.2l4.4-1.9l3.9-3.9l-4.4 1.9z"/>
<path fill="#003a00" d="M494.8 387.4l4 1.4l0.9-12.2l-4.1-0.6z"/>
<path fill="#004900" d="M487.2 368.2l4-0.2l1.4-7l-4 0.7z"/>
<path fill="#00f800" d="M597.3 334.3l3.9 5.1l3.2-2.3l-3.9-4.9z"/>
<path fill="#003e00" d="M489.3 376.1l4 0.5l1.1-9.6l-4 0.2z"/>
<path fill="#005c00" d="M513.4 327.8l4.4-2.1l3.8-4l-4.4 2z"/>
<path fill="#005700" d="M507.3 332.8l4.3-2.2l3.8-4.4l-4.3 2.2z"/>
<path fill="#00fa00" d="M621.8 384.7l5.7 5.4l2.9-4.2l-5.7-5.3z"/>
<path fill="#005300" d="M493.2 348.6l4.3-2l2.6-4.8l-4.2 2.1z"/>
<path fill="#00f600" d="M604.9 350.2l3.9 5.4l3-3.2l-3.8-5.3z"/>
<path fill="#00de00" d="M566.3 307.5l4.6 2.1l4-1l-4.5-2.1z"/>
<path fill="#00f800" d="M593.9 330.1l3.9 4.9l3.3-2.1l-3.9-4.7z"/>
<path fill="#004e00" d="M488.3 362.7l4.1-0.8l1.6-5.9l-4 1.1z"/>
<path fill="#007e00" d="M534.9 313.7l4.5-1.1l3.9-3.5l-4.6 1.1z"/>
<path fill="#004f00" d="M491.3 352.9l4.2-1.6l2.5-6l-4.2 2.1z"/>
<path fill="#004e00" d="M489.6 358.2l4.1-1.2l2.2-6.9l-4.1 1.7z"/>
<path fill="#00f600" d="M609.1 362.5l5.6 7.6l3-3.9l-5.6-7.4z"/>
<path fill="#00fa00" d="M616.7 379l5.7 6.4l2.9-4.2l-5.6-6.3z"/>
<path fill="#00ba00" d="M553.5 306.9l4.7 0.6l4-1.9l-4.6-0.7z"/>
<path fill="#003800" d="M497.9 388.5l4.1 1.4l0.9-12.8l-4.1-0.6z"/>
<path fill="#00e800" d="M569.8 309l4.5 2.6l3.9-1.1l-4.5-2.5z"/>
<path fill="#00f900" d="M590.5 326.1l4 4.7l3.3-1.9l-3.9-4.5z"/>
<path fill="#009a00" d="M544.2 309.6l4.6-0.4l3.9-3l-4.6 0.3z"/>
<path fill="#00f600" d="M601.5 345.5l3.9 5.4l3.1-3l-3.8-5.3z"/>
<path fill="#005200" d="M498.2 343.5l4.3-2l3.7-6.2l-4.3 2.3z"/>
<path fill="#007200" d="M528.7 317.4l4.5-1.4l3.9-3.6l-4.5 1.4z"/>
<path fill="#00f900" d="M587.1 322.4l4 4.4l3.4-1.7l-4-4.2z"/>
<path fill="#00ef00" d="M573.3 310.9l4.3 3l3.8-1.1l-4.3-2.9z"/>
<path fill="#003c00" d="M492.4 376.5l4 0.6l1.1-10.3l-4 0.2z"/>
<path fill="#004600" d="M490.2 368.1l4-0.2l1.4-7.5l-4 0.7z"/>
<path fill="#00f800" d="M583.6 319l4.1 4.1l3.5-1.5l-4-4z"/>
<path fill="#00f300" d="M576.7 313.2l4.3 3.4l3.6-1.2l-4.2-3.3z"/>
<path fill="#00f600" d="M580.2 315.9l4.2 3.8l3.5-1.4l-4.1-3.6z"/>
<path fill="#006900" d="M522.6 321.6l4.5-1.7l3.8-3.8l-4.4 1.7z"/>
<path fill="#005400" d="M504.3 337.1l4.3-2.2l3.7-5.5l-4.3 2.3z"/>
<path fill="#00c900" d="M556.8 307.2l4.7 1.1l4-1.9l-4.6-1.1z"/>
<path fill="#00f800" d="M611.7 372.6l5.6 7.1l3-4.1l-5.6-7z"/>
<path fill="#00f500" d="M605.8 357.8l3.8 5.5l3.1-3.7l-3.9-5.4z"/>
<path fill="#00f700" d="M598.2 340.8l3.9 5.4l3.1-2.9l-3.9-5.2z"/>
<path fill="#006100" d="M516.4 326.1l4.5-1.9l3.8-4l-4.4 1.9z"/>
<path fill="#003600" d="M501.2 389.6l4.1 1.5l0.8-13.4l-4.1-0.7z"/>
<path fill="#005a00" d="M510.3 331.1l4.4-2.1l3.8-4.5l-4.4 2.1z"/>
<path fill="#008a00" d="M538 312.7l4.6-0.8l3.9-3.4l-4.6 0.8z"/>
<path fill="#005300" d="M496.2 347.1l4.3-1.9l2.6-5l-4.3 2.1z"/>
<path fill="#004c00" d="M491.4 362.1l4-0.7l1.6-6.3l-4 1.2z"/>
<path fill="#00fa00" d="M619.4 388.1l5.8 5.5l2.9-4.2l-5.8-5.4z"/>
<path fill="#00a900" d="M547.4 309.2l4.7 0l3.9-2.9l-4.6-0.1z"/>
<path fill="#004c00" d="M492.7 357.3l4-1.1l2.2-7.2l-4.1 1.6z"/>
<path fill="#004f00" d="M494.4 351.7l4.2-1.6l2.4-6.1l-4.2 1.9z"/>
<path fill="#00f800" d="M594.8 336.3l3.9 5.3l3.2-2.8l-3.9-5z"/>
<path fill="#00d700" d="M560.2 307.9l4.6 1.5l4-1.8l-4.6-1.6z"/>
<path fill="#003a00" d="M495.5 376.9l4.1 0.6l1-10.7l-4 0.1z"/>
<path fill="#00f500" d="M602.4 353l3.9 5.6l3.1-3.7l-3.9-5.4z"/>
<path fill="#007d00" d="M531.9 316.2l4.5-1.1l3.9-3.6l-4.5 1.2z"/>
<path fill="#00fa00" d="M614.3 382.4l5.7 6.4l2.9-4.2l-5.7-6.4z"/>
<path fill="#040" d="M493.3 367.9l4.1-0.2l1.3-7.8l-4 0.7z"/>
<path fill="#003500" d="M504.4 390.8l4.1 1.4l0.8-13.8l-4.1-0.8z"/>
<path fill="#00f600" d="M606.6 365.7l5.6 7.6l3-4l-5.5-7.5z"/>
<path fill="#005400" d="M501.2 342l4.3-2l3.7-6.3l-4.3 2.2z"/>
<path fill="#00f900" d="M591.4 332l3.9 5.1l3.3-2.6l-3.9-4.9z"/>
<path fill="#00e300" d="M563.7 308.9l4.5 2.1l3.8-1.8l-4.4-2z"/>
<path fill="#007100" d="M525.7 320.2l4.5-1.5l3.9-3.7l-4.5 1.4z"/>
<path fill="#00ba00" d="M550.7 309.1l4.7 0.5l3.9-2.9l-4.6-0.5z"/>
<path fill="#009800" d="M541.3 312l4.6-0.4l3.9-3.3l-4.6 0.4z"/>
<path fill="#00f500" d="M599 348.2l3.9 5.6l3.1-3.5l-3.8-5.5z"/>
<path fill="#00fa00" d="M588 327.9l3.9 4.8l3.3-2.4l-3.9-4.7z"/>
<path fill="#005700" d="M507.3 335.4l4.3-2l3.8-5.6l-4.4 2.1z"/>
<path fill="#006800" d="M519.5 324.5l4.5-1.7l3.9-4l-4.5 1.7z"/>
<path fill="#00ed00" d="M567.2 310.4l4.4 2.5l3.7-1.8l-4.3-2.4z"/>
<path fill="#004a00" d="M494.5 361.5l4-0.6l1.6-6.5l-4.1 1z"/>
<path fill="#006000" d="M513.4 329.4l4.4-1.9l3.8-4.5l-4.4 2z"/>
<path fill="#00f700" d="M609.2 375.9l5.7 7.2l3-4.2l-5.7-7.1z"/>
<path fill="#003800" d="M498.7 377.4l4.1 0.6l1-11.2l-4.1 0z"/>
<path fill="#003400" d="M507.6 391.9l4.2 1.5l0.8-14.3l-4.2-0.9z"/>
<path fill="#00fa00" d="M584.5 324.1l4.1 4.5l3.3-2.3l-4-4.3z"/>
<path fill="#005400" d="M499.2 345.7l4.3-1.9l2.6-5.1l-4.3 2.1z"/>
<path fill="#00f500" d="M603.2 360.9l4 5.5l3-3.8l-3.9-5.5z"/>
<path fill="#00f300" d="M570.7 312.4l4.3 2.9l3.6-1.8l-4.2-2.9z"/>
<path fill="#00fb00" d="M581.1 320.6l4.1 4.2l3.4-2.2l-4.1-4z"/>
<path fill="#00fa00" d="M616.9 391.7l5.9 5.5l2.9-4.3l-5.8-5.5z"/>
<path fill="#008900" d="M535.1 315.3l4.6-0.8l3.9-3.6l-4.6 0.8z"/>
<path fill="#00f600" d="M595.6 343.5l4 5.5l3.1-3.4l-3.9-5.4z"/>
<path fill="#004b00" d="M495.7 356.4l4.1-1l2.2-7.5l-4.1 1.5z"/>
<path fill="#00f800" d="M574.2 314.7l4.2 3.4l3.5-1.9l-4.2-3.3z"/>
<path fill="#00ca00" d="M554.2 309.3l4.5 1.1l3.8-2.8l-4.5-1z"/>
<path fill="#00fa00" d="M577.6 317.5l4.2 3.8l3.4-2.1l-4.1-3.7z"/>
<path fill="#004e00" d="M497.4 350.5l4.2-1.5l2.4-6.3l-4.2 1.8z"/>
<path fill="#004200" d="M496.4 367.8l4.1-0.1l1.3-8.2l-4 0.6z"/>
<path fill="#00a800" d="M544.5 311.6l4.7 0l3.9-3.3l-4.6 0z"/>
<path fill="#00f500" d="M599.9 356l3.9 5.7l3.1-3.8l-3.9-5.6z"/>
<path fill="#030" d="M510.9 393l4.2 1.5l0.8-14.7l-4.2-0.9z"/>
<path fill="#007c00" d="M528.9 319l4.5-1.2l3.9-3.7l-4.5 1.1z"/>
<path fill="#00f900" d="M611.8 385.8l5.7 6.5l3-4.2l-5.7-6.5z"/>
<path fill="#00f700" d="M592.2 338.9l4 5.4l3.2-3.3l-4-5.3z"/>
<path fill="#005700" d="M504.3 340.5l4.3-1.9l3.7-6.5l-4.4 2.1z"/>
<path fill="#00f500" d="M604.1 368.9l5.6 7.7l3.1-4l-5.6-7.7z"/>
<path fill="#00d900" d="M557.7 310l4.4 1.5l3.7-2.7l-4.4-1.5z"/>
<path fill="#003700" d="M501.9 377.9l4.1 0.7l1-11.7l-4.1-0.1z"/>
<path fill="#007000" d="M522.6 323.1l4.6-1.5l3.9-3.9l-4.5 1.4z"/>
<path fill="#004900" d="M497.6 361l4.1-0.6l1.5-6.7l-4.1 0.9z"/>
<path fill="#005c00" d="M510.3 333.9l4.4-1.9l3.8-5.7l-4.4 2z"/>
<path fill="#00f800" d="M588.8 334.5l4 5.2l3.2-3.2l-3.9-5.1z"/>
<path fill="#009800" d="M538.3 314.6l4.7-0.5l3.9-3.4l-4.6 0.4z"/>
<path fill="#060" d="M516.5 327.9l4.4-1.8l3.9-4.4l-4.5 1.7z"/>
<path fill="#00b900" d="M547.9 311.5l4.6 0.5l3.9-3.2l-4.6-0.5z"/>
<path fill="#00f500" d="M596.5 351.2l3.9 5.6l3.1-3.7l-3.9-5.5z"/>
<path fill="#00e600" d="M561.1 311.1l4.4 2l3.6-2.7l-4.3-2z"/>
<path fill="#030" d="M514.2 394.2l4.2 1.5l0.8-15l-4.2-1.1z"/>
<path fill="#005700" d="M502.3 344.4l4.3-1.8l2.6-5.2l-4.3 1.9z"/>
<path fill="#004100" d="M499.6 367.7l4.1 0l1.3-8.6l-4.1 0.5z"/>
<path fill="#00f700" d="M606.7 379.3l5.7 7.2l3-4.2l-5.7-7.2z"/>
<path fill="#004a00" d="M498.8 355.6l4.1-1l2.1-7.7l-4.1 1.4z"/>
<path fill="#00fa00" d="M585.4 330.4l4 4.8l3.2-3.1l-3.9-4.7z"/>
<path fill="#00f400" d="M600.7 364.1l3.9 5.6l3.1-4l-3.9-5.5z"/>
<path fill="#004f00" d="M500.5 349.4l4.2-1.5l2.4-6.5l-4.2 1.8z"/>
<path fill="#00fa00" d="M614.4 395.2l5.9 5.6l3-4.4l-5.9-5.5z"/>
<path fill="#00f000" d="M564.6 312.6l4.3 2.5l3.5-2.7l-4.2-2.5z"/>
<path fill="#003700" d="M505.1 378.5l4.2 0.8l0.9-12.2l-4.1-0.3z"/>
<path fill="#080" d="M532.1 318l4.6-0.8l3.9-3.7l-4.6 0.8z"/>
<path fill="#00fb00" d="M581.9 326.5l4.1 4.6l3.3-3.1l-4-4.4z"/>
<path fill="#00f500" d="M593 346.4l4 5.6l3.2-3.7l-3.9-5.4z"/>
<path fill="#00f700" d="M568.1 314.6l4.2 2.9l3.4-2.7l-4.1-2.9z"/>
<path fill="#00ca00" d="M551.4 311.8l4.5 1l3.7-3.2l-4.5-1z"/>
<path fill="#030" d="M517.5 395.4l4.2 1.5l0.8-15.2l-4.2-1.2z"/>
<path fill="#00fc00" d="M578.5 322.9l4 4.3l3.4-3l-4.1-4.1z"/>
<path fill="#005b00" d="M507.3 339.1l4.4-1.8l3.7-6.6l-4.4 2z"/>
<path fill="#00fa00" d="M571.5 317l4.2 3.4l3.4-2.8l-4.1-3.4z"/>
<path fill="#00a800" d="M541.6 314.2l4.7 0l3.9-3.5l-4.6 0z"/>
<path fill="#00fc00" d="M575 319.8l4.1 3.8l3.4-2.9l-4.1-3.7z"/>
<path fill="#00f900" d="M609.3 389.3l5.8 6.6l3-4.3l-5.8-6.5z"/>
<path fill="#004800" d="M500.7 360.5l4.1-0.4l1.5-7.1l-4.1 0.9z"/>
<path fill="#007b00" d="M525.8 321.9l4.6-1.2l3.9-3.9l-4.5 1.1z"/>
<path fill="#00f400" d="M597.3 359.2l3.9 5.6l3.2-3.9l-3.9-5.6z"/>
<path fill="#00f500" d="M601.5 372.2l5.7 7.8l3.1-4.1l-5.6-7.7z"/>
<path fill="#00f600" d="M589.6 341.8l4 5.4l3.2-3.6l-3.9-5.3z"/>
<path fill="#004000" d="M502.8 367.7l4.1 0.1l1.3-8.9l-4.1 0.3z"/>
<path fill="#006200" d="M513.4 332.4l4.5-1.7l3.7-5.8l-4.4 1.8z"/>
<path fill="#006f00" d="M519.6 326.5l4.5-1.5l3.9-4.5l-4.5 1.5z"/>
<path fill="#00d900" d="M554.9 312.5l4.4 1.5l3.6-3.1l-4.4-1.5z"/>
<path fill="#003600" d="M508.4 379.1l4.1 0.9l1-12.6l-4.2-0.4z"/>
<path fill="#030" d="M520.8 396.6l4.2 1.6l0.9-15.4l-4.3-1.4z"/>
<path fill="#004b00" d="M502 354.8l4.1-0.8l2.1-8l-4.2 1.2z"/>
<path fill="#005a00" d="M505.4 343l4.3-1.6l2.6-5.3l-4.3 1.8z"/>
<path fill="#009700" d="M535.3 317.3l4.7-0.5l3.9-3.6l-4.6 0.4z"/>
<path fill="#00f800" d="M586.2 337.3l4 5.2l3.2-3.5l-4-5.1z"/>
<path fill="#00f400" d="M593.8 354.3l4 5.6l3.2-3.8l-3.9-5.6z"/>
<path fill="#005100" d="M503.7 348.3l4.2-1.3l2.3-6.7l-4.3 1.6z"/>
<path fill="#00b900" d="M545 314l4.6 0.5l3.9-3.3l-4.6-0.5z"/>
<path fill="#00f700" d="M604.1 382.7l5.8 7.4l3-4.3l-5.7-7.3z"/>
<path fill="#00e700" d="M558.3 313.6l4.4 2l3.5-3.1l-4.3-2z"/>
<path fill="#00fa00" d="M611.9 398.9l5.9 5.6l3-4.5l-5.9-5.5z"/>
<path fill="#00f400" d="M598.1 367.3l4 5.7l3.1-4.1l-3.9-5.6z"/>
<path fill="#030" d="M524.1 397.9l4.3 1.5l0.9-15.5l-4.3-1.4z"/>
<path fill="#00f900" d="M582.7 333.1l4 4.9l3.3-3.4l-4-4.9z"/>
<path fill="#004800" d="M503.9 360.2l4.1-0.4l1.5-7.3l-4.1 0.7z"/>
<path fill="#008700" d="M529 320.9l4.6-0.8l4-3.9l-4.6 0.8z"/>
<path fill="#006000" d="M510.4 337.8l4.5-1.6l3.7-6.7l-4.5 1.7z"/>
<path fill="#003600" d="M511.6 379.8l4.2 0.9l1-12.9l-4.2-0.5z"/>
<path fill="#00f000" d="M561.8 315.1l4.3 2.5l3.5-3.1l-4.2-2.5z"/>
<path fill="#004000" d="M506 367.7l4.1 0.3l1.3-9.2l-4.2 0.2z"/>
<path fill="#00f500" d="M590.4 349.4l4 5.6l3.2-3.7l-3.9-5.6z"/>
<path fill="#00fb00" d="M579.2 329.2l4.1 4.6l3.3-3.4l-4-4.5z"/>
<path fill="#00ca00" d="M548.5 314.3l4.5 1l3.7-3.3l-4.4-1z"/>
<path fill="#00f900" d="M606.7 393l5.8 6.6l3.1-4.5l-5.8-6.5z"/>
<path fill="#007900" d="M522.8 325.3l4.5-1.2l3.9-4.5l-4.5 1.2z"/>
<path fill="#00f700" d="M565.3 317.1l4.2 3l3.5-3.2l-4.2-2.9z"/>
<path fill="#006900" d="M516.6 331.1l4.5-1.5l3.8-5.8l-4.5 1.6z"/>
<path fill="#00a700" d="M538.6 316.9l4.7 0l4-3.6l-4.7 0z"/>
<path fill="#00fc00" d="M575.7 325.6l4.1 4.2l3.4-3.3l-4.1-4.2z"/>
<path fill="#00f400" d="M594.7 362.4l3.9 5.7l3.2-4l-3.9-5.7z"/>
<path fill="#00fa00" d="M568.8 319.5l4.1 3.4l3.5-3.1l-4.2-3.4z"/>
<path fill="#030" d="M527.5 399.1l4.2 1.6l1-15.5l-4.3-1.6z"/>
<path fill="#00fc00" d="M572.3 322.3l4.1 3.9l3.4-3.2l-4.1-3.8z"/>
<path fill="#00f500" d="M598.9 375.6l5.8 7.9l3.1-4.2l-5.7-7.8z"/>
<path fill="#004b00" d="M505.1 354.2l4.2-0.7l2-8.3l-4.1 1.1z"/>
<path fill="#005e00" d="M508.6 341.8l4.3-1.4l2.5-5.4l-4.3 1.6z"/>
<path fill="#00f600" d="M586.9 344.7l4 5.5l3.3-3.7l-4-5.4z"/>
<path fill="#005300" d="M506.8 347.3l4.2-1.1l2.3-6.8l-4.2 1.3z"/>
<path fill="#003600" d="M514.9 380.5l4.2 1.1l1-13.2l-4.2-0.7z"/>
<path fill="#00d900" d="M552 315l4.4 1.5l3.6-3.2l-4.3-1.5z"/>
<path fill="#009600" d="M532.3 320.2l4.6-0.5l4-3.8l-4.6 0.4z"/>
<path fill="#003400" d="M530.8 400.4l4.3 1.6l1-15.4l-4.3-1.7z"/>
<path fill="#004800" d="M507.1 359.9l4.1-0.2l1.5-7.5l-4.2 0.5z"/>
<path fill="#004000" d="M509.2 367.9l4.2 0.4l1.2-9.5l-4.1 0z"/>
<path fill="#00f700" d="M601.5 386.4l5.8 7.3l3.1-4.4l-5.7-7.3z"/>
<path fill="#00f400" d="M591.2 357.4l4 5.7l3.2-3.9l-4-5.7z"/>
<path fill="#00f700" d="M583.5 340.2l4 5.2l3.3-3.6l-4-5.1z"/>
<path fill="#00b800" d="M542.1 316.7l4.5 0.6l3.9-3.6l-4.6-0.5z"/>
<path fill="#00fa00" d="M609.4 402.8l5.9 5.5l3-4.6l-5.9-5.6z"/>
<path fill="#060" d="M513.7 336.6l4.4-1.3l3.6-6.8l-4.4 1.5z"/>
<path fill="#00f400" d="M595.5 370.7l4 5.7l3.2-4.2l-4-5.6z"/>
<path fill="#00e700" d="M555.5 316.1l4.3 2.1l3.6-3.3l-4.3-2z"/>
<path fill="#008500" d="M526 324.3l4.6-0.8l3.9-4.5l-4.6 0.9z"/>
<path fill="#007200" d="M519.8 330l4.5-1.2l3.8-5.9l-4.5 1.3z"/>
<path fill="#00f900" d="M580 335.9l4 5l3.4-3.5l-4.1-5z"/>
<path fill="#003500" d="M534.2 401.7l4.3 1.7l1-15.2l-4.3-1.9z"/>
<path fill="#003600" d="M518.2 381.4l4.3 1.2l1-13.4l-4.3-1z"/>
<path fill="#004d00" d="M508.3 353.6l4.2-0.5l2-8.5l-4.2 0.9z"/>
<path fill="#00f500" d="M587.7 352.5l4 5.7l3.3-3.9l-4-5.6z"/>
<path fill="#00f800" d="M604.1 396.9l5.9 6.5l3.1-4.6l-5.9-6.6z"/>
<path fill="#00f000" d="M559 317.7l4.2 2.5l3.6-3.2l-4.3-2.5z"/>
<path fill="#006300" d="M511.8 340.7l4.3-1.1l2.5-5.4l-4.3 1.2z"/>
<path fill="#00fa00" d="M576.5 331.9l4.1 4.7l3.3-3.5l-4-4.6z"/>
<path fill="#00c900" d="M545.6 317l4.4 1.1l3.8-3.5l-4.5-1z"/>
<path fill="#00a600" d="M535.6 319.8l4.7 0l3.9-3.8l-4.6 0z"/>
<path fill="#004100" d="M512.5 368.2l4.2 0.5l1.2-9.7l-4.2-0.2z"/>
<path fill="#005600" d="M510 346.4l4.3-0.8l2.2-7l-4.3 1.1z"/>
<path fill="#00f400" d="M596.3 379.3l5.8 7.8l3.1-4.4l-5.7-7.8z"/>
<path fill="#00f300" d="M592 365.7l4 5.8l3.2-4.2l-4-5.7z"/>
<path fill="#00f700" d="M562.5 319.7l4.2 3l3.5-3.3l-4.2-2.9z"/>
<path fill="#003600" d="M537.6 403l4.3 1.7l1.1-14.9l-4.3-2z"/>
<path fill="#00fb00" d="M573 328.3l4.1 4.3l3.4-3.4l-4.1-4.3z"/>
<path fill="#004900" d="M510.3 359.7l4.2 0l1.4-7.7l-4.1 0.3z"/>
<path fill="#00fa00" d="M566 322.2l4.1 3.4l3.5-3.3l-4.2-3.4z"/>
<path fill="#00fc00" d="M569.5 325l4.1 3.9l3.4-3.3l-4.1-3.9z"/>
<path fill="#00f600" d="M584.2 347.8l4.1 5.5l3.3-3.8l-4-5.5z"/>
<path fill="#003700" d="M521.6 382.3l4.2 1.4l1-13.6l-4.2-1.2z"/>
<path fill="#006e00" d="M516.9 335.5l4.4-0.9l3.6-6.9l-4.4 1.2z"/>
<path fill="#00f500" d="M598.9 390.4l5.8 7.3l3.1-4.8l-5.8-7.3z"/>
<path fill="#009300" d="M529.3 323.6l4.6-0.4l4-4.5l-4.7 0.5z"/>
<path fill="#003700" d="M541 404.4l4.3 1.7l1.2-14.5l-4.4-2.2z"/>
<path fill="#00d900" d="M549 317.7l4.4 1.6l3.7-3.5l-4.4-1.5z"/>
<path fill="#00f900" d="M606.8 406.8l6 5.4l3-4.7l-5.9-5.5z"/>
<path fill="#00f400" d="M588.5 360.7l4 5.8l3.3-4.1l-4-5.7z"/>
<path fill="#007d00" d="M523.1 329l4.5-0.7l3.7-5.9l-4.5 0.9z"/>
<path fill="#004f00" d="M511.6 353.2l4.2-0.3l2-8.7l-4.3 0.6z"/>
<path fill="#00f700" d="M580.7 343.2l4.1 5.3l3.3-3.7l-4-5.3z"/>
<path fill="#00b700" d="M539.1 319.7l4.6 0.5l3.8-3.8l-4.5-0.5z"/>
<path fill="#00f300" d="M592.8 374.3l4.1 5.7l3.2-4.4l-4.1-5.7z"/>
<path fill="#004200" d="M515.8 368.6l4.2 0.7l1.3-9.9l-4.3-0.5z"/>
<path fill="#003800" d="M524.9 383.4l4.3 1.5l1.1-13.7l-4.3-1.4z"/>
<path fill="#003900" d="M544.5 405.8l4.3 1.7l1.2-14l-4.4-2.4z"/>
<path fill="#006a00" d="M515 339.8l4.4-0.8l2.4-5.5l-4.3 1z"/>
<path fill="#00e600" d="M552.5 318.9l4.4 2l3.6-3.4l-4.3-2z"/>
<path fill="#004b00" d="M513.6 359.7l4.2 0.2l1.4-7.8l-4.2 0z"/>
<path fill="#00f800" d="M601.5 401.1l5.9 6.3l3.1-4.8l-5.9-6.4z"/>
<path fill="#005a00" d="M513.3 345.7l4.2-0.5l2.2-7.2l-4.2 0.8z"/>
<path fill="#00f800" d="M577.2 338.9l4.1 5l3.4-3.7l-4.1-4.9z"/>
<path fill="#00f400" d="M585 355.8l4.1 5.7l3.2-4l-4-5.7z"/>
<path fill="#00f300" d="M593.6 383.4l5.9 7.8l3.1-4.8l-5.8-7.9z"/>
<path fill="#003b00" d="M547.9 407.2l4.3 1.8l1.3-13.5l-4.4-2.5z"/>
<path fill="#00f000" d="M556.1 320.5l4.2 2.5l3.6-3.4l-4.3-2.5z"/>
<path fill="#00a300" d="M532.7 323.2l4.6 0l3.8-4.3l-4.6 0z"/>
<path fill="#00f300" d="M589.3 369.3l4.1 5.8l3.2-4.4l-4-5.7z"/>
<path fill="#00fa00" d="M573.7 334.9l4.1 4.7l3.4-3.6l-4.1-4.7z"/>
<path fill="#00c900" d="M542.6 320l4.5 1l3.7-3.7l-4.4-1z"/>
<path fill="#003900" d="M528.3 384.5l4.3 1.7l1.1-13.7l-4.3-1.6z"/>
<path fill="#070" d="M520.2 334.7l4.4-0.6l3.6-6.8l-4.4 0.7z"/>
<path fill="#004300" d="M519.1 369.1l4.3 1l1.2-10.1l-4.2-0.7z"/>
<path fill="#00f700" d="M559.6 322.5l4.2 3l3.5-3.4l-4.2-3z"/>
<path fill="#008a00" d="M526.5 328.4l4.4-0.4l3.7-5.8l-4.5 0.4z"/>
<path fill="#00fb00" d="M570.2 331.2l4.1 4.3l3.4-3.5l-4.1-4.3z"/>
<path fill="#00f800" d="M605 409.6l6 5.2l2.3-3.4l-6.1-5.4z"/>
<path fill="#003d00" d="M551.4 408.6l4.3 1.8l1.4-12.9l-4.4-2.5z"/>
<path fill="#005100" d="M514.8 353l4.3 0l1.9-9l-4.2 0.3z"/>
<path fill="#00f500" d="M596.2 394.8l5.9 7l3.1-4.9l-5.8-7.3z"/>
<path fill="#00fa00" d="M563.1 325l4.2 3.5l3.5-3.5l-4.2-3.5z"/>
<path fill="#00fb00" d="M566.6 327.9l4.2 3.9l3.5-3.5l-4.2-3.9z"/>
<path fill="#00f500" d="M581.5 351l4.1 5.5l3.3-3.9l-4.1-5.5z"/>
<path fill="#004d00" d="M516.9 359.8l4.2 0.5l1.5-8l-4.3-0.3z"/>
<path fill="#003a00" d="M531.7 385.8l4.3 1.8l1.2-13.6l-4.4-1.9z"/>
<path fill="#007100" d="M518.3 339.1l4.4-0.4l2.4-5.6l-4.4 0.6z"/>
<path fill="#00d800" d="M546.1 320.7l4.4 1.5l3.7-3.6l-4.4-1.6z"/>
<path fill="#004000" d="M554.9 410.1l4.3 1.8l1.4-12.2l-4.4-2.7z"/>
<path fill="#00f300" d="M585.8 364.3l4.1 5.8l3.2-4.4l-4-5.7z"/>
<path fill="#00f100" d="M590.1 378.6l4.1 5.6l3.2-5l-4-5.7z"/>
<path fill="#00f700" d="M599.7 404l6 6.2l2.2-3.6l-5.9-6.3z"/>
<path fill="#005e00" d="M516.6 345.2l4.2-0.2l2.2-7.3l-4.3 0.5z"/>
<path fill="#00b500" d="M536.2 323.1l4.4 0.5l3.8-4.2l-4.5-0.6z"/>
<path fill="#00f700" d="M578 346.4l4.1 5.3l3.3-3.9l-4-5.3z"/>
<path fill="#040" d="M522.5 369.9l4.2 1.1l1.3-10.2l-4.3-1z"/>
<path fill="#040" d="M558.3 411.5l4.4 1.9l1.5-11.5l-4.4-2.7z"/>
<path fill="#003c00" d="M535.2 387.2l4.3 1.9l1.1-13.4l-4.3-2.1z"/>
<path fill="#008200" d="M523.6 334.2l4.4-0.2l3.4-6.9l-4.3 0.3z"/>
<path fill="#00e600" d="M549.6 321.8l4.3 2.1l3.7-3.6l-4.4-2.1z"/>
<path fill="#00f600" d="M603.2 412.5l6.1 5.1l2.2-3.5l-6-5.3z"/>
<path fill="#00f200" d="M590.9 388l5.9 7.5l3.2-5.1l-5.9-7.8z"/>
<path fill="#009800" d="M529.9 328l4.4 0.1l3.6-5.8l-4.5 0z"/>
<path fill="#050" d="M518.1 352.9l4.3 0.3l2-9.1l-4.3 0z"/>
<path fill="#00f800" d="M574.4 342l4.1 5.1l3.4-3.9l-4.1-5z"/>
<path fill="#00f300" d="M582.3 359.4l4 5.7l3.3-4.4l-4-5.6z"/>
<path fill="#004800" d="M561.9 413l4.3 1.9l1.5-10.7l-4.4-2.8z"/>
<path fill="#004f00" d="M520.2 360.2l4.3 0.7l1.4-8.1l-4.2-0.6z"/>
<path fill="#00f400" d="M594.4 397.9l5.9 6.8l2.3-3.7l-5.9-7z"/>
<path fill="#00f000" d="M586.6 373.7l4.1 5.7l3.2-5.1l-4-5.8z"/>
<path fill="#00f400" d="M597.9 407.3l6 5.9l2.3-3.8l-6-6.2z"/>
<path fill="#00c600" d="M539.6 323.4l4.5 1.1l3.6-4.3l-4.4-1z"/>
<path fill="#00f000" d="M553.1 323.4l4.3 2.6l3.6-3.6l-4.3-2.6z"/>
<path fill="#003e00" d="M538.6 388.7l4.3 2.1l1.3-13.2l-4.4-2.3z"/>
<path fill="#004600" d="M525.9 370.7l4.3 1.4l1.3-10.2l-4.3-1.3z"/>
<path fill="#00f900" d="M570.9 338l4.1 4.7l3.4-3.8l-4.1-4.7z"/>
<path fill="#004d00" d="M565.4 414.5l4.4 1.9l1.5-9.8l-4.4-2.9z"/>
<path fill="#007a00" d="M521.7 338.7l4.3-0.1l2.4-5.6l-4.4 0.3z"/>
<path fill="#006300" d="M519.9 345l4.2 0l2.2-7.3l-4.3 0.1z"/>
<path fill="#00f600" d="M556.7 325.5l4.2 3.1l3.6-3.7l-4.3-3z"/>
<path fill="#00fb00" d="M567.3 334.3l4.2 4.3l3.4-3.7l-4.1-4.4z"/>
<path fill="#00f400" d="M578.7 354.6l4.1 5.6l3.3-4.4l-4-5.5z"/>
<path fill="#00fa00" d="M560.2 328l4.2 3.5l3.5-3.7l-4.2-3.5z"/>
<path fill="#00ef00" d="M587.4 383.3l4.1 5.5l3.2-5.4l-4.1-5.7z"/>
<path fill="#005400" d="M568.9 416l4.4 1.9l1.6-9l-4.4-2.9z"/>
<path fill="#004100" d="M542.1 390.4l4.3 2.2l1.3-12.9l-4.4-2.6z"/>
<path fill="#00fb00" d="M563.8 330.9l4.2 4l3.4-3.7l-4.1-4z"/>
<path fill="#00f300" d="M601.4 415.7l6.2 4.8l2.2-3.7l-6.1-5z"/>
<path fill="#00ef00" d="M583 368.8l4.2 5.7l3.2-5.2l-4.1-5.8z"/>
<path fill="#00a700" d="M533.3 328l4.4 0.6l3.5-5.8l-4.4-0.5z"/>
<path fill="#008e00" d="M527 333.9l4.3 0.2l3.5-6.9l-4.4-0.1z"/>
<path fill="#00ef00" d="M592.6 401.5l5.9 6.5l2.3-4.1l-6-6.8z"/>
<path fill="#005200" d="M523.6 360.7l4.3 1l1.4-8.2l-4.3-0.9z"/>
<path fill="#00f000" d="M589.1 391.3l5.9 7.3l2.3-3.9l-5.9-7.5z"/>
<path fill="#005800" d="M521.5 353.1l4.3 0.6l1.9-9.2l-4.2-0.4z"/>
<path fill="#00d600" d="M543.1 324.2l4.4 1.5l3.6-4.2l-4.3-1.5z"/>
<path fill="#004900" d="M529.3 371.8l4.3 1.6l1.3-10.2l-4.3-1.6z"/>
<path fill="#005c00" d="M572.5 417.6l4.4 1.9l1.6-8.2l-4.4-2.9z"/>
<path fill="#00f000" d="M596.1 410.9l6 5.4l2.3-3.9l-6.1-5.9z"/>
<path fill="#004300" d="M545.6 392.1l4.3 2.3l1.3-12.4l-4.4-2.8z"/>
<path fill="#00f500" d="M575.2 350l4.1 5.3l3.3-4.3l-4-5.3z"/>
<path fill="#060" d="M576 419.1l4.5 1.9l1.6-7.3l-4.4-2.9z"/>
<path fill="#004700" d="M549.1 394l4.3 2.4l1.4-11.9l-4.4-3.1z"/>
<path fill="#0e0" d="M583.8 378.6l4.1 5.5l3.3-5.6l-4.1-5.7z"/>
<path fill="#008400" d="M525 338.6l4.4 0.2l2.3-5.5l-4.3-0.2z"/>
<path fill="#006900" d="M523.2 345l4.3 0.4l2.2-7.5l-4.3-0.2z"/>
<path fill="#00ef00" d="M579.5 363.9l4.1 5.7l3.3-5.3l-4.1-5.7z"/>
<path fill="#00e300" d="M546.7 325.4l4.3 2l3.6-4.2l-4.3-2z"/>
<path fill="#00ef00" d="M600.1 418.3l6.1 4.4l1.8-3l-6.1-4.8z"/>
<path fill="#00e800" d="M590.7 405.6l6 6l2.3-4.4l-6-6.6z"/>
<path fill="#004c00" d="M532.7 373.1l4.4 1.8l1.3-10.1l-4.3-2z"/>
<path fill="#004a00" d="M552.6 395.9l4.3 2.6l1.5-11.4l-4.5-3.3z"/>
<path fill="#00b600" d="M536.8 328.4l4.3 1.1l3.5-5.8l-4.3-1z"/>
<path fill="#00e800" d="M587.2 395.3l6 6.9l2.3-4.4l-6-7.4z"/>
<path fill="#00f700" d="M571.6 345.6l4.1 5.1l3.4-4.3l-4.1-5.1z"/>
<path fill="#007600" d="M579.6 420.6l6.3 2.7l1.6-6.1l-6.2-4z"/>
<path fill="#00ea00" d="M594.7 413.8l6.1 5l1.8-3.3l-6.1-5.4z"/>
<path fill="#005600" d="M527 361.5l4.3 1.3l1.5-8.3l-4.3-1.2z"/>
<path fill="#00ed00" d="M585.5 386.8l4.2 5.3l2.3-4.2l-4.2-5.4z"/>
<path fill="#009a00" d="M530.4 334l4.3 0.7l3.4-7l-4.3-0.5z"/>
<path fill="#004f00" d="M556.1 398l4.4 2.7l1.4-10.9l-4.4-3.4z"/>
<path fill="#005c00" d="M524.9 353.5l4.3 0.9l1.9-9.3l-4.3-0.7z"/>
<path fill="#00ed00" d="M550.2 327l4.3 2.5l3.5-4.2l-4.2-2.5z"/>
<path fill="#005400" d="M559.6 400.2l4.4 2.7l1.5-10.2l-4.4-3.5z"/>
<path fill="#00e000" d="M589.3 408.9l6.1 5.5l1.8-3.7l-6.1-6z"/>
<path fill="#00f800" d="M568 341.6l4.2 4.7l3.4-4.3l-4.1-4.7z"/>
<path fill="#00ec00" d="M580.2 373.8l4.2 5.6l3.3-5.8l-4.2-5.7z"/>
<path fill="#005a00" d="M563.2 402.4l4.4 2.8l1.5-9.5l-4.4-3.7z"/>
<path fill="#00ef00" d="M575.9 359.2l4.2 5.5l3.3-5.3l-4.1-5.6z"/>
<path fill="#004f00" d="M536.2 374.6l4.3 2.1l1.4-10.1l-4.4-2.3z"/>
<path fill="#008f00" d="M585 423l6.3 2.6l1.7-5l-6.3-3.9z"/>
<path fill="#00e800" d="M598.7 421l6.2 4l1.8-3.1l-6.2-4.4z"/>
<path fill="#00df00" d="M593.3 417.1l6.2 4.4l1.7-3.5l-6.1-5z"/>
<path fill="#006100" d="M566.7 404.7l4.4 2.8l1.6-8.8l-4.4-3.7z"/>
<path fill="#00de00" d="M585.3 399.9l6.1 6.4l2.2-4.9l-6-7z"/>
<path fill="#006a00" d="M570.3 407l4.4 2.9l1.6-8.1l-4.4-3.7z"/>
<path fill="#007400" d="M573.9 409.4l4.4 2.9l1.6-7.4l-4.4-3.8z"/>
<path fill="#00f400" d="M553.7 329l4.3 3.1l3.5-4.2l-4.2-3.1z"/>
<path fill="#008000" d="M577.5 411.7l4.4 2.9l1.6-6.6l-4.4-3.7z"/>
<path fill="#009200" d="M581.1 414.1l6.2 4l1.6-5.6l-6.1-5.2z"/>
<path fill="#00f900" d="M564.5 337.8l4.1 4.4l3.5-4.2l-4.2-4.4z"/>
<path fill="#00ce00" d="M587.9 412.8l6.1 4.8l1.8-4l-6.2-5.6z"/>
<path fill="#00c500" d="M540.2 329.2l4.4 1.5l3.4-5.7l-4.3-1.6z"/>
<path fill="#00ab00" d="M586.5 417.6l6.2 3.8l1.7-4.6l-6.2-4.9z"/>
<path fill="#00e200" d="M583.6 391l4.2 5.1l2.3-4.9l-4.2-5.3z"/>
<path fill="#008e00" d="M528.4 338.7l4.4 0.7l2.3-5.6l-4.3-0.6z"/>
<path fill="#00ea00" d="M581.9 382.2l4.2 5.4l2.3-4.3l-4.1-5.6z"/>
<path fill="#00f700" d="M557.3 331.6l4.3 3.5l3.4-4.3l-4.2-3.5z"/>
<path fill="#005900" d="M530.5 362.5l4.3 1.6l1.4-8.2l-4.3-1.6z"/>
<path fill="#007000" d="M526.6 345.2l4.3 0.8l2.2-7.5l-4.3-0.6z"/>
<path fill="#00f900" d="M560.9 334.5l4.2 4l3.5-4.3l-4.2-4z"/>
<path fill="#00c500" d="M591.9 421l6.2 3.6l1.8-3.9l-6.3-4.5z"/>
<path fill="#00d200" d="M583.9 403.8l6.1 5.8l1.8-4.2l-6.1-6.4z"/>
<path fill="#00ba00" d="M582.5 408.3l6.1 5.1l1.8-4.7l-6.2-5.9z"/>
<path fill="#005200" d="M539.7 376.2l4.3 2.4l1.4-9.9l-4.3-2.6z"/>
<path fill="#00ad00" d="M590.5 425.3l6.2 2.6l1.8-4.1l-6.3-3.7z"/>
<path fill="#00a700" d="M533.8 334.5l4.4 1.1l3.4-7l-4.4-1z"/>
<path fill="#006100" d="M528.3 354.2l4.3 1.2l2-9.3l-4.3-1.2z"/>
<path fill="#00d900" d="M597.3 424.2l6.3 3.3l1.8-3.3l-6.3-4z"/>
<path fill="#00ef00" d="M572.3 354.7l4.2 5.3l3.3-5.4l-4.1-5.4z"/>
<path fill="#00eb00" d="M576.7 369.2l4.1 5.4l3.3-5.9l-4.1-5.6z"/>
<path fill="#00d400" d="M581.8 396l4.2 4.6l2.3-5.4l-4.3-5.1z"/>
<path fill="#00a900" d="M578.9 405.2l4.3 3.7l1.8-5.4l-4.4-4.3z"/>
<path fill="#00c500" d="M580.3 400.2l4.3 4.2l1.8-4.7l-4.3-4.6z"/>
<path fill="#00d200" d="M543.8 330.4l4.3 2l3.4-5.7l-4.3-2.1z"/>
<path fill="#005700" d="M543.2 378.1l4.4 2.6l1.4-9.7l-4.4-2.9z"/>
<path fill="#0d0" d="M580.1 386.7l4.2 5.1l2.3-5.1l-4.2-5.4z"/>
<path fill="#009d00" d="M575.3 402.1l4.4 3.8l1.7-5.9l-4.4-4.4z"/>
<path fill="#005e00" d="M533.9 363.8l4.4 1.9l1.4-8.2l-4.3-2z"/>
<path fill="#00e800" d="M578.4 377.6l4.1 5.4l2.4-4.5l-4.2-5.5z"/>
<path fill="#00c700" d="M595.9 427.5l6.3 2.6l1.8-3.4l-6.3-3.4z"/>
<path fill="#00ef00" d="M568.8 350.4l4.2 5l3.3-5.4l-4.2-5.2z"/>
<path fill="#009100" d="M571.7 399.1l4.4 3.7l1.6-6.4l-4.3-4.3z"/>
<path fill="#090" d="M531.9 339.2l4.3 1.1l2.3-5.6l-4.3-1.1z"/>
<path fill="#005b00" d="M546.7 380.2l4.4 2.8l1.5-9.5l-4.4-3.1z"/>
<path fill="#0c0" d="M578.2 392.1l4.2 4.7l2.3-5.9l-4.3-5.2z"/>
<path fill="#070" d="M530.1 345.8l4.3 1.2l2.1-7.5l-4.3-1.1z"/>
<path fill="#0b0" d="M576.7 396.6l4.3 4.3l1.8-5.1l-4.3-4.7z"/>
<path fill="#008700" d="M568.1 396l4.4 3.7l1.6-6.9l-4.3-4.3z"/>
<path fill="#00ea00" d="M573.1 364.6l4.2 5.3l3.3-6l-4.2-5.5z"/>
<path fill="#00b400" d="M537.3 335.3l4.3 1.6l3.4-7l-4.3-1.5z"/>
<path fill="#00dc00" d="M547.3 332l4.3 2.6l3.4-5.8l-4.3-2.6z"/>
<path fill="#060" d="M531.7 355.2l4.4 1.5l2-9.3l-4.4-1.6z"/>
<path fill="#006100" d="M550.3 382.4l4.3 3l1.5-9.1l-4.3-3.4z"/>
<path fill="#007d00" d="M564.5 393.1l4.4 3.6l1.6-7.4l-4.3-4.2z"/>
<path fill="#00ef00" d="M565.2 346.4l4.2 4.7l3.3-5.5l-4.1-4.8z"/>
<path fill="#006300" d="M537.4 365.3l4.4 2.2l1.5-8.1l-4.4-2.4z"/>
<path fill="#060" d="M553.8 384.9l4.4 3.2l1.5-8.8l-4.4-3.6z"/>
<path fill="#00d800" d="M576.5 382.4l4.2 5.1l2.3-5.4l-4.2-5.4z"/>
<path fill="#007500" d="M561 390.2l4.3 3.5l1.6-7.9l-4.3-4z"/>
<path fill="#006d00" d="M557.4 387.5l4.4 3.3l1.5-8.3l-4.4-3.9z"/>
<path fill="#00b000" d="M573.1 393.1l4.4 4.2l1.7-5.4l-4.3-4.7z"/>
<path fill="#00e600" d="M574.8 373.1l4.2 5.3l2.3-4.6l-4.2-5.5z"/>
<path fill="#00e400" d="M550.8 334.1l4.3 3l3.4-5.7l-4.2-3.1z"/>
<path fill="#00c300" d="M574.6 388.2l4.3 4.6l2.2-6.3l-4.3-5.1z"/>
<path fill="#0e0" d="M561.6 342.8l4.2 4.3l3.4-5.6l-4.2-4.4z"/>
<path fill="#00e900" d="M554.4 336.6l4.3 3.5l3.4-5.8l-4.3-3.5z"/>
<path fill="#00ed00" d="M558 339.5l4.2 3.9l3.4-5.7l-4.2-4z"/>
<path fill="#00e900" d="M569.5 360.2l4.2 5.2l3.3-6.2l-4.2-5.4z"/>
<path fill="#00a600" d="M569.5 389.6l4.4 4.2l1.7-5.9l-4.3-4.6z"/>
<path fill="#006800" d="M540.9 367.1l4.4 2.5l1.5-8l-4.4-2.7z"/>
<path fill="#00a400" d="M535.4 340.1l4.3 1.5l2.3-5.6l-4.3-1.5z"/>
<path fill="#00c000" d="M540.8 336.5l4.3 2.1l3.4-7l-4.3-2z"/>
<path fill="#007f00" d="M533.5 346.7l4.3 1.6l2.2-7.5l-4.3-1.6z"/>
<path fill="#006c00" d="M535.2 356.4l4.4 2l2-9.3l-4.4-2z"/>
<path fill="#00d200" d="M572.9 378.1l4.2 5.1l2.3-5.7l-4.2-5.4z"/>
<path fill="#00ba00" d="M571 384.3l4.3 4.6l2.2-6.7l-4.3-5.1z"/>
<path fill="#009c00" d="M565.9 386.1l4.4 4.2l1.7-6.2l-4.4-4.6z"/>
<path fill="#00e300" d="M571.2 368.7l4.2 5.1l2.3-4.7l-4.2-5.4z"/>
<path fill="#006e00" d="M544.5 369.1l4.3 2.8l1.6-7.8l-4.4-3.1z"/>
<path fill="#00e700" d="M565.9 356.1l4.2 4.9l3.3-6.4l-4.2-5z"/>
<path fill="#009300" d="M562.3 382.8l4.4 4l1.7-6.5l-4.4-4.4z"/>
<path fill="#00ca00" d="M544.3 338.1l4.4 2.5l3.3-6.8l-4.3-2.6z"/>
<path fill="#007400" d="M548 371.4l4.4 3.1l1.6-7.7l-4.4-3.3z"/>
<path fill="#007200" d="M538.7 358l4.4 2.3l2-9.2l-4.3-2.5z"/>
<path fill="#008b00" d="M558.8 379.7l4.3 3.8l1.7-6.9l-4.4-4.2z"/>
<path fill="#00b100" d="M567.4 380.5l4.3 4.5l2.2-7.1l-4.3-4.9z"/>
<path fill="#00af00" d="M538.9 341.3l4.3 2l2.3-5.6l-4.3-2z"/>
<path fill="#007b00" d="M551.6 373.9l4.3 3.4l1.7-7.4l-4.4-3.7z"/>
<path fill="#008700" d="M537 348l4.4 2l2.1-7.5l-4.3-2.1z"/>
<path fill="#0c0" d="M569.3 374l4.2 4.9l2.3-6l-4.3-5.2z"/>
<path fill="#008200" d="M555.2 376.7l4.3 3.6l1.7-7.2l-4.4-3.9z"/>
<path fill="#00e500" d="M562.3 352.2l4.2 4.6l3.4-6.5l-4.3-4.7z"/>
<path fill="#00e100" d="M567.6 364.4l4.2 5l2.3-4.9l-4.2-5.2z"/>
<path fill="#00d300" d="M547.9 340.2l4.3 2.9l3.4-6.8l-4.3-3z"/>
<path fill="#00a900" d="M563.8 376.9l4.3 4.4l2.2-7.5l-4.3-4.8z"/>
<path fill="#00e300" d="M558.7 348.6l4.2 4.3l3.4-6.6l-4.3-4.4z"/>
<path fill="#007900" d="M542.3 359.8l4.3 2.7l2.1-9.1l-4.4-2.8z"/>
<path fill="#00da00" d="M551.5 342.6l4.3 3.4l3.3-6.7l-4.3-3.6z"/>
<path fill="#00df00" d="M555.1 345.4l4.3 3.9l3.3-6.7l-4.3-4z"/>
<path fill="#00c500" d="M565.7 370l4.3 4.8l2.2-6.3l-4.3-5z"/>
<path fill="#00b900" d="M542.4 342.9l4.3 2.5l2.3-5.6l-4.3-2.5z"/>
<path fill="#008f00" d="M540.5 349.5l4.4 2.5l2.1-7.5l-4.3-2.5z"/>
<path fill="#0d0" d="M564 360.4l4.2 4.8l2.4-5.1l-4.3-4.9z"/>
<path fill="#00a000" d="M560.2 373.4l4.3 4.2l2.2-7.8l-4.4-4.6z"/>
<path fill="#008000" d="M545.8 362l4.4 3l2.1-8.9l-4.4-3.3z"/>
<path fill="#009800" d="M556.6 370.2l4.3 3.9l2.2-8.1l-4.4-4.3z"/>
<path fill="#080" d="M549.4 364.4l4.3 3.4l2.2-8.7l-4.4-3.6z"/>
<path fill="#009000" d="M553 367.2l4.3 3.6l2.2-8.4l-4.4-4z"/>
<path fill="#00be00" d="M562 366.2l4.4 4.5l2.2-6.5l-4.3-4.8z"/>
<path fill="#00c100" d="M546 344.9l4.3 2.9l2.3-5.5l-4.3-3z"/>
<path fill="#00da00" d="M560.3 356.6l4.3 4.5l2.4-5.2l-4.3-4.6z"/>
<path fill="#009700" d="M544.1 351.5l4.3 2.8l2.2-7.3l-4.3-3z"/>
<path fill="#00c900" d="M549.5 347.3l4.4 3.4l2.3-5.5l-4.3-3.4z"/>
<path fill="#00d500" d="M556.7 353.2l4.3 4.1l2.4-5.3l-4.3-4.2z"/>
<path fill="#00b700" d="M558.4 362.7l4.4 4.2l2.2-6.7l-4.3-4.5z"/>
<path fill="#00d000" d="M553.1 350.1l4.3 3.7l2.4-5.4l-4.3-3.8z"/>
<path fill="#009f00" d="M547.6 353.8l4.4 3.2l2.2-7.2l-4.4-3.4z"/>
<path fill="#00b000" d="M554.8 359.4l4.4 3.9l2.2-6.9l-4.3-4.2z"/>
<path fill="#00a800" d="M551.2 356.4l4.4 3.6l2.2-7.1l-4.4-3.8z"/>
<path class="m" d="M529.8 288.2l3.9 1M539.3 287.9l0.7-1.6M540 286.3l0.8-2.6M533.7 289.2l4 1M538.5 289.1l0.8-1.2M537.7 290.2l0.8-1.1M540.8 283.7l0.5-6.4M536.9 291.1l0.8-0.9M537.7 290.2l4 0.9M536.1 292l0.8-0.9M535.3 292.9l0.8-0.9M541.7 291.1l4.1 0.8M524.9 292.8l4 1.1M546.5 290.5l0.8-1.9M547.3 288.6l0.7-2.8M534.5 293.7l0.8-0.8M545.8 291.9l0.7-1.4M545 293.1l0.8-1.2M545.8 291.9l2.2 0.5M548 285.8l0.6-5.3M533.7 294.4l0.8-0.7M528.9 293.9l4 1.2M544.2 294.2l0.8-1.1M532.9 295.1l0.8-0.7M548.5 292.5l2.2 0.4M543.4 295.2l0.8-1M542.6 296.1l0.8-0.9M531.7 296.1l1.2-1M532.9 295.1l4 1.1M551.2 293l2.7 0.5M541.8 296.8l0.8-0.7M554.6 291.6l0.8-2.8M553.9 293.5l0.7-1.9M553.1 295.1l0.8-1.6M553.9 293.5l2.7 0.5M530.4 297.2l1.3-1.1M555.4 288.8l0.7-4.4M536.9 296.2l4.1 1.2M552.4 296.4l0.7-1.3M541 297.4l0.8-0.6M548.6 280.5l0.4-14.6M556.6 294l2.8 0.5M551.6 297.6l0.8-1.2M519.9 297.3l4 1.1M529.2 298.2l1.2-1M539.8 298.2l1.2-0.8M541 297.4l2.7 0.7M550.8 298.6l0.8-1M559.4 294.5l2.7 0.6M556.1 284.4l0.6-8.7M550 299.2l0.8-0.6M527.9 299.3l1.3-1.1M543.7 298.1l2.8 0.8M541.3 277.3l-0.7-42.6M523.9 298.4l4 0.9M562.1 295.1l0.8-2.6M538.6 299.1l1.2-0.9M561.4 297l0.7-1.9M562.1 295.1l2.8 0.5M562.9 292.5l0.7-3.7M560.6 298.6l0.8-1.6M549.2 299.6l0.8-0.4M546.5 298.9l2.7 0.7M559.9 299.9l0.7-1.3M564.9 295.6l2.8 0.5M537.3 300l1.3-0.9M563.6 288.8l0.7-6.1M559.1 301.1l0.8-1.2M525.4 301.5l2.5-2.2M527.9 299.3l4.1 0.9M548 300.3l1.2-0.7M549.2 299.6l2.8 0.7M567.7 296.1l2.8 0.5M558.3 301.6l0.8-0.5M552 300.3l2.7 0.8M536.1 300.9l1.2-0.9M514.8 302l4 0.9M569.7 298.9l0.8-2.3M570.5 296.6l0.7-3.1M570.5 296.6l2.8 0.6M547 300.8l1-0.5M569 300.8l0.7-1.9M532 300.2l4.1 0.7M557.5 301.8l0.8-0.2M568.2 302.3l0.8-1.5M554.7 301.1l2.8 0.7M571.2 293.5l0.8-4.7M522.8 303.6l2.6-2.1M567.5 303.7l0.7-1.4M573.3 297.2l2.8 0.5M564.3 282.7l0.6-12.7M545.6 301.6l1.2-0.7M556.5 302.1l1-0.3M557.5 301.8l2.8 0.7M518.8 302.9l4 0.7M533.6 302.7l2.5-1.8M536.1 300.9l2.7 0.5M576.1 297.7l2.9 0.6M549 265.9l-0.5-28.5M572 288.8l0.7-7.9M560.3 302.5l2.8 0.8M556.7 275.7l0.3-25.6M578.2 301l0.8-2.7M538.8 301.4l2.8 0.5M577.4 303l0.8-2M544.3 302.3l1.3-0.7M579 298.3l0.7-3.6M579 298.3l2.8 0.6M555.1 302.6l1.2-0.4M576.7 304.8l0.7-1.8M520.3 305.8l2.5-2.2M522.8 303.6l4.1 0.6M563.1 303.3l0.5 0.1M576.6 305l0.1-0.2M541.6 301.9l2.7 0.4M579.7 294.7l0.8-5.5M581.8 298.9l2.9 0.7M531 304.6l2.6-1.9M509.5 306.8l4.1 0.8M553.9 303l1.2-0.4M584.7 299.6l2.8 0.7M541.8 303.7l2.5-1.4M544.3 302.3l2.8 0.4M526.9 304.2l4.1 0.4M586 305.4l0.8-2.2M586.8 303.2l0.7-2.9M585.3 307.3l0.7-1.9M587.5 300.3l0.8-4.1M587.5 300.3l2.9 0.7M517.6 308l2.7-2.2M585 307.8l0.3-0.5M580.5 289.2l0.8-9.6M513.6 307.6l4 0.4M552.9 303.4l1-0.4M547.1 302.7l2.8 0.4M572.7 280.9l0.7-16.6M590.4 301l2.9 0.7M528.4 306.5l2.6-1.9M531 304.6l2.8 0.2M588.3 296.2l0.8-6.1M549.9 303.1l2.3 0.3M593.3 301.7l2.9 0.8M594.7 307.9l0.7-2.3M595.4 305.6l0.8-3.1M539.3 305.1l2.5-1.4M593.9 309.8l0.8-1.9M533.8 304.8l2.7 0.2M515 310.3l2.6-2.3M517.6 308l4.1 0.3M596.2 302.5l0.8-4.2M596.2 302.5l2.9 0.9M593.3 311.2l0.6-1.4M564.9 270l0.3-27.8M557 250.1l-0.2-10.4M550.2 304.3l2.5-0.8M552.7 303.5l2.8 0.3M504.2 311.7l4 0.6M599.1 303.4l3 0.9M526.3 308l2.1-1.5M589.1 290.1l0.9-10.8M536.5 305l2.8 0.1M597 298.3l0.9-6.5M602.1 304.3l2.9 0.9M555.5 303.8l0.5 0.1M603.5 310.6l0.7-2.3M604.2 308.3l0.8-3.1M602.7 312.5l0.8-1.9M521.7 308.3l4.1 0M605 305.2l0.8-4.2M605 305.2l2.9 1M602 314.1l0.7-1.6M512.3 312.5l2.7-2.2M537.2 306.3l2.1-1.2M539.3 305.1l2.3 0M508.2 312.3l4.1 0.2M607.9 306.2l3 1M581.3 279.6l0.8-20.2M605.8 301l0.9-6.5M610.9 307.2l3 1.1M547.7 305.2l2.5-0.9M613.1 311.2l0.8-2.9M612.3 313.4l0.8-2.2M523.6 309.9l2.2-1.6M525.8 308.3l2.8 0M542.1 305.2l2.8 0M597.9 291.8l0.9-11.4M611.6 315.3l0.7-1.9M613.9 308.3l0.8-4M613.9 308.3l2.9 1.1M573.4 264.3l0.3-19.5M610.8 316.9l0.8-1.6M616.8 309.4l3 1.2M510 314.4l2.3-1.9M512.3 312.5l4.1-0.1M614.7 304.3l0.9-6M498.7 316.7l4.1 0.5M619.8 310.6l3 1.2M544.9 305.2l2.8 0M528.6 308.3l2.8-0.2M610.2 317l0.6-0.1M534.1 307.9l2.6-1.4M622 314.4l0.8-2.6M622.8 311.8l0.8-3.5M622.8 311.8l3 1.2M621.3 316.4l0.7-2M620.6 318.1l0.7-1.7M606.7 294.5l1-11.3M625.8 313l3 1.3M623.6 308.3l0.9-5.3M521 311.8l2.2-1.6M619.8 319.6l0.8-1.5M609.6 316.8l0.6 0.2M628.8 314.3l3 1.2M545.2 306.2l2.5-1M547.7 305.2l1.9 0M531.4 308.1l2.3-0.1M631.8 315.5l0.8-2.9M631.1 317.7l0.7-2.2M631.8 315.5l3 1.3M516.4 312.4l4.1-0.3M590 279.3l1.1-23.1M507.3 316.8l2.3-2M502.8 317.2l4 0M619.2 319.9l0.6-0.3M632.6 312.6l0.9-4.3M630.3 319.5l0.8-1.8M615.6 298.3l1.1-10.5M606.5 315.8l1.5 0.5M634.8 316.8l3.1 1.3M629.6 321.1l0.7-1.6M637.9 318.1l3 1.3M641.7 317.1l0.8-3.2M608.6 316.6l0.9 0.2M609.5 316.8l1.5 0.5M640.9 319.4l0.8-2.3M624.5 303l1.1-9.1M531.9 309.1l2.2-1.2M534.1 307.9l2.8-0.2M582.1 259.4l0.2-12.1M628.9 322.4l0.7-1.3M618.6 319.9l0.6 0M640.2 321.2l0.7-1.8M640.9 319.4l3.1 1.3M633.5 308.3l1-7.1M642.5 313.9l1-5.2M612.5 317.8l2.5 0.9M651.6 319.3l0.8-3.4M644 320.7l3.1 1.2M639.5 322.7l0.7-1.5M517.8 314l2.7-1.9M520.5 312.1l2.8-0.4M650.8 321.5l0.8-2.2M628.3 322.9l0.6-0.5M661.5 322.1l0.8-3.2M615.5 318.9l3 1M647.1 321.9l3 1.3M650.1 323.2l0.7-1.7M493.1 321.9l4.1 0.4M660.8 324.1l0.7-2M504.5 319.2l2.3-2M506.8 317.2l4.1-0.4M638.9 323.8l0.6-1.1M543 306.9l2.2-0.7M536.9 307.7l2.4-0.2M652.4 315.9l1.1-6.2M617.7 319.9l0.8 0M618.5 319.9l3 1.1M660.1 325.6l0.7-1.5M649.4 324.6l0.7-1.4M650.1 323.2l4.7 1.8M607.6 316.3l0.9 0.2M598.8 280.4l1.3-24.5M638.2 325l0.6-1M627.6 323.1l0.7-0.2M621.5 321l3.1 1.1M523.3 311.7l2.7-0.5M648.8 325.9l0.6-1.3M659.4 326.8l0.7-1.2M654.8 325l4.6 1.8M637.5 325.9l0.6-0.7M643.5 308.7l1.3-10.3M528.8 310.7l2.7-1.4M624.6 322.1l3 1M662.3 318.9l1.3-7.9M539.7 307.4l2.9-0.3M648.1 327l0.7-1.1M658.8 327.9l0.6-1.1M659.4 326.8l4.8 1.7M515.5 315.7l2.3-1.7M497.2 322.3l4.1-0.1M626.6 323.5l1-0.4M627.6 323.1l2.6 0.9M591.1 256.2l0.1-6.5M501.7 321.7l2.4-2.1M616.7 319.9l0.8 0M510.9 316.8l4.2-0.7M606.6 316l0.9 0.2M636.8 326.4l0.7-0.5M607.7 283.2l1.5-24.4M647.4 328.1l0.7-1.1M664.2 328.5l4.7 1.6M658.2 329l0.6-1.1M630.7 324.2l3.1 1.1M634.5 301.2l1.6-14.9M526 311.2l2.8-0.5M633.8 325.3l3 1.1M540.4 307.8l2.2-0.7M542.6 307.1l0.9-0.1M625.6 293.9l1.7-19.1M616.7 287.8l1.6-22.5M646.8 328.9l0.6-0.8M657.6 329.8l0.6-0.8M635.9 327.2l0.9-0.8M636.8 326.4l3.1 1.1M625.7 323.9l0.9-0.4M615.7 319.9l0.8 0M487.3 327.2l4.2 0.3M639.9 327.5l3.1 1.1M656.9 331l0.6-1M646.2 329.6l0.6-0.7M526.1 312.2l2.7-1.5M528.8 310.7l2.4-0.5M498.4 324.7l2.9-2.5M501.3 322.2l4.1-0.6M512.3 318.3l2.8-2.2M515.1 316.1l2.7-0.7M643 328.6l3.2 1M595.8 311.9l0.5 0.2M653.5 309.7l2-17.5M600.1 255.9l0.1-3.8M656.2 331.9l0.7-0.9M634.9 327.9l1-0.7M645.2 330.7l1-1.1M646.2 329.6l4.7 1.6M624.7 324.2l1-0.3M598.3 312.8l1 0.4M614.5 319.8l1 0.1M655.6 332.8l0.6-0.9M531.6 310.1l2.8-0.6M650.9 331.2l4.7 1.6M599.3 313.2l2.5 1M517.8 315.4l2.8-0.7M537.7 308.7l2.3-0.8M491.5 327.5l4.1-0.2M495.6 327.3l2.8-2.6M633.9 328.6l1-0.7M644.2 331.8l1-1.1M602.3 314.4l2.6 1M510 320.2l2.3-1.9M654.6 334.1l1-1.3M655.6 332.8l4.8 1.5M505.4 321.6l4.1-1M609.2 258.8l0.2-4.3M623.7 324.5l1-0.3M523.8 313.6l2.3-1.4M603.3 315l2.1 0.6M605.4 315.6l3 1.4M534.4 309.5l2.4-0.6M660.4 334.3l4.8 1.5M608.4 317l2.5 1.1M520.6 314.7l2.3-0.7M643.3 332.8l0.9-1M611.4 318.4l3.1 1.4M653.7 335.3l0.9-1.2M632.9 329.2l1-0.6M481.5 332.7l4.1 0.3M618.3 265.3l0.4-8.4M612.4 319.7l2.1 0.1M614.5 319.8l3 1.6M492.7 330l2.9-2.7M495.6 327.3l4.1-0.7M617.5 321.4l3.1 1.5M644.8 298.4l2.8-30.6M627.3 274.8l0.9-15.5M506.7 323l2.8-2.4M509.5 320.6l2.7-0.8M620.6 322.9l3.1 1.6M535 309.7l2.3-0.9M537.3 308.8l2.4-0.5M636.1 286.3l1.8-24.7M642.3 333.8l1-1M593.4 311l0.7 0.3M652.7 336.6l1-1.3M621.7 325l2-0.5M623.7 324.5l3 1.6M520.6 315.8l2.8-1.9M523.4 313.9l2.8-0.9M626.7 326.1l3.1 1.6M629.8 327.7l3.1 1.5M630.9 330.5l2-1.3M632.9 329.2l3.1 1.6M485.6 333l4.1-0.3M663.6 311l4.3-42.6M651.8 337.8l0.9-1.2M636 330.8l3.1 1.5M489.7 332.7l3-2.7M512.2 319.8l2.8-0.9M540.1 308.1l0.5-0.1M601.1 314.4l2.2 0.6M639.1 332.3l3.2 1.5M499.7 326.6l4.1-1.1M503.8 325.5l2.9-2.5M526.2 313l2.8-1M640.3 335.7l2-1.9M642.3 333.8l4.7 2.1M647 335.9l4.8 1.9M610.3 319.6l2.1 0.1M518.3 317.5l2.3-1.7M532.3 310.8l2.3-1M655.5 292.2l2.2-26M475.4 338.3l4.2 0.3M590.4 309.9l1.5 0.5M649.8 340.3l2-2.5M651.8 337.8l4.7 1.8M515 318.9l2.8-1.1M619.6 325.5l2.1-0.5M486.7 335.5l3-2.8M489.7 332.7l4.1-0.8M529 312l2.9-1M656.5 339.6l4.9 1.7M590.8 310l1.1 0.4M591.9 310.4l0.5 0.2M593.4 311l1 0.4M628.9 331.7l2-1.2M500.9 328l2.9-2.5M503.8 325.5l2.7-1M595 311.6l3 1.4M647.6 267.8l0.3-4.1M638.3 337.6l2-1.9M598 313l3.1 1.4M479.6 338.6l4.1-0.3M515 320l2.8-2.2M517.8 317.8l2.8-1.1M598.9 313.8l2.2 0.6M601.1 314.4l3.1 1.6M529.5 312.3l2.4-1.3M531.9 311l2.8-1M483.7 338.3l3-2.8M647.8 342.7l2-2.4M604.2 316l3 1.8M506.5 324.5l2.8-1.1M607.2 317.8l3.1 1.8M493.8 331.9l4.2-1.3M608.2 319.4l2.1 0.2M610.3 319.6l3.1 1.9M498 330.6l2.9-2.6M613.4 321.5l3.1 2M616.5 323.5l3.1 2M469.3 344l4.2 0.3M617.5 325.9l2.1-0.4M619.6 325.5l3.1 2.1M622.7 327.6l3.1 2M625.8 329.6l3.1 2.1M520.6 316.7l2.8-1.2M626.9 332.8l2-1.1M628.9 331.7l3.1 2M632 333.7l3.2 2M534.7 310l1.5-0.5M635.2 335.7l3.1 1.9M636.3 339.4l2-1.8M638.3 337.6l4.8 2.7M512.1 322.2l2.9-2.2M480.7 341.1l3-2.8M483.7 338.3l4.2-0.9M588.5 309.2l1.1 0.4M643.1 340.3l4.7 2.4M509.3 323.4l2.8-1.2M645.8 345.1l2-2.4M647.8 342.7l4.8 2.2M526.3 314.3l2.8-1.8M495.5 332.9l2.5-2.3M498 330.6l2.3-0.8M652.6 344.9l4.9 2M523.4 315.5l2.9-1.2M473.5 344.3l4.1-0.3M537.6 309l2-0.6M596.6 313.1l2.3 0.7M477.6 344l3.1-2.9M509.2 324.6l2.9-2.4M512.1 322.2l2.4-1.1M606 319l2.2 0.4M615.4 326.1l2.1-0.2M624.8 333.7l2.1-0.9M487.9 337.4l4.1-1.3M634.3 341.1l2-1.7M500.7 329.6l2.8-1.2M492 336.1l3-2.7M463 349.9l4.2 0.3M584.2 307.8l0.5 0.1M643.8 347.5l2-2.4M538.2 308.9l0.5-0.1M539.2 308.6l1.3-0.6M540.5 308l0.5-0.1M523.9 315.8l2.4-1.5M526.3 314.3l2.9-1.3M588.9 309.4l1.5 0.6M474.5 346.9l3.1-2.9M477.6 344l4.2-0.8M514.9 320.9l2.8-1.4M590.4 310l3.1 1.5M506.3 327l2.9-2.4M503.5 328.4l2.8-1.4M543.5 307.1l0.5-0.2M593.5 311.5l3.1 1.6M489 339l3-2.9M492 336.1l2.8-1M529.2 313l2.9-1.3M467.2 350.2l4.1-0.3M594.4 312.2l2.2 0.9M596.6 313.1l3.2 1.8M634.3 341.1l4.7 3.3M639 344.4l4.8 3.1M599.8 314.9l3.1 2M632.2 342.4l2.1-1.3M631.1 338.7l3.2 2.4M628 336.2l3.1 2.5M641.8 349.6l2-2.1M643.8 347.5l4.9 2.7M520.6 318l2.9-1.9M624.8 333.7l3.2 2.5M602.9 316.9l3.1 2.1M471.3 349.9l3.2-3M622.8 334.2l2-0.5M621.7 331.1l3.1 2.6M535 310.4l2.8-1.3M603.8 318.4l2.2 0.6M606 319l3.2 2.3M618.6 328.6l3.1 2.5M648.7 350.2l4.8 2.4M615.4 326.1l3.2 2.5M609.2 321.3l2.6 1.9M613.3 325.9l2.1 0.2M612.3 323.6l3.1 2.5M517.7 319.5l2.9-1.5M456.5 355.9l4.2 0.5M548.5 305.7l0.5-0.2M481.8 343.2l4.1-1.3M503.3 329.7l3-2.7M506.3 327l2.8-1.4M494.8 335.1l2.7-1.3M533.1 311.3l1.9-0.9M485.9 341.9l3.1-2.9M584.1 307.5l0.8 0.4M468.2 353.1l3.1-3.2M471.3 349.9l4.2-0.8M518.2 319.7l2.4-1.7M520.6 318l2.9-1.5M639.8 351.6l2-2M460.7 356.4l4.2-0.1M630.2 343.6l2-1.2M536 310l2-0.8M509.1 325.6l2.4-1.3M500.3 332.4l3-2.7M497.5 333.8l2.8-1.4M482.8 344.8l3.1-2.9M485.9 341.9l2.8-1.1M592 311.3l2.4 0.9M620.6 334.6l2.2-0.4M554.5 304.3l1-0.2M464.9 356.3l3.3-3.2M601.6 317.7l2.2 0.7M611.1 325.7l2.2 0.2M449.9 362.2l4.3 0.8M578.3 305.7l1.1 0.2M523.5 316.5l2.9-1.6M475.5 349.1l4.2-1.2M539.5 308.6l0.5-0.2M514.8 322.4l2.9-2.3M511.9 324l2.9-1.6M479.7 347.9l3.1-3.1M497.3 335.2l3-2.8M500.3 332.4l2.9-1.5M488.7 340.8l2.8-1.3M462.8 358.5l2.1-2.2M464.9 356.3l4.2-0.6M644.6 355.1l4.9 3M639.8 351.6l4.8 3.5M637.7 353.7l2.1-2.1M634.9 347.8l4.9 3.8M580.5 306.2l2 0.7M582.5 306.9l2.7 1M530.3 312.9l1.9-1.1M630.2 343.6l4.7 4.2M454.2 363l4.3 0.4M628.1 344.8l2.1-1.2M627 340.6l3.2 3M585.7 308.1l2.6 1.2M461 360.5l1.8-2M526.4 314.9l2.4-1.3M623.8 337.6l3.2 3M569.7 303.9l0.9 0.1M588.9 309.6l3.1 1.7M620.6 334.6l3.2 3M618.5 335l2.1-0.4M617.5 331.6l3.1 3M476.5 351.2l3.2-3.3M479.7 347.9l2.7-1.1M589.7 310.5l2.3 0.8M592 311.3l3.2 1.9M511.8 324.9l3-2.5M514.8 322.4l2.9-1.7M491.5 339.5l2.3-1.2M614.3 328.6l3.2 3M494.3 338.1l3-2.9M503.2 330.9l2.3-1.4M595.2 313.2l3.2 2.1M458.8 363l1.8-2.1M611.1 325.7l3.2 2.9M598.4 315.3l2.7 2M608.9 325.5l2.2 0.2M607.9 322.9l3.2 2.8M599.3 317l2.3 0.7M601.6 317.7l3.2 2.5M604.8 320.2l3.1 2.7M561.7 303.5l2.1 0M469.1 355.7l4.2-1M543 307.3l1-0.3M456.8 365.3l1.7-1.9M458.5 363.4l4.2 0M635.6 355.9l2.1-2.2M526.4 315.2l2.9-1.8M529.3 313.4l3-1.5M473.3 354.7l3.2-3.5M455.2 367.4l1.6-2.1M482.4 346.8l2.8-1.3M564.8 303.4l2.1 0.2M517.7 320.7l2.9-1.8M625.9 346.2l2.2-1.4M577.5 305.6l2.6 0.5M491.2 341l3.1-2.9M494.3 338.1l2.8-1.6M508.8 327.6l3-2.7M506 329.3l2.8-1.7M453.6 369.7l1.6-2.3M554.6 304.3l1.3-0.3M452 372.2l1.6-2.5M566.2 303.6l1.8 0M568 303.6l3.2 0.4M471.2 357.2l2.1-2.5M473.3 354.7l2.8-0.9M640.4 360.1l4.9 3.6M532.3 311.9l3-1.5M616.3 335.7l2.2-0.7M635.6 355.9l4.8 4.2M462.7 363.4l4.3-0.4M587.2 309.9l2.5 0.6M523.5 317.2l2.9-2M633.4 358.3l2.2-2.4M630.7 351.2l4.9 4.7M485.2 345.5l2.8-1.4M571.2 304l3.1 0.7M538.8 308.9l0.5-0.2M540.2 308.3l0.5-0.2M469.1 359.9l2.1-2.7M606.7 325.5l2.2 0M520.6 318.9l2.9-1.7M488 344.1l3.2-3.1M596.9 316.7l2.4 0.3M551.6 304.9l1.6-0.4M497.1 336.5l2.8-1.6M505.8 330.3l3-2.7M508.8 327.6l2.4-1.5M625.9 346.2l4.8 5M574.3 304.7l3.2 0.9M467 363l2.1-3.1M476.1 353.8l2.8-1.1M535.8 310.2l2.5-1.1M623.7 348l2.2-1.8M622.7 342.7l3.2 3.5M465.5 365.5l1.5-2.5M467 363l2.4-0.3M619.5 339.2l3.2 3.5M575 305.4l2.5 0.2M577.5 305.6l3.3 1.1M551.8 304.8l1.4-0.3M553.2 304.5l0.5 0M554.2 304.4l2.1-0.3M463.9 368.3l1.6-2.8M461.1 375.4l1.4-3.7M484.9 347.7l3.1-3.6M488 344.1l2.8-1.5M616.3 335.7l3.2 3.5M462.5 371.7l1.4-3.4M520.6 319.6l2.9-2.4M523.5 317.2l2.5-1.4M580.8 306.7l3.2 1.5M562.7 303.8l2.7-0.2M499.9 334.9l2.9-1.8M631.2 361l2.2-2.7M511.7 325.8l2.4-1.5M614.1 336.8l2.2-1.1M613.1 332.2l3.2 3.5M502.8 333.1l3-2.8M584 308.2l3.2 1.7M536.9 309.8l1.4-0.7M538.3 309.1l2.6-1.1M609.9 328.8l3.2 3.4M478.9 352.7l2.4-1M556.3 304.1l2.1-0.2M559 303.9l0.5-0.1M469.9 362.6l2.8-0.5M584.7 309.8l2.5 0.1M587.2 309.9l3.3 2M606.7 325.5l3.2 3.3M604.3 326.1l2.4-0.6M603.4 322.4l3.3 3.1M590.5 311.9l3.2 2.3M600.2 319.4l3.2 3M593.7 314.2l3.2 2.5M481.8 351.5l3.1-3.8M594.5 316.8l2.4-0.1M596.9 316.7l3.3 2.7M636.1 365.7l5 4M621.5 350l2.2-2M490.8 342.6l2.9-1.6M526.5 315.5l2.5-1.4M631.2 361l4.9 4.7M559.5 303.8l3.2 0M517.6 322.2l3-2.6M541.4 307.8l1.5-0.5M514.6 324l3-1.8M499.7 336.1l3.1-3M502.8 333.1l2.4-1.5M548.5 305.6l1.9-0.5M472.7 362.1l2.9-0.6M479.7 354.3l2.1-2.8M481.8 351.5l2.8-1.3M629 363.7l2.2-2.7M626.3 355.7l4.9 5.3M572.4 305.5l2.6-0.1M533 312l2.4-1.5M611.8 338.2l2.3-1.4M470.2 378.6l1.2-5.4M560 304.1l2.7-0.3M562.7 303.8l3.2 0.3M477.6 357.7l2.1-3.4M621.5 350l4.8 5.7M529.5 313.9l3-1.6M544.5 306.7l2.6-0.7M493.7 341l2.8-1.8M475.6 361.5l2-3.8M471.4 373.2l1.3-4.8M496.5 339.2l3.2-3.1M582.2 309.9l2.5-0.1M565.9 304.1l3.2 0.5M514.6 324.9l3-2.7M517.6 322.2l3-1.8M474.1 364.7l1.5-3.2M475.6 361.5l2.9-0.7M619.2 352.1l2.3-2.1M618.3 346.1l3.2 3.9M472.7 368.4l1.4-3.7M602 326.9l2.3-0.8M505.6 331.3l3-1.8M484.6 350.2l2.4-1.1M592.1 317.2l2.4-0.4M615 342.2l3.3 3.9M626.7 366.5l2.3-2.8M569.1 304.6l3.3 0.9M545.7 306.5l1.9-0.7M547.6 305.8l2.6-0.6M611.8 338.2l3.2 4M530.1 314.2l2.4-1.9M532.5 312.3l3.1-1.5M569.7 305.6l2.7-0.1M572.4 305.5l3.2 1.1M493.4 343l3.1-3.8M496.5 339.2l2.9-1.7M478.5 360.8l2.9-0.8M631.7 371.6l5 4.4M609.4 339.7l2.4-1.5M608.5 334.3l3.3 3.9M520.6 320.4l3-1.7M557.2 304.5l2.8-0.4M511.5 327.7l3.1-2.8M508.6 329.5l2.9-1.8M575.6 306.6l3.3 1.5M487.5 348.8l2.8-1.5M605.2 330.5l3.3 3.8M626.7 366.5l5 5.1M479.5 381.7l1-7.2M550.8 305.1l2.6-0.3M616.9 354.4l2.3-2.3M602 326.9l3.2 3.6M578.9 308.1l3.3 1.8M535.6 310.8l2.6-1M599.5 327.7l2.5-0.8M598.7 323.4l3.3 3.5M579.6 310l2.6-0.1M582.2 309.9l3.3 2.1M490.3 347.3l3.1-4.3M624.4 369.4l2.3-2.9M621.8 360.6l4.9 5.9M595.4 320.2l3.3 3.2M585.5 312l3.3 2.4M481.4 360l3-0.8M592.1 317.2l3.3 3M589.6 317.6l2.5-0.4M588.8 314.4l3.3 2.8M526.6 317.1l3-2.5M499.4 337.5l3-1.9M541.9 308.5l2.8-1.6M554 304.7l3.2-0.2M480.5 374.5l1.2-6.4M523.6 318.7l3-1.6M508.4 330.6l3.1-2.9M511.5 327.7l2.5-1.5M616.9 354.4l4.9 6.2M488.3 350.5l2-3.2M490.3 347.3l2.5-1.2M607 341.3l2.4-1.6M538.7 309.6l3.2-1.1M481.7 368.1l1.3-4.9M567 305.8l2.7-0.2M486.3 354.5l2-4M554.4 305.3l2.8-0.8M557.2 304.5l3.2 0.1M483 363.2l1.4-4M614.5 356.8l2.4-2.4M613.6 350.1l3.3 4.3M484.4 359.2l1.9-4.7M484.4 359.2l2.9-0.8M622.1 372.4l2.3-3M488.9 384.9l0.9-9.2M523.6 319.7l3-2.6M526.6 317.1l2.6-1.3M502.4 335.6l2.9-1.8M610.3 345.7l3.3 4.4M627.1 377.9l5 4.7M560.4 304.6l3.3 0.4M505.3 333.8l3.1-3.2M597.1 328.8l2.4-1.1M514.5 325.9l2.5-1.5M493.3 345.8l2.4-1.3M539.4 310.3l2.5-1.8M541.9 308.5l3.1-0.9M577 310.4l2.6-0.4M587.1 318.2l2.5-0.6M607 341.3l3.3 4.4M622.1 372.4l5 5.5M487.3 358.4l3-0.9M563.7 305l3.3 0.8M604.6 343.3l2.4-2M603.7 337l3.3 4.3M529.7 315.6l3.1-1.4M612.1 359.5l2.4-2.7M619.7 375.6l2.4-3.2M617.1 366.2l5 6.2M545 307.6l3.3-0.6M551.5 306.7l2.9-1.4M502.2 337.9l3.1-4.1M505.3 333.8l2.5-1.5M564.2 306.5l2.8-0.7M567 305.8l2.8 1M520.6 322.4l3-2.7M600.4 332.8l3.3 4.2M489.8 375.7l1-8.1M517.5 324.1l3.1-1.7M496.2 344.3l3-1.6M570.3 307l3.4 1.5M597.1 328.8l3.3 4M536 313.1l2.9-2.5M490.3 357.5l3-0.9M612.1 359.5l5 6.7M498.4 388.2l0.8-11.2M573.7 308.5l3.3 1.9M594.6 330.2l2.5-1.4M593.8 325l3.3 3.8M548.3 307l3.2-0.3M499.2 342.7l3-4.8M532.8 314.2l3.2-1.1M590.4 321.4l3.4 3.6M574.3 311.1l2.7-0.7M577 310.4l3.3 2.2M490.8 367.6l1.2-6.1M587.1 318.2l3.3 3.2M580.3 312.6l3.4 2.6M584.5 319.1l2.6-0.9M583.7 315.2l3.4 3M508.3 332l3-1.7M617.3 379l2.4-3.4M609.7 362.5l2.4-3M608.8 354.9l3.3 4.6M602.1 345.5l2.5-2.2M517.5 325.3l3.1-2.9M520.6 322.4l3.1-1.5M497.1 346.3l2.1-3.6M499.2 342.7l3-1.6M492 361.5l1.3-4.9M622.4 384.6l5.1 4.8M548.6 308.8l2.9-2.1M551.5 306.7l3.3 0M493.3 356.6l1.9-5.7M493.3 356.6l2.6-0.7M495.2 350.9l1.9-4.6M561.5 307.8l2.7-1.3M605.5 350.2l3.3 4.7M533.5 315.2l2.5-2.1M536 313.1l2.7-0.8M617.3 379l5.1 5.6M554.8 306.7l3.3 0.4M602.1 345.5l3.4 4.7M592 332.1l2.6-1.9M511.3 330.3l3.1-1.7M523.7 320.9l3.1-1.4M514.4 328.6l3.1-3.3M614.8 382.3l2.5-3.3M612.2 372.6l5.1 6.4M499.2 377l0.9-9.8M508.1 391.6l0.7-12.9M502.2 341.1l3-1.5M607.2 365.7l2.5-3.2M571.6 312.4l2.7-1.3M539.2 312.2l3.2-0.7M599.6 348.3l2.5-2.8M598.8 340.9l3.3 4.6M496.4 355.8l3.1-0.8M558.1 307.1l3.4 0.7M581.8 320.7l2.7-1.6M546.2 310.8l2.4-2M530 318.3l3-2.7M595.4 336.4l3.4 4.5M607.2 365.7l5 6.9M558.6 309.9l2.9-2.1M561.5 307.8l3.3 1.1M526.8 319.5l3.2-1.2M511.3 333l3.1-4.4M514.4 328.6l2.6-1.2M592 332.1l3.4 4.3M542.4 311.5l3.3-0.3M564.8 308.9l3.4 1.6M505.2 339.6l3.1-1.4M500.1 367.2l1.2-7.2M612.4 385.8l2.4-3.5M499.5 355l3.1-0.7M589.4 334.6l2.6-2.5M588.6 328l3.4 4.1M604.7 368.9l2.5-3.2M603.8 360.9l3.4 4.8M617.5 391.6l5.2 4.9M568.2 310.5l3.4 1.9M585.2 324.2l3.4 3.8M597 351.2l2.6-2.9M568.8 314.6l2.8-2.2M571.6 312.4l3.4 2.4M518 395.1l0.7-14M581.8 320.7l3.4 3.5M508.3 338.2l3-5.2M575 314.8l3.4 2.8M542.8 313.7l2.9-2.5M545.7 311.2l3.3 0M579.1 323l2.7-2.3M578.4 317.6l3.4 3.1M612.4 385.8l5.1 5.8M501.3 360l1.3-5.7M526.9 321.2l3.1-2.9M530 318.3l2.7-0.7M600.4 356.1l3.4 4.8M517.5 327.1l3.2-1.3M555.8 312.3l2.8-2.4M508.8 378.7l0.9-11.2M502.6 354.3l1.8-6.7M502.6 354.3l3.1-0.7M506.3 342.2l2-4M508.3 338.2l3.1-1.2M597 351.2l3.4 4.9M504.4 347.6l1.9-5.4M549 311.2l3.4 0.3M609.8 389.3l2.6-3.5M607.2 379.3l5.2 6.5M602.1 372.2l2.6-3.3M586.8 337.3l2.6-2.7M533.2 317.4l3.3-0.6M594.4 354.3l2.6-3.1M593.6 346.5l3.4 4.7M552.4 311.5l3.4 0.8M523.8 324.6l3.1-3.4M566 317.1l2.8-2.5M520.7 325.8l3.1-1.2M540.3 316l2.5-2.3M527.9 398.8l0.9-14.6M576.4 325.6l2.7-2.6M602.1 372.2l5.1 7.1M505.7 353.6l3.2-0.5M511.4 337l3.2-1.2M590.2 341.8l3.4 4.7M552.8 314.8l3-2.5M555.8 312.3l3.4 1.2M536.5 316.8l3.3-0.4M509.7 367.5l1.2-8.2M607.3 393l2.5-3.7M586.8 337.3l3.4 4.5M612.5 398.8l5.2 5M599.5 375.6l2.6-3.4M598.7 367.3l3.4 4.9M559.2 313.5l3.4 1.5M520.8 329.3l3-4.7M523.8 324.6l3.3-0.9M584.1 340.2l2.7-2.9M583.3 333.1l3.5 4.2M518.7 381.1l0.9-12.3M508.9 353.1l3.2-0.4M591.8 357.4l2.6-3.1M607.3 393l5.2 5.8M562.6 315l3.4 2.1M514.6 335.8l3.2-0.9M579.8 329.2l3.5 3.9M536.7 319.3l3.1-2.9M539.8 316.4l3.3 0M595.2 362.4l3.5 4.9M563.2 319.7l2.8-2.6M566 317.1l3.5 2.4M538.1 402.7l1-14.2M576.4 325.6l3.4 3.6M510.9 359.3l1.2-6.6M569.5 319.5l3.4 2.8M573.6 328.3l2.8-2.7M572.9 322.3l3.5 3.3M517.8 334.9l3-5.6M604.7 396.9l2.6-3.9M602.1 386.4l5.2 6.6M549.9 317.6l2.9-2.8M591.8 357.4l3.4 5M527.1 323.7l3.3-0.6M512.1 352.7l1.8-7.5M512.1 352.7l3.3-0.2M543.1 316.4l3.4 0.4M596.9 379.3l2.6-3.7M515.8 339.2l2-4.3M517.8 334.9l3.2-0.7M513.9 345.2l1.9-6M581.3 343.2l2.8-3M589.1 360.7l2.7-3.3M588.3 352.6l3.5 4.8M596.9 379.3l5.2 7.1M548.4 406.9l1.1-13.2M533.7 322.7l3-3.4M546.5 316.8l3.4 0.8M528.8 384.2l1-12.7M519.6 368.8l1.2-9M560.3 322.5l2.9-2.8M530.4 323.1l3.3-0.4M607.3 406.7l5.4 4.8M515.4 352.5l3.3 0M602 401.1l2.7-4.2M570.8 331.2l2.8-2.9M584.8 347.8l3.5 4.8M521 334.2l3.3-0.5M546.9 320.5l3-2.9M549.9 317.6l3.4 1.2M594.2 383.4l2.7-4.1M593.4 374.3l3.5 5M602 401.1l5.3 5.6M581.3 343.2l3.5 4.6M558.8 411.2l1.3-11.3M553.3 318.8l3.5 1.6M530.7 327.6l3-4.9M533.7 322.7l3.4 0.1M518.7 352.5l3.3 0.2M578.6 346.4l2.7-3.2M577.8 338.9l3.5 4.3M586.4 364.3l2.7-3.6M520.8 359.8l1.2-7.1M600.3 404l1.7-2.9M596.7 394.8l5.3 6.3M589.9 369.3l3.5 5M556.8 320.4l3.5 2.1M539.1 388.5l1.1-12.5M574.3 334.9l3.5 4M524.3 333.7l3.4-0.2M557.4 325.4l2.9-2.9M560.3 322.5l3.5 2.4M570.8 331.2l3.5 3.7M563.8 324.9l3.5 3M591.4 388l2.8-4.6M569.4 415.8l1.4-9M567.9 334.3l2.9-3.1M567.3 327.9l3.5 3.3M586.4 364.3l3.5 5M537.1 322.8l3.4 0.4M527.7 333.5l3-5.9M598.5 407.2l1.8-3.2M591.4 388l5.3 6.8M522 352.7l1.8-8.1M522 352.7l3.4 0.5M543.9 324l3-3.5M529.8 371.5l1.2-9.3M549.5 393.7l1.3-11.5M525.7 338.1l2-4.6M527.7 333.5l3.4 0.2M523.8 344.6l1.9-6.5M583.6 368.8l2.8-4.5M582.8 359.4l3.6 4.9M602 415.6l5.4 4.2M596.6 410.8l1.9-3.6M540.5 323.2l3.4 0.8M575.7 350l2.9-3.6M580.1 420.4l1.5-6.5M596.6 410.8l5.4 4.8M589.6 391.3l1.8-3.3M587.9 383.3l3.5 4.7M525.4 353.2l3.4 0.7M560.1 399.9l1.4-9.9M595.2 413.7l1.4-2.9M591.2 405.5l5.4 5.3M579.3 354.6l3.5 4.8M570.8 406.8l1.4-7.9M554.4 329l3-3.6M581.6 413.9l1.4-5.8M593.8 416.9l1.4-3.2M540.9 328.9l3-4.9M543.9 324l3.5 1.2M587.7 395.2l1.9-3.9M531.1 333.7l3.4 0.5M584.3 378.5l3.6 4.8M531 362.2l1.3-7.3M565.1 337.8l2.8-3.5M592.4 420.8l1.4-3.9M585.9 399.8l5.3 5.7M540.2 376l1.2-9.2M591 425l1.4-4.2M528.8 353.9l3.5 1M575.7 350l3.6 4.6M580.8 373.8l2.8-5M585.9 399.8l1.8-4.6M583 408.1l1.4-4.5M584.4 403.6l1.5-3.8M582.3 395.9l3.6 3.9M547.4 325.2l3.5 1.7M580.8 373.8l3.5 4.7M572.9 354.7l2.8-4.7M572.2 345.6l3.5 4.4M534.5 334.2l3.4 0.8M578.7 392l3.6 3.9M572.2 398.9l1.4-6M537.9 335l3-6.1M550.9 326.9l3.5 2.1M532.3 354.9l1.8-8.5M532.3 354.9l3.4 1.2M550.8 382.2l1.3-8.4M568.6 341.5l3.6 4.1M561.5 390l1.3-7.3M578.9 377.6l1.9-3.8M577.2 369.1l3.6 4.7M551.4 333.9l3-4.9M554.4 329l3.5 2.5M575.1 388.1l3.6 3.9M565.1 337.8l3.5 3.7M557.9 331.5l3.6 2.9M562.1 342.7l3-4.9M561.5 334.4l3.6 3.4M573.6 392.9l1.5-4.8M541.4 366.8l1.4-7.2M536 339.8l1.9-4.8M537.9 335l3.5 1.3M534.1 346.4l1.9-6.6M535.7 356.1l3.5 1.6M577 382.3l1.9-4.7M575.1 388.1l1.9-5.8M571.5 384.2l3.6 3.9M573.6 364.6l3.6 4.5M570 360.2l2.9-5.5M539.2 357.7l3.6 1.9M562.8 382.7l1.5-5.9M567.9 380.4l3.6 3.8M541.4 336.3l3.5 1.7M552.1 373.8l1.4-6.8M570 360.2l3.6 4.4M548.5 340l2.9-6.1M564.3 376.8l3.6 3.6M542.8 359.6l1.8-8.3M542.8 359.6l3.5 2.2M559.2 348.6l2.9-5.9M544.9 338l3.6 2M568.1 364.4l1.9-4.2M566.4 356l3.6 4.2M564.3 376.8l1.9-6.9M560.7 373.3l3.6 3.5M546.3 361.8l3.6 2.5M557.1 370l3.6 3.3M549.9 364.3l3.6 2.7M553.5 367l1.8-7.7M553.5 367l3.6 3M566.2 369.9l1.9-5.5M546.5 344.7l2-4.7M548.5 340l3.5 2.5M562.8 352.1l3.6 3.9M544.6 351.3l1.9-6.6M552 342.5l3.6 2.8M559.2 348.6l3.6 3.5M557.3 353.1l1.9-4.5M555.6 345.3l3.6 3.3M555.3 359.3l2-6.2"/>
<path class="e" d="M532.9 284.6l0.8-1.6M532.2 285.7l0.7-1.1M531.4 286.5l0.8-0.8M530.6 287.4l0.8-0.9M529.8 288.2l0.8-0.8M529 288.9l0.8-0.7M533.7 283l0.5-7.9M534.2 275.1l2.7-15.4M528.2 289.7l0.8-0.8M527.3 290.5l0.9-0.8M526.5 291.3l0.8-0.8M525.7 292l0.8-0.7M524.9 292.8l0.8-0.8M523.6 293.9l1.3-1.1M522.4 295l1.2-1.1M540.6 234.7l-0.9-0.3M537.4 256.6l2.3-22.2M539.7 234.4l1 0.2M521.1 296.2l1.3-1.2M519.9 297.3l1.2-1.1M517.3 299.7l2.6-2.4M544.4 236.1l-3.8-1.4M540.7 234.6l4.2 1.1M514.8 302l2.5-2.3M548.5 237.4l-4.1-1.3M544.9 235.7l4.2 1.1M512.1 304.4l2.7-2.4M551.2 238.2l-2.7-0.8M549.1 236.8l2.8 0.8M509.5 306.8l2.6-2.4M554 239l-2.8-0.8M551.9 237.6l2.8 0.7M506.9 309.3l2.6-2.5M562.5 241.4l-1.3-0.5M556.8 239.7l-2.8-0.7M554.7 238.3l2.9 0.8M504.2 311.7l2.7-2.4M565.2 242.2l-2.7-0.8M568 243.1l-2.8-0.9M559.7 240.5l-2.9-0.8M557.6 239.1l2.9 0.7M501.4 314.2l2.8-2.5M570.8 243.9l-2.8-0.8M561.2 240.9l-1.5-0.4M560.5 239.8l2.8 0.8M498.7 316.7l2.7-2.5M573.7 244.8l-2.9-0.9M563.3 240.6l2.9 0.7M566.2 241.3l2.9 0.8M576.5 245.6l-2.8-0.8M495.9 319.3l2.8-2.6M569.1 242.1l2.9 0.8M579.4 246.4l-2.9-0.8M572 242.9l2.9 0.7M574.9 243.6l2.9 0.8M582.3 247.3l-2.9-0.9M493.1 321.9l2.8-2.6M577.8 244.4l3 0.8M585.3 248.1l-3-0.8M580.8 245.2l2.9 0.7M671.4 325.5l0.8-2.5M670.8 326.9l0.6-1.4M490.2 324.6l2.9-2.7M583.7 245.9l3 0.8M588.2 248.9l-2.9-0.8M670.1 328.1l0.7-1.2M586.7 246.7l3 0.8M669.5 329.1l0.6-1M591.2 249.7l-3-0.8M589.7 247.5l3 0.8M668.9 330.1l0.6-1M487.3 327.2l2.9-2.6M594.2 250.5l-3-0.8M592.7 248.3l3 0.8M668.3 331.1l0.6-1M597.2 251.3l-3-0.8M595.7 249.1l3 0.8M667.7 332l0.6-0.9M598.7 249.9l3 0.7M600.2 252.1l-3-0.8M484.4 329.9l2.9-2.7M667 333l0.7-1M672.2 323l2-14.7M671.7 283.9l2.5 24.4M601.7 250.6l3 0.8M603.3 252.9l-3.1-0.8M666.4 333.9l0.6-0.9M604.7 251.4l3.1 0.8M606.3 253.7l-3-0.8M665.8 334.9l0.6-1M481.5 332.7l2.9-2.8M607.8 252.2l3 0.9M609.4 254.5l-3.1-0.8M665.2 335.8l0.6-0.9M612.5 255.3l-3.1-0.8M610.8 253.1l3.1 0.8M615.6 256.1l-3.1-0.8M664.2 337.2l1-1.4M613.9 253.9l3.1 0.8M618.7 256.9l-3.1-0.8M478.5 335.4l3-2.7M621.9 257.7l-3.2-0.8M617 254.7l3.1 0.8M625.1 258.5l-3.2-0.8M671 268.9l-3.1-0.5M668.1 268.1l2.9 0.8M671 268.9l0.7 15M663.3 338.5l0.9-1.3M628.2 259.3l-3.1-0.8M646.2 263.3l-1.6-0.3M631.5 260.1l-3.3-0.8M634.7 260.8l-3.2-0.7M620.1 255.5l3.1 0.8M637.9 261.6l-3.2-0.8M641.2 262.3l-3.3-0.7M644.6 263l-3.4-0.7M623.2 256.3l3.1 0.8M662.3 339.9l1-1.4M475.4 338.3l3.1-2.9M626.3 257.1l3.2 0.8M667.9 268.4l-5.1-1.1M663.2 266.8l4.9 1.3M629.5 257.9l3.1 0.9M661.4 341.3l0.9-1.4M662.8 267.3l-5.1-1.1M658.3 265.5l4.9 1.3M632.6 258.8l3.2 0.8M657.7 266.2l-3.3-0.8M655 264.7l3.3 0.8M472.4 341.1l3-2.8M635.8 259.6l3.1 0.8M654.4 265.4l-3.3-0.8M651.8 263.8l3.2 0.9M659.5 344.1l1.9-2.8M638.9 260.4l3.2 0.9M651.1 264.6l-3.2-0.9M648.5 263l3.3 0.8M642.1 261.3l3.2 0.8M647.9 263.7l-1.7-0.4M645.3 262.1l3.2 0.9M469.3 344l3.1-2.9M657.5 346.9l2-2.8M466.1 346.9l3.2-2.9M463 349.9l3.1-3M655.5 349.8l2-2.9M459.7 352.9l3.3-3M653.5 352.6l2-2.8M456.5 355.9l3.2-3M651.5 355.3l2-2.7M454.3 358l2.2-2.1M452.1 360.1l2.2-2.1M649.5 358.1l2-2.8M449.9 362.2l2.2-2.1M448.2 363.9l1.7-1.7M446.5 365.5l1.7-1.6M647.4 360.9l2.1-2.8M444.8 367.2l1.7-1.7M443.1 368.9l1.7-1.7M443.1 368.9l4.5 1.7M645.3 363.7l2.1-2.8M447.6 370.6l4.4 1.6M452 372.2l4.5 1.6M643.2 366.7l2.1-3M456.5 373.8l4.6 1.6M641.1 369.7l2.1-3M461.1 375.4l3 1.1M464.1 376.5l3 1M638.9 372.9l2.2-3.2M467.1 377.5l3.1 1.1M470.2 378.6l3.1 1M636.7 376l2.2-3.1M473.3 379.6l3.1 1.1M476.4 380.7l3.1 1M634.4 379.3l2.3-3.3M479.5 381.7l3.1 1.1M482.6 382.8l3.1 1.1M632.1 382.6l2.3-3.3M485.7 383.9l3.2 1M488.9 384.9l3.1 1.1M629.8 386l2.3-3.4M492 386l3.2 1.1M495.2 387.1l3.2 1.1M627.5 389.4l2.3-3.4M498.4 388.2l3.2 1.1M501.6 389.3l3.3 1.1M625.1 392.9l2.4-3.5M504.9 390.4l3.2 1.2M508.1 391.6l3.3 1.1M622.7 396.5l2.4-3.6M511.4 392.7l3.3 1.2M514.7 393.9l3.3 1.2M620.2 400.1l2.5-3.6M518 395.1l3.3 1.2M521.3 396.3l3.3 1.2M617.7 403.8l2.5-3.7M524.6 397.5l3.3 1.3M527.9 398.8l3.4 1.3M531.3 400.1l3.4 1.3M615.2 407.6l2.5-3.8M534.7 401.4l3.4 1.3M538.1 402.7l3.4 1.4M541.5 404.1l3.4 1.4M612.7 411.5l2.5-3.9M544.9 405.5l3.5 1.4M548.4 406.9l3.5 1.4M611 414.2l1.7-2.7M551.9 408.3l3.4 1.5M555.3 409.8l3.5 1.4M558.8 411.2l3.5 1.5M609.2 416.9l1.8-2.7M562.3 412.7l3.6 1.5M565.9 414.2l3.5 1.6M569.4 415.8l3.6 1.5M607.4 419.8l1.8-2.9M573 417.3l3.5 1.5M576.5 418.8l3.6 1.6M606.1 422l1.3-2.2M580.1 420.4l5.5 2.3M585.6 422.7l5.4 2.3M604.8 424.4l1.3-2.4M591 425l5.5 2.3M603.4 426.9l1.4-2.5M602 429.6l1.4-2.7M596.5 427.3l5.5 2.3"/>
<path d="M427.6 310.9L437.1 371.4M682.2 269.3L676 326.6M427.6 310.9L529.4 229.5M529.4 229.5L682.2 269.3M606 372L427.6 310.9M606 372L682.2 269.3M606 372L603.8 435.6M603.8 435.6L437.1 371.4M603.8 435.6L676 326.6" stroke="#777" stroke-width="0.7" fill="none"/>
<text x="398.6" y="277.3" font-size="11.3">−Π</text>
<text x="413.5" y="280" font-size="7.2">0</text>
<text x="413.7" y="269.8" font-size="7.2" font-style="italic">ζ</text>
<text x="425" y="315.2" font-size="7.3" text-anchor="end">0.000020</text>
<text x="426.8" y="329.6" font-size="7.3" text-anchor="end">0.000015</text>
<text x="429" y="343.2" font-size="7.3" text-anchor="end">0.000010</text>
<text x="433" y="370" font-size="7.3" text-anchor="end">0.000000</text>
<text x="431" y="357" font-size="7.3" text-anchor="end">5.&#8201;×&#8201;10<tspan font-size="5.2" dy="-3">−6</tspan></text>
<text x="434.6" y="382" font-size="7.3" text-anchor="middle">0</text>
<text x="610" y="439.2" font-size="7.3" text-anchor="middle">0</text>
<text x="485.6" y="400.8" font-size="7.6" font-style="italic" text-anchor="middle">π</text>
<path d="M483.1 406.6h5" stroke="#111" stroke-width="1"/>
<text x="485.6" y="417.7" font-size="7.6" text-anchor="middle">6</text>
<text x="542.5" y="422.5" font-size="7.6" font-style="italic" text-anchor="middle">π</text>
<path d="M540 427.7h5" stroke="#111" stroke-width="1"/>
<text x="542.5" y="439.1" font-size="7.6" text-anchor="middle">3</text>
<text x="635.4" y="397.8" font-size="7.6" font-style="italic" text-anchor="middle">π</text>
<path d="M632.9 403h5" stroke="#111" stroke-width="1"/>
<text x="635.4" y="414.3" font-size="7.6" text-anchor="middle">6</text>
<text x="656" y="365.2" font-size="7.6" font-style="italic" text-anchor="middle">π</text>
<path d="M653.5 371h5" stroke="#111" stroke-width="1"/>
<text x="656" y="382.3" font-size="7.6" text-anchor="middle">3</text>
<text x="673.6" y="337.2" font-size="7.6" font-style="italic" text-anchor="middle">π</text>
<path d="M671.1 343h5" stroke="#111" stroke-width="1"/>
<text x="673.6" y="354.3" font-size="7.6" text-anchor="middle">2</text>
<text x="515.6" y="422.4" font-size="10" text-anchor="middle" font-style="italic">ρ</text>
<text x="667.6" y="404.6" font-size="10" text-anchor="middle" font-style="italic">ζ</text>
<path d="M437.1 371.4L440.6 368.2M491.3 392.2L494.5 388.8M549.3 414.6L552.2 410.9M603.8 435.6L598.2 433.5M628.4 398.5L623.1 396.7M649.5 366.6L644.5 365M668.6 337.8L663.8 336.3M436.6 368L440.3 369.4M436.2 365.3L438.1 366.1M435.8 362.7L437.7 363.4M435.4 360L437.3 360.8M434.9 357.3L436.9 358.1M434.5 354.7L438.3 356.1M434.1 351.9L436.1 352.7M433.7 349.2L435.6 349.9M433.2 346.5L435.2 347.2M432.8 343.7L434.8 344.4M432.4 340.9L436.2 342.3M431.9 338.1L433.9 338.9M431.5 335.3L433.5 336.1M431 332.5L433 333.2M430.6 329.7L432.6 330.4M430.1 326.8L434 328.2M429.7 323.9L431.7 324.6M429.2 321L431.3 321.7M428.8 318.1L430.8 318.8M428.3 315.2L430.3 315.9M427.8 312.2L431.8 313.6" stroke="#666" stroke-width="0.5" fill="none"/>
<path d="M523 465.2L524.9 521.5M524.9 521.5L427.1 613.7M524.9 521.5L675.9 566.3" stroke="#777" stroke-width="0.7" fill="none"/>
<path fill="#007bd4" d="M524.5 498.6l9.6 1.5l1-2.3l-9.3-0.7z"/>
<path fill="#0088d5" d="M523.9 499.2l9.6 2.1l1-2l-9.3-1.5z"/>
<path fill="#0095d5" d="M523.2 499.8l9.6 2.4l1.2-1.7l-9.4-2z"/>
<path fill="#009ad4" d="M522.6 500.4l9.6 2.6l1.2-1.6l-9.4-2.3z"/>
<path fill="#009dd3" d="M522 501l9.5 2.7l1.3-1.5l-9.4-2.5z"/>
<path fill="#009ed2" d="M521.4 501.5l9.5 2.8l1.3-1.4l-9.4-2.7z"/>
<path fill="#009fd2" d="M520.7 502.1l9.6 2.8l1.3-1.3l-9.5-2.8z"/>
<path fill="#004eb9" d="M533.2 500l9.5 0.8l0.9-3.4l-9.5 0.4z"/>
<path fill="#0061c3" d="M532.6 501.2l9.5 1.7l0.9-3l-9.4-0.7z"/>
<path fill="#00a0d1" d="M520.1 502.7l9.6 2.9l1.3-1.4l-9.5-2.8z"/>
<path fill="#0080d2" d="M531.9 502l9.6 2.2l1-2.2l-9.5-1.7z"/>
<path fill="#0090d5" d="M531.2 502.7l9.6 2.5l1.1-1.8l-9.5-2.2z"/>
<path fill="#00a0d1" d="M519.3 503.4l9.5 3l1.6-1.5l-9.5-2.9z"/>
<path fill="#0097d5" d="M530.6 503.4l9.6 2.7l1.2-1.7l-9.5-2.4z"/>
<path fill="#00a1d0" d="M518.4 504.2l9.6 3l1.6-1.5l-9.6-3z"/>
<path fill="#009cd4" d="M529.9 504l9.7 2.8l1.2-1.5l-9.5-2.7z"/>
<path fill="#009dd3" d="M529.3 504.7l9.6 2.9l1.3-1.5l-9.6-2.8z"/>
<path fill="#00a1d0" d="M517.5 504.9l9.6 3l1.7-1.4l-9.6-3z"/>
<path fill="#009fd3" d="M528.7 505.3l9.6 3l1.3-1.5l-9.6-2.9z"/>
<path fill="#00a1cf" d="M516.7 505.7l9.6 3l1.6-1.5l-9.6-2.9z"/>
<path fill="#0042aa" d="M541.2 502.7l9.7 1.4l0.7-3.9l-9.5-0.3z"/>
<path fill="#0064c2" d="M540.6 504l9.6 2l0.9-2.8l-9.6-1.3z"/>
<path fill="#00a0d2" d="M527.8 506.1l9.7 3.1l1.5-1.6l-9.6-3z"/>
<path fill="#007dcf" d="M539.9 505l9.7 2.5l0.9-2.3l-9.5-2z"/>
<path fill="#00329e" d="M541.8 500.8l9.7 0.3l0.7-4.8l-9.6 1.2z"/>
<path fill="#00a1cf" d="M515.8 506.5l9.6 2.9l1.7-1.4l-9.6-3z"/>
<path fill="#008dd4" d="M539.3 505.8l9.6 2.8l1.1-2l-9.6-2.4z"/>
<path fill="#00a2d0" d="M527 506.8l9.6 3.2l1.6-1.5l-9.6-3.1z"/>
<path fill="#0097d5" d="M538.6 506.6l9.7 2.9l1.1-1.7l-9.6-2.7z"/>
<path fill="#00a0cf" d="M515 507.2l9.6 2.9l1.6-1.4l-9.6-2.9z"/>
<path fill="#009ad4" d="M538 507.3l9.7 3l1.2-1.6l-9.7-2.9z"/>
<path fill="#00a2cf" d="M526.1 507.6l9.7 3.1l1.6-1.5l-9.6-3.1z"/>
<path fill="#009dd4" d="M537.4 508l9.7 3.1l1.2-1.6l-9.7-2.9z"/>
<path fill="#00a0cf" d="M513.7 508.4l9.6 2.9l2.1-1.9l-9.6-2.9z"/>
<path fill="#00a2cf" d="M525.3 508.3l9.7 3.2l1.6-1.5l-9.7-3.1z"/>
<path fill="#009fd3" d="M536.5 508.9l9.8 3.2l1.4-1.8l-9.7-3z"/>
<path fill="#004baf" d="M549.3 505.9l9.8 1.9l0.8-3.6l-9.7-1.1z"/>
<path fill="#0067c2" d="M548.7 507.2l9.7 2.4l0.9-2.7l-9.7-1.9z"/>
<path fill="#00a2cf" d="M524.4 509.1l9.7 3.2l1.6-1.5l-9.6-3.2z"/>
<path fill="#007ecf" d="M548.1 508.3l9.7 2.7l1-2.2l-9.7-2.4z"/>
<path fill="#003098" d="M550 504l9.7 1.1l0.8-5.1l-9.8 0.1z"/>
<path fill="#009fce" d="M512.4 509.5l9.6 3l2.1-1.9l-9.6-2.9z"/>
<path fill="#00a2d1" d="M535.7 509.6l9.7 3.4l1.5-1.7l-9.7-3.2z"/>
<path fill="#008fd4" d="M547.4 509.2l9.8 2.9l1-1.9l-9.7-2.7z"/>
<path fill="#00a2ce" d="M523.6 509.8l9.7 3.3l1.6-1.5l-9.7-3.2z"/>
<path fill="#00248f" d="M550.6 501l9.7-0.1l0.8-6.3l-9.8 1.8z"/>
<path fill="#0095d4" d="M546.8 510l9.8 3.1l1-1.8l-9.7-2.9z"/>
<path fill="#00a3d0" d="M534.9 510.4l9.7 3.5l1.5-1.7l-9.7-3.3z"/>
<path fill="#009fce" d="M511.1 510.7l9.6 3l2.1-1.9l-9.6-3z"/>
<path fill="#0099d4" d="M546.2 510.8l9.7 3.3l1.2-1.8l-9.7-3.1z"/>
<path fill="#00a1ce" d="M522.3 511l9.7 3.3l2-1.9l-9.6-3.3z"/>
<path fill="#00a4cf" d="M534 511.2l9.8 3.5l1.5-1.6l-9.7-3.4z"/>
<path fill="#009ed3" d="M545.3 511.8l9.8 3.4l1.4-1.9l-9.7-3.3z"/>
<path fill="#009fce" d="M509.7 511.9l9.7 3l2.1-1.9l-9.6-3z"/>
<path fill="#00a4cf" d="M533.2 512l9.8 3.6l1.5-1.6l-9.7-3.5z"/>
<path fill="#0053b3" d="M557.6 509.4l9.8 2.4l0.8-3.3l-9.8-1.8z"/>
<path fill="#00a1d2" d="M544.5 512.6l9.8 3.6l1.4-1.8l-9.7-3.4z"/>
<path fill="#006dc4" d="M556.9 510.8l9.9 2.8l0.9-2.7l-9.8-2.3z"/>
<path fill="#003ba0" d="M558.2 507.6l9.8 1.8l0.8-4.3l-9.8-0.9z"/>
<path fill="#00a1ce" d="M521 512.2l9.8 3.3l2-1.9l-9.7-3.3z"/>
<path fill="#0083cf" d="M556.3 511.9l9.8 3l1-2.2l-9.8-2.7z"/>
<path fill="#00a4ce" d="M532.4 512.7l9.7 3.7l1.5-1.5l-9.7-3.6z"/>
<path fill="#008cd2" d="M555.7 512.8l9.8 3.3l1-2l-9.8-3z"/>
<path fill="#00a3d1" d="M543.7 513.5l9.8 3.8l1.4-1.8l-9.7-3.6z"/>
<path fill="#00258c" d="M558.8 505l9.9 1l0.8-6.4l-9.9 0.4z"/>
<path fill="#0093d3" d="M555.1 513.7l9.8 3.5l1-1.9l-9.7-3.2z"/>
<path fill="#009fce" d="M508 513.5l9.7 3l2.5-2.3l-9.7-3z"/>
<path fill="#00a0cd" d="M519.8 513.4l9.7 3.3l2-1.9l-9.7-3.3z"/>
<path fill="#00a4d0" d="M542.9 514.4l9.8 3.9l1.4-1.8l-9.7-3.7z"/>
<path fill="#00a3ce" d="M531.1 513.9l9.8 3.7l1.9-1.9l-9.7-3.6z"/>
<path fill="#009ad3" d="M554.3 514.9l9.8 3.6l1.3-2.1l-9.8-3.4z"/>
<path fill="#0060bc" d="M565.9 513.3l5.4 1.5l0.9-2.8l-5.4-1.3z"/>
<path fill="#0048aa" d="M566.5 511.6l5.4 1.3l0.8-3.6l-5.4-0.9z"/>
<path fill="#002485" d="M559.4 500.9l10-0.4l0.7-8l-9.9 2.3z"/>
<path fill="#0078c9" d="M565.3 514.6l5.3 1.7l1-2.3l-5.4-1.5z"/>
<path fill="#00a5cf" d="M542.1 515.2l9.8 4l1.4-1.7l-9.8-3.8z"/>
<path fill="#009ed3" d="M553.4 515.9l9.9 3.8l1.3-2l-9.8-3.6z"/>
<path fill="#003298" d="M567.2 509.3l5.4 0.9l0.8-4.7l-5.5-0.5z"/>
<path fill="#0083ce" d="M564.7 515.8l5.3 1.9l1-2.2l-5.4-1.7z"/>
<path fill="#00a0cd" d="M518.5 514.5l9.7 3.4l2-1.9l-9.7-3.3z"/>
<path fill="#009fce" d="M506.2 515.1l9.7 3l2.5-2.3l-9.6-3z"/>
<path fill="#00a3cd" d="M529.8 515.1l9.8 3.8l2-1.9l-9.8-3.8z"/>
<path fill="#008cd0" d="M564 516.9l5.4 2l1-2.1l-5.3-1.8z"/>
<path fill="#00a5ce" d="M541.2 516.1l9.8 4.1l1.5-1.7l-9.8-4z"/>
<path fill="#00a0d2" d="M552.6 516.9l9.9 4l1.3-1.9l-9.8-3.9z"/>
<path fill="#0059b6" d="M570.4 514.6l5.4 1.5l0.9-3l-5.4-1.3z"/>
<path fill="#0095d2" d="M563.2 518.2l5.4 2.1l1.2-2.3l-5.3-1.9z"/>
<path fill="#002487" d="M567.8 505.9l5.4 0.5l0.8-7.1l-5.4 0.4z"/>
<path fill="#0042a4" d="M571 512.7l5.5 1.3l0.8-3.9l-5.4-0.9z"/>
<path fill="#0070c4" d="M569.8 516l5.4 1.7l0.9-2.5l-5.4-1.5z"/>
<path fill="#007cca" d="M569.2 517.4l5.4 1.8l0.9-2.3l-5.4-1.7z"/>
<path fill="#00a2d0" d="M551.8 517.9l9.9 4.2l1.3-1.9l-9.8-4z"/>
<path fill="#002e93" d="M571.7 510.1l5.4 0.9l0.8-5.1l-5.4-0.5z"/>
<path fill="#009bd2" d="M562.4 519.4l5.4 2.2l1.3-2.1l-5.4-2.1z"/>
<path fill="#0086cd" d="M568.6 518.5l5.4 2l0.9-2.1l-5.3-1.9z"/>
<path fill="#00a5cd" d="M540 517.3l9.8 4.1l1.9-1.9l-9.8-4.1z"/>
<path fill="#00a0cd" d="M516.7 516.2l9.8 3.3l2.5-2.3l-9.8-3.3z"/>
<path fill="#00a2cd" d="M528.6 516.3l9.8 3.8l1.9-1.9l-9.7-3.8z"/>
<path fill="#009fce" d="M504.4 516.7l9.7 3l2.6-2.3l-9.7-3z"/>
<path fill="#00a4cf" d="M551 518.9l9.9 4.3l1.3-1.8l-9.8-4.2z"/>
<path fill="#0090d0" d="M567.8 520l5.4 2.1l1.2-2.4l-5.4-2z"/>
<path fill="#0052b0" d="M575 515.9l5.4 1.5l0.8-3.3l-5.4-1.2z"/>
<path fill="#009dd1" d="M561.6 520.6l5.4 2.3l1.3-2.1l-5.4-2.2z"/>
<path fill="#0068bf" d="M574.3 517.5l5.5 1.7l0.9-2.7l-5.5-1.5z"/>
<path fill="#003d9f" d="M575.6 513.7l5.4 1.3l0.9-4.1l-5.5-0.9z"/>
<path fill="#0074c5" d="M573.7 518.9l5.4 1.9l1-2.5l-5.4-1.7z"/>
<path fill="#0098d1" d="M567 521.3l5.4 2.2l1.2-2.2l-5.4-2.1z"/>
<path fill="#0080ca" d="M573.1 520.2l5.4 2.1l1-2.3l-5.4-1.9z"/>
<path fill="#002481" d="M568.5 500.6l5.4-0.4l0.9-8.8l-5.6 1.3z"/>
<path fill="#002484" d="M572.3 506.3l5.5 0.5l0.8-7.8l-5.5 0.4z"/>
<path fill="#00a5ce" d="M550.2 519.8l9.9 4.5l1.3-1.8l-9.8-4.3z"/>
<path fill="#00a4cc" d="M538.7 518.5l9.9 4.2l1.9-2l-9.8-4.1z"/>
<path fill="#00a2cd" d="M527.3 517.5l9.8 3.8l2-1.9l-9.8-3.8z"/>
<path fill="#00a0d0" d="M560.8 521.8l5.4 2.4l1.3-2.1l-5.3-2.3z"/>
<path fill="#002b8f" d="M576.2 510.9l5.5 0.9l0.8-5.5l-5.5-0.5z"/>
<path fill="#008bce" d="M572.3 521.8l5.4 2.2l1.2-2.6l-5.4-2z"/>
<path fill="#00a0cd" d="M514.9 517.8l9.8 3.3l2.5-2.3l-9.7-3.3z"/>
<path fill="#009bd0" d="M566.2 522.5l5.4 2.4l1.2-2.2l-5.4-2.2z"/>
<path fill="#0061ba" d="M578.9 518.9l5.5 1.8l0.8-2.9l-5.4-1.5z"/>
<path fill="#004cab" d="M579.5 517.1l5.5 1.6l0.8-3.5l-5.4-1.3z"/>
<path fill="#00a2cf" d="M560 522.9l5.4 2.4l1.3-1.9l-5.3-2.4z"/>
<path fill="#006dc0" d="M578.3 520.5l5.4 1.9l0.9-2.6l-5.4-1.7z"/>
<path fill="#0094d0" d="M571.5 523.2l5.4 2.3l1.2-2.3l-5.4-2.2z"/>
<path fill="#00a6cc" d="M548.9 521l9.9 4.6l1.9-2.1l-9.9-4.4z"/>
<path fill="#00399b" d="M580.2 514.8l5.4 1.3l0.9-4.4l-5.5-0.9z"/>
<path fill="#0079c6" d="M577.7 521.9l5.4 2.1l0.9-2.4l-5.4-1.9z"/>
<path fill="#009ecf" d="M565.4 523.8l5.4 2.5l1.2-2.2l-5.3-2.3z"/>
<path fill="#009fce" d="M501.7 519.1l9.8 3.1l3.4-3.2l-9.7-3z"/>
<path fill="#00a3cc" d="M537.5 519.7l9.8 4.2l2-1.9l-9.9-4.2z"/>
<path fill="#0085cb" d="M576.9 523.6l5.4 2.3l1.2-2.7l-5.5-2.1z"/>
<path fill="#0098cf" d="M570.7 524.5l5.4 2.5l1.2-2.3l-5.3-2.3z"/>
<path fill="#00a5ce" d="M559.2 523.9l5.4 2.5l1.3-1.8l-5.3-2.5z"/>
<path fill="#00a2cd" d="M525.5 519.2l9.9 3.8l2.4-2.4l-9.8-3.8z"/>
<path fill="#002481" d="M576.9 506.7l5.5 0.5l0.9-8.5l-5.6 0.4z"/>
<path fill="#00a1cf" d="M564.6 525l5.4 2.5l1.2-2l-5.3-2.5z"/>
<path fill="#00288c" d="M580.8 511.7l5.5 0.9l0.9-6l-5.6-0.4z"/>
<path fill="#005ab4" d="M583.5 520.4l5.5 1.7l0.8-3l-5.4-1.6z"/>
<path fill="#0091ce" d="M576.1 525.1l5.4 2.4l1.2-2.5l-5.4-2.2z"/>
<path fill="#06b" d="M582.9 522.1l5.4 2l0.9-2.8l-5.4-1.8z"/>
<path fill="#0047a7" d="M584.1 518.4l5.5 1.5l0.9-3.6l-5.5-1.3z"/>
<path fill="#00247f" d="M573 500.3l5.5-0.4l0.9-9.8l-5.6 1.5z"/>
<path fill="#009bcf" d="M569.9 525.9l5.4 2.5l1.3-2.2l-5.4-2.4z"/>
<path fill="#00a0cd" d="M513.2 519.4l9.8 3.4l2.5-2.4l-9.8-3.3z"/>
<path fill="#0072c1" d="M582.3 523.7l5.4 2.1l0.9-2.6l-5.4-1.9z"/>
<path fill="#00a5cc" d="M547.7 522.3l9.9 4.5l1.9-1.9l-9.9-4.5z"/>
<path fill="#003598" d="M584.8 515.9l5.5 1.3l0.8-4.6l-5.5-1z"/>
<path fill="#007fc8" d="M581.5 525.5l5.4 2.3l1.1-2.9l-5.4-2z"/>
<path fill="#0095ce" d="M575.3 526.6l5.4 2.4l1.2-2.3l-5.4-2.4z"/>
<path fill="#00a4ce" d="M563.8 526l5.3 2.6l1.4-1.9l-5.4-2.5z"/>
<path fill="#00a7cc" d="M558 525.2l5.4 2.6l1.8-2.1l-5.4-2.5z"/>
<path fill="#00a3cc" d="M536.2 520.9l9.9 4.2l1.9-1.9l-9.8-4.2z"/>
<path fill="#00a0ce" d="M569.1 527.1l5.4 2.6l1.3-2.1l-5.4-2.5z"/>
<path fill="#008ccc" d="M580.7 527.1l5.4 2.4l1.2-2.5l-5.5-2.3z"/>
<path fill="#0099ce" d="M574.5 528l5.4 2.6l1.2-2.4l-5.4-2.4z"/>
<path fill="#005fb6" d="M587.5 523.8l5.5 1.9l0.9-3l-5.5-1.7z"/>
<path fill="#0054b0" d="M588.1 521.9l5.5 1.7l0.9-3.2l-5.5-1.6z"/>
<path fill="#006bbd" d="M586.9 525.5l5.5 2.1l0.8-2.7l-5.4-2z"/>
<path fill="#00a2cd" d="M523.8 520.8l9.9 3.8l2.4-2.3l-9.8-3.8z"/>
<path fill="#0043a3" d="M588.7 519.7l5.6 1.5l0.8-3.8l-5.5-1.3z"/>
<path fill="#002589" d="M585.4 512.5l5.6 0.9l0.9-6.4l-5.6-0.4z"/>
<path fill="#0091cc" d="M579.9 528.7l5.4 2.5l1.2-2.5l-5.4-2.4z"/>
<path fill="#0079c4" d="M586.1 527.4l5.4 2.3l1.2-3l-5.5-2.1z"/>
<path fill="#00a4ce" d="M568.3 528.2l5.4 2.7l1.3-2l-5.4-2.5z"/>
<path fill="#00a7cc" d="M562.5 527.4l5.4 2.6l1.8-2.1l-5.4-2.6z"/>
<path fill="#00a4cc" d="M546.5 523.5l9.9 4.6l1.9-2l-9.9-4.5z"/>
<path fill="#00247f" d="M581.5 507.1l5.6 0.4l0.9-9.2l-5.6 0.4z"/>
<path fill="#009fce" d="M498.9 521.6l9.8 3.1l3.5-3.2l-9.7-3.1z"/>
<path fill="#009ece" d="M573.7 529.3l5.4 2.7l1.2-2.2l-5.3-2.6z"/>
<path fill="#003295" d="M589.4 517l5.5 1.3l0.9-4.9l-5.6-1z"/>
<path fill="#0088ca" d="M585.3 529.1l5.4 2.4l1.2-2.6l-5.5-2.3z"/>
<path fill="#00a6cb" d="M556.7 526.4l5.5 2.6l1.8-1.9l-5.4-2.6z"/>
<path fill="#0096cd" d="M579.1 530.2l5.4 2.6l1.2-2.4l-5.4-2.5z"/>
<path fill="#00a3cc" d="M534.5 522.6l9.9 4.2l2.4-2.4l-9.9-4.1z"/>
<path fill="#0059b2" d="M592.1 525.4l5.5 2l0.9-3.2l-5.5-1.7z"/>
<path fill="#00a0cd" d="M510.5 521.9l9.8 3.4l3.4-3.2l-9.8-3.4z"/>
<path fill="#00247d" d="M577.6 500l5.6-0.4l0.9-10.8l-5.6 1.6z"/>
<path fill="#0065b9" d="M591.5 527.3l5.5 2.1l0.9-2.9l-5.5-1.9z"/>
<path fill="#004fab" d="M592.8 523.3l5.5 1.8l0.9-3.4l-5.6-1.6z"/>
<path fill="#008ecb" d="M584.5 530.8l5.4 2.5l1.2-2.6l-5.4-2.4z"/>
<path fill="#00a3ce" d="M572.9 530.5l5.4 2.7l1.3-2l-5.4-2.6z"/>
<path fill="#0073c1" d="M590.7 529.4l5.5 2.3l1.1-3.2l-5.5-2.1z"/>
<path fill="#00a7cc" d="M567.1 529.6l5.4 2.7l1.8-2.1l-5.4-2.7z"/>
<path fill="#009ccd" d="M578.3 531.6l5.4 2.6l1.2-2.2l-5.4-2.6z"/>
<path fill="#003f9f" d="M593.4 521l5.5 1.6l0.9-4.1l-5.6-1.3z"/>
<path fill="#0084c8" d="M589.9 531.2l5.5 2.4l1.1-2.8l-5.5-2.3z"/>
<path fill="#00a6cb" d="M561.3 528.6l5.4 2.7l1.9-2l-5.4-2.6z"/>
<path fill="#0093cc" d="M583.7 532.4l5.4 2.6l1.2-2.5l-5.4-2.5z"/>
<path fill="#00a4cc" d="M545.2 524.7l10 4.6l1.9-1.9l-10-4.6z"/>
<path fill="#002487" d="M590.1 513.3l5.6 1l0.9-6.9l-5.6-0.4z"/>
<path fill="#00a2cd" d="M522.1 522.4l9.9 3.9l2.4-2.4l-9.9-3.8z"/>
<path fill="#00a4cb" d="M555.5 527.7l5.4 2.6l1.9-2l-5.4-2.6z"/>
<path fill="#002f92" d="M594.1 518.1l5.5 1.3l0.9-5.2l-5.6-1z"/>
<path fill="#00a2ce" d="M577.5 532.8l5.4 2.7l1.3-2.1l-5.4-2.6z"/>
<path fill="#008aca" d="M589.1 532.9l5.5 2.5l1.1-2.7l-5.4-2.4z"/>
<path fill="#005fb5" d="M596.2 529l5.5 2.1l0.9-3l-5.6-1.9z"/>
<path fill="#0054ae" d="M596.8 527.1l5.5 1.9l0.9-3.3l-5.5-1.7z"/>
<path fill="#00a7cc" d="M571.7 531.9l5.4 2.7l1.7-2.2l-5.4-2.7z"/>
<path fill="#006ebd" d="M595.4 531.3l5.5 2.3l1.1-3.3l-5.5-2.1z"/>
<path fill="#009acd" d="M582.9 533.8l5.4 2.7l1.2-2.4l-5.4-2.5z"/>
<path fill="#00247d" d="M586.2 507.5l5.6 0.4l0.9-9.9l-5.6 0.4z"/>
<path fill="#004aa7" d="M597.4 524.8l5.6 1.8l0.9-3.6l-5.6-1.6z"/>
<path fill="#007fc6" d="M594.5 533.2l5.5 2.4l1.2-2.9l-5.5-2.2z"/>
<path fill="#0090cb" d="M588.3 534.6l5.5 2.5l1.1-2.5l-5.4-2.5z"/>
<path fill="#00a7cb" d="M565.9 530.8l5.4 2.7l1.8-1.9l-5.4-2.7z"/>
<path fill="#003c9c" d="M598.1 522.3l5.6 1.6l0.8-4.3l-5.6-1.3z"/>
<path fill="#00a3cc" d="M532.8 524.2l9.9 4.3l2.4-2.4l-9.9-4.2z"/>
<path fill="#00a1ce" d="M582.1 535.1l5.4 2.7l1.3-2.1l-5.4-2.7z"/>
<path fill="#0086c8" d="M593.8 535l5.4 2.5l1.2-2.7l-5.5-2.4z"/>
<path fill="#009fce" d="M496.1 524.1l9.9 3.1l3.5-3.2l-9.8-3.1z"/>
<path fill="#00a5cb" d="M560.1 529.9l5.4 2.6l1.9-1.9l-5.4-2.7z"/>
<path fill="#00a7cc" d="M576.3 534.2l5.4 2.7l1.7-2.2l-5.4-2.7z"/>
<path fill="#0098cd" d="M587.5 536.1l5.5 2.6l1.2-2.4l-5.5-2.5z"/>
<path fill="#005ab1" d="M600.8 530.8l5.6 2.1l0.9-3.1l-5.6-2z"/>
<path fill="#0069ba" d="M600 533.2l5.6 2.3l1.1-3.5l-5.6-2z"/>
<path fill="#004faa" d="M601.5 528.7l5.5 1.9l0.9-3.4l-5.6-1.8z"/>
<path fill="#00247b" d="M582.3 499.7l5.6-0.5l1-11.7l-5.7 1.6z"/>
<path fill="#00a4cc" d="M543.5 526.4l10 4.6l2.3-2.4l-9.9-4.5z"/>
<path fill="#002485" d="M594.8 514.1l5.6 1l0.9-7.3l-5.6-0.5z"/>
<path fill="#00a4cb" d="M554.3 528.9l5.4 2.6l1.9-1.9l-5.4-2.6z"/>
<path fill="#008dca" d="M593 536.8l5.5 2.5l1.1-2.6l-5.5-2.5z"/>
<path fill="#002d90" d="M598.8 519.2l5.6 1.3l0.9-5.4l-5.7-1z"/>
<path fill="#007bc4" d="M599.2 535.2l5.5 2.4l1.1-3l-5.5-2.2z"/>
<path fill="#0046a4" d="M602.1 526.3l5.6 1.8l0.9-3.8l-5.6-1.5z"/>
<path fill="#00a7cb" d="M570.5 533.1l5.4 2.8l1.8-2l-5.4-2.7z"/>
<path fill="#00a0cd" d="M507.8 524.4l9.9 3.4l3.4-3.2l-9.9-3.4z"/>
<path fill="#009fce" d="M586.7 537.4l5.5 2.7l1.2-2.2l-5.4-2.6z"/>
<path fill="#0083c7" d="M598.4 537.1l5.5 2.5l1.2-2.8l-5.6-2.4z"/>
<path fill="#00a7cc" d="M580.9 536.5l5.5 2.8l1.7-2.3l-5.5-2.7z"/>
<path fill="#0095cc" d="M592.2 538.3l5.5 2.7l1.1-2.5l-5.4-2.6z"/>
<path fill="#00399a" d="M602.8 523.6l5.6 1.6l0.9-4.4l-5.6-1.4z"/>
<path fill="#00a5cb" d="M564.7 532.1l5.4 2.7l1.8-1.9l-5.4-2.7z"/>
<path fill="#00a2cd" d="M519.4 524.9l9.9 3.9l3.4-3.2l-9.9-3.8z"/>
<path fill="#00247c" d="M590.9 507.8l5.6 0.5l1-10.7l-5.7 0.4z"/>
<path fill="#0064b7" d="M604.7 535.1l5.6 2.3l1.1-3.6l-5.6-2.1z"/>
<path fill="#0055ae" d="M605.5 532.6l5.6 2.1l0.9-3.3l-5.6-1.9z"/>
<path fill="#008ac9" d="M597.6 538.9l5.5 2.6l1.2-2.7l-5.5-2.5z"/>
<path fill="#004ba7" d="M606.2 530.3l5.6 2l0.9-3.6l-5.6-1.8z"/>
<path fill="#00a5cb" d="M558.9 531.1l5.4 2.7l1.9-2l-5.5-2.6z"/>
<path fill="#00a7cb" d="M575.1 535.4l5.4 2.8l1.8-2l-5.4-2.7z"/>
<path fill="#0077c2" d="M603.9 537.2l5.5 2.4l1.2-3.1l-5.6-2.2z"/>
<path fill="#00a3cc" d="M531.1 525.9l9.9 4.3l2.4-2.4l-9.9-4.2z"/>
<path fill="#009ece" d="M591.4 539.7l5.5 2.7l1.2-2.2l-5.5-2.7z"/>
<path fill="#0043a1" d="M606.8 527.8l5.7 1.8l0.8-3.9l-5.6-1.6z"/>
<path fill="#00a7cc" d="M585.5 538.9l5.5 2.7l1.7-2.3l-5.5-2.7z"/>
<path fill="#007fc5" d="M603.1 539.2l5.5 2.4l1.2-2.9l-5.6-2.3z"/>
<path fill="#0093cc" d="M596.8 540.6l5.5 2.6l1.2-2.5l-5.5-2.6z"/>
<path fill="#002b8e" d="M603.5 520.3l5.6 1.4l1-5.7l-5.7-1.1z"/>
<path fill="#00a5cb" d="M569.3 534.4l5.4 2.8l1.8-2l-5.4-2.8z"/>
<path fill="#002483" d="M599.5 515l5.6 1l1-7.7l-5.7-0.5z"/>
<path fill="#00a4cb" d="M552.7 530.6l5.4 2.6l2.3-2.3l-5.4-2.7z"/>
<path fill="#00a4cc" d="M541.8 528.1l10.1 4.6l2.3-2.4l-10-4.6z"/>
<path fill="#0087c8" d="M602.3 541.1l5.6 2.5l1.1-2.8l-5.6-2.4z"/>
<path fill="#0060b5" d="M609.4 537l5.6 2.2l1.1-3.7l-5.6-2z"/>
<path fill="#003798" d="M607.5 525l5.7 1.5l0.9-4.6l-5.7-1.3z"/>
<path fill="#0052ab" d="M610.3 534.3l5.6 2.1l0.9-3.4l-5.6-1.9z"/>
<path fill="#00a7cb" d="M579.7 537.8l5.5 2.8l1.7-2l-5.4-2.8z"/>
<path fill="#0073c0" d="M608.6 539.2l5.6 2.3l1.1-3.2l-5.6-2.1z"/>
<path fill="#00a5cb" d="M563.5 533.4l5.4 2.7l1.9-2l-5.5-2.7z"/>
<path fill="#009cce" d="M596.1 542l5.5 2.6l1.1-2.2l-5.4-2.6z"/>
<path fill="#e6e6e6" d="M593.3 488.3l0.8-0.8l-3.9-0.5z"/>
<path fill="#00247a" d="M587 499.3l5.7-0.4l0.9-11.4l-2.2-0.7l-3.4 1z"/>
<path fill="#0048a5" d="M610.9 532l5.6 1.9l0.9-3.7l-5.6-1.8z"/>
<path fill="#00a6cd" d="M590.2 541.2l5.5 2.7l1.7-2.3l-5.5-2.7z"/>
<path fill="#009fce" d="M493.3 526.6l9.9 3.2l3.6-3.3l-9.9-3.1z"/>
<path fill="#0091cb" d="M601.5 542.8l5.6 2.6l1.1-2.6l-5.5-2.5z"/>
<path fill="#007cc4" d="M607.8 541.3l5.6 2.4l1.1-3.1l-5.6-2.2z"/>
<path fill="#00a5cb" d="M573.9 536.7l5.5 2.8l1.8-2l-5.5-2.7z"/>
<path fill="#00409f" d="M611.6 529.3l5.6 1.7l0.9-4l-5.6-1.6z"/>
<path fill="#00247b" d="M595.6 508.2l5.6 0.5l1.2-11.4l-5.8 0.4z"/>
<path fill="#0084c7" d="M607 543.2l5.6 2.5l1.1-2.9l-5.6-2.4z"/>
<path fill="#00a5cb" d="M557.2 532.8l5.5 2.7l2.3-2.4l-5.5-2.7z"/>
<path fill="#00a7cb" d="M584.4 540.1l5.5 2.8l1.7-2l-5.5-2.8z"/>
<path fill="#005cb3" d="M614.2 538.9l5.6 2.1l1.1-3.8l-5.6-2z"/>
<path fill="#002a8c" d="M608.2 521.5l5.7 1.3l1-5.9l-5.7-1.1z"/>
<path fill="#009bce" d="M600.7 544.2l5.6 2.7l1.1-2.4l-5.5-2.5z"/>
<path fill="#006fbf" d="M613.4 541.2l5.6 2.2l1.1-3.3l-5.6-2.1z"/>
<path fill="#004ea9" d="M615 536.1l5.7 2l0.9-3.5l-5.7-1.9z"/>
<path fill="#00a0cd" d="M505 526.9l9.9 3.5l3.5-3.3l-9.9-3.4z"/>
<path fill="#00a5cb" d="M568.1 535.7l5.5 2.8l1.8-2l-5.5-2.8z"/>
<path fill="#00a6cd" d="M594.9 543.5l5.5 2.7l1.6-2.3l-5.5-2.7z"/>
<path fill="#008eca" d="M606.2 545l5.6 2.5l1.1-2.7l-5.5-2.4z"/>
<path fill="#003596" d="M612.3 526.3l5.7 1.6l0.9-4.8l-5.7-1.4z"/>
<path fill="#002482" d="M604.3 515.8l5.6 1.1l1.1-8.1l-5.8-0.6z"/>
<path fill="#0078c3" d="M612.6 543.3l5.6 2.3l1.1-3.1l-5.6-2.2z"/>
<path fill="#0045a2" d="M615.7 533.6l5.6 1.9l0.9-3.9l-5.6-1.7z"/>
<path fill="#00a5cb" d="M578.5 539.1l5.5 2.8l1.8-2l-5.5-2.8z"/>
<path fill="#00a2cd" d="M516.7 527.5l10 3.9l3.4-3.3l-10-3.8z"/>
<path fill="#00a3cc" d="M528.4 528.4l10.1 4.3l3.2-3.2l-9.9-4.3z"/>
<path fill="#00a4cb" d="M551 532.3l5.5 2.7l2.3-2.4l-5.5-2.7z"/>
<path fill="#0081c6" d="M611.8 545.3l5.6 2.4l1.1-2.9l-5.6-2.3z"/>
<path fill="#00a7cb" d="M589 542.5l5.5 2.8l1.8-2.1l-5.5-2.7z"/>
<path fill="#00a4cc" d="M540.1 529.8l10.1 4.6l2.3-2.4l-10-4.6z"/>
<path fill="#003e9d" d="M616.4 530.8l5.6 1.7l1-4.2l-5.7-1.5z"/>
<path fill="#00a5cb" d="M561.9 535.1l5.4 2.7l2.3-2.4l-5.5-2.7z"/>
<path fill="#0099ce" d="M605.5 546.5l5.5 2.5l1.2-2.3l-5.6-2.5z"/>
<path fill="#0059b1" d="M618.9 540.7l5.7 2l1.1-3.9l-5.7-1.9z"/>
<path fill="#00a5cd" d="M599.6 545.8l5.5 2.7l1.6-2.4l-5.5-2.6z"/>
<path fill="#006bbd" d="M618.1 543l5.7 2.2l1.1-3.3l-5.7-2.1z"/>
<path fill="#00a5cb" d="M572.7 538l5.5 2.8l1.8-2l-5.5-2.8z"/>
<path fill="#008bca" d="M611 547.1l5.6 2.5l1.1-2.7l-5.6-2.4z"/>
<path fill="#e6e6e6" d="M597.9 489.7l0.9-0.9l-5.7-1.5l-0.8 0.8z"/>
<path fill="#002478" d="M591.7 499l5.8-0.4l0.8-9.7l-5.5-1.6z"/>
<path fill="#004ca7" d="M619.8 537.8l5.7 1.9l0.9-3.5l-5.7-1.9z"/>
<path fill="#0075c1" d="M617.3 545.3l5.6 2.2l1.2-3.1l-5.7-2.2z"/>
<path fill="#00298a" d="M613 522.6l5.7 1.4l1-6.1l-5.7-1.1z"/>
<path fill="#00a5cb" d="M583.2 541.4l5.5 2.8l1.8-2l-5.5-2.8z"/>
<path fill="#0043a1" d="M620.5 535.2l5.7 1.8l0.9-3.9l-5.7-1.7z"/>
<path fill="#003394" d="M617.1 527.6l5.7 1.6l0.9-4.9l-5.7-1.4z"/>
<path fill="#00a6cb" d="M593.7 544.8l5.5 2.8l1.7-2.1l-5.5-2.7z"/>
<path fill="#007ec5" d="M616.5 547.4l5.6 2.3l1.2-3l-5.7-2.3z"/>
<path fill="#00247a" d="M600.3 508.7l5.7 0.5l1.3-12.1l-5.8 0.3z"/>
<path fill="#0097ce" d="M610.2 548.7l5.6 2.5l1.1-2.4l-5.6-2.5z"/>
<path fill="#00a5cb" d="M555.6 534.5l5.5 2.8l2.2-2.5l-5.4-2.7z"/>
<path fill="#00a5cb" d="M566.5 537.4l5.5 2.8l2.2-2.4l-5.5-2.8z"/>
<path fill="#00a4ce" d="M604.3 548.1l5.6 2.6l1.6-2.4l-5.6-2.6z"/>
<path fill="#002481" d="M609 516.7l5.7 1.1l1.1-8.4l-5.7-0.7z"/>
<path fill="#00a5cb" d="M577.4 540.4l5.5 2.8l1.7-2l-5.4-2.8z"/>
<path fill="#0089c9" d="M615.7 549.2l5.6 2.4l1.2-2.8l-5.6-2.3z"/>
<path fill="#0056af" d="M623.8 542.4l5.6 2l1.2-3.9l-5.7-1.9z"/>
<path fill="#003c9b" d="M621.2 532.3l5.7 1.7l0.9-4.3l-5.7-1.6z"/>
<path fill="#0068bc" d="M622.9 544.9l5.7 2.1l1.1-3.4l-5.7-2z"/>
<path fill="#009fce" d="M490.5 529.1l9.9 3.3l3.6-3.3l-9.9-3.2z"/>
<path fill="#0049a6" d="M624.6 539.4l5.7 1.9l0.9-3.6l-5.7-1.8z"/>
<path fill="#0072c0" d="M622.1 547.2l5.7 2.1l1.1-3.2l-5.7-2.1z"/>
<path fill="#00a5cb" d="M587.9 543.8l5.5 2.8l1.7-2.1l-5.5-2.7z"/>
<path fill="#00a6cc" d="M598.4 547.2l5.6 2.7l1.7-2.1l-5.6-2.7z"/>
<path fill="#007bc4" d="M621.3 549.3l5.7 2.3l1.1-3.1l-5.7-2.2z"/>
<path fill="#0095cd" d="M615 550.8l5.6 2.5l1.1-2.5l-5.6-2.4z"/>
<path fill="#00a4cb" d="M549.3 534l5.5 2.7l2.3-2.4l-5.4-2.7z"/>
<path fill="#00419f" d="M625.3 536.8l5.7 1.8l0.9-4l-5.7-1.7z"/>
<path fill="#00a3ce" d="M609 550.3l5.6 2.6l1.6-2.5l-5.6-2.5z"/>
<path fill="#002889" d="M617.8 523.8l5.8 1.4l1-6.3l-5.8-1.2z"/>
<path fill="#003293" d="M621.9 529l5.7 1.6l1-5l-5.7-1.5z"/>
<path fill="#00a5cb" d="M571.1 539.8l5.5 2.8l2.2-2.5l-5.4-2.8z"/>
<path fill="#00a5cb" d="M560.2 536.8l5.5 2.8l2.3-2.4l-5.5-2.8z"/>
<path fill="#00a5cb" d="M582 542.8l5.6 2.8l1.7-2.1l-5.5-2.8z"/>
<path fill="#00a0cd" d="M502.2 529.4l10 3.6l3.5-3.3l-9.9-3.5z"/>
<path fill="#0086c9" d="M620.5 551.3l5.7 2.3l1.1-2.9l-5.7-2.2z"/>
<path fill="#e6e6e6" d="M602.7 491.1l0.9-1.1l-5.8-1.5l-0.8 0.9z"/>
<path fill="#002477" d="M596.5 498.6l5.8-0.4l0.7-8l-5.6-1.6z"/>
<path fill="#0065ba" d="M627.7 546.7l5.8 2l1.1-3.5l-5.8-1.9z"/>
<path fill="#0054ae" d="M628.6 544.1l5.7 2l1.1-4.1l-5.7-1.8z"/>
<path fill="#00a5cb" d="M592.6 546.2l5.5 2.8l1.7-2.1l-5.5-2.8z"/>
<path fill="#003a9a" d="M626 533.7l5.8 1.8l0.9-4.4l-5.8-1.6z"/>
<path fill="#006fbf" d="M626.9 549l5.7 2.1l1.1-3.3l-5.7-2z"/>
<path fill="#00a4cc" d="M537.6 532.3l10.1 4.7l3.1-3.2l-10-4.7z"/>
<path fill="#00a5cc" d="M603.1 549.5l5.6 2.7l1.7-2.2l-5.6-2.6z"/>
<path fill="#0048a5" d="M629.5 541l5.7 1.9l0.9-3.7l-5.7-1.8z"/>
<path fill="#00a2cd" d="M514 530l10 4l3.4-3.3l-9.9-3.9z"/>
<path fill="#0092cd" d="M619.7 552.9l5.7 2.4l1.1-2.6l-5.6-2.3z"/>
<path fill="#002480" d="M613.9 517.7l5.7 1.1l1.1-8.8l-5.8-0.7z"/>
<path fill="#0078c3" d="M626.1 551.2l5.7 2.2l1.1-3.2l-5.7-2z"/>
<path fill="#00a3cc" d="M525.8 531l10 4.3l3.3-3.2l-10-4.3z"/>
<path fill="#00a2cf" d="M613.8 552.5l5.6 2.6l1.6-2.6l-5.6-2.5z"/>
<path fill="#002479" d="M605.1 509.1l5.8 0.6l1.3-12.8l-5.9 0.2z"/>
<path fill="#00a5cb" d="M553.9 536.3l5.5 2.7l2.3-2.4l-5.4-2.7z"/>
<path fill="#00409e" d="M630.2 538.3l5.7 1.8l0.9-4.1l-5.7-1.7z"/>
<path fill="#00a5cb" d="M575.8 542.1l5.5 2.9l2.2-2.5l-5.5-2.8z"/>
<path fill="#00a5cb" d="M586.7 545.2l5.6 2.8l1.7-2.1l-5.5-2.8z"/>
<path fill="#0083c8" d="M625.3 553.2l5.7 2.2l1.1-2.9l-5.7-2.1z"/>
<path fill="#00a5cb" d="M564.9 539.2l5.5 2.8l2.2-2.5l-5.5-2.8z"/>
<path fill="#00a4cc" d="M597.3 548.6l5.6 2.7l1.6-2.1l-5.5-2.7z"/>
<path fill="#003192" d="M626.8 530.4l5.7 1.6l1-5.1l-5.8-1.5z"/>
<path fill="#0062b9" d="M632.6 548.4l5.8 1.9l1.1-3.5l-5.8-1.9z"/>
<path fill="#00a5cc" d="M607.9 551.8l5.6 2.6l1.6-2.2l-5.5-2.6z"/>
<path fill="#002788" d="M622.7 525l5.7 1.5l1.1-6.5l-5.8-1.3z"/>
<path fill="#0052ad" d="M633.4 545.8l5.8 1.8l1.1-4.1l-5.7-1.8z"/>
<path fill="#006cbe" d="M631.8 550.8l5.7 2l1.1-3.4l-5.7-1.9z"/>
<path fill="#0090cd" d="M624.6 554.9l5.6 2.3l1.2-2.6l-5.7-2.2z"/>
<path fill="#003999" d="M630.9 535.2l5.8 1.7l0.9-4.4l-5.8-1.7z"/>
<path fill="#00a0cf" d="M618.6 554.7l5.7 2.4l1.5-2.6l-5.6-2.4z"/>
<path fill="#0046a4" d="M634.3 542.6l5.8 1.8l0.9-3.7l-5.7-1.8z"/>
<path fill="#0075c3" d="M631 553.1l5.7 2l1.1-3.2l-5.7-2z"/>
<path fill="#00a5cb" d="M591.4 547.6l5.6 2.8l1.7-2.1l-5.5-2.8z"/>
<path fill="#00a5cb" d="M580.5 544.5l5.5 2.9l2.2-2.5l-5.5-2.8z"/>
<path fill="#e6e6e6" d="M607.4 492.4l1.1-1.1l-5.9-1.5l-0.9 1z"/>
<path fill="#002476" d="M601.4 498.3l5.8-0.3l0.6-6.4l-5.7-1.6z"/>
<path fill="#00a4cc" d="M602 550.9l5.6 2.7l1.7-2.2l-5.6-2.6z"/>
<path fill="#0080c8" d="M630.2 555.1l5.7 2.1l1.1-3l-5.7-2z"/>
<path fill="#00a5cb" d="M558.6 538.6l5.5 2.7l2.2-2.4l-5.4-2.8z"/>
<path fill="#00a5cb" d="M569.5 541.5l5.5 2.8l2.3-2.4l-5.5-2.8z"/>
<path fill="#003f9e" d="M635 539.8l5.8 1.8l1-4.1l-5.8-1.7z"/>
<path fill="#009fce" d="M487.6 531.7l9.9 3.3l3.7-3.3l-9.9-3.3z"/>
<path fill="#00a4cd" d="M612.7 554l5.6 2.6l1.6-2.3l-5.6-2.5z"/>
<path fill="#0060b9" d="M637.5 550l4.1 1.3l1.2-3.6l-4.2-1.2z"/>
<path fill="#00247f" d="M618.7 518.6l5.8 1.2l1.2-9.1l-5.8-0.8z"/>
<path fill="#0050ad" d="M638.4 547.4l4.1 1.2l1.1-4.1l-4.1-1.2z"/>
<path fill="#0069be" d="M636.7 552.5l4.1 1.3l1.1-3.4l-4.1-1.3z"/>
<path fill="#00a4cb" d="M546.8 536.6l5.5 2.7l3.1-3.3l-5.4-2.6z"/>
<path fill="#003091" d="M631.6 531.7l5.8 1.7l1-5.2l-5.8-1.6z"/>
<path fill="#009ed0" d="M623.4 556.8l5.7 2.3l1.5-2.7l-5.6-2.3z"/>
<path fill="#008dcd" d="M629.4 556.9l5.7 2.1l1.1-2.7l-5.7-2z"/>
<path fill="#0073c2" d="M635.9 554.8l4.1 1.3l1.1-3.1l-4.1-1.4z"/>
<path fill="#0045a4" d="M639.3 544.1l4.1 1.3l0.9-3.8l-4.1-1.2z"/>
<path fill="#002687" d="M627.6 526.3l5.7 1.4l1.1-6.5l-5.8-1.4z"/>
<path fill="#00a4cb" d="M596.2 549.9l5.5 2.8l1.7-2.1l-5.5-2.8z"/>
<path fill="#002478" d="M610 509.6l5.7 0.7l1.5-13.5l-5.9 0.1z"/>
<path fill="#003998" d="M635.8 536.7l5.8 1.6l1-4.4l-5.9-1.7z"/>
<path fill="#00a5cb" d="M585.2 547l5.5 2.8l2.2-2.5l-5.6-2.8z"/>
<path fill="#00a4cc" d="M606.8 553.2l5.6 2.7l1.7-2.2l-5.6-2.7z"/>
<path fill="#007ec8" d="M635.1 556.9l4.1 1.4l1.1-3l-4.1-1.4z"/>
<path fill="#005eb9" d="M640.8 551l4.2 1.3l1.1-3.6l-4.2-1.2z"/>
<path fill="#0050ad" d="M641.6 548.4l4.2 1.2l1.2-4.2l-4.2-1.2z"/>
<path fill="#00a3ce" d="M617.5 556.2l5.7 2.5l1.5-2.4l-5.6-2.4z"/>
<path fill="#00a0cd" d="M499.4 532l10 3.6l3.5-3.3l-9.9-3.6z"/>
<path fill="#003e9d" d="M640 541.3l4.1 1.2l1-4.1l-4.2-1.2z"/>
<path fill="#0068be" d="M640 553.5l4.1 1.3l1.1-3.4l-4.1-1.2z"/>
<path fill="#00a5cb" d="M574.2 543.9l5.5 2.8l2.2-2.4l-5.5-2.8z"/>
<path fill="#00a5cb" d="M563.2 540.9l5.6 2.8l2.2-2.4l-5.5-2.8z"/>
<path fill="#0071c2" d="M639.1 555.9l4.2 1.2l1.1-3.2l-4.2-1.2z"/>
<path fill="#0045a4" d="M642.5 545.1l4.2 1.2l1-3.7l-4.2-1.2z"/>
<path fill="#008bcd" d="M634.3 558.7l4.1 1.4l1.1-2.7l-4.1-1.4z"/>
<path fill="#009cd0" d="M628.3 558.8l5.7 2.2l1.5-2.8l-5.7-2.2z"/>
<path fill="#00a4cc" d="M535 534.9l10.1 4.8l3.2-3.3l-10-4.7z"/>
<path fill="#00a5cb" d="M551.4 538.9l5.5 2.7l3.2-3.3l-5.5-2.7z"/>
<path fill="#00a4cc" d="M600.9 552.3l5.6 2.8l1.7-2.2l-5.6-2.7z"/>
<path fill="#00a2cd" d="M511.3 532.6l10 4l3.4-3.3l-10-3.9z"/>
<path fill="#007cc8" d="M638.3 558l4.2 1.3l1.1-3l-4.2-1.3z"/>
<path fill="#00a5cb" d="M589.9 549.4l5.6 2.8l2.1-2.6l-5.6-2.7z"/>
<path fill="#00a3cd" d="M611.6 555.5l5.6 2.6l1.6-2.3l-5.6-2.5z"/>
<path fill="#005db9" d="M644.1 552l4.2 1.2l1.1-3.6l-4.2-1.1z"/>
<path fill="#003090" d="M636.6 533.1l5.8 1.7l1-5.3l-5.8-1.6z"/>
<path fill="#003898" d="M640.7 538.1l4.2 1.2l1-4.5l-4.2-1.2z"/>
<path fill="#00247e" d="M623.6 519.6l5.8 1.3l1.2-9.4l-5.8-0.9z"/>
<path fill="#00a3cc" d="M523.1 533.6l10.1 4.4l3.3-3.4l-10-4.3z"/>
<path fill="#e6e6e6" d="M612.2 493.8l1.1-1.2l-5.8-1.6l-1.1 1.1z"/>
<path fill="#002476" d="M606.3 498l5.8-0.2l0.4-4.9l-5.6-1.6z"/>
<path fill="#004fad" d="M644.9 549.3l4.2 1.2l1.2-4.2l-4.2-1.1z"/>
<path fill="#003e9d" d="M643.3 542.3l4.2 1.2l0.9-4.1l-4.2-1.2z"/>
<path fill="#0066be" d="M643.3 554.5l4.1 1.2l1.2-3.4l-4.2-1.1z"/>
<path fill="#00a2ce" d="M622.3 558.3l5.7 2.5l1.6-2.5l-5.7-2.3z"/>
<path fill="#002687" d="M632.5 527.5l5.8 1.6l1.1-6.7l-5.8-1.5z"/>
<path fill="#00a5cb" d="M578.9 546.3l5.6 2.9l2.1-2.5l-5.5-2.9z"/>
<path fill="#0070c3" d="M642.4 556.9l4.2 1.2l1.1-3.3l-4.2-1.1z"/>
<path fill="#0089cd" d="M637.6 559.8l4.1 1.3l1.1-2.7l-4.1-1.3z"/>
<path fill="#0045a4" d="M645.9 546.1l4.2 1.1l0.9-3.7l-4.2-1.2z"/>
<path fill="#00a5cb" d="M567.9 543.3l5.5 2.8l2.3-2.5l-5.5-2.8z"/>
<path fill="#009ad1" d="M633.2 560.7l4.1 1.4l1.5-2.8l-4.1-1.5z"/>
<path fill="#007ac8" d="M641.6 559l4.2 1.2l1.1-3l-4.2-1.2z"/>
<path fill="#00a4cc" d="M605.7 554.7l5.6 2.7l1.7-2.2l-5.6-2.7z"/>
<path fill="#005cb9" d="M647.4 552.9l4.2 1.1l1.1-3.6l-4.2-1z"/>
<path fill="#003898" d="M644 539l4.2 1.2l1-4.4l-4.2-1.2z"/>
<path fill="#00a2cd" d="M616.4 557.7l5.7 2.6l1.6-2.4l-5.7-2.4z"/>
<path fill="#00a5cb" d="M594.7 551.8l5.5 2.8l2.1-2.6l-5.5-2.8z"/>
<path fill="#004eae" d="M648.3 550.2l4.2 1.1l1.1-4.1l-4.2-1.1z"/>
<path fill="#003e9e" d="M646.6 543.2l4.2 1.2l1-4.1l-4.3-1.2z"/>
<path fill="#0065be" d="M646.6 555.5l4.2 1l1.1-3.4l-4.2-1z"/>
<path fill="#002477" d="M614.8 510.2l5.8 0.7l1.6-14.1l-6 0z"/>
<path fill="#00a5cb" d="M556.1 541.2l5.5 2.8l3.1-3.3l-5.5-2.8z"/>
<path fill="#003090" d="M641.5 534.5l4.2 1.2l1-5.2l-4.2-1.2z"/>
<path fill="#006ec3" d="M645.8 557.8l4.2 1.1l1.1-3.2l-4.2-1.1z"/>
<path fill="#0087cd" d="M640.9 560.9l4.2 1.2l1.1-2.7l-4.2-1.2z"/>
<path fill="#00a0cf" d="M627.2 560.4l5.7 2.3l1.6-2.5l-5.8-2.2z"/>
<path fill="#0045a5" d="M649.2 547l4.2 1.1l1-3.7l-4.3-1.1z"/>
<path fill="#00a5cb" d="M583.6 548.8l5.6 2.8l2.1-2.5l-5.5-2.8z"/>
<path fill="#0098d1" d="M636.4 561.8l4.2 1.4l1.5-2.9l-4.2-1.3z"/>
<path fill="#009fce" d="M484.7 534.3l10 3.3l3.6-3.3l-9.9-3.3z"/>
<path fill="#0079c8" d="M645 560l4.2 1l1.1-3l-4.2-1z"/>
<path fill="#00a5cb" d="M572.6 545.7l5.6 2.8l2.2-2.5l-5.6-2.8z"/>
<path fill="#00247d" d="M628.5 520.7l5.8 1.3l1.3-9.5l-5.8-1.1z"/>
<path fill="#002687" d="M637.4 528.8l5.8 1.6l1.2-6.7l-5.9-1.5z"/>
<path fill="#00a3cc" d="M610.5 557l5.6 2.7l1.7-2.3l-5.7-2.6z"/>
<path fill="#003898" d="M647.3 540l4.3 1.2l1-4.5l-4.3-1.2z"/>
<path fill="#005bba" d="M650.8 553.8l4.2 1l1.1-3.6l-4.2-1z"/>
<path fill="#003e9e" d="M649.9 544.1l4.2 1.2l1-4.1l-4.2-1.2z"/>
<path fill="#004eae" d="M651.6 551.1l4.3 1l1.1-4.1l-4.2-1z"/>
<path fill="#00a4cc" d="M599.4 554.2l5.6 2.8l2.1-2.7l-5.6-2.7z"/>
<path fill="#00a2ce" d="M621.2 559.9l5.7 2.5l1.6-2.4l-5.7-2.4z"/>
<path fill="#0064bf" d="M649.9 556.3l4.3 1l1.1-3.4l-4.3-1z"/>
<path fill="#003090" d="M644.8 535.4l4.2 1.2l1.1-5.2l-4.2-1.2z"/>
<path fill="#00a4cb" d="M544.2 539.3l5.5 2.7l3.2-3.4l-5.4-2.6z"/>
<path fill="#e6e6e6" d="M617.1 495.1l1.1-1.3l-5.9-1.5l-1.1 1.2z"/>
<path fill="#002475" d="M611.2 497.8l5.9-0.1l0.3-3.4l-5.7-1.6z"/>
<path fill="#0084ce" d="M644.2 561.8l4.2 1.1l1.1-2.7l-4.2-1.1z"/>
<path fill="#009fd0" d="M632.1 562.4l4.1 1.5l1.6-2.6l-4.2-1.4z"/>
<path fill="#0045a5" d="M652.5 547.9l4.3 1l0.9-3.7l-4.2-1z"/>
<path fill="#006cc4" d="M649.1 558.7l4.3 0.9l1.1-3.2l-4.3-0.9z"/>
<path fill="#0095d1" d="M639.7 562.9l4.2 1.3l1.5-3l-4.2-1.2z"/>
<path fill="#00a5cb" d="M560.8 543.6l5.5 2.8l3.1-3.4l-5.5-2.8z"/>
<path fill="#00a5cb" d="M588.4 551.2l5.6 2.9l2.1-2.6l-5.6-2.8z"/>
<path fill="#003999" d="M650.7 540.9l4.2 1.2l1-4.4l-4.2-1.2z"/>
<path fill="#0077c9" d="M648.3 560.8l4.3 0.9l1.1-3l-4.3-0.9z"/>
<path fill="#00a0cd" d="M496.6 534.6l10 3.7l3.6-3.4l-10-3.6z"/>
<path fill="#00a3cd" d="M615.3 559.3l5.7 2.6l1.6-2.4l-5.7-2.5z"/>
<path fill="#003e9f" d="M653.3 545l4.2 1.1l1-4l-4.3-1.1z"/>
<path fill="#00a5cb" d="M577.3 548.1l5.6 2.9l2.2-2.5l-5.6-2.9z"/>
<path fill="#005ab8" d="M654.1 554.6l4.3 0.8l1.1-3.5l-4.3-0.9z"/>
<path fill="#004eaf" d="M655 551.9l4.3 0.9l1.1-4.1l-4.3-0.9z"/>
<path fill="#003191" d="M648.2 536.4l4.2 1.2l1-5.2l-4.2-1.2z"/>
<path fill="#002686" d="M642.4 530.2l4.2 1.2l1.1-6.8l-4.2-1.1z"/>
<path fill="#00a4cc" d="M604.2 556.6l5.6 2.8l2.1-2.8l-5.6-2.7z"/>
<path fill="#00a0ce" d="M626.1 562.1l5.8 2.3l1.5-2.5l-5.7-2.3z"/>
<path fill="#009dd0" d="M635.4 563.6l4.1 1.4l1.6-2.6l-4.2-1.4z"/>
<path fill="#0063bc" d="M653.3 557.1l4.3 0.8l1.1-3.4l-4.3-0.8z"/>
<path fill="#002477" d="M619.7 510.8l5.9 0.8l1.6-14.6l-5.9-0.2z"/>
<path fill="#0045a7" d="M655.9 548.7l4.3 0.9l0.9-3.6l-4.2-1z"/>
<path fill="#0082ce" d="M647.5 562.7l4.3 0.9l1.1-2.7l-4.3-0.9z"/>
<path fill="#0093d2" d="M643.1 564l4.2 1.1l1.5-3l-4.3-1.1z"/>
<path fill="#006bbe" d="M652.5 559.4l4.3 0.8l1.1-3.2l-4.3-0.8z"/>
<path fill="#00247d" d="M633.4 521.8l5.9 1.5l1.4-9.7l-5.9-1.3z"/>
<path fill="#00a1cd" d="M508.5 535.2l10.1 4l3.4-3.3l-10-4z"/>
<path fill="#00a4cc" d="M532.3 537.6l10.2 4.7l3.3-3.3l-10.1-4.7z"/>
<path fill="#00a5cb" d="M593.1 553.7l5.6 2.8l2.1-2.6l-5.6-2.8z"/>
<path fill="#00a5cb" d="M548.9 541.5l5.5 2.8l3.2-3.4l-5.5-2.7z"/>
<path fill="#00399a" d="M654 541.8l4.3 1.2l1-4.4l-4.3-1.2z"/>
<path fill="#00a3cc" d="M520.4 536.2l10.1 4.4l3.4-3.3l-10.1-4.4z"/>
<path fill="#00a5cb" d="M565.5 546l5.5 2.8l3.1-3.4l-5.5-2.8z"/>
<path fill="#003fa0" d="M656.6 545.9l4.3 1l1-3.9l-4.3-1.1z"/>
<path fill="#00a2cd" d="M620.2 561.5l5.7 2.6l1.5-2.5l-5.6-2.4z"/>
<path fill="#0073c1" d="M651.7 561.6l4.3 0.7l1.1-3l-4.3-0.7z"/>
<path fill="#003191" d="M651.5 537.3l4.2 1.2l1.1-5.1l-4.2-1.3z"/>
<path fill="#002686" d="M645.7 531.1l4.2 1.2l1.2-6.7l-4.2-1.2z"/>
<path fill="#009bd0" d="M638.7 564.8l4.2 1.3l1.5-2.7l-4.2-1.3z"/>
<path fill="#00a4cc" d="M609 559l5.7 2.7l2-2.8l-5.7-2.6z"/>
<path fill="#00a5cb" d="M582.1 550.6l5.5 2.9l2.2-2.6l-5.6-2.8z"/>
<path fill="#004faf" d="M658.4 552.6l4.3 0.7l1.1-3.9l-4.3-0.8z"/>
<path fill="#005ab6" d="M657.5 555.2l4.4 0.7l1.1-3.4l-4.4-0.8z"/>
<path fill="#009fcf" d="M631 564.1l4.2 1.6l1.5-2.6l-4.1-1.5z"/>
<path fill="#e6e6e6" d="M621.9 496.4l1.2-1.3l-5.9-1.5l-1.1 1.2z"/>
<path fill="#002475" d="M616.2 497.7l5.9 0l0.2-2.1l-5.8-1.6z"/>
<path fill="#0062b8" d="M656.7 557.7l4.3 0.6l1.1-3.3l-4.3-0.6z"/>
<path fill="#0046a9" d="M659.3 549.4l4.3 0.9l0.9-3.5l-4.3-1z"/>
<path fill="#0090d2" d="M646.4 564.9l4.3 0.9l1.5-3l-4.3-0.9z"/>
<path fill="#007dc4" d="M650.9 563.4l4.3 0.7l1.1-2.7l-4.3-0.7z"/>
<path fill="#003b9b" d="M657.4 542.7l4.3 1.2l1-4.3l-4.3-1.2z"/>
<path fill="#00a5cb" d="M597.9 556.1l5.6 2.9l2.1-2.7l-5.6-2.8z"/>
<path fill="#0069b8" d="M655.9 560l4.3 0.6l1.1-3.1l-4.3-0.6z"/>
<path fill="#003292" d="M654.9 538.3l4.2 1.2l1.1-5l-4.3-1.3z"/>
<path fill="#0040a2" d="M660 546.7l4.3 0.9l1-3.8l-4.3-1z"/>
<path fill="#002787" d="M649 532.1l4.3 1.2l1.2-6.6l-4.3-1.3z"/>
<path fill="#009ecf" d="M634.3 565.4l4.2 1.5l1.5-2.6l-4.2-1.5z"/>
<path fill="#00a1ce" d="M625 563.7l5.8 2.4l1.5-2.5l-5.7-2.3z"/>
<path fill="#0099d1" d="M642 565.8l4.2 1.2l1.5-2.7l-4.2-1.2z"/>
<path fill="#00a5cb" d="M553.6 543.9l5.5 2.8l3.2-3.4l-5.6-2.8z"/>
<path fill="#00a5cb" d="M570.2 548.4l5.6 2.9l3-3.5l-5.6-2.8z"/>
<path fill="#00a3cd" d="M613.9 561.3l5.6 2.7l2-2.9l-5.7-2.6z"/>
<path fill="#00247d" d="M638.4 523.1l5.9 1.5l1.4-9.7l-5.9-1.5z"/>
<path fill="#0070b8" d="M655.1 562.2l4.3 0.4l1.1-2.9l-4.3-0.5z"/>
<path fill="#00a5cb" d="M586.8 553.1l5.6 2.9l2.1-2.6l-5.5-2.9z"/>
<path fill="#0050b0" d="M661.8 553.2l4.4 0.6l1.1-3.8l-4.3-0.8z"/>
<path fill="#009fce" d="M481.7 537l10 3.3l3.7-3.4l-9.9-3.3z"/>
<path fill="#005ab5" d="M660.9 555.8l4.4 0.5l1.1-3.4l-4.3-0.6z"/>
<path fill="#002476" d="M624.7 511.5l5.8 0.9l1.7-14.1l-4.5-1.2l-1.4-0.1z"/>
<path fill="#0047ab" d="M662.7 550.1l4.4 0.7l0.9-3.4l-4.3-0.8z"/>
<path fill="#003c9c" d="M660.8 543.6l4.3 1.1l1-4.1l-4.3-1.3z"/>
<path fill="#0062b4" d="M660.1 558.2l4.4 0.4l1.1-3.2l-4.4-0.5z"/>
<path fill="#0088c5" d="M649.8 565.6l4.3 0.8l1.5-3.1l-4.3-0.7z"/>
<path fill="#003493" d="M658.2 539.2l4.3 1.3l1-4.9l-4.2-1.4z"/>
<path fill="#00a4cc" d="M602.7 558.6l5.7 2.8l2-2.8l-5.6-2.7z"/>
<path fill="#002887" d="M652.4 533l4.2 1.3l1.2-6.5l-4.2-1.4z"/>
<path fill="#009ccf" d="M637.6 566.6l4.2 1.4l1.5-2.7l-4.2-1.3z"/>
<path fill="#0042a5" d="M663.4 547.5l4.4 0.8l0.9-3.7l-4.3-1z"/>
<path fill="#0077b7" d="M654.3 564l4.4 0.5l1.1-2.7l-4.4-0.5z"/>
<path fill="#00a0ce" d="M629.9 565.8l4.2 1.7l1.5-2.6l-4.1-1.6z"/>
<path fill="#00a4cb" d="M541.6 541.9l5.6 2.7l3.2-3.3l-5.5-2.7z"/>
<path fill="#0068b1" d="M659.3 560.5l4.4 0.3l1.1-3.1l-4.4-0.4z"/>
<path fill="#0096d1" d="M645.3 566.8l4.3 1l1.5-2.8l-4.3-1z"/>
<path fill="#00a2cd" d="M618.7 563.6l5.7 2.7l2-3l-5.7-2.5z"/>
<path fill="#00a5cb" d="M591.6 555.6l5.6 2.9l2.1-2.7l-5.6-2.8z"/>
<path fill="#00a5cb" d="M574.9 550.8l5.6 3l3-3.5l-5.6-2.9z"/>
<path fill="#e6e6e6" d="M626.9 497.8l1.2-1.4l-6-1.5l-1.1 1.3z"/>
<path fill="#002474" d="M621.2 497.7l5.9 0.2l0.1-1l-5.8-1.5z"/>
<path fill="#00247d" d="M643.4 524.4l4.2 1.1l1.5-9.7l-4.3-1.2z"/>
<path fill="#003e9f" d="M664.2 544.5l4.3 1l1-4l-4.3-1.2z"/>
<path fill="#00a5cb" d="M558.3 546.3l5.5 2.8l3.1-3.4l-5.5-2.8z"/>
<path fill="#003594" d="M661.6 540.2l4.3 1.2l1-4.7l-4.2-1.4z"/>
<path fill="#0051b2" d="M665.3 553.7l4.4 0.3l1.1-3.6l-4.4-0.6z"/>
<path fill="#00a0cd" d="M493.7 537.3l10.1 3.7l3.5-3.4l-10-3.6z"/>
<path fill="#0049af" d="M666.2 550.7l4.3 0.6l1-3.3l-4.4-0.7z"/>
<path fill="#006eae" d="M658.5 562.6l4.4 0.2l1.1-2.9l-4.4-0.3z"/>
<path fill="#002988" d="M655.7 534l4.3 1.4l1.2-6.4l-4.2-1.5z"/>
<path fill="#005ab3" d="M664.4 556.2l4.4 0.2l1.2-3.2l-4.5-0.4z"/>
<path fill="#00a4cc" d="M607.5 561l5.7 2.8l2-2.8l-5.6-2.8z"/>
<path fill="#009fcf" d="M633.2 567.1l4.2 1.6l1.5-2.6l-4.1-1.5z"/>
<path fill="#009bd0" d="M640.9 567.7l4.3 1.3l1.5-2.8l-4.3-1.2z"/>
<path fill="#0045a8" d="M666.9 548.2l4.3 0.7l1-3.5l-4.4-1z"/>
<path fill="#007fb5" d="M653.2 566.3l4.4 0.5l1.5-3.2l-4.4-0.4z"/>
<path fill="#0061af" d="M663.6 558.6l4.5 0.1l1.1-3.2l-4.5-0.2z"/>
<path fill="#00a1ce" d="M623.6 565.9l5.7 2.5l2-3l-5.8-2.5z"/>
<path fill="#002476" d="M629.6 512.3l5.9 1.1l1.7-13.8l-5.9-1.5z"/>
<path fill="#008cc1" d="M648.7 567.6l4.4 0.8l1.4-2.8l-4.3-0.8z"/>
<path fill="#0073aa" d="M657.7 564.4l4.5 0.2l1.1-2.7l-4.5-0.2z"/>
<path fill="#003896" d="M665 541.2l4.3 1.2l1-4.5l-4.2-1.5z"/>
<path fill="#0042a2" d="M667.6 545.3l4.3 1l1-3.8l-4.3-1.2z"/>
<path fill="#00a5cb" d="M596.4 558l5.6 2.9l2.1-2.7l-5.6-2.8z"/>
<path fill="#00a1cd" d="M505.7 537.9l10.1 4l3.5-3.3l-10.1-4z"/>
<path fill="#00247d" d="M646.7 525.3l4.3 1.2l1.4-9.6l-4.2-1.3z"/>
<path fill="#002a89" d="M659.1 535.1l4.3 1.4l1.2-6.2l-4.3-1.6z"/>
<path fill="#00a5cb" d="M579.7 553.3l5.6 3l2.9-3.5l-5.5-2.9z"/>
<path fill="#00a4cc" d="M529.7 540.2l10.2 4.8l3.3-3.4l-10.2-4.7z"/>
<path fill="#06a" d="M662.8 560.8l4.5 0l1.1-3l-4.5-0.1z"/>
<path fill="#009dcf" d="M636.5 568.4l4.2 1.4l1.6-2.6l-4.2-1.4z"/>
<path fill="#00a5cb" d="M546.3 544.2l5.6 2.8l3.2-3.4l-5.5-2.7z"/>
<path fill="#00a3cc" d="M517.7 538.9l10.1 4.4l3.4-3.4l-10.1-4.4z"/>
<path fill="#00a3cc" d="M612.4 563.4l5.7 2.7l2-2.8l-5.7-2.7z"/>
<path fill="#0098d0" d="M644.3 568.7l4.3 1.1l1.5-2.8l-4.3-1z"/>
<path fill="#00a5cb" d="M563 548.7l5.6 2.8l3-3.4l-5.5-2.8z"/>
<path fill="#003c99" d="M668.4 542.2l4.3 1.2l1-4.2l-4.2-1.6z"/>
<path fill="#00a0ce" d="M628.5 568.1l4.1 1.7l2-3.1l-4.2-1.7z"/>
<path fill="#002c8a" d="M662.5 536.2l4.2 1.4l1.2-5.9l-4.2-1.8z"/>
<path fill="#006ba4" d="M662 562.8l4.5-0.1l1.1-2.8l-4.5 0z"/>
<path fill="#00247d" d="M650.1 526.3l4.2 1.3l1.5-9.5l-4.2-1.5z"/>
<path fill="#e6e6e6" d="M627.5 498l4.4 1.1l1.1-1.4l-5.9-1.5l-1.2 1.3z"/>
<path fill="#002474" d="M626.2 497.9l2.7-0.2l-2.6-1z"/>
<path fill="#00a4cc" d="M601.2 560.5l5.7 2.9l2-2.8l-5.6-2.8z"/>
<path fill="#0078a4" d="M656.6 566.7l4.5 0.2l1.5-3.2l-4.5-0.2z"/>
<path fill="#009bd0" d="M639.9 569.6l4.2 1.3l1.5-2.7l-4.2-1.3z"/>
<path fill="#0082ae" d="M652.1 568.3l4.4 0.6l1.5-3l-4.4-0.5z"/>
<path fill="#00a5cb" d="M584.5 555.9l5.6 2.9l2.9-3.5l-5.6-2.9z"/>
<path fill="#00a3cd" d="M617.2 565.7l5.8 2.8l1.9-3l-5.7-2.6z"/>
<path fill="#002f8b" d="M665.9 537.3l4.2 1.5l1.2-5.7l-4.2-1.8z"/>
<path fill="#006f9e" d="M661.2 564.6l4.6-0.1l1.1-2.7l-4.6 0.1z"/>
<path fill="#009fcf" d="M631.8 569.5l4.2 1.6l1.9-3.2l-4.2-1.6z"/>
<path fill="#008ebe" d="M647.6 569.6l4.4 0.9l1.5-2.9l-4.4-0.8z"/>
<path fill="#002476" d="M634.6 513.2l5.9 1.3l1.7-13.5l-5.9-1.6z"/>
<path fill="#00247d" d="M653.4 527.3l4.3 1.4l1.5-9.3l-4.3-1.7z"/>
<path fill="#00a5cb" d="M551 546.6l5.6 2.8l3.2-3.4l-5.6-2.8z"/>
<path fill="#00a5cb" d="M567.8 551.1l5.5 2.9l3.1-3.4l-5.6-2.9z"/>
<path fill="#00328e" d="M669.3 538.5l4.2 1.5l1.2-5.2l-4.2-2z"/>
<path fill="#00a4cc" d="M606 563l5.7 2.8l2-2.8l-5.6-2.8z"/>
<path fill="#0099d0" d="M643.2 570.6l4.3 1.2l1.5-2.8l-4.3-1.1z"/>
<path fill="#00a5cb" d="M589.3 558.4l5.6 2.9l2.9-3.6l-5.6-2.9z"/>
<path fill="#009ecf" d="M635.1 570.8l4.2 1.5l1.9-3.2l-4.2-1.5z"/>
<path fill="#00a2cd" d="M622.1 568.1l5.8 2.6l1.9-3l-5.7-2.6z"/>
<path fill="#00247e" d="M656.8 528.4l4.2 1.5l1.5-9.1l-4.2-1.8z"/>
<path fill="#00799b" d="M655.6 568.8l4.4 0.2l1.5-3l-4.5-0.2z"/>
<path fill="#007294" d="M660.1 566.9l4.6-0.1l1.5-3.2l-4.6 0.1z"/>
<path fill="#e6e6e6" d="M630.9 498.8l6 1.6l1.1-1.4l-5.9-1.5z"/>
<path fill="#00a4cb" d="M539 544.6l5.6 2.7l3.2-3.4l-5.5-2.7z"/>
<path fill="#0082a8" d="M651.1 570.3l4.4 0.6l1.5-2.9l-4.4-0.5z"/>
<path fill="#00a0cd" d="M490.8 540l10.1 3.7l3.6-3.4l-10.1-3.7z"/>
<path fill="#00a4cc" d="M610.9 565.4l5.7 2.9l2-2.9l-5.7-2.8z"/>
<path fill="#00a5cb" d="M572.5 553.6l5.6 3l3-3.5l-5.5-3z"/>
<path fill="#00247e" d="M660.2 529.6l4.2 1.6l1.5-8.8l-4.2-2z"/>
<path fill="#00a5cb" d="M555.8 549l5.5 2.8l3.2-3.4l-5.6-2.8z"/>
<path fill="#009ccf" d="M638.4 572l4.3 1.4l1.8-3.3l-4.2-1.3z"/>
<path fill="#e6e6e6" d="M647 503.2l0.7-0.9l-6.1-1.6l-0.7 0.9z"/>
<path fill="#002476" d="M639.7 514.3l5.9 1.5l1.7-13.5l-6-1.5z"/>
<path fill="#00a1ce" d="M627.1 570.3l4.1 1.8l1.9-3.1l-4.1-1.7z"/>
<path fill="#008ebe" d="M646.6 571.6l4.3 0.9l1.5-2.9l-4.3-0.8z"/>
<path fill="#00a5cb" d="M594.1 560.9l5.6 3l2.9-3.7l-5.6-2.9z"/>
<path fill="#009fce" d="M475.7 542.4l10.1 3.4l6.7-6.2l-10-3.3z"/>
<path fill="#00247f" d="M663.5 530.8l4.3 1.8l1.4-8.4l-4.1-2.2z"/>
<path fill="#00a1cd" d="M502.8 540.6l10.2 4l3.5-3.4l-10.1-4z"/>
<path fill="#00a3cc" d="M615.8 567.9l5.7 2.7l2-2.9l-5.7-2.7z"/>
<path fill="#00a0ce" d="M630.4 571.8l4.1 1.7l1.9-3.2l-4.1-1.6z"/>
<path fill="#002580" d="M666.9 532.2l4.2 1.9l1.5-7.9l-4.2-2.5z"/>
<path fill="#00a4cc" d="M527 542.9l10.2 4.8l3.3-3.4l-10.1-4.8z"/>
<path fill="#009ad0" d="M641.8 573.2l4.3 1.2l1.8-3.4l-4.2-1.2z"/>
<path fill="#00a5cb" d="M577.3 556.1l5.6 3l3-3.5l-5.6-3z"/>
<path fill="#007188" d="M659 569l4.6-0.1l1.5-3l-4.6 0.1z"/>
<path fill="#00a3cc" d="M514.9 541.5l10.2 4.5l3.4-3.4l-10.1-4.4z"/>
<path fill="#007891" d="M654.5 570.9l4.5 0.2l1.5-2.9l-4.5-0.3z"/>
<path fill="#00a5cb" d="M543.7 546.9l5.6 2.8l3.2-3.4l-5.5-2.8z"/>
<path fill="#002882" d="M670.3 533.7l4.2 2l1.4-7.3l-4.1-2.7z"/>
<path fill="#e6e6e6" d="M635.9 500.2l6 1.5l1.2-1.3l-6-1.6z"/>
<path fill="#00a5cb" d="M598.9 563.4l5.7 3l2.8-3.8l-5.6-2.8z"/>
<path fill="#0082a8" d="M650 572.3l4.4 0.7l1.5-2.9l-4.4-0.6z"/>
<path fill="#002476" d="M644.7 515.5l4.2 1.2l1.8-13.5l-4.3-1.1z"/>
<path fill="#00a5cb" d="M560.5 551.4l5.6 2.9l3.1-3.4l-5.6-2.9z"/>
<path fill="#009fcf" d="M633.7 573.2l4.2 1.6l1.9-3.3l-4.2-1.5z"/>
<path fill="#00a3cd" d="M620.7 570.2l5.7 2.8l2-3.1l-5.8-2.6z"/>
<path fill="#008fbe" d="M645.2 574.2l4.3 1l1.9-3.5l-4.4-1z"/>
<path fill="#00a5cb" d="M582.1 558.7l5.6 3l3-3.6l-5.6-2.9z"/>
<path fill="#00a4cc" d="M603.8 566l5.7 2.9l2.7-3.8l-5.6-2.9z"/>
<path fill="#e6e6e6" d="M653.8 504.9l0.7-0.8l-4.4-1.1l-0.7 0.8z"/>
<path fill="#002476" d="M648.1 516.5l4.2 1.3l1.9-13.7l-4.4-1.1z"/>
<path fill="#009dcf" d="M637 574.5l4.2 1.5l1.9-3.4l-4.2-1.4z"/>
<path fill="#00a2cd" d="M625.6 572.6l4.2 1.9l1.9-3.1l-4.1-1.8z"/>
<path fill="#00a5cb" d="M548.5 549.3l5.5 2.8l3.2-3.4l-5.5-2.8z"/>
<path fill="#006f7b" d="M658 571.1l4.6-0.1l1.5-3l-4.6 0.1z"/>
<path fill="#00a5cb" d="M565.3 553.9l5.6 2.9l3-3.5l-5.5-2.9z"/>
<path fill="#e6e6e6" d="M641 501.5l6 1.6l1.2-1.4l-6.1-1.6z"/>
<path fill="#007891" d="M653.4 572.9l4.5 0.3l1.5-2.9l-4.5-0.3z"/>
<path fill="#00a4cc" d="M608.7 568.5l5.7 2.9l2.7-3.9l-5.7-2.8z"/>
<path fill="#00a5cb" d="M586.9 561.3l5.7 3l2.9-3.7l-5.6-2.9z"/>
<path fill="#002476" d="M651.4 517.5l4.3 1.5l1.9-14l-4.3-1.1z"/>
<path fill="#00a1ce" d="M628.9 574.1l4.2 1.8l1.9-3.2l-4.2-1.7z"/>
<path fill="#0083a8" d="M648.6 575l4.4 0.7l1.8-3.5l-4.4-0.7z"/>
<path fill="#009bd0" d="M640.4 575.7l4.2 1.3l1.9-3.4l-4.3-1.2z"/>
<path fill="#00a4cb" d="M536.4 547.3l5.5 2.8l3.3-3.4l-5.5-2.8z"/>
<path fill="#00a5cb" d="M570.1 556.4l5.6 3l3-3.5l-5.6-3z"/>
<path fill="#00a0ce" d="M632.2 575.5l4.2 1.7l1.9-3.2l-4.1-1.6z"/>
<path fill="#e6e6e6" d="M646.1 502.8l4.4 1.2l1.1-1.4l-4.4-1.2z"/>
<path fill="#00a4cc" d="M613.6 571l5.7 2.9l2.7-4l-5.7-2.8z"/>
<path fill="#00a5cb" d="M553.2 551.7l5.6 2.9l3.2-3.4l-5.6-2.9z"/>
<path fill="#002476" d="M654.8 518.7l4.2 1.6l2.1-14.5l-4.4-1.1z"/>
<path fill="#00a5cb" d="M591.8 563.8l5.6 3l2.9-3.7l-5.6-2.9z"/>
<path fill="#006f7b" d="M656.9 573.2l4.6 0l1.5-3.1l-4.6 0.1z"/>
<path fill="#0090be" d="M643.8 576.7l4.3 1.1l1.8-3.4l-4.3-1.1z"/>
<path fill="#00a1cd" d="M500 543.3l10.2 4.1l3.5-3.4l-10.1-4.1z"/>
<path fill="#007891" d="M652 575.6l4.5 0.4l1.9-3.6l-4.5-0.4z"/>
<path fill="#009ecf" d="M635.6 576.9l4.2 1.6l1.9-3.3l-4.2-1.5z"/>
<path fill="#002476" d="M658.2 519.9l4.2 1.8l2.1-14.2l-2.7-1.5l-1.6-0.4z"/>
<path fill="#00a4cc" d="M524.2 545.6l10.3 4.9l3.4-3.5l-10.2-4.8z"/>
<path fill="#00a3cd" d="M618.5 573.5l5.7 2.8l2.7-4.1l-5.7-2.7z"/>
<path fill="#00a3cc" d="M512.1 544.3l10.3 4.4l3.4-3.4l-10.2-4.4z"/>
<path fill="#e6e6e6" d="M649.5 503.7l4.4 1.2l1.1-1.4l-4.4-1.2z"/>
<path fill="#00a5cb" d="M574.9 558.9l5.6 3.1l3-3.6l-5.6-3z"/>
<path fill="#00a5cb" d="M541.1 549.6l5.6 2.9l3.2-3.5l-5.5-2.8z"/>
<path fill="#00a5cb" d="M596.6 566.4l5.7 3l2.8-3.7l-5.6-3z"/>
<path fill="#002476" d="M661.5 521.4l4.3 1.9l2-13.5l-4.1-2.8z"/>
<path fill="#002479" d="M671.6 526.6l4.1 2.7l1.9-11.1l-4-3.9z"/>
<path fill="#00a5cb" d="M558 554.2l5.6 2.9l3.1-3.5l-5.6-2.9z"/>
<path fill="#002477" d="M664.9 522.9l4.2 2.2l2-12.8l-4.1-3.1z"/>
<path fill="#00a0cd" d="M484.9 545.5l10.1 3.7l6.6-6.2l-10.1-3.7z"/>
<path fill="#002478" d="M668.3 524.7l4.1 2.4l2-12l-4.1-3.5z"/>
<path fill="#0083a8" d="M647.2 577.6l4.4 0.8l1.8-3.5l-4.4-0.7z"/>
<path fill="#009ccf" d="M638.9 578.2l4.3 1.4l1.9-3.4l-4.3-1.3z"/>
<path fill="#00a2cd" d="M623.4 576l4.2 1.9l2.6-4.2l-4.1-1.9z"/>
<path fill="#e6e6e6" d="M652.9 504.6l4.4 1.2l1.1-1.4l-4.4-1.2z"/>
<path fill="#00a5cb" d="M601.5 569l5.7 3l2.8-3.8l-5.7-3z"/>
<path fill="#00a5cb" d="M579.7 561.5l5.6 3.1l3-3.6l-5.6-3z"/>
<path fill="#006f7b" d="M655.5 576l4.6 0l1.9-3.7l-4.6 0z"/>
<path fill="#00a2ce" d="M626.7 577.5l4.2 1.9l2.7-4.3l-4.2-1.8z"/>
<path fill="#00a5cb" d="M545.8 552l5.7 2.9l3.2-3.4l-5.6-2.9z"/>
<path fill="#0091be" d="M642.3 579.3l4.3 1.2l1.9-3.5l-4.3-1.1z"/>
<path fill="#00a5cb" d="M562.8 556.7l5.6 2.9l3.1-3.5l-5.6-2.9z"/>
<path fill="#007891" d="M650.6 578.3l4.5 0.5l1.9-3.6l-4.5-0.4z"/>
<path fill="#e6e6e6" d="M656.4 505.5l4.4 1.2l1.1-1.4l-4.4-1.2z"/>
<path fill="#00a0ce" d="M630.1 579.1l4.2 1.8l2.6-4.5l-4.2-1.6z"/>
<path fill="#00a5cb" d="M606.4 571.6l5.7 3l2.8-3.9l-5.7-2.9z"/>
<path fill="#00a5cb" d="M584.5 564.1l5.7 3.1l2.9-3.7l-5.6-3z"/>
<path fill="#00a4cb" d="M533.7 550l5.6 2.8l3.3-3.4l-5.6-2.8z"/>
<path fill="#009fce" d="M469.6 547.9l10.1 3.6l6.9-6.4l-10.1-3.4z"/>
<path fill="#0084a8" d="M645.7 580.3l4.4 0.8l1.9-3.5l-4.4-0.8z"/>
<path fill="#009fcf" d="M633.4 580.5l4.2 1.7l2.7-4.5l-4.3-1.6z"/>
<path fill="#e6e6e6" d="M659.8 506.4l1.7 0.5l2.8 0.7l1-1.4l-4.4-1.2z"/>
<path fill="#002473" d="M660.4 505.9l4 2.6l0.2-1.8z"/>
<path fill="#00a4cc" d="M611.3 574.2l5.8 3l2.7-4l-5.7-2.9z"/>
<path fill="#00a6ca" d="M567.6 559.2l5.6 3l3.1-3.5l-5.6-3z"/>
<path fill="#00a5cb" d="M550.6 554.5l5.6 2.9l3.2-3.5l-5.6-2.9z"/>
<path fill="#00a5cb" d="M589.4 566.8l5.7 3l2.9-3.7l-5.7-3z"/>
<path fill="#e6e6e6" d="M667.8 508.4l1-1.3l-4.4-1.2l-1.1 1.4z"/>
<path fill="#002473" d="M663.5 508l4.2 2.7l0.4-3.1l-4.4-1.1z"/>
<path fill="#006f7b" d="M654.1 578.7l4.6 0.1l1.9-3.7l-4.6 0z"/>
<path fill="#009dcf" d="M636.8 581.9l4.2 1.5l2.7-4.6l-4.3-1.4z"/>
<path fill="#00a4cc" d="M521.5 548.3l10.3 4.9l3.4-3.4l-10.3-4.9z"/>
<path fill="#00a4cc" d="M616.3 576.8l5.7 2.9l2.7-4.1l-5.7-2.8z"/>
<path fill="#00a3cc" d="M509.3 547l10.3 4.5l3.4-3.4l-10.2-4.5z"/>
<path fill="#e6e6e6" d="M671.4 509.3l0.9-1.3l-4.4-1.2l-1 1.4z"/>
<path fill="#002474" d="M666.8 510.2l4.2 3.1l0.7-4.9l-4.4-1z"/>
<path fill="#00a5cb" d="M538.4 552.4l5.6 2.9l3.3-3.5l-5.5-2.8z"/>
<path fill="#00a6ca" d="M572.4 561.8l5.7 3.1l3-3.6l-5.6-3.1z"/>
<path fill="#007891" d="M649.2 581l4.5 0.5l1.8-3.6l-4.4-0.4z"/>
<path fill="#00a5cb" d="M594.3 569.4l5.7 3.1l2.8-3.8l-5.6-3z"/>
<path fill="#e6e6e6" d="M675 510.1l0.8-1.2l-4.4-1.2l-1 1.3z"/>
<path fill="#002474" d="M670.2 512.6l4 3.5l1.1-6.9l-4.5-1z"/>
<path fill="#00a5cb" d="M555.4 557l5.6 2.9l3.2-3.5l-5.6-2.9z"/>
<path fill="#e6e6e6" d="M678.6 510.9l0.7-1.1l-4.4-1.1l-0.9 1.2z"/>
<path fill="#002475" d="M673.4 515.4l4 3.9l1.5-9.3l-4.5-1z"/>
<path fill="#00a3cd" d="M621.2 579.3l4.2 2.1l2.7-4.2l-4.2-2z"/>
<path fill="#0091be" d="M640.2 583.1l4.3 1.3l2.6-4.8l-4.3-1.1z"/>
<path fill="#00a2cd" d="M624.5 581l4.2 2l2.7-4.3l-4.2-1.9z"/>
<path fill="#00a5cb" d="M599.2 572l5.7 3.1l2.8-3.8l-5.7-3z"/>
<path fill="#00a5cb" d="M577.3 564.4l5.6 3.1l3-3.6l-5.6-3.1z"/>
<path fill="#00a1cd" d="M494.1 548.9l10.3 4.1l6.5-6.3l-10.2-4.1z"/>
<path fill="#00a5cb" d="M543.2 554.8l5.6 2.9l3.3-3.5l-5.6-2.8z"/>
<path fill="#0085a8" d="M643.6 584.1l4.4 1l2.6-4.8l-4.4-0.9z"/>
<path fill="#006f7b" d="M652.7 581.5l4.6 0l1.8-3.6l-4.5-0.1z"/>
<path fill="#00a1ce" d="M627.9 582.6l4.2 1.9l2.6-4.4l-4.1-1.8z"/>
<path fill="#00a5cb" d="M560.2 559.5l5.7 3l3.1-3.6l-5.6-2.9z"/>
<path fill="#00a5cb" d="M604.1 574.7l5.7 3.1l2.8-3.9l-5.7-3z"/>
<path fill="#00a5cb" d="M582.1 567.1l5.7 3.1l3-3.7l-5.7-3.1z"/>
<path fill="#00a4cb" d="M531 552.8l5.6 2.8l3.3-3.5l-5.6-2.7z"/>
<path fill="#00a0ce" d="M631.2 584.1l4.3 1.8l2.6-4.5l-4.2-1.7z"/>
<path fill="#00a5cb" d="M609 577.3l5.8 3.1l2.8-4l-5.8-3z"/>
<path fill="#007991" d="M647 585l4.5 0.6l2.6-4.9l-4.5-0.6z"/>
<path fill="#00a6ca" d="M565.1 562l5.6 3.1l3.1-3.6l-5.6-3z"/>
<path fill="#00a5cb" d="M548 557.3l5.6 2.9l3.3-3.5l-5.6-2.9z"/>
<path fill="#009ecf" d="M634.6 585.5l4.3 1.6l2.6-4.5l-4.3-1.5z"/>
<path fill="#00a5cb" d="M587 569.7l5.7 3.1l2.9-3.7l-5.6-3.1z"/>
<path fill="#00a4cc" d="M614 580l5.8 3.1l2.7-4.1l-5.7-3z"/>
<path fill="#00a4cc" d="M518.7 551.1l10.4 4.9l3.4-3.4l-10.3-4.9z"/>
<path fill="#00a0ce" d="M478.8 551.1l10.2 3.8l6.8-6.4l-10.2-3.7z"/>
<path fill="#00a5cb" d="M535.7 555.2l5.7 2.9l3.3-3.5l-5.6-2.9z"/>
<path fill="#0092bd" d="M638 586.9l4.3 1.3l2.6-4.6l-4.3-1.3z"/>
<path fill="#00a6ca" d="M569.9 564.7l5.7 3.1l3.1-3.6l-5.7-3.1z"/>
<path fill="#00a5cb" d="M591.9 572.4l5.7 3.1l2.9-3.8l-5.7-3z"/>
<path fill="#00a4cc" d="M619 582.6l4.1 2.2l2.7-4.2l-4.1-2.1z"/>
<path fill="#00a5cb" d="M552.8 559.8l5.7 3l3.2-3.6l-5.7-2.9z"/>
<path fill="#006f7b" d="M650.5 585.5l4.6 0.2l2.6-5l-4.6-0.1z"/>
<path fill="#00a3cd" d="M622.3 584.4l4.2 2l2.7-4.2l-4.2-2z"/>
<path fill="#00a5cb" d="M596.8 575.1l5.8 3.1l2.8-3.8l-5.7-3.1z"/>
<path fill="#0085a8" d="M641.4 588l4.4 1.1l2.6-4.8l-4.4-1z"/>
<path fill="#00a6ca" d="M574.8 567.3l5.7 3.2l3-3.7l-5.7-3.1z"/>
<path fill="#00a2cd" d="M625.7 586.1l4.2 1.9l2.6-4.3l-4.1-1.9z"/>
<path fill="#00a5cb" d="M540.5 557.6l5.7 3l3.3-3.6l-5.6-2.9z"/>
<path fill="#00a3cc" d="M503.5 552.6l10.4 4.5l6.3-6.3l-10.2-4.5z"/>
<path fill="#00a5cb" d="M557.7 562.4l5.6 3l3.2-3.6l-5.7-3z"/>
<path fill="#00a5cb" d="M601.8 577.8l5.7 3.2l2.9-4l-5.8-3z"/>
<path fill="#009fce" d="M463.3 553.5l10.2 3.7l7-6.4l-10.2-3.6z"/>
<path fill="#00a1ce" d="M629 587.7l4.3 1.8l2.6-4.4l-4.2-1.8z"/>
<path fill="#00a6ca" d="M579.7 570l5.7 3.1l3-3.7l-5.7-3z"/>
<path fill="#00a4cb" d="M528.2 555.6l5.6 2.8l3.4-3.5l-5.6-2.8z"/>
<path fill="#007991" d="M644.9 588.9l4.5 0.7l2.6-4.9l-4.5-0.6z"/>
<path fill="#00a5cb" d="M606.7 580.5l5.8 3.2l2.8-4l-5.7-3.1z"/>
<path fill="#009fcf" d="M632.4 589.2l4.3 1.7l2.6-4.5l-4.2-1.6z"/>
<path fill="#00a6ca" d="M562.5 564.9l5.7 3.1l3.1-3.6l-5.6-3.1z"/>
<path fill="#00a5cb" d="M545.4 560.1l5.6 3l3.3-3.5l-5.7-3z"/>
<path fill="#00a6ca" d="M584.6 572.7l5.7 3.2l3-3.8l-5.7-3.1z"/>
<path fill="#00a5cb" d="M611.7 583.3l5.8 3.1l2.8-4.1l-5.8-3z"/>
<path fill="#0093bd" d="M635.8 590.6l4.3 1.4l2.7-4.6l-4.3-1.3z"/>
<path fill="#006f7b" d="M648.4 589.5l4.6 0.3l2.6-5l-4.6-0.2z"/>
<path fill="#00a5cb" d="M533 558l5.7 2.9l3.3-3.5l-5.6-2.9z"/>
<path fill="#00a6ca" d="M567.4 567.6l5.7 3.1l3.1-3.6l-5.7-3.1z"/>
<path fill="#00a4cc" d="M616.7 586l4.2 2.2l2.7-4.2l-4.1-2.1z"/>
<path fill="#00a6cb" d="M589.5 575.4l5.8 3.2l2.9-3.8l-5.7-3.1z"/>
<path fill="#00a5cb" d="M550.2 562.7l5.7 3l3.2-3.6l-5.7-3z"/>
<path fill="#0086a8" d="M639.3 591.8l4.3 1.2l2.7-4.7l-4.4-1.1z"/>
<path fill="#00a4cc" d="M620.1 587.8l4.1 2.1l2.8-4.2l-4.2-2.1z"/>
<path fill="#00a1cd" d="M488.1 554.6l10.4 4.1l6.6-6.4l-10.3-4.1z"/>
<path fill="#00a6cb" d="M594.5 578.2l5.7 3.2l2.9-3.9l-5.7-3.1z"/>
<path fill="#00a3cd" d="M623.4 589.5l4.2 2.1l2.7-4.3l-4.1-2z"/>
<path fill="#00a6ca" d="M572.3 570.3l5.7 3.1l3.1-3.7l-5.7-3.1z"/>
<path fill="#00a5cb" d="M537.8 560.5l5.7 2.9l3.3-3.5l-5.6-2.9z"/>
<path fill="#00a4cc" d="M513 556.7l10.4 5l6.3-6.3l-10.3-5z"/>
<path fill="#00a5cb" d="M555.1 565.2l5.7 3.1l3.1-3.6l-5.6-3z"/>
<path fill="#00a2cd" d="M626.8 591.2l4.2 2l2.7-4.4l-4.2-1.9z"/>
<path fill="#007a91" d="M642.7 592.8l4.5 0.8l2.6-4.8l-4.5-0.7z"/>
<path fill="#00a5cb" d="M599.4 580.9l5.8 3.2l2.9-3.9l-5.8-3.1z"/>
<path fill="#00a6ca" d="M577.2 573l5.7 3.2l3.1-3.8l-5.7-3.1z"/>
<path fill="#00a0ce" d="M630.2 592.8l4.3 1.8l2.6-4.5l-4.2-1.7z"/>
<path fill="#00a5cb" d="M604.4 583.7l5.8 3.2l2.8-4l-5.7-3.1z"/>
<path fill="#00a5cb" d="M542.7 563l5.7 3l3.2-3.6l-5.6-2.9z"/>
<path fill="#00a6ca" d="M559.9 567.8l5.7 3.2l3.2-3.7l-5.7-3.1z"/>
<path fill="#0094bd" d="M633.6 594.3l4.3 1.5l2.7-4.5l-4.3-1.5z"/>
<path fill="#00a6ca" d="M582.1 575.7l5.8 3.2l3-3.8l-5.7-3.1z"/>
<path fill="#00a0cd" d="M472.5 556.8l10.4 3.9l6.9-6.4l-10.3-3.9z"/>
<path fill="#006f7b" d="M646.2 593.5l4.6 0.3l2.6-4.9l-4.5-0.3z"/>
<path fill="#00a5cb" d="M609.4 586.5l5.8 3.2l2.8-4l-5.8-3.2z"/>
<path fill="#00a5cb" d="M614.5 589.3l4.1 2.3l2.8-4.2l-4.2-2.2z"/>
<path fill="#00a6ca" d="M564.8 570.5l5.8 3.2l3.1-3.7l-5.7-3.1z"/>
<path fill="#00a4cb" d="M522.6 561.3l5.7 2.9l6.2-6.4l-5.6-2.9z"/>
<path fill="#0087a7" d="M637.1 595.5l4.3 1.3l2.7-4.6l-4.4-1.2z"/>
<path fill="#00a6ca" d="M587.1 578.5l5.8 3.2l2.9-3.8l-5.7-3.2z"/>
<path fill="#00a5cb" d="M547.5 565.6l5.7 3l3.3-3.6l-5.7-3z"/>
<path fill="#00a4cc" d="M617.8 591.2l4.2 2.2l2.7-4.2l-4.1-2.2z"/>
<path fill="#00a4cc" d="M621.2 593l4.2 2.1l2.7-4.3l-4.2-2z"/>
<path fill="#00a6ca" d="M592.1 581.2l5.8 3.3l2.9-3.9l-5.8-3.2z"/>
<path fill="#00a2cd" d="M497.6 558.3l10.4 4.6l6.5-6.4l-10.3-4.6z"/>
<path fill="#00a6ca" d="M569.8 573.3l5.7 3.1l3.1-3.7l-5.7-3.1z"/>
<path fill="#009fce" d="M456.8 559.3l10.3 3.7l7.1-6.5l-10.2-3.7z"/>
<path fill="#007a91" d="M640.5 596.6l4.5 0.9l2.6-4.8l-4.4-0.8z"/>
<path fill="#00a3cd" d="M624.6 594.7l4.2 2l2.7-4.3l-4.2-2z"/>
<path fill="#00a5cb" d="M552.4 568.2l5.7 3.1l3.3-3.7l-5.7-3z"/>
<path fill="#00a5cb" d="M527.4 563.7l5.7 3l6.2-6.5l-5.6-2.9z"/>
<path fill="#00a6ca" d="M597.1 584.1l5.8 3.2l2.8-3.9l-5.7-3.2z"/>
<path fill="#00a1ce" d="M628 596.4l4.2 1.8l2.7-4.4l-4.2-1.8z"/>
<path fill="#00a6ca" d="M574.7 576l5.8 3.2l3-3.7l-5.7-3.2z"/>
<path fill="#00a6ca" d="M602.1 586.9l5.8 3.3l2.8-4l-5.7-3.2z"/>
<path fill="#006f7b" d="M644 597.4l4.6 0.4l2.7-4.9l-4.6-0.3z"/>
<path fill="#0095bd" d="M631.4 597.9l4.3 1.7l2.7-4.6l-4.3-1.5z"/>
<path fill="#00a6ca" d="M557.3 570.8l5.8 3.2l3.1-3.7l-5.6-3.1z"/>
<path fill="#00a6ca" d="M579.7 578.8l5.7 3.2l3.1-3.8l-5.8-3.2z"/>
<path fill="#00a5cb" d="M607.1 589.8l5.8 3.3l2.9-4.1l-5.8-3.2z"/>
<path fill="#00a5cb" d="M532.3 566.2l5.7 3.1l6.1-6.5l-5.6-3z"/>
<path fill="#0087a7" d="M634.9 599.3l4.3 1.3l2.7-4.6l-4.4-1.3z"/>
<path fill="#00a5cb" d="M612.2 592.6l4.1 2.4l2.8-4.2l-4.1-2.2z"/>
<path fill="#00a6ca" d="M562.3 573.5l5.7 3.2l3.2-3.7l-5.8-3.2z"/>
<path fill="#00a6ca" d="M584.6 581.5l5.8 3.3l3-3.8l-5.7-3.2z"/>
<path fill="#00a1cd" d="M481.9 560.3l10.5 4.2l6.8-6.5l-10.4-4.1z"/>
<path fill="#00a5cb" d="M615.5 594.5l4.2 2.3l2.8-4.2l-4.2-2.2z"/>
<path fill="#00a4cc" d="M618.9 596.4l4.2 2.2l2.8-4.2l-4.2-2.2z"/>
<path fill="#00a5cb" d="M537.2 568.8l5.7 3.1l6.1-6.6l-5.7-3z"/>
<path fill="#007a91" d="M638.3 600.4l4.5 1l2.7-4.7l-4.5-0.9z"/>
<path fill="#00a6ca" d="M589.6 584.4l5.8 3.3l3-3.9l-5.8-3.3z"/>
<path fill="#00a4cc" d="M507.1 562.5l10.6 5l6.4-6.4l-10.4-5z"/>
<path fill="#00a6ca" d="M567.2 576.3l5.8 3.2l3.1-3.8l-5.7-3.1z"/>
<path fill="#00a3cc" d="M622.3 598.2l4.2 2.1l2.8-4.3l-4.2-2.1z"/>
<path fill="#00a6ca" d="M594.7 587.2l5.8 3.4l2.9-4l-5.8-3.3z"/>
<path fill="#00a2cd" d="M625.7 599.9l4.3 2l2.7-4.4l-4.2-1.9z"/>
<path fill="#00a6ca" d="M572.2 579l5.8 3.3l3-3.8l-5.7-3.2z"/>
<path fill="#00a5cb" d="M542.1 571.5l5.8 3.1l6-6.7l-5.7-3z"/>
<path fill="#00707b" d="M641.8 601.2l4.6 0.5l2.7-4.8l-4.6-0.4z"/>
<path fill="#00a6ca" d="M599.7 590.1l5.8 3.4l2.9-4l-5.8-3.3z"/>
<path fill="#0096bc" d="M629.2 601.5l4.3 1.8l2.7-4.5l-4.3-1.7z"/>
<path fill="#00a0cd" d="M466.1 562.6l10.4 3.9l7.1-6.5l-10.3-3.9z"/>
<path fill="#00a6ca" d="M604.7 593l5.9 3.4l2.9-4.1l-5.9-3.3z"/>
<path fill="#00a6ca" d="M577.2 581.8l5.8 3.3l3-3.8l-5.8-3.3z"/>
<path fill="#0088a7" d="M632.6 603l4.4 1.4l2.7-4.6l-4.4-1.3z"/>
<path fill="#00a5cb" d="M547.1 574.1l5.7 3.2l6-6.7l-5.8-3.1z"/>
<path fill="#00a6cb" d="M609.8 596l4.2 2.3l2.8-4.1l-4.1-2.3z"/>
<path fill="#00a4cb" d="M516.8 567.1l5.8 2.9l6.3-6.5l-5.6-2.9z"/>
<path fill="#00a5cb" d="M613.2 597.9l4.2 2.3l2.8-4.1l-4.2-2.3z"/>
<path fill="#00a6ca" d="M582.2 584.6l5.8 3.4l3-3.9l-5.8-3.3z"/>
<path fill="#009fce" d="M450.2 565.2l10.3 3.7l7.3-6.6l-10.2-3.7z"/>
<path fill="#007b91" d="M636.1 604.2l4.5 1l2.7-4.6l-4.5-1z"/>
<path fill="#00a5cb" d="M616.6 599.8l4.2 2.3l2.8-4.2l-4.2-2.3z"/>
<path fill="#00a2cc" d="M491.5 564.1l10.5 4.6l6.7-6.5l-10.4-4.5z"/>
<path fill="#00a6ca" d="M552 576.8l5.8 3.3l5.9-6.8l-5.8-3.2z"/>
<path fill="#00a6ca" d="M587.2 587.5l5.8 3.3l3-3.9l-5.8-3.3z"/>
<path fill="#00a4cc" d="M620 601.7l4.3 2.2l2.7-4.4l-4.2-2.1z"/>
<path fill="#00a5cb" d="M521.7 569.6l5.8 3l6.3-6.6l-5.7-2.9z"/>
<path fill="#00a2cd" d="M623.5 603.5l4.2 2l2.8-4.4l-4.3-1.9z"/>
<path fill="#00a6ca" d="M592.2 590.4l5.9 3.4l2.9-4l-5.8-3.3z"/>
<path fill="#00707b" d="M639.6 605.1l4.6 0.5l2.7-4.7l-4.6-0.5z"/>
<path fill="#00a6ca" d="M557 579.6l5.8 3.3l5.8-6.9l-5.7-3.2z"/>
<path fill="#0096bc" d="M626.9 605.1l4.3 1.8l2.8-4.4l-4.4-1.8z"/>
<path fill="#00a6ca" d="M597.3 593.3l5.9 3.5l2.9-4.1l-5.9-3.3z"/>
<path fill="#0088a7" d="M630.4 606.6l4.4 1.5l2.7-4.5l-4.4-1.4z"/>
<path fill="#00a6ca" d="M602.4 596.3l5.8 3.4l2.9-4l-5.8-3.4z"/>
<path fill="#00a6ca" d="M562 582.4l5.8 3.3l5.8-6.9l-5.8-3.2z"/>
<path fill="#00a5cb" d="M526.7 572.1l5.7 3.1l6.3-6.6l-5.7-3z"/>
<path fill="#00a6ca" d="M607.5 599.3l4.2 2.4l2.8-4.1l-4.2-2.4z"/>
<path fill="#00a1cd" d="M475.6 566.2l10.5 4.1l7-6.5l-10.4-4.2z"/>
<path fill="#00a6cb" d="M610.9 601.3l4.2 2.4l2.8-4.2l-4.2-2.3z"/>
<path fill="#007b91" d="M633.9 607.9l4.5 1.1l2.7-4.6l-4.5-1.1z"/>
<path fill="#00a6ca" d="M567 585.2l5.8 3.3l5.7-6.9l-5.7-3.3z"/>
<path fill="#00a5cb" d="M614.3 603.2l4.2 2.4l2.8-4.3l-4.2-2.2z"/>
<path fill="#00a5cb" d="M531.6 574.8l5.8 3.1l6.2-6.7l-5.8-3.1z"/>
<path fill="#00a4cc" d="M501.1 568.3l10.7 5l6.6-6.4l-10.6-5.1z"/>
<path fill="#00a4cc" d="M617.7 605.1l4.3 2.3l2.8-4.3l-4.3-2.2z"/>
<path fill="#00a6ca" d="M572 588.1l5.9 3.3l5.6-7l-5.8-3.3z"/>
<path fill="#00a3cd" d="M621.2 607l4.3 2l2.7-4.3l-4.2-2z"/>
<path fill="#00707b" d="M637.4 608.8l4.6 0.7l2.7-4.7l-4.6-0.6z"/>
<path fill="#009fce" d="M446.8 568.2l10.4 3.8l4.1-3.7l-10.4-3.8z"/>
<path fill="#00a0cd" d="M459.6 568.6l10.4 3.9l7.3-6.7l-10.4-3.8z"/>
<path fill="#0097bc" d="M624.6 608.7l4.4 1.8l2.7-4.4l-4.3-1.8z"/>
<path fill="#00a5cb" d="M536.6 577.5l5.8 3.2l6.1-6.8l-5.8-3.1z"/>
<path fill="#00a6ca" d="M577.1 591l5.9 3.3l5.5-7.1l-5.8-3.3z"/>
<path fill="#0089a7" d="M628.1 610.2l4.4 1.6l2.8-4.5l-4.4-1.5z"/>
<path fill="#00a6ca" d="M582.2 593.9l5.9 3.4l5.5-7.2l-5.9-3.3z"/>
<path fill="#00a6ca" d="M541.6 580.2l5.8 3.3l6-6.9l-5.7-3.2z"/>
<path fill="#00a4cb" d="M510.9 572.9l5.8 2.9l6.5-6.4l-5.7-2.9z"/>
<path fill="#00a6ca" d="M587.3 596.8l5.9 3.5l5.4-7.2l-5.8-3.4z"/>
<path fill="#007b91" d="M631.6 611.5l4.5 1.2l2.7-4.5l-4.4-1.1z"/>
<path fill="#00a2cc" d="M485.2 569.9l10.6 4.5l6.9-6.4l-10.5-4.5z"/>
<path fill="#00a6ca" d="M592.4 599.8l5.9 3.6l5.4-7.4l-5.9-3.4z"/>
<path fill="#00a6ca" d="M546.6 583l5.8 3.3l6-6.9l-5.8-3.3z"/>
<path fill="#00a6ca" d="M597.5 602.9l6 3.5l5.3-7.4l-5.9-3.4z"/>
<path fill="#009fce" d="M443.4 571.3l10.4 3.7l4.1-3.7l-10.3-3.8z"/>
<path fill="#00707b" d="M635.2 612.6l4.6 0.6l2.7-4.6l-4.6-0.6z"/>
<path fill="#00a5cb" d="M515.9 575.3l5.8 3l6.4-6.4l-5.7-3z"/>
<path fill="#00a6ca" d="M602.7 606l4.2 2.5l5.3-7.5l-4.2-2.5z"/>
<path fill="#00a6ca" d="M551.6 585.8l5.8 3.3l6-6.9l-5.8-3.3z"/>
<path fill="#00a6ca" d="M606.1 608l4.3 2.5l5.2-7.6l-4.2-2.4z"/>
<path fill="#00a5cb" d="M609.6 610l4.2 2.5l5.2-7.7l-4.2-2.3z"/>
<path fill="#00a5cb" d="M613 612l4.3 2.3l5.2-7.7l-4.3-2.2z"/>
<path fill="#00a6ca" d="M556.6 588.7l5.9 3.3l5.9-7l-5.8-3.3z"/>
<path fill="#00a5ca" d="M520.8 577.9l5.8 3l6.5-6.3l-5.8-3.1z"/>
<path fill="#00a0cd" d="M469.1 572.1l10.6 4.1l7.1-6.6l-10.5-4.1z"/>
<path fill="#00a4cc" d="M616.5 613.9l4.3 2.2l5.1-7.8l-4.2-2.1z"/>
<path fill="#009fcd" d="M456.2 571.6l10.5 3.9l4.1-3.7l-10.5-3.9z"/>
<path fill="#0098bb" d="M620 615.7l4.4 2l5.1-7.9l-4.4-1.9z"/>
<path fill="#00a6ca" d="M561.7 591.6l5.9 3.3l5.8-7.1l-5.8-3.3z"/>
<path fill="#0089a7" d="M623.5 617.4l4.4 1.6l5.1-8l-4.4-1.6z"/>
<path fill="#00a6ca" d="M525.8 580.5l5.9 3.1l6.3-6.3l-5.8-3.2z"/>
<path fill="#009fce" d="M439.9 574.4l10.5 3.8l4.1-3.8l-10.4-3.8z"/>
<path fill="#00a3cb" d="M494.9 574l10.8 4.8l6.8-6.1l-10.7-5.1z"/>
<path fill="#00a6ca" d="M566.8 594.5l5.9 3.3l5.8-7.1l-5.9-3.3z"/>
<path fill="#007c91" d="M627.1 618.8l4.5 1.3l5-8.2l-4.5-1.2z"/>
<path fill="#00a6ca" d="M571.9 597.4l5.9 3.4l5.7-7.2l-5.8-3.4z"/>
<path fill="#00a6ca" d="M530.8 583.1l5.9 3.2l6.3-6.3l-5.8-3.2z"/>
<path fill="#009fce" d="M452.8 574.7l10.6 3.9l4.1-3.8l-10.5-3.9z"/>
<path fill="#00a6ca" d="M577 600.4l6 3.4l5.6-7.2l-5.9-3.4z"/>
<path fill="#00707b" d="M630.6 619.9l4.7 0.8l5-8.3l-4.6-0.7z"/>
<path fill="#00a6c9" d="M535.9 585.9l5.8 3.2l6.3-6.3l-5.8-3.2z"/>
<path fill="#00a6ca" d="M582.2 603.4l5.9 3.5l5.6-7.3l-5.9-3.5z"/>
<path fill="#00a4cb" d="M504.8 578.4l5.9 2.8l6.7-6.1l-5.8-2.9z"/>
<path fill="#00a1cc" d="M478.8 575.8l10.7 4.3l7.1-6.4l-10.7-4.4z"/>
<path fill="#009fce" d="M436.4 577.5l10.5 3.8l4.2-3.8l-10.4-3.8z"/>
<path fill="#00a6c9" d="M587.4 606.4l5.9 3.6l5.5-7.4l-5.9-3.5z"/>
<path fill="#00a0cd" d="M465.8 575.1l10.6 4.1l4-3.7l-10.6-4.1z"/>
<path fill="#00a6c9" d="M540.9 588.6l5.9 3.3l6.2-6.3l-5.8-3.3z"/>
<path fill="#00a7c9" d="M592.6 609.6l5.9 3.6l5.5-7.5l-5.9-3.5z"/>
<path fill="#00a6ca" d="M597.8 612.7l4.2 2.6l5.4-7.6l-4.2-2.5z"/>
<path fill="#00a5ca" d="M509.8 580.8l5.9 2.8l6.7-5.9l-5.9-3z"/>
<path fill="#00a6ca" d="M601.2 614.8l4.3 2.5l5.4-7.5l-4.3-2.5z"/>
<path fill="#00a6c9" d="M546 591.4l5.9 3.3l6.2-6.2l-5.9-3.3z"/>
<path fill="#00a6ca" d="M604.7 616.9l4.3 2.4l5.3-7.6l-4.2-2.4z"/>
<path fill="#009fce" d="M449.4 577.8l10.6 3.9l4.1-3.8l-10.5-3.9z"/>
<path fill="#00a5cb" d="M608.2 618.9l4.3 2.4l5.3-7.7l-4.3-2.3z"/>
<path fill="#00a4cc" d="M611.7 620.8l4.4 2.3l5.2-7.7l-4.3-2.2z"/>
<path fill="#009fce" d="M433.9 579.7l10.5 3.9l3.2-3l-10.4-3.8z"/>
<path fill="#00a6c9" d="M551.1 594.2l6 3.3l6-6.2l-5.8-3.3z"/>
<path fill="#00a5ca" d="M514.8 583.2l5.9 2.9l6.7-5.8l-5.9-3.1z"/>
<path fill="#0098bb" d="M615.3 622.7l4.4 2l5.2-7.8l-4.4-1.9z"/>
<path fill="#00a0cd" d="M462.4 578.2l10.7 4l4.1-3.7l-10.7-4z"/>
<path fill="#00a6c8" d="M556.2 597.1l6 3.3l6-6.2l-5.9-3.3z"/>
<path fill="#008aa6" d="M618.8 624.4l4.5 1.7l5.1-7.8l-4.4-1.7z"/>
<path fill="#00a2cc" d="M488.6 579.7l10.8 4.6l7-6.1l-10.7-4.9z"/>
<path fill="#00a5c9" d="M519.8 585.7l5.9 2.9l6.7-5.6l-5.9-3.2z"/>
<path fill="#009fce" d="M432.1 581.3l10.5 3.9l2.6-2.3l-10.5-3.8z"/>
<path fill="#007c91" d="M622.4 625.8l4.5 1.4l5.2-7.9l-4.5-1.3z"/>
<path fill="#00a7c8" d="M561.4 599.9l6 3.4l5.9-6.1l-5.9-3.4z"/>
<path fill="#00a1cd" d="M475.5 578.8l10.7 4.2l4-3.5l-10.7-4.4z"/>
<path fill="#009fce" d="M445.9 581l10.6 3.9l4.2-3.9l-10.6-3.9z"/>
<path fill="#00a7c8" d="M566.6 602.8l6 3.4l5.8-6.1l-5.9-3.4z"/>
<path fill="#00a5c8" d="M524.9 588.2l5.9 3l6.6-5.5l-5.9-3.2z"/>
<path fill="#009fce" d="M430.8 582.5l10.6 3.9l2-1.9l-10.5-3.8z"/>
<path fill="#00707b" d="M626 627l4.7 0.8l5.1-8l-4.7-0.8z"/>
<path fill="#00a7c8" d="M571.8 605.8l6 3.4l5.8-6.1l-6-3.4z"/>
<path fill="#009fce" d="M430.2 583.1l10.5 3.8l1.4-1.2l-10.5-3.9z"/>
<path fill="#00a3cb" d="M498.5 583.9l5.9 2.6l7-6l-5.9-2.7z"/>
<path fill="#009fcd" d="M459 581.3l10.7 4l4.1-3.8l-10.6-4z"/>
<path fill="#009fce" d="M429.7 583.5l10.6 3.8l1.2-1l-10.6-3.9z"/>
<path fill="#00a6c8" d="M530 590.8l5.9 3l6.6-5.4l-5.9-3.2z"/>
<path fill="#00a7c7" d="M577 608.8l6 3.5l5.7-6.1l-5.9-3.5z"/>
<path fill="#009fcd" d="M429.4 583.7l10.6 3.9l1.1-0.9l-10.6-3.9z"/>
<path fill="#009fcd" d="M429.2 583.9l10.6 3.8l1-0.8l-10.6-3.9z"/>
<path fill="#00a7c7" d="M582.2 611.8l6.1 3.6l5.6-6.1l-5.9-3.6z"/>
<path fill="#009fce" d="M443.5 583.2l10.6 3.9l3.2-2.9l-10.6-3.9z"/>
<path fill="#00a7c7" d="M587.5 614.9l6 3.6l5.6-6l-6-3.6z"/>
<path fill="#00a0cd" d="M472.2 581.9l10.8 4.1l4-3.6l-10.8-4.3z"/>
<path fill="#00a6c7" d="M535.1 593.4l6 3.1l6.4-5.3l-5.9-3.2z"/>
<path fill="#00a4ca" d="M503.5 586.1l6 2.7l6.9-5.8l-5.9-2.9z"/>
<path fill="#00a7c7" d="M592.7 618l4.4 2.6l5.5-6.1l-4.3-2.5z"/>
<path fill="#00a7c7" d="M596.3 620.1l4.3 2.6l5.5-6.1l-4.3-2.5z"/>
<path fill="#00a2cc" d="M485.3 582.7l10.9 4.4l4-3.4l-10.9-4.6z"/>
<path fill="#00a7c7" d="M599.8 622.2l4.4 2.5l5.4-6.1l-4.3-2.5z"/>
<path fill="#00a6c7" d="M540.2 596l6 3.1l6.5-5l-6-3.3z"/>
<path fill="#009fce" d="M441.7 584.8l10.6 4l2.5-2.4l-10.6-3.9z"/>
<path fill="#00a6c7" d="M603.4 624.3l4.3 2.4l5.4-6.1l-4.3-2.4z"/>
<path fill="#009fcd" d="M455.6 584.5l10.7 4l4.2-3.9l-10.7-3.9z"/>
<path fill="#00a5c8" d="M606.9 626.3l4.4 2.3l5.4-6.2l-4.4-2.3z"/>
<path fill="#00a4ca" d="M508.6 588.4l5.9 2.7l6.9-5.6l-5.9-3z"/>
<path fill="#0099b8" d="M610.5 628.2l4.4 2.2l5.3-6.4l-4.4-2z"/>
<path fill="#00a6c6" d="M545.4 598.7l6 3.1l6.4-4.9l-6-3.3z"/>
<path fill="#009fce" d="M440.4 586l10.7 4l2-1.9l-10.7-3.9z"/>
<path fill="#008ba4" d="M614.1 630l4.5 2l5.2-6.6l-4.4-1.8z"/>
<path fill="#00a0cd" d="M468.8 585l10.8 4.1l4.1-3.8l-10.8-4.1z"/>
<path fill="#009fce" d="M439.8 586.6l10.6 3.9l1.4-1.2l-10.6-4z"/>
<path fill="#00a6c6" d="M550.5 601.4l6.1 3.2l6.3-4.8l-6-3.4z"/>
<path fill="#00a4c9" d="M513.6 590.7l6 2.7l6.9-5.4l-5.9-3z"/>
<path fill="#007d90" d="M617.7 631.6l4.6 1.8l5.2-7l-4.6-1.3z"/>
<path fill="#009fcd" d="M439.3 587l10.7 3.9l1.2-1l-10.7-4z"/>
<path fill="#00a2cb" d="M495.3 586.7l5.9 2.5l4-3.3l-6-2.6z"/>
<path fill="#009fcd" d="M439 587.2l10.7 3.9l1.1-0.9l-10.7-3.9z"/>
<path fill="#00a1cc" d="M482 585.7l11 4.3l4-3.5l-10.9-4.5z"/>
<path fill="#009fcc" d="M438.8 587.4l10.7 3.9l1.1-0.8l-10.8-4z"/>
<path fill="#009fce" d="M453.2 586.8l10.7 4l3.2-3l-10.8-4z"/>
<path fill="#00a6c5" d="M555.8 604.1l6.1 3.2l6.2-4.6l-6-3.4z"/>
<path fill="#00717b" d="M621.4 633.1l4.6 1.5l5.2-7.6l-4.6-0.8z"/>
<path fill="#00a4c8" d="M518.7 593l6.1 2.8l6.8-5.2l-6-3z"/>
<path fill="#00a6c4" d="M561 606.9l6.1 3.2l6.2-4.5l-6-3.4z"/>
<path fill="#00a3cb" d="M500.3 588.9l6 2.5l3.9-3.3l-5.9-2.6z"/>
<path fill="#009fce" d="M451.4 588.4l10.8 4l2.5-2.3l-10.8-4z"/>
<path fill="#00a6c4" d="M566.3 609.7l6.1 3.3l6.1-4.4l-6-3.5z"/>
<path fill="#00a0cd" d="M465.4 588.1l10.9 4.1l4.1-3.8l-10.9-4.1z"/>
<path fill="#00a4c7" d="M523.9 595.4l6.1 2.8l6.7-5l-6-3.1z"/>
<path fill="#00a6c3" d="M571.6 612.5l6.1 3.4l6.1-4.2l-6.1-3.6z"/>
<path fill="#00a2cc" d="M492 589.6l6 2.4l4-3.4l-6-2.5z"/>
<path fill="#009fce" d="M450.1 589.6l10.8 4l2-1.9l-10.8-4z"/>
<path fill="#00a3ca" d="M505.4 591l6 2.6l3.9-3.2l-6-2.7z"/>
<path fill="#00a0cc" d="M478.7 588.7l11 4.2l4-3.6l-10.9-4.3z"/>
<path fill="#00a6c2" d="M576.9 615.4l6.2 3.5l5.9-4.1l-6.1-3.6z"/>
<path fill="#00a4c7" d="M529 597.8l6.1 2.9l6.8-4.8l-6.1-3.1z"/>
<path fill="#009fcd" d="M449.5 590.2l10.8 4l1.4-1.3l-10.8-4z"/>
<path fill="#00a6c2" d="M582.2 618.4l6.2 3.5l5.9-4l-6.1-3.6z"/>
<path fill="#009fcd" d="M449 590.5l10.9 4l1.2-1l-10.9-4z"/>
<path fill="#00a0cc" d="M448.7 590.8l10.9 3.9l1.1-0.8l-10.9-4z"/>
<path fill="#009fcd" d="M463 590.4l10.9 4.1l3.1-3l-10.9-4z"/>
<path fill="#00a6c1" d="M587.6 621.4l4.4 2.6l5.8-4l-4.4-2.6z"/>
<path fill="#00a3c9" d="M510.5 593.2l6 2.7l3.9-3.1l-6-2.8z"/>
<path fill="#00a2cb" d="M497.1 591.7l6 2.4l4-3.3l-6-2.6z"/>
<path fill="#00a0ca" d="M448.4 590.9l10.9 4l1.2-0.8l-10.9-4z"/>
<path fill="#00a4c6" d="M534.2 600.2l6.2 2.9l6.7-4.6l-6.1-3.1z"/>
<path fill="#00a6c1" d="M591.2 623.5l4.4 2.5l5.8-3.9l-4.4-2.6z"/>
<path fill="#00a5c1" d="M594.8 625.5l4.4 2.6l5.7-4l-4.4-2.5z"/>
<path fill="#00a5c1" d="M598.4 627.6l4.5 2.5l5.6-4l-4.5-2.5z"/>
<path fill="#00a5c2" d="M602 629.6l4.5 2.6l5.5-4.2l-4.4-2.4z"/>
<path fill="#00a4c5" d="M539.4 602.7l6.2 2.9l6.7-4.4l-6.1-3.1z"/>
<path fill="#00a1cc" d="M488.7 592.6l6 2.3l4.1-3.5l-6-2.5z"/>
<path fill="#00a0cd" d="M475.3 591.9l11.1 4.1l4-3.7l-11-4.3z"/>
<path fill="#009fce" d="M461.3 592.1l10.9 4l2.4-2.3l-10.9-4.1z"/>
<path fill="#00a3c9" d="M515.6 595.4l6.1 2.7l3.9-2.9l-6.1-2.8z"/>
<path fill="#0099b3" d="M605.6 631.7l4.6 2.5l5.4-4.5l-4.4-2.2z"/>
<path fill="#00a2ca" d="M502.2 593.7l6 2.5l4-3.2l-6.1-2.6z"/>
<path fill="#008ca1" d="M609.3 633.7l4.5 2.6l5.5-5l-4.6-2z"/>
<path fill="#007f8e" d="M613 635.8l4.5 2.6l5.4-5.7l-4.6-1.8z"/>
<path fill="#00a4c4" d="M544.7 605.2l6.2 2.9l6.6-4.1l-6.1-3.2z"/>
<path fill="#009fce" d="M460 593.3l10.9 4l2-1.9l-10.9-4z"/>
<path fill="#00727a" d="M616.7 637.9l4.4 3.2l5.4-7.2l-4.5-1.6z"/>
<path fill="#00a3c8" d="M520.8 597.7l6.1 2.7l3.9-2.8l-6.1-2.8z"/>
<path fill="#00a1cc" d="M493.8 594.6l6.1 2.3l4-3.4l-6.1-2.5z"/>
<path fill="#00a2ca" d="M507.3 595.8l6.1 2.6l3.9-3.2l-6-2.6z"/>
<path fill="#009fcd" d="M459.4 593.8l10.9 4.1l1.4-1.3l-11-4z"/>
<path fill="#00a4c4" d="M550 607.7l6.2 3l6.6-3.9l-6.2-3.3z"/>
<path fill="#009fcc" d="M458.9 594.2l11 4l1.2-1l-11-4.1z"/>
<path fill="#00a0cd" d="M473 594.1l11 4.2l3.1-3l-11-4.1z"/>
<path fill="#00a0ca" d="M458.5 594.4l11.1 4l1.2-0.8l-11.1-4.1z"/>
<path fill="#00a0cc" d="M485.4 595.7l6 2.3l4.1-3.7l-6-2.4z"/>
<path fill="#009fc7" d="M458.2 594.5l11.1 4l1.4-0.6l-11.3-4.2z"/>
<path fill="#00a3c7" d="M525.9 600l6.2 2.8l3.9-2.7l-6.2-2.9z"/>
<path fill="#00a4c3" d="M555.3 610.2l6.3 3.1l6.4-3.7l-6.2-3.3z"/>
<path fill="#00a1cb" d="M498.9 596.6l6.1 2.4l4-3.4l-6.1-2.5z"/>
<path fill="#00a2c9" d="M512.4 598l6.2 2.6l3.9-3.1l-6.1-2.7z"/>
<path fill="#00a4c2" d="M560.6 612.9l6.4 3.1l6.3-3.5l-6.2-3.4z"/>
<path fill="#009fcd" d="M471.2 595.8l11.1 4.1l2.4-2.3l-11-4.2z"/>
<path fill="#00a3c6" d="M531.2 602.3l6.2 2.8l3.8-2.6l-6.1-2.9z"/>
<path fill="#00a0cc" d="M490.5 597.6l6.1 2.3l4-3.6l-6-2.4z"/>
<path fill="#00a4c1" d="M566 615.5l6.4 3.2l6.3-3.3l-6.3-3.5z"/>
<path fill="#00a2c9" d="M517.6 600.2l6.2 2.6l3.9-3l-6.1-2.7z"/>
<path fill="#00a1cb" d="M504.1 598.6l6.1 2.5l4-3.4l-6.1-2.5z"/>
<path fill="#009fcd" d="M470 597l11.1 4.1l1.9-1.9l-11-4.1z"/>
<path fill="#00a0cd" d="M483.1 597.9l6 2.3l3.1-2.9l-6.1-2.3z"/>
<path fill="#00a3c6" d="M536.4 604.7l6.3 2.8l3.8-2.5l-6.2-2.9z"/>
<path fill="#00a4c0" d="M571.4 618.2l6.4 3.3l6.2-3.1l-6.3-3.5z"/>
<path fill="#009fcd" d="M469.4 597.5l11.1 4.2l1.3-1.3l-11.1-4.1z"/>
<path fill="#00a0cb" d="M468.9 597.9l11.1 4.1l1.3-1l-11.2-4.1z"/>
<path fill="#00a4bf" d="M576.8 621l6.4 3.4l6.2-3l-6.3-3.6z"/>
<path fill="#00a2c8" d="M522.8 602.4l6.2 2.6l4-2.8l-6.2-2.8z"/>
<path fill="#00a1cc" d="M495.6 599.6l6.1 2.3l4.1-3.6l-6.1-2.4z"/>
<path fill="#00a0c8" d="M468.5 598l11.2 4.1l1.3-0.7l-11.3-4.2z"/>
<path fill="#00a2ca" d="M509.2 600.7l6.2 2.5l4-3.3l-6.2-2.6z"/>
<path fill="#00a3c5" d="M541.7 607.1l6.3 2.9l3.8-2.4l-6.2-3z"/>
<path fill="#009ec3" d="M468.1 598.1l11.3 4.1l1.5-0.5l-11.4-4.3z"/>
<path fill="#00a4bf" d="M582.3 623.9l4.6 2.5l6.1-2.9l-4.6-2.6z"/>
<path fill="#009fcd" d="M481.4 599.6l6 2.2l2.4-2.3l-6-2.3z"/>
<path fill="#00a0cd" d="M488.2 599.8l6.1 2.3l3-2.9l-6.1-2.3z"/>
<path fill="#00a4be" d="M585.9 625.9l4.6 2.5l6.1-2.9l-4.6-2.6z"/>
<path fill="#00a4be" d="M589.6 627.9l4.6 2.6l6-2.9l-4.6-2.6z"/>
<path fill="#00a2c7" d="M528.1 604.6l6.2 2.7l3.9-2.8l-6.2-2.8z"/>
<path fill="#00a3c4" d="M547 609.5l6.3 2.9l3.9-2.2l-6.3-3.1z"/>
<path fill="#00a4be" d="M593.3 629.9l4.6 2.7l5.9-3l-4.6-2.6z"/>
<path fill="#009fcd" d="M480.2 600.8l6 2.2l1.9-1.9l-6-2.2z"/>
<path fill="#00a1cb" d="M500.8 601.5l6.1 2.4l4-3.5l-6.1-2.5z"/>
<path fill="#00a2c9" d="M514.4 602.8l6.2 2.5l4-3.2l-6.2-2.6z"/>
<path fill="#00a4be" d="M597 632.1l4.6 2.7l5.8-3.2l-4.6-2.5z"/>
<path fill="#007279" d="M612 642.4l4.2 5.1l5.5-7.1l-4.3-3.1z"/>
<path fill="#009aaf" d="M600.7 634.3l4.6 2.9l5.7-3.6l-4.5-2.5z"/>
<path fill="#008d9e" d="M604.5 636.6l4.5 3.2l5.6-4.1l-4.5-2.6z"/>
<path fill="#00808c" d="M608.3 639.3l4.3 3.7l5.6-5.2l-4.5-2.6z"/>
<path fill="#00a0cd" d="M486.5 601.5l6.1 2.3l2.4-2.4l-6.1-2.3z"/>
<path fill="#009fcd" d="M479.5 601.3l6.1 2.3l1.3-1.3l-6-2.2z"/>
<path fill="#00a0cc" d="M493.3 601.8l6.1 2.3l3.1-2.9l-6.1-2.3z"/>
<path fill="#00a3c3" d="M552.4 612l6.3 2.9l3.8-2.1l-6.3-3.1z"/>
<path fill="#00a2c6" d="M533.4 606.9l6.3 2.7l3.8-2.7l-6.2-2.8z"/>
<path fill="#00a0cb" d="M479 601.6l6.1 2.3l1.3-1l-6.1-2.3z"/>
<path fill="#009fc6" d="M478.6 601.7l6.2 2.3l1.4-0.7l-6.3-2.3z"/>
<path fill="#00a2c9" d="M519.7 604.9l6.2 2.5l4-3l-6.2-2.7z"/>
<path fill="#00a1cb" d="M506 603.6l6.2 2.4l4-3.5l-6.2-2.5z"/>
<path fill="#009dc0" d="M478.2 601.7l6.3 2.3l1.6-0.4l-6.4-2.4z"/>
<path fill="#009fcd" d="M485.3 602.7l6.1 2.3l1.9-1.9l-6.1-2.3z"/>
<path fill="#00a3c2" d="M557.7 614.5l6.4 3l3.8-2l-6.4-3.2z"/>
<path fill="#00a2c6" d="M538.7 609.1l6.3 2.8l3.9-2.5l-6.3-2.9z"/>
<path fill="#00a0cd" d="M491.7 603.4l6.1 2.3l2.4-2.3l-6.2-2.3z"/>
<path fill="#00a0cc" d="M498.5 603.7l6.2 2.4l3-2.9l-6.2-2.3z"/>
<path fill="#00a0cc" d="M484.6 603.2l6.2 2.3l1.3-1.2l-6.1-2.3z"/>
<path fill="#00a3c1" d="M563.1 617l6.5 3.1l3.7-1.9l-6.4-3.2z"/>
<path fill="#00a0ca" d="M484.2 603.5l6.1 2.3l1.3-0.9l-6.2-2.3z"/>
<path fill="#00a2c8" d="M525 607l6.3 2.6l3.9-2.9l-6.3-2.7z"/>
<path fill="#00a1cb" d="M511.2 605.6l6.3 2.4l3.9-3.4l-6.2-2.5z"/>
<path fill="#009fc5" d="M483.7 603.6l6.3 2.3l1.4-0.6l-6.4-2.4z"/>
<path fill="#00a2c5" d="M544 611.5l6.4 2.8l3.9-2.4l-6.4-3z"/>
<path fill="#009cbe" d="M483.3 603.5l6.4 2.4l1.5-0.3l-6.4-2.5z"/>
<path fill="#009fcd" d="M490.5 604.6l6.1 2.3l1.9-1.9l-6.1-2.3z"/>
<path fill="#00a3c0" d="M568.6 619.6l6.5 3.3l3.7-1.9l-6.5-3.3z"/>
<path fill="#00a0cd" d="M496.9 605.4l6.1 2.3l2.4-2.3l-6.2-2.4z"/>
<path fill="#00a0cc" d="M503.7 605.7l6.2 2.4l3-2.8l-6.2-2.4z"/>
<path fill="#00a0cc" d="M489.8 605.2l6.2 2.3l1.3-1.3l-6.1-2.3z"/>
<path fill="#00a2c8" d="M530.3 609.2l6.3 2.6l3.9-2.8l-6.3-2.8z"/>
<path fill="#00a3bf" d="M574.1 622.4l6.5 3.3l3.7-1.8l-6.5-3.4z"/>
<path fill="#00a2c4" d="M549.4 613.8l6.4 2.9l3.9-2.3l-6.4-3z"/>
<path fill="#00a0c9" d="M489.3 605.4l6.2 2.4l1.3-1l-6.2-2.3z"/>
<path fill="#00a1ca" d="M516.5 607.7l6.3 2.4l3.9-3.3l-6.2-2.6z"/>
<path fill="#009fc4" d="M488.8 605.5l6.4 2.3l1.5-0.6l-6.5-2.4z"/>
<path fill="#00a3bf" d="M579.6 625.1l4.7 2.5l3.6-1.7l-4.6-2.5z"/>
<path fill="#00a0cd" d="M495.7 606.6l6.1 2.3l1.9-1.9l-6.1-2.3z"/>
<path fill="#009bbb" d="M488.5 605.3l6.4 2.5l1.5-0.2l-6.4-2.6z"/>
<path fill="#007278" d="M609.6 644.6l4.1 6.1l3.1-4l-4.1-5z"/>
<path fill="#00a3be" d="M583.3 627.1l4.6 2.5l3.7-1.7l-4.7-2.5z"/>
<path fill="#00a2c3" d="M554.8 616.2l6.5 3l3.8-2.2l-6.4-3.1z"/>
<path fill="#00a0cc" d="M509 607.7l6.2 2.4l3-2.7l-6.2-2.5z"/>
<path fill="#00a2c7" d="M535.6 611.4l6.4 2.7l3.9-2.8l-6.3-2.8z"/>
<path fill="#00a0cd" d="M502.1 607.4l6.2 2.3l2.3-2.3l-6.2-2.4z"/>
<path fill="#00a3be" d="M587 629.1l4.7 2.6l3.5-1.7l-4.6-2.6z"/>
<path fill="#00a0cc" d="M495 607.1l6.2 2.3l1.4-1.2l-6.2-2.3z"/>
<path fill="#00a1ca" d="M521.8 609.7l6.3 2.5l3.9-3.2l-6.2-2.6z"/>
<path fill="#00a4bd" d="M590.7 631.1l4.7 2.7l3.5-1.7l-4.6-2.6z"/>
<path fill="#00818a" d="M605.8 641l4.4 4.3l3.1-2.9l-4.3-3.7z"/>
<path fill="#00a0c9" d="M494.5 607.4l6.3 2.3l1.3-0.9l-6.3-2.4z"/>
<path fill="#00a5bd" d="M594.5 633.3l4.6 2.9l3.4-1.9l-4.6-2.7z"/>
<path fill="#008e9c" d="M602 638.1l4.5 3.5l3.3-2.3l-4.5-3.2z"/>
<path fill="#009bae" d="M598.2 635.6l4.6 3.1l3.4-2l-4.6-2.9z"/>
<path fill="#00a2c2" d="M560.3 618.7l6.5 3l3.8-2.1l-6.5-3.1z"/>
<path fill="#009ec2" d="M493.9 607.4l6.5 2.4l1.6-0.6l-6.6-2.4z"/>
<path fill="#00a0cd" d="M500.9 608.6l6.2 2.3l1.9-1.9l-6.2-2.3z"/>
<path fill="#00a2c6" d="M541 613.7l6.4 2.7l3.9-2.7l-6.4-2.8z"/>
<path fill="#009ab9" d="M493.7 607.1l6.4 2.6l1.6-0.1l-6.4-2.7z"/>
<path fill="#00a1cb" d="M514.3 609.8l6.2 2.4l3-2.8l-6.2-2.4z"/>
<path fill="#00a0cc" d="M507.4 609.4l6.2 2.3l2.3-2.3l-6.2-2.3z"/>
<path fill="#00a1c9" d="M527.2 611.9l6.3 2.5l3.9-3.2l-6.3-2.6z"/>
<path fill="#00a0cc" d="M500.3 609.1l6.2 2.3l1.3-1.2l-6.2-2.3z"/>
<path fill="#00a2c1" d="M565.8 621.2l6.5 3.2l3.7-2.1l-6.4-3.2z"/>
<path fill="#00a0c8" d="M499.7 609.3l6.3 2.4l1.4-0.9l-6.4-2.4z"/>
<path fill="#00a2c6" d="M546.5 616l6.4 2.7l3.8-2.6l-6.4-2.8z"/>
<path fill="#009dc0" d="M499.1 609.3l6.6 2.4l1.6-0.4l-6.6-2.6z"/>
<path fill="#00a3c1" d="M571.3 623.9l6.6 3.2l3.7-1.9l-6.5-3.3z"/>
<path fill="#00a0cd" d="M506.2 610.6l6.2 2.3l1.9-1.9l-6.2-2.3z"/>
<path fill="#007277" d="M607.1 647l4 7l3.2-4l-4-6z"/>
<path fill="#0098b6" d="M499 609l6.4 2.6l1.5 0l-6.4-2.7z"/>
<path fill="#00a1cb" d="M519.6 611.8l6.3 2.5l3-2.7l-6.3-2.5z"/>
<path fill="#00a0cc" d="M512.7 611.4l6.2 2.4l2.4-2.3l-6.3-2.4z"/>
<path fill="#00a1c9" d="M532.6 614l6.3 2.6l3.9-3.2l-6.3-2.6z"/>
<path fill="#00a3c0" d="M576.9 626.6l4.7 2.4l3.6-1.9l-4.6-2.4z"/>
<path fill="#00a0cb" d="M505.5 611.1l6.3 2.4l1.4-1.3l-6.3-2.3z"/>
<path fill="#00a2c5" d="M551.9 618.3l6.5 2.8l3.8-2.5l-6.4-2.9z"/>
<path fill="#00a3bf" d="M580.6 628.5l4.7 2.5l3.6-1.9l-4.6-2.5z"/>
<path fill="#00a0c7" d="M505 611.3l6.4 2.4l1.3-0.9l-6.4-2.4z"/>
<path fill="#00a4bf" d="M584.4 630.4l4.6 2.6l3.6-1.8l-4.6-2.6z"/>
<path fill="#008189" d="M603.4 642.9l4.2 4.9l3.2-3.1l-4.2-4.2z"/>
<path fill="#009cbe" d="M504.4 611.2l6.6 2.5l1.6-0.4l-6.6-2.6z"/>
<path fill="#00a0cd" d="M511.5 612.6l6.3 2.4l1.8-1.9l-6.2-2.4z"/>
<path fill="#00a1cb" d="M525 613.9l6.3 2.5l3-2.7l-6.4-2.5z"/>
<path fill="#00a2c8" d="M538 616.2l6.4 2.6l3.8-3.1l-6.3-2.7z"/>
<path fill="#00a4be" d="M588.1 632.5l4.7 2.8l3.5-2l-4.6-2.6z"/>
<path fill="#0096b3" d="M504.3 610.8l6.4 2.7l-0.9-0.8l-4-1.9z"/>
<path fill="#00a2c4" d="M557.4 620.7l6.5 2.9l3.8-2.5l-6.5-3z"/>
<path fill="#00a0cc" d="M518 613.4l6.3 2.5l2.3-2.3l-6.3-2.4z"/>
<path fill="#008f9c" d="M599.5 639.8l4.5 3.8l3.3-2.5l-4.5-3.5z"/>
<path fill="#00a5be" d="M591.9 634.7l4.6 3l3.5-2l-4.6-2.9z"/>
<path fill="#009bae" d="M595.7 637.1l4.6 3.3l3.3-2.2l-4.5-3.1z"/>
<path fill="#00a0cb" d="M510.9 613.1l6.3 2.4l1.3-1.2l-6.3-2.4z"/>
<path fill="#009fc6" d="M510.3 613.3l6.4 2.4l1.4-0.8l-6.4-2.5z"/>
<path fill="#00a2c3" d="M563 623.1l6.5 3l3.7-2.3l-6.5-3.1z"/>
<path fill="#00a2c8" d="M543.5 618.4l6.4 2.7l3.8-3l-6.4-2.8z"/>
<path fill="#00a1ca" d="M530.4 616.1l6.4 2.5l2.9-2.7l-6.4-2.5z"/>
<path fill="#00a0cc" d="M516.9 614.6l6.3 2.5l1.8-1.9l-6.3-2.4z"/>
<path fill="#009bbb" d="M509.8 613.1l6.5 2.6l1.6-0.3l-6.5-2.7z"/>
<path fill="#007277" d="M604.6 649.7l3.9 7.8l3.2-4.2l-3.9-6.9z"/>
<path fill="#00a0cc" d="M523.4 615.5l6.4 2.5l2.2-2.3l-6.3-2.5z"/>
<path fill="#001c4c" d="M509.6 612.7l6.8 2l1.2 1.1l-6.7-2.2z"/>
<path fill="#00a3c2" d="M568.5 625.7l6.6 3.1l3.7-2.3l-6.5-3.2z"/>
<path fill="#00a0cb" d="M516.2 615.1l6.4 2.5l1.3-1.2l-6.3-2.5z"/>
<path fill="#00a2c7" d="M549 620.7l6.5 2.7l3.7-2.9l-6.4-2.8z"/>
<path fill="#009fc4" d="M515.6 615.3l6.5 2.4l1.5-0.7l-6.6-2.5z"/>
<path fill="#00a1ca" d="M535.9 618.2l6.4 2.6l2.9-2.7l-6.4-2.6z"/>
<path fill="#00a3c2" d="M574.2 628.4l4.7 2.3l3.6-2.2l-4.7-2.4z"/>
<path fill="#00a0cc" d="M522.3 616.7l6.3 2.5l1.8-1.9l-6.3-2.5z"/>
<path fill="#009ab9" d="M515.1 615l6.6 2.7l1.6-0.2l-6.5-2.7z"/>
<path fill="#00a1cc" d="M528.8 617.6l6.4 2.6l2.3-2.3l-6.4-2.5z"/>
<path fill="#00a4c1" d="M577.9 630.2l4.7 2.5l3.6-2.3l-4.6-2.4z"/>
<path fill="#008188" d="M600.8 645.2l4.3 5.2l3.2-3.3l-4.2-4.7z"/>
<path fill="#001c4c" d="M515 614.5l6.8 2.2l1.1 1.2l-6.7-2.3z"/>
<path fill="#00a0ca" d="M521.6 617.2l6.4 2.5l1.4-1.2l-6.4-2.5z"/>
<path fill="#00a2c6" d="M554.5 623l6.5 2.9l3.8-2.9l-6.5-2.9z"/>
<path fill="#00a4c1" d="M581.7 632.2l4.7 2.5l3.5-2.2l-4.6-2.6z"/>
<path fill="#00a5c0" d="M585.5 634.2l4.7 2.8l3.5-2.3l-4.7-2.7z"/>
<path fill="#00a1ca" d="M541.3 620.4l6.5 2.7l2.9-2.7l-6.5-2.6z"/>
<path fill="#008f9b" d="M597 641.7l4.4 4.1l3.3-2.8l-4.4-3.8z"/>
<path fill="#009fc3" d="M521 617.3l6.5 2.5l1.6-0.7l-6.6-2.5z"/>
<path fill="#00a6bf" d="M589.3 636.5l4.6 3l3.5-2.4l-4.6-2.9z"/>
<path fill="#009caf" d="M593.2 638.9l4.5 3.4l3.4-2.5l-4.5-3.2z"/>
<path fill="#00a0cc" d="M527.7 618.8l6.4 2.5l1.8-1.8l-6.4-2.5z"/>
<path fill="#00a1cb" d="M534.3 619.8l6.4 2.6l2.3-2.3l-6.4-2.6z"/>
<path fill="#0099b6" d="M520.6 616.9l6.5 2.8l1.7 0l-6.6-2.9z"/>
<path fill="#007277" d="M602 652.6l3.9 8.5l3.2-4.4l-3.9-7.7z"/>
<path fill="#00a3c6" d="M560.1 625.4l6.5 3l3.7-2.9l-6.5-3z"/>
<path fill="#001c4c" d="M520.5 616.4l6.8 2.2l1 1.4l-6.7-2.4z"/>
<path fill="#00a1c9" d="M527.1 619.3l6.4 2.5l1.3-1.1l-6.4-2.6z"/>
<path fill="#00a2c9" d="M546.9 622.7l6.5 2.7l2.8-2.6l-6.5-2.7z"/>
<path fill="#009ec1" d="M526.3 619.4l6.7 2.5l1.7-0.6l-6.8-2.6z"/>
<path fill="#00a3c5" d="M565.7 627.9l6.6 3.1l3.6-2.8l-6.5-3.1z"/>
<path fill="#00a1cc" d="M533.2 621l6.4 2.5l1.8-1.8l-6.4-2.6z"/>
<path fill="#00a1cb" d="M539.8 622l6.5 2.6l2.2-2.2l-6.4-2.7z"/>
<path fill="#0097b3" d="M526 618.9l6.6 2.8l-0.8-0.8l-4.1-2z"/>
<path fill="#00a4c4" d="M571.4 630.6l4.7 2.3l3.6-2.8l-4.7-2.3z"/>
<path fill="#001c4c" d="M526 618.3l6.8 2.4l1 1.4l-6.8-2.5z"/>
<path fill="#00a2c9" d="M552.5 625l6.5 2.8l2.8-2.6l-6.5-2.8z"/>
<path fill="#00a1c9" d="M532.5 621.4l6.5 2.6l1.4-1.1l-6.5-2.6z"/>
<path fill="#008188" d="M598.2 647.8l4.3 5.6l3.2-3.6l-4.2-5.3z"/>
<path fill="#00a4c4" d="M575.2 632.4l4.7 2.4l3.5-2.7l-4.6-2.4z"/>
<path fill="#009ebf" d="M531.7 621.4l6.8 2.6l1.7-0.5l-6.8-2.7z"/>
<path fill="#00a1cb" d="M538.7 623.2l6.5 2.6l1.8-1.9l-6.5-2.6z"/>
<path fill="#00a1cb" d="M545.4 624.2l6.5 2.7l2.2-2.2l-6.5-2.7z"/>
<path fill="#00868c" d="M600.1 654.9l3.9 8.9l2.5-3.5l-3.9-8.4z"/>
<path fill="#00a5c3" d="M579 634.4l4.7 2.5l3.5-2.7l-4.6-2.6z"/>
<path fill="#001c4c" d="M531.6 620.8l6.9 2.2l1.2 1.1l-6.9-2.3z"/>
<path fill="#00a3c8" d="M558.1 627.4l6.5 2.9l2.8-2.6l-6.5-2.9z"/>
<path fill="#00909c" d="M594.4 644.1l4.4 4.3l3.3-3.2l-4.4-4z"/>
<path fill="#00a6c2" d="M582.8 636.4l4.7 2.8l3.4-2.8l-4.6-2.7z"/>
<path fill="#00a1c8" d="M538.1 623.6l6.5 2.6l1.3-1.1l-6.5-2.6z"/>
<path fill="#001c4c" d="M531.5 620.3l6.9 2.4l0.9 1.5l-6.8-2.5z"/>
<path fill="#00a7c1" d="M586.7 638.7l4.6 3.1l3.4-2.9l-4.6-3z"/>
<path fill="#009db0" d="M590.5 641.2l4.6 3.5l3.3-3l-4.5-3.3z"/>
<path fill="#00a2ca" d="M551 626.6l6.5 2.7l2.2-2.2l-6.5-2.8z"/>
<path fill="#00a1cb" d="M544.3 625.4l6.5 2.7l1.7-1.9l-6.4-2.6z"/>
<path fill="#009dbd" d="M537.3 623.5l6.8 2.7l1.7-0.4l-6.8-2.8z"/>
<path fill="#00a3c8" d="M563.7 629.9l6.6 3l2.7-2.5l-6.5-3.1z"/>
<path fill="#001c4c" d="M537.1 622.8l7 2.3l1.1 1.3l-6.9-2.4z"/>
<path fill="#00989c" d="M598.7 656.7l4 9l1.9-2.8l-3.9-8.8z"/>
<path fill="#00a1c7" d="M543.6 625.8l6.6 2.7l1.4-1.1l-6.6-2.7z"/>
<path fill="#00a4c7" d="M569.4 632.5l4.7 2.2l2.7-2.5l-4.6-2.3z"/>
<path fill="#001c4c" d="M537.1 622.2l6.9 2.5l0.7 1.6l-6.7-2.5z"/>
<path fill="#00a2ca" d="M556.6 628.9l6.5 2.9l2.2-2.2l-6.5-2.9z"/>
<path fill="#00929a" d="M596.3 649.9l4.3 5.9l2.5-3.1l-4.3-5.6z"/>
<path fill="#00a2cb" d="M549.9 627.7l6.5 2.8l1.8-1.9l-6.6-2.7z"/>
<path fill="#009bba" d="M542.8 625.6l6.8 2.8l1.8-0.2l-6.9-3z"/>
<path fill="#00a5c7" d="M573.2 634.3l4.7 2.4l2.7-2.5l-4.7-2.4z"/>
<path fill="#001c4c" d="M542.8 624.8l6.9 2.5l1.1 1.4l-6.9-2.6z"/>
<path fill="#00a6c6" d="M577.1 636.3l4.6 2.5l2.7-2.5l-4.7-2.6z"/>
<path fill="#00a3a5" d="M597.7 657.4l4 8.7l1.6-1.2l-3.9-8.9z"/>
<path fill="#00a3ca" d="M562.3 631.4l6.5 3l2.2-2.2l-6.6-3z"/>
<path fill="#00a7c5" d="M580.9 638.3l4.6 2.8l2.7-2.5l-4.6-2.8z"/>
<path fill="#00a2ca" d="M555.5 630.1l6.6 2.8l1.7-1.8l-6.5-2.9z"/>
<path fill="#001c4c" d="M542.8 624.3l6.8 2.5l0.6 1.6l-6.7-2.5z"/>
<path fill="#00a3b8" d="M588.6 643.2l4.6 3.6l2.5-2.7l-4.5-3.5z"/>
<path fill="#00a8c3" d="M584.8 640.6l4.6 3.1l2.5-2.6l-4.5-3z"/>
<path fill="#009ab7" d="M548.5 627.7l6.7 3l1.8 0l-6.8-3.2z"/>
<path fill="#00a4c9" d="M568 634l4.6 2.3l2.2-2.2l-4.7-2.3z"/>
<path fill="#001c4c" d="M548.4 626.9l7 2.6l1 1.6l-7-2.8z"/>
<path fill="#00a3ca" d="M561.2 632.5l6.6 3l1.7-1.8l-6.6-3z"/>
<path fill="#00a5c8" d="M571.8 635.9l4.7 2.4l2.1-2.3l-4.7-2.3z"/>
<path fill="#001c4c" d="M597.3 655.4l4.6 8.2l0.4 3l-4.4-8.9z"/>
<path fill="#001c4c" d="M548.5 626.4l6.8 2.4l0.5 1.8l-6.7-2.6z"/>
<path fill="#0098b3" d="M554.1 629.8l6.8 3.2l-0.7-0.8l-4.3-2.3z"/>
<path fill="#00a6c8" d="M575.7 637.8l4.6 2.6l2.1-2.3l-4.7-2.5z"/>
<path fill="#00a4c9" d="M566.9 635.1l4.7 2.3l1.7-1.8l-4.7-2.3z"/>
<path fill="#00a7c7" d="M579.5 639.9l4.6 2.8l2.1-2.2l-4.6-2.8z"/>
<path fill="#00a1c2" d="M560.5 632.8l6.7 3l1.5-0.8l-6.8-3.1z"/>
<path fill="#00a8b1" d="M594 652.4l4.2 5.8l1.7-1.4l-4.3-5.9z"/>
<path fill="#001c4c" d="M554.1 629l7.1 2.7l0.7 1.7l-6.8-2.8z"/>
<path fill="#00a1c0" d="M566.1 635.3l4.9 2.3l1.6-0.8l-4.9-2.3z"/>
<path fill="#001c4c" d="M554.3 628.4l6.7 2.5l0.4 1.9l-6.6-2.6z"/>
<path fill="#001c4c" d="M593.3 650.9l5 5.5l0.6 2.3l-4.7-5.9z"/>
<path fill="#001c4c" d="M560 631.2l6.9 2.8l0.6 1.8l-6.8-2.9z"/>
<path fill="#00a1bd" d="M569.9 637l4.9 2.4l1.7-0.5l-5-2.6z"/>
<path fill="#001c4c" d="M597.3 652.7l4.6 6.8l-0.1 5.5l-4.4-8.3z"/>
<path fill="#001c4c" d="M565.7 634.3l5.2 2l1.1 1.5l-5.1-2.1z"/>
<path fill="#00a0bb" d="M573.7 638.9l4.9 2.5l1.9-0.3l-5.1-2.8z"/>
<path fill="#001c4c" d="M560 630.5l6.8 2.5l0.3 2l-6.7-2.6z"/>
<path fill="#001c4c" d="M569.6 635.9l5.2 2.2l1 1.7l-5.1-2.4z"/>
<path fill="#00a0b7" d="M577.4 640.7l5 2.9l1.9-0.1l-5-3.1z"/>
<path fill="#001c4c" d="M565.8 633.5l5 2l0.5 2l-4.9-2.2z"/>
<path fill="#009fb3" d="M581.3 642.8l4.9 3.2l1.9 0.2l-4.9-3.5z"/>
<path fill="#009eae" d="M585.3 645l4.7 3.8l1.8 0.7l-4.7-4.2z"/>
<path fill="#001c4c" d="M573.5 637.6l5.2 2.4l0.9 1.9l-5.1-2.6z"/>
<path fill="#001c4c" d="M593.3 648.8l4.9 4.9l0.2 4.1l-4.7-5.7z"/>
<path fill="#001c4c" d="M569.7 635.1l5 2.1l0.4 2l-4.8-2.2z"/>
<path fill="#001c4c" d="M565.8 632.6l4.9 1.8l0.3 2.2l-4.8-2z"/>
<path fill="#001c4c" d="M577.5 639.4l5.1 2.6l0.8 2.1l-5.1-2.8z"/>
<path fill="#001c4c" d="M581.4 641.3l5.1 2.9l0.6 2.4l-4.9-3.2z"/>
<path fill="#001c4c" d="M589.4 645.9l4.9 3.9l0.4 3.3l-4.8-4.4z"/>
<path fill="#001c4c" d="M573.7 636.7l4.9 2.1l0.3 2.3l-4.8-2.3z"/>
<path fill="#001c4c" d="M585.4 643.5l5 3.2l0.5 2.8l-4.9-3.6z"/>
<path fill="#001c4c" d="M569.7 634l4.9 1.8l0.2 2.4l-4.8-2z"/>
<path fill="#001c4c" d="M577.6 638.4l4.9 2.2l0.3 2.5l-4.8-2.5z"/>
<path fill="#001c4c" d="M597.3 648.7l4.8 4.7l-0.3 7.5l-4.5-6.9z"/>
<path fill="#001c4c" d="M573.6 635.4l4.9 1.8l0.2 2.6l-4.8-2z"/>
<path fill="#001c4c" d="M581.5 640.1l4.9 2.3l0.2 2.9l-4.8-2.7z"/>
<path fill="#001c4c" d="M585.5 642l4.8 2.5l0.2 3.4l-4.8-3.1z"/>
<path fill="#001c4c" d="M593.4 646.1l4.8 3.5l0 5.4l-4.8-4.8z"/>
<path fill="#001c4c" d="M589.4 643.9l4.9 2.9l0.1 4.1l-4.8-3.7z"/>
<path fill="#001c4c" d="M577.5 636.9l4.9 1.7l0.2 3l-4.9-2.2z"/>
<path fill="#001c4c" d="M581.5 638.3l4.8 1.7l0.2 3.4l-4.9-2.2z"/>
<path fill="#001c4c" d="M585.4 639.7l4.9 1.7l0.1 4.1l-4.9-2.5z"/>
<path fill="#001c4c" d="M589.4 641.1l4.9 1.7l0 5l-4.8-2.8z"/>
<path fill="#001c4c" d="M593.4 642.5l4.9 1.7l-0.1 6.5l-4.8-3.4z"/>
<path fill="#001c4c" d="M597.4 643.9l5 1.6l-0.4 9.1l-4.7-4.6z"/>
<path class="m" d="M533.8 499.6l0.6-1.4M533.2 500.8l0.6-1.2M532.7 501.6l0.5-0.8M532.1 502.3l0.5-0.6M521 502.5l8.5 2.6M531.4 503.1l0.6-0.6M530.8 503.8l0.6-0.7M530.3 504.3l0.5-0.5M529.5 505.1l0.7-0.7M541.8 502.3l0.6-2M541.2 503.7l0.6-1.4M528.7 505.9l0.8-0.8M529.5 505.1l8.7 2.7M540.7 504.5l0.5-0.8M542.4 500.3l0.6-2.4M540 505.6l0.6-0.9M527.9 506.7l0.8-0.8M539.4 506.3l0.6-0.7M538.8 507.1l0.6-0.8M527 507.4l0.9-0.7M538.2 507.8l0.6-0.7M515.9 507l8.6 2.6M526.2 508.1l0.8-0.7M537.4 508.7l0.8-0.9M538.2 507.8l8.7 2.8M549.9 505.5l0.6-1.9M549.3 506.9l0.6-1.4M525.3 508.9l0.9-0.8M548.7 508l0.6-1.1M550.5 503.6l0.6-3M536.7 509.3l0.7-0.6M548.1 508.9l0.6-0.9M524.5 509.6l0.8-0.7M551.1 500.6l0.6-3.8M547.6 509.6l0.5-0.7M535.8 510.1l0.7-0.7M546.9 510.6l0.6-0.8M523.2 510.8l1.3-1.2M524.5 509.6l8.7 3M535 510.9l0.7-0.7M546.1 511.5l0.8-0.9M546.9 510.6l8.9 2.9M534 511.8l0.9-0.8M558.1 509.1l0.6-1.9M545.3 512.4l0.8-0.9M557.5 510.5l0.6-1.4M558.7 507.2l0.6-2.6M522.1 511.8l1.1-1M556.9 511.6l0.6-1.1M533.2 512.6l0.8-0.8M556.4 512.6l0.5-1M544.5 513.3l0.8-0.9M559.3 504.6l0.6-4.1M555.9 513.4l0.5-0.8M510.6 511.7l8.7 2.7M520.6 513.2l1.3-1.2M543.7 514.2l0.8-0.9M532.1 513.6l1.1-1M533.2 512.6l8.8 3.3M555 514.6l0.8-1.1M555.8 513.5l8.9 3.2M566.5 513l0.6-1.7M567.1 511.3l0.6-2.4M559.9 500.5l0.7-5.3M565.9 514.4l0.6-1.4M542.8 515.1l0.9-0.9M554.2 515.7l0.8-1.1M567.7 508.9l0.6-3.4M565.3 515.6l0.6-1.2M519.3 514.4l1.3-1.2M530.7 515l1.2-1.2M564.7 516.7l0.6-1.1M542 515.9l0.8-0.8M553.4 516.7l0.8-1M563.9 518l0.8-1.3M564.7 516.7l4.5 1.6M568.3 505.5l0.7-5.4M552.5 517.7l0.9-1M563.1 519.2l0.8-1.2M540.8 517.1l1.2-1.2M542 515.9l8.9 3.7M517.6 516l1.7-1.6M519.3 514.4l8.8 3M529.4 516.2l1.3-1.2M551.7 518.7l0.8-1M569.2 518.3l4.5 1.7M575.5 515.5l0.6-2.1M562.3 520.4l0.8-1.2M574.9 517.2l0.6-1.7M576.1 513.4l0.7-2.9M574.3 518.7l0.6-1.5M573.7 520l0.6-1.3M569 500.1l0.6-7M550.9 519.6l0.8-0.9M539.5 518.3l1.3-1.2M528.1 517.4l1.3-1.2M561.5 521.6l0.8-1.2M576.8 510.5l0.6-4.2M572.9 521.5l0.8-1.5M573.7 520l4.6 1.7M515.8 517.6l1.8-1.6M560.7 522.7l0.8-1.1M572.2 522.9l0.7-1.4M549.7 520.9l1.2-1.3M550.9 519.6l9 4.1M505.3 516.5l8.7 2.7M538.3 519.6l1.2-1.3M578.3 521.7l4.6 1.7M571.4 524.3l0.8-1.4M559.9 523.7l0.8-1M526.4 519l1.7-1.6M528.1 517.4l8.9 3.4M577.4 506.3l0.7-6.8M584.1 520.1l0.6-2M583.5 521.9l0.6-1.8M584.7 518.1l0.6-2.5M570.6 525.7l0.8-1.4M514 519.2l1.8-1.6M582.9 523.4l0.6-1.5M548.5 522.1l1.2-1.2M585.3 515.6l0.7-3.5M582.1 525.3l0.8-1.9M582.9 523.4l4.6 1.8M558.7 525l1.2-1.3M559.9 523.7l4.5 2.2M537 520.8l1.3-1.2M569.8 526.9l0.8-1.2M581.3 526.9l0.8-1.6M524.6 520.6l1.8-1.6M586 512.1l0.7-5M580.5 528.5l0.8-1.6M587.5 525.2l4.6 1.8M569 528.1l0.8-1.2M564.4 525.9l4.6 2.2M547.2 523.4l1.3-1.3M557.5 526.3l1.2-1.3M579.7 530l0.8-1.5M535.3 522.4l1.7-1.6M537 520.8l9 3.8M592.7 525.1l0.6-2.1M511.3 521.7l2.7-2.5M514 519.2l8.9 3.1M578.1 499.5l0.8-8.8M592.1 527l0.6-1.9M593.3 523l0.6-2.3M591.3 529.1l0.8-2.1M592.1 527l4.6 1.8M567.8 529.4l1.2-1.3M569 528.1l4.6 2.2M578.9 531.4l0.8-1.4M593.9 520.7l0.7-3M590.5 530.9l0.8-1.8M546 524.6l1.2-1.2M522.9 522.3l1.7-1.7M556.3 527.5l1.2-1.2M594.6 517.7l0.7-3.9M578.1 532.6l0.8-1.2M589.7 532.7l0.8-1.8M573.6 530.3l4.5 2.3M596.7 528.8l4.7 1.8M586.7 507.1l0.8-8.3M588.9 534.4l0.8-1.7M566.6 530.7l1.2-1.3M533.6 524.1l1.7-1.7M499.8 521.4l8.8 2.8M577 534l1.1-1.4M578.1 532.6l4.7 2.3M588.1 535.9l0.8-1.5M601.4 530.6l0.6-2.2M600.6 533l0.8-2.4M601.4 530.6l4.7 1.7M602 528.4l0.7-2.4M544.3 526.3l1.7-1.7M546 524.6l9.1 4.2M595.3 513.8l0.8-6M555.1 528.8l1.2-1.3M599.8 535l0.8-2M602.7 526l0.6-2.7M508.6 524.2l2.7-2.5M587.4 537.2l0.7-1.3M599 536.9l0.8-1.9M582.8 534.9l4.6 2.3M603.3 523.3l0.7-3.3M565.4 532l1.2-1.3M520.2 524.8l2.7-2.5M522.9 522.3l9 3.5M606.1 532.3l4.7 1.8M598.2 538.7l0.8-1.8M575.8 535.3l1.2-1.3M531.9 525.8l1.7-1.7M586.2 538.7l1.2-1.5M587.4 537.2l4.6 2.3M597.4 540.4l0.8-1.7M604 520l0.8-4.5M553.4 530.5l1.7-1.7M555.1 528.8l4.5 2.2M542.6 527.9l1.7-1.6M610 536.8l0.8-2.7M610.8 534.1l0.7-2.4M610.8 534.1l4.8 1.7M609.2 539l0.8-2.2M564.2 533.3l1.2-1.3M596.7 541.8l0.7-1.4M587.5 498.8l0.9-10.7M611.5 531.7l0.6-2.7M592 539.5l4.7 2.3M608.4 541l0.8-2M574.6 536.6l1.2-1.3M612.1 529l0.7-3M596.1 507.8l0.9-9.7M607.6 543l0.8-2M559.6 531l4.6 2.3M585.1 540l1.1-1.3M615.6 535.8l4.7 1.7M505.9 526.7l2.7-2.5M508.6 524.2l9 3.1M595.5 543.3l1.2-1.5M596.7 541.8l4.7 2.2M606.8 544.8l0.8-1.8M612.8 526l0.7-3.7M604.8 515.5l0.8-6.8M517.6 527.3l2.6-2.5M529.2 528.3l2.7-2.5M531.9 525.8l9 3.8M551.8 532.2l1.6-1.7M540.9 529.6l1.7-1.7M562.6 535l1.6-1.7M564.2 533.3l4.6 2.3M606.1 546.3l0.7-1.5M619.5 540.4l0.8-2.9M601.4 544l4.7 2.3M618.7 542.8l0.8-2.4M573.5 537.9l1.1-1.3M620.3 537.5l0.7-2.6M620.3 537.5l4.9 1.6M617.9 545l0.8-2.2M613.5 522.3l0.9-5M583.9 541.3l1.2-1.3M621 534.9l0.7-2.9M594.4 544.7l1.1-1.4M617.1 547.1l0.8-2.1M568.8 535.6l4.7 2.3M605 547.9l1.1-1.6M606.1 546.3l4.7 2.2M616.3 549l0.8-1.9M621.7 532l0.7-3.3M494.2 526.4l8.9 2.9M625.2 539.1l4.8 1.6M615.6 550.6l0.7-1.6M550.1 533.9l1.7-1.7M610.8 548.5l4.8 2.1M622.4 528.7l0.8-4M571.9 539.6l1.6-1.7M573.5 537.9l4.6 2.4M561 536.7l1.6-1.7M582.8 542.6l1.1-1.3M503.1 529.3l2.8-2.6M597 498.1l0.8-8.9M628.3 546.4l0.8-2.6M629.1 543.8l0.9-3.1M593.3 546.1l1.1-1.4M627.5 548.8l0.8-2.4M538.4 532.2l2.5-2.6M540.9 529.6l9.2 4.3M603.8 549.3l1.2-1.4M630 540.7l0.7-2.7M630 540.7l4.9 1.6M514.8 529.9l2.8-2.6M517.6 527.3l9 3.5M614.4 517.3l0.9-7.5M626.7 551l0.8-2.2M526.6 530.8l2.6-2.5M614.5 552.3l1.1-1.7M615.6 550.6l4.7 2.1M605.6 508.7l1.2-11.1M630.7 538l0.7-3.1M578.1 540.3l4.7 2.3M625.9 553l0.8-2M623.2 524.7l0.9-5.4M625.2 554.7l0.7-1.7M631.4 534.9l0.8-3.5M620.3 552.7l4.9 2M634.9 542.3l4.9 1.5M592.2 547.4l1.1-1.3M581.2 544.4l1.6-1.8M582.8 542.6l4.6 2.4M602.7 550.7l1.1-1.4M559.3 538.4l1.7-1.7M570.3 541.4l1.6-1.8M613.4 553.8l1.1-1.5M638.1 549.7l0.8-2.7M638.9 547l0.9-3.2M637.2 552.2l0.9-2.5M547.6 536.5l2.5-2.6M550.1 533.9l4.6 2.2M632.2 531.4l0.8-4.2M624.1 556.5l1.1-1.8M625.2 554.7l4.8 1.9M636.4 554.5l0.8-2.3M639.8 543.8l0.7-2.8M639.8 543.8l3.3 1M587.4 545l4.8 2.4M635.6 556.6l0.8-2.1M500.3 531.9l2.8-2.6M503.1 529.3l9 3.2M640.5 541l0.7-3.2M643.1 544.8l3.3 0.9M634.9 558.4l0.7-1.8M630 556.6l4.9 1.8M535.7 534.8l2.7-2.6M554.7 536.1l4.6 2.3M601.6 552.2l1.1-1.5M512.1 532.5l2.7-2.6M590.6 549.2l1.6-1.8M592.2 547.4l4.7 2.4M612.3 555.3l1.1-1.5M641.2 537.8l0.8-3.6M624.1 519.3l1.1-8.2M523.9 533.4l2.7-2.6M526.6 530.8l9.1 4M606.8 497.6l0.5-5.7M623 558.1l1.1-1.6M633 527.2l0.9-5.7M579.6 546.2l1.6-1.8M646.4 545.7l3.3 1M568.7 543.2l1.6-1.8M633.8 560.4l1.1-2M634.9 558.4l3.3 1.1M648 552.6l0.8-2.7M596.9 549.8l4.7 2.4M648.8 549.9l0.9-3.2M647.2 555.2l0.8-2.6M615.3 509.8l1.3-12.5M556.8 541.1l2.5-2.7M559.3 538.4l4.7 2.4M642 534.2l0.9-4.3M646.3 557.5l0.9-2.3M649.7 546.7l0.8-2.9M649.7 546.7l3.4 0.8M638.2 559.5l3.3 1.1M488.5 531.5l8.9 3M645.5 559.7l0.8-2.2M611.2 556.8l1.1-1.5M650.5 543.8l0.7-3.2M600.1 554.1l1.5-1.9M601.6 552.2l4.8 2.3M621.9 559.7l1.1-1.6M545 539.1l2.6-2.6M644.8 561.5l0.7-1.8M632.7 562.1l1.1-1.7M653.1 547.5l3.4 0.8M641.5 560.6l3.3 0.9M564 540.8l4.7 2.4M589.1 551.1l1.5-1.9M651.2 540.6l0.8-3.6M497.4 534.5l2.9-2.6M578.1 548l1.5-1.8M642.9 529.9l1-5.9M606.4 554.5l4.8 2.3M656.5 548.3l3.4 0.8M643.7 563.7l1.1-2.2M644.8 561.5l3.3 0.9M633.9 521.5l1.2-8.6M509.3 535.1l2.8-2.6M512.1 532.5l9.1 3.6M533.1 537.4l2.6-2.6M535.7 534.8l9.3 4.3M521.2 536.1l2.7-2.7M566.2 545.8l2.5-2.6M568.7 543.2l4.6 2.4M620.8 561.3l1.1-1.6M652 537l0.9-4.3M609.7 558.8l1.5-2M611.2 556.8l4.8 2.3M658.9 552.2l1-3.1M658.1 554.9l0.8-2.7M631.7 563.9l1-1.8M616.6 497.3l0.3-2.7M657.3 557.4l0.8-2.5M659.9 549.1l0.7-2.7M659.9 549.1l3.4 0.7M648.1 562.4l3.4 0.7M598.6 556l1.5-1.9M656.5 559.7l0.8-2.3M660.6 546.4l0.7-3.1M642.7 565.6l1-1.9M554.3 543.7l2.5-2.6M573.3 545.6l4.8 2.4M616 559.1l4.8 2.2M655.7 561.8l0.8-2.1M587.5 552.9l1.6-1.8M625.2 511.1l1.5-13.6M663.3 549.8l3.4 0.5M661.3 543.3l0.8-3.4M651.5 563.1l3.4 0.5M652.9 532.7l1-5.7M654.9 563.6l0.8-1.8M630.6 565.6l1.1-1.7M542.4 541.8l2.6-2.7M545 539.1l4.6 2.3M619.4 563.4l1.4-2.1M620.8 561.3l4.9 2.2M575.7 550.7l2.4-2.7M578.1 548l4.7 2.4M643.9 524l1.3-8.8M662.1 539.9l0.9-4M494.6 537.1l2.8-2.6M497.4 534.5l9.1 3.2M666.7 550.3l3.5 0.5M608.2 560.8l1.5-2M641.6 567.4l1.1-1.8M653.9 565.9l1-2.3M654.9 563.6l3.5 0.4M625.7 563.5l4.9 2.1M597.1 557.9l1.5-1.9M506.5 537.7l2.8-2.6M582.8 550.4l4.7 2.5M530.4 540.1l2.7-2.7M549.6 541.4l4.7 2.3M518.5 538.7l2.7-2.6M521.2 536.1l9.2 4M563.7 548.5l2.5-2.7M629.2 567.9l1.4-2.3M630.6 565.6l3.3 1.3M663 535.9l1.1-5.3M626.7 497.5l0-0.2M658.4 564l3.5 0.2M640.5 569.3l1.1-1.9M652.8 567.9l1.1-2M585.2 555.7l2.3-2.8M587.5 552.9l4.8 2.5M617.9 565.6l1.5-2.2M633.9 566.9l3.3 1.2M635.1 512.9l1.6-12.9M653.9 527l1.4-8.6M551.8 546.4l2.5-2.7M554.3 543.7l4.7 2.4M606.7 562.8l1.5-2M592.3 555.4l4.8 2.5M637.2 568.1l3.3 1.2M661.9 564.2l3.6-0.2M539.8 544.5l2.6-2.7M651.7 570l1.1-2.1M491.6 539.8l3-2.7M573.2 553.4l2.5-2.7M559 546.1l4.7 2.4M639.1 571.8l1.4-2.5M640.5 569.3l3.4 1M627.7 570.1l1.5-2.2M594.8 560.8l2.3-2.9M597.1 557.9l4.8 2.4M482.6 536.8l9 3M664.1 530.6l1.3-7.9M503.7 540.4l2.8-2.7M506.5 537.7l9.2 3.7M616.4 567.7l1.5-2.1M527.7 542.7l2.7-2.6M530.4 540.1l9.4 4.4M643.9 570.3l3.4 1M515.7 541.4l2.8-2.7M601.9 560.3l4.8 2.5M650.7 572l1-2M645.2 515.2l1.6-12.5M561.2 551.3l2.5-2.8M563.7 548.5l4.8 2.5M647.3 571.3l3.4 0.7M582.8 558.6l2.4-2.9M604.5 565.8l2.2-3M606.7 562.8l4.9 2.5M637.7 574.2l1.4-2.4M626.3 572.4l1.4-2.3M549.2 549.2l2.6-2.8M568.5 551l4.7 2.4M611.6 565.3l4.8 2.4M649.3 574.7l1.4-2.7M650.7 572l3.5 0.5M537.1 547.2l2.7-2.7M539.8 544.5l4.7 2.3M570.8 556.2l2.4-2.8M573.2 553.4l4.8 2.6M614.2 570.8l2.2-3.1M616.4 567.7l4.9 2.4M655.3 518.4l1.8-13.1M592.4 563.7l2.4-2.9M500.8 543.2l2.9-2.8M654.2 572.5l3.5 0.3M636.2 576.7l1.5-2.5M525 545.5l2.7-2.8M621.3 570.1l5 2.3M512.9 544.1l2.8-2.7M515.7 541.4l9.3 4.1M578 556l4.8 2.6M544.5 546.8l4.7 2.4M558.7 554.1l2.5-2.8M665.4 522.7l1.9-12.7M485.7 545.3l5.9-5.5M491.6 539.8l9.2 3.4M647.9 577.3l1.4-2.6M624.1 575.8l2.2-3.4M626.3 572.4l3.3 1.5M602.2 568.8l2.3-3M580.4 561.4l2.4-2.8M582.8 558.6l4.8 2.5M657.7 572.8l3.5-0.1M629.6 573.9l3.3 1.4M546.6 551.9l2.6-2.7M549.2 549.2l4.7 2.4M632.9 575.3l3.3 1.4M587.6 561.1l4.8 2.6M534.4 549.9l2.7-2.7M476.6 542.2l9.1 3.1M646.4 579.9l1.5-2.6M634.1 580.3l2.1-3.6M636.2 576.7l3.4 1.2M612 574l2.2-3.2M568.3 559.1l2.5-2.9M553.9 551.6l4.8 2.5M590.1 566.6l2.3-2.9M592.4 563.7l4.9 2.6M639.6 577.9l3.4 1.1M522.3 548.2l2.7-2.7M525 545.5l9.4 4.4M510.1 546.9l2.8-2.8M667.3 510l0.3-2.1M597.3 566.3l4.9 2.5M556.1 556.9l2.6-2.8M558.7 554.1l4.8 2.4M621.9 579.1l2.2-3.3M643 579l3.4 0.9M599.9 571.9l2.3-3.1M602.2 568.8l4.9 2.6M578 564.3l2.4-2.9M494.9 548.7l5.9-5.5M500.8 543.2l9.3 3.7M543.9 554.7l2.7-2.8M644.3 583.8l2.1-3.9M646.4 579.9l3.5 0.7M563.5 556.5l4.8 2.6M607.1 571.4l4.9 2.6M531.7 552.7l2.7-2.8M534.4 549.9l4.8 2.4M631.9 583.9l2.2-3.6M609.7 577.2l2.3-3.2M612 574l4.9 2.6M649.9 580.6l3.5 0.4M565.8 561.9l2.5-2.8M568.3 559.1l4.8 2.6M587.7 569.6l2.4-3M616.9 576.6l5 2.5M519.5 551l2.8-2.8M479.6 551l6.1-5.7M485.7 545.3l9.2 3.4M539.2 552.3l4.7 2.4M573.1 561.7l4.9 2.6M619.6 582.5l2.3-3.4M621.9 579.1l3.3 1.7M553.5 559.7l2.6-2.8M653.4 581l3.6 0.1M625.2 580.8l3.3 1.6M597.5 574.9l2.4-3M642.1 587.7l2.2-3.9M575.5 567.2l2.5-2.9M578 564.3l4.8 2.6M628.5 582.4l3.4 1.5M541.3 557.5l2.6-2.8M543.9 554.7l4.8 2.5M504.3 552.5l5.8-5.6M510.1 546.9l9.4 4.1M470.5 547.7l9.1 3.3M629.7 587.5l2.2-3.6M631.9 583.9l3.4 1.4M582.8 566.9l4.9 2.7M529 555.5l2.7-2.8M607.4 580.4l2.3-3.2M635.3 585.3l3.4 1.3M563.2 564.8l2.6-2.9M548.7 557.2l4.8 2.5M585.3 572.6l2.4-3M587.7 569.6l4.9 2.7M638.7 586.6l3.4 1.1M617.4 585.8l2.2-3.3M592.6 572.3l4.9 2.6M550.9 562.5l2.6-2.8M553.5 559.7l4.9 2.5M639.9 591.5l2.2-3.8M642.1 587.7l3.5 0.8M488.9 554.4l6-5.7M494.9 548.7l9.4 3.8M595.1 578l2.4-3.1M597.5 574.9l4.9 2.7M573 570.2l2.5-3M538.6 560.4l2.7-2.9M513.8 556.6l5.7-5.6M519.5 551l9.5 4.5M558.4 562.2l4.8 2.6M627.5 591l2.2-3.5M645.6 588.5l3.5 0.6M602.4 577.6l5 2.8M605.1 583.6l2.3-3.2M607.4 580.4l5 2.7M560.7 567.7l2.5-2.9M563.2 564.8l4.9 2.7M582.8 575.6l2.5-3M473.4 556.7l6.2-5.7M479.6 551l9.3 3.4M649.1 589.1l3.6 0.2M612.4 583.1l5 2.7M615.1 589.1l2.3-3.3M617.4 585.8l3.3 1.8M568.1 567.5l4.9 2.7M523.4 561.2l5.6-5.7M529 555.5l4.8 2.4M637.7 595.3l2.2-3.8M548.3 565.4l2.6-2.9M620.7 587.6l3.4 1.7M624.1 589.3l3.4 1.7M592.7 581.1l2.4-3.1M498.3 558.2l6-5.7M504.3 552.5l9.5 4.1M570.5 573.1l2.5-2.9M573 570.2l4.9 2.7M464.1 553.3l9.3 3.4M625.2 594.5l2.3-3.5M627.5 591l3.4 1.6M533.8 557.9l4.8 2.5M630.9 592.6l3.4 1.4M577.9 572.9l4.9 2.7M602.7 586.8l2.4-3.2M634.3 594l3.4 1.3M558 570.7l2.7-3M580.3 578.6l2.5-3M582.8 575.6l5 2.7M533.1 566.1l5.5-5.7M538.6 560.4l4.8 2.5M635.5 599l2.2-3.7M637.7 595.3l3.5 1M612.8 592.5l2.3-3.4M587.8 578.3l4.9 2.8M482.8 560.2l6.1-5.8M488.9 554.4l9.4 3.8M543.4 562.9l4.9 2.5M641.2 596.3l3.6 0.7M590.3 584.2l2.4-3.1M592.7 581.1l5 2.8M507.9 562.4l5.9-5.8M513.8 556.6l9.6 4.6M567.9 576.1l2.6-3M623 598l2.2-3.5M597.7 583.9l5 2.9M542.8 571.3l5.5-5.9M548.3 565.4l4.8 2.6M644.8 597l3.6 0.3M600.4 590l2.3-3.2M602.7 586.8l5.1 2.8M467 562.5l6.4-5.8M473.4 556.7l9.4 3.5M607.8 589.6l5 2.9M577.8 581.7l2.5-3.1M633.3 602.7l2.2-3.7M553.1 568l4.9 2.7M610.5 595.8l2.3-3.3M612.8 592.5l3.4 1.9M517.6 567l5.8-5.8M523.4 561.2l4.8 2.4M616.2 594.4l3.4 1.8M457.7 559.1l9.3 3.4M619.6 596.2l3.4 1.8M492.3 564l6-5.8M498.3 558.2l9.6 4.2M552.7 576.7l5.3-6M558 570.7l5 2.7M587.9 587.4l2.4-3.2M620.7 601.5l2.3-3.5M623 598l3.4 1.7M528.2 563.6l4.9 2.5M626.4 599.7l3.4 1.6M563 573.4l4.9 2.7M629.8 601.3l3.5 1.4M598 593.2l2.4-3.2M631.1 606.4l2.2-3.7M633.3 602.7l3.5 1.2M562.7 582.3l5.2-6.2M567.9 576.1l5 2.8M527.4 572l5.7-5.9M533.1 566.1l4.8 2.6M608.1 599.1l2.4-3.3M476.4 566l6.4-5.8M482.8 560.2l9.5 3.8M636.8 603.9l3.6 0.8M572.9 578.9l4.9 2.8M537.9 568.7l4.9 2.6M501.9 568.2l6-5.8M507.9 562.4l9.7 4.6M618.4 605l2.3-3.5M572.7 587.9l5.1-6.2M577.8 581.7l5 2.8M640.4 604.7l3.6 0.4M451 565l9.4 3.4M460.4 568.4l6.6-5.9M467 562.5l9.4 3.5M537.3 577.4l5.5-6.1M542.8 571.3l5 2.7M582.8 584.5l5.1 2.9M628.8 610l2.3-3.6M582.9 593.7l5-6.3M587.9 587.4l5 2.9M547.8 574l4.9 2.7M511.7 572.8l5.9-5.8M517.6 567l4.9 2.5M592.9 590.3l5.1 2.9M486 569.8l6.3-5.8M492.3 564l9.6 4.2M593.1 599.7l4.9-6.5M598 593.2l5 3M547.3 582.9l5.4-6.2M552.7 576.7l5 2.8M603 596.2l5.1 2.9M522.5 569.5l4.9 2.5M603.3 605.8l4.8-6.7M608.1 599.1l3.4 2M557.7 579.5l5 2.8M611.5 601.1l3.4 2M614.9 603.1l3.5 1.9M613.7 611.9l4.7-6.9M618.4 605l3.4 1.8M557.3 588.6l5.4-6.3M562.7 582.3l5 2.8M521.6 577.8l5.8-5.8M527.4 572l4.9 2.7M469.9 571.9l6.5-5.9M476.4 566l9.6 3.8M621.8 606.8l3.5 1.7M457.1 571.5l3.3-3.1M460.4 568.4l9.5 3.5M625.3 608.5l3.5 1.5M567.7 585.1l5 2.8M624.2 617.1l4.6-7.1M628.8 610l3.5 1.3M532.3 574.7l5 2.7M444.2 571.1l9.5 3.4M495.7 573.9l6.2-5.7M501.9 568.2l9.8 4.6M567.5 594.3l5.2-6.4M572.7 587.9l5.1 2.9M632.3 611.3l3.6 0.9M577.8 590.8l5.1 2.9M531.6 583l5.7-5.6M537.3 577.4l5 2.7M453.7 574.5l3.4-3M577.7 600.2l5.2-6.5M582.9 593.7l5 3M635.9 612.2l3.6 0.5M542.3 580.1l5 2.8M587.9 596.7l5.2 3M505.6 578.3l6.1-5.5M511.7 572.8l4.9 2.4M479.6 575.7l6.4-5.9M486 569.8l9.7 4.1M588 606.3l5.1-6.6M593.1 599.7l5.1 3.1M466.6 575l3.3-3.1M469.9 571.9l9.7 3.8M541.7 588.5l5.6-5.6M547.3 582.9l5 2.8M598.2 602.8l5.1 3M598.4 612.6l4.9-6.8M603.3 605.8l3.5 2.1M516.6 575.2l5 2.6M606.8 607.9l3.4 2M552.3 585.7l5 2.9M610.2 609.9l3.5 2M450.3 577.7l3.4-3.2M453.7 574.5l9.6 3.6M608.9 618.7l4.8-6.8M613.7 611.9l3.5 1.9M617.2 613.8l3.5 1.7M437.3 577.4l9.5 3.4M551.8 594.1l5.5-5.5M557.3 588.6l5.1 2.8M515.6 583.1l6-5.3M521.6 577.8l5 2.6M620.7 615.5l3.5 1.6M463.3 578.1l3.3-3.1M562.4 591.4l5.1 2.9M619.5 624.2l4.7-7.1M624.2 617.1l3.6 1.4M489.4 579.6l6.3-5.7M495.7 573.9l9.9 4.4M526.6 580.4l5 2.6M627.8 618.5l3.6 1M562.1 599.8l5.4-5.5M567.5 594.3l5.1 3M476.3 578.7l3.3-3M479.6 575.7l9.8 3.9M446.8 580.8l3.5-3.1M572.6 597.3l5.1 2.9M525.7 588.1l5.9-5.1M531.6 583l5 2.8M631.4 619.5l3.6 0.7M572.5 605.7l5.2-5.5M577.7 600.2l5.2 3M499.3 583.8l6.3-5.5M505.6 578.3l5 2.4M459.9 581.2l3.4-3.1M463.3 578.1l9.7 3.6M536.6 585.8l5.1 2.7M582.9 603.2l5.1 3.1M582.9 611.7l5.1-5.4M588 606.3l5.2 3.1M444.3 583.1l2.5-2.3M446.8 580.8l9.6 3.6M593.2 609.4l5.2 3.2M473 581.7l3.3-3M535.9 593.3l5.8-4.8M541.7 588.5l5 2.8M510.6 580.7l5 2.4M593.5 617.9l4.9-5.3M598.4 612.6l3.5 2.1M601.9 614.7l3.5 2M486.1 582.5l3.3-2.9M489.4 579.6l9.9 4.2M605.4 616.7l3.5 2M546.7 591.3l5.1 2.8M442.5 584.7l1.8-1.6M604.1 624.1l4.8-5.4M608.9 618.7l3.5 2M456.4 584.4l3.5-3.2M612.4 620.7l3.5 1.8M509.4 588.3l6.2-5.2M515.6 583.1l5 2.5M615.9 622.5l3.6 1.7M546.2 598.6l5.6-4.5M551.8 594.1l5.2 2.9M441.3 585.9l1.2-1.2M614.8 629.8l4.7-5.6M619.5 624.2l3.6 1.4M469.6 584.8l3.4-3.1M473 581.7l9.9 3.8M440.7 586.3l0.6-0.4M557 597l5.1 2.8M520.6 585.6l5.1 2.5M623.1 625.6l3.6 1.1M440.2 586.8l0.4-0.4M496.1 586.6l3.2-2.8M499.3 583.8l5 2.2M439.9 587.1l0.3-0.3M482.9 585.5l3.2-3M439.7 587.2l0.2-0.1M454 586.6l2.4-2.2M456.4 584.4l9.8 3.6M556.6 604l5.5-4.2M562.1 599.8l5.2 2.9M626.7 626.7l3.7 0.6M519.6 592.9l6.1-4.8M525.7 588.1l5.1 2.6M567.3 602.7l5.2 3M504.3 586l5.1 2.3M452.2 588.3l1.8-1.7M567.1 609.6l5.4-3.9M572.5 605.7l5.2 3M466.2 588l3.4-3.2M530.8 590.7l5.1 2.6M577.7 608.7l5.2 3M492.9 589.5l3.2-2.9M451 589.4l1.2-1.1M506.2 590.9l3.2-2.6M509.4 588.3l5.1 2.3M479.5 588.6l3.4-3.1M482.9 585.5l10 4M577.7 615.4l5.2-3.7M582.9 611.7l5.3 3.1M529.9 597.7l6-4.4M535.9 593.3l5.1 2.6M450.3 590l0.7-0.6M588.2 614.8l5.3 3.1M449.9 590.4l0.4-0.4M449.6 590.6l0.3-0.2M463.8 590.2l2.4-2.2M466.2 588l10 3.7M588.4 621.4l5.1-3.5M593.5 617.9l3.5 2.1M514.5 590.6l5.1 2.3M449.4 590.8l0.2-0.2M541 595.9l5.2 2.7M597 620l3.5 2.1M600.5 622.1l3.6 2M599.2 627.5l4.9-3.4M604.1 624.1l3.5 2M607.6 626.1l3.6 1.9M540.3 602.6l5.9-4M546.2 598.6l5.2 2.7M489.6 592.4l3.3-2.9M492.9 589.5l5 2M476.2 591.7l3.3-3.1M462.1 591.9l1.7-1.7M516.5 595.3l3.1-2.4M519.6 592.9l5.1 2.4M611.2 628l3.6 1.8M503 593.6l3.2-2.7M610.1 633.7l4.7-3.9M614.8 629.8l3.6 1.6M618.4 631.4l3.7 1.4M551.4 601.3l5.2 2.7M460.8 593.1l1.3-1.2M622.1 632.8l3.7 1.3M524.7 595.3l5.2 2.4M497.9 591.5l5.1 2.1M460.2 593.7l0.6-0.6M550.9 607.6l5.7-3.6M556.6 604l5.2 2.8M459.8 594l0.4-0.3M473.8 594l2.4-2.3M476.2 591.7l10 3.8M459.6 594.1l0.2-0.1M486.2 595.5l3.4-3.1M459.3 594.4l0.2-0.2M526.8 599.9l3.1-2.2M529.9 597.7l5.2 2.4M561.8 606.8l5.3 2.8M499.8 596.4l3.2-2.8M503 593.6l5.1 2.1M513.3 597.9l3.2-2.6M561.6 612.8l5.5-3.2M567.1 609.6l5.3 2.9M472.1 595.6l1.7-1.6M535.1 600.1l5.2 2.5M572.4 612.5l5.3 2.9M508.1 595.7l5.2 2.2M470.8 596.8l1.3-1.2M483.9 597.7l2.3-2.2M486.2 595.5l5.1 1.9M537.3 604.6l3-2M540.3 602.6l5.3 2.5M572.3 618.2l5.4-2.8M577.7 615.4l5.4 2.9M470.2 597.4l0.6-0.6M469.9 597.7l0.3-0.3M583.1 618.3l5.3 3.1M523.7 602.3l3.1-2.4M496.5 599.4l3.3-3M469.5 597.9l0.3-0.2M510.1 600.5l3.2-2.6M513.3 597.9l5.2 2.1M545.6 605.1l5.3 2.5M469.3 598l0.2-0.1M583.2 623.9l5.2-2.5M588.4 621.4l3.6 2M482.2 599.4l1.7-1.7M491.3 597.4l5.2 2M592 623.4l3.6 2.1M595.6 625.5l3.6 2M548 609.4l2.9-1.8M550.9 607.6l5.3 2.6M594.2 630l5-2.5M599.2 627.5l3.6 2.1M481 600.6l1.2-1.2M518.5 600l5.2 2.3M602.8 629.6l3.7 2M617.4 637.9l3.7 2.6M606.5 631.6l3.6 2.1M605.3 636.7l4.8-3M610.1 633.7l3.7 2M613.8 635.7l3.6 2.2M480.4 601.2l0.6-0.6M494.2 601.6l2.3-2.2M496.5 599.4l5.1 2M556.2 610.2l5.4 2.6M534.3 606.8l3-2.2M479.9 601.5l0.5-0.3M479.7 601.6l0.2-0.1M520.6 604.8l3.1-2.5M523.7 602.3l5.3 2.2M506.9 603.4l3.2-2.9M479.4 601.7l0.3-0.1M558.7 614.4l2.9-1.6M561.6 612.8l5.3 2.7M492.5 603.2l1.7-1.6M501.6 601.4l5.3 2M566.9 615.5l5.4 2.7M529 604.5l5.3 2.3M545 611.4l3-2M491.3 604.4l1.2-1.2M569.6 619.6l2.7-1.4M572.3 618.2l5.5 2.8M504.6 605.6l2.3-2.2M506.9 603.4l5.2 2M490.7 605l0.6-0.6M531.2 609.1l3.1-2.3M534.3 606.8l5.3 2.3M577.8 621l5.4 2.9M490.2 605.3l0.5-0.3M517.4 607.5l3.2-2.7M490.1 605.4l0.1-0.1M580.6 625.2l2.6-1.3M583.2 623.9l3.7 2M489.7 605.5l0.3-0.1M612.6 642.4l3.6 4.4M586.9 625.9l3.7 2M555.8 616.2l2.9-1.8M512.1 605.4l5.3 2.1M539.6 609.1l5.4 2.3M502.9 607.2l1.7-1.6M590.6 627.9l3.6 2.1M591.7 631.2l2.5-1.2M594.2 630l3.7 2.1M609 639.3l3.6 3.1M597.9 632.1l3.7 2.2M605.3 636.7l3.7 2.6M602.8 638.2l2.5-1.5M601.6 634.3l3.7 2.4M501.7 608.4l1.2-1.2M541.9 613.6l3.1-2.2M545 611.4l5.4 2.4M515.1 609.6l2.3-2.1M517.4 607.5l5.3 2.1M528 611.7l3.2-2.6M501.1 608.9l0.6-0.5M566.8 621.2l2.8-1.6M500.7 609.2l0.4-0.3M550.4 613.8l5.4 2.4M500.4 609.3l0.3-0.1M500.2 609.3l0.2 0M522.7 609.6l5.3 2.1M513.5 611.2l1.6-1.6M577.9 626.6l2.7-1.4M552.8 618.2l3-2M555.8 616.2l5.5 2.5M512.3 612.4l1.2-1.2M525.8 613.8l2.2-2.1M528 611.7l5.4 2.2M538.9 616.1l3-2.5M589.1 632.5l2.6-1.3M561.3 618.7l5.5 2.5M600.3 639.8l2.5-1.6M511.8 612.9l0.5-0.5M511.4 613.1l0.3-0.2M563.9 623.1l2.9-1.9M566.8 621.2l5.5 2.6M533.4 613.9l5.5 2.2M511 613.2l0.3 0M607.7 647.1l3.5 6.1M524.2 615.4l1.6-1.6M510.8 613.1l0.2 0.1M572.3 623.8l5.6 2.8M549.8 620.6l3-2.4M536.7 618.1l2.2-2M538.9 616.1l5.4 2.2M575.1 628.3l2.8-1.7M577.9 626.6l3.7 1.9M523.1 616.5l1.1-1.1M581.6 628.5l3.7 2M604 643l3.7 4.1M522.5 617.1l0.6-0.6M585.3 630.5l3.8 2M586.4 634.2l2.7-1.7M589.1 632.5l3.7 2.2M544.3 618.3l5.5 2.3M600.3 639.8l3.7 3.2M522.1 617.3l0.4-0.2M592.8 634.7l3.7 2.4M597.7 641.8l2.6-2M596.5 637.1l3.8 2.7M535.1 619.6l1.6-1.5M521.8 617.2l0.3 0.1M561 625.3l2.9-2.2M521.6 617.1l0.2 0.1M547.7 622.5l2.1-1.9M549.8 620.6l5.6 2.3M534 620.8l1.1-1.2M572.2 630.5l2.9-2.2M555.4 622.9l5.6 2.4M533.4 621.3l0.6-0.5M533.1 621.4l0.3-0.1M546.2 624.1l1.5-1.6M602.5 652.7l3.5 7.5M532.8 621.3l0.2 0.1M558.9 627.2l2.1-1.9M561 625.3l5.6 2.5M583.6 636.4l2.8-2.2M532.5 621l0.3 0.3M595.5 643.8l2.2-2M545.1 625.2l1.1-1.1M566.6 627.8l5.6 2.7M544.6 625.6l0.5-0.4M570.2 632.4l2-1.9M572.2 630.5l3.8 1.8M557.4 628.8l1.5-1.6M601.9 651.9l0.6 0.8M576 632.3l3.8 2M543.9 625.5l0.2 0.2M579.8 634.3l3.8 2.1M581.6 638.3l2-1.9M583.6 636.4l3.8 2.3M556.6 629.5l0.8-0.7M543.7 625.1l0.2 0.4M591.2 641.2l2.6 2M587.4 638.7l3.8 2.5M568.7 633.9l1.5-1.5M568.6 634.1l0.1-0.2M581.2 638.8l0.4-0.5M555.1 629.8l0.3 0.4M567.1 635.3l0.3-0.2M554.9 629.2l0.2 0.6M566.8 635l0.3 0.3M566.6 634.3l0.2 0.7M566.4 633.3l0.2 1M578.4 640.3l0.3 0.7M590 647l0.3 1.4M578.2 639.1l0.2 1.2M589.9 644.7l0.1 2.3M578 637.5l0.2 1.6M589.9 641.7l0 3"/>
<path class="e" d="M525.4 498.3l0.6-0.7M526 497.6l8.4 0.6M524.7 499l0.7-0.7M524.1 499.6l0.6-0.6M523.5 500.2l0.6-0.6M522.9 500.7l0.6-0.5M522.3 501.3l0.6-0.6M521.6 501.9l0.7-0.6M534.4 498.2l8.6-0.3M521 502.5l0.6-0.6M520.1 503.2l0.9-0.7M519.3 504l0.8-0.8M518.4 504.8l0.9-0.8M517.6 505.5l0.8-0.7M543 497.9l8.7-1.1M516.7 506.3l0.9-0.8M515.9 507l0.8-0.7M514.6 508.2l1.3-1.2M513.3 509.3l1.3-1.1M551.7 496.8l8.9-1.6M512 510.5l1.3-1.2M510.6 511.7l1.4-1.2M508.9 513.3l1.7-1.6M560.6 495.2l9-2.1M507.1 514.9l1.8-1.6M505.3 516.5l1.8-1.6M569.6 493.1l4.6-1.2M502.6 518.9l2.7-2.4M574.2 491.9l4.7-1.2M499.8 521.4l2.8-2.5M578.9 490.7l4.7-1.3M497 523.9l2.8-2.5M583.6 489.4l4.8-1.3M593.2 487.8l-1.8-0.5M588.4 488.1l3-0.8M591.4 487.3l1.8 0.5M494.2 526.4l2.8-2.5M597.8 489.2l-4.6-1.4M593.2 487.8l4.8 1.2M491.4 528.9l2.8-2.5M602.5 490.6l-4.7-1.4M598 489l4.8 1.3M607.3 491.9l-4.8-1.3M602.8 490.3l4.8 1.2M488.5 531.5l2.9-2.6M612.1 493.3l-4.8-1.4M607.6 491.5l4.9 1.3M485.6 534.1l2.9-2.6M616.9 494.6l-4.8-1.3M612.5 492.8l4.9 1.3M621.8 495.9l-4.9-1.3M617.4 494.1l4.9 1.3M482.6 536.8l3-2.7M631.7 498.6l-4.1-1.1M626.7 497.3l-4.9-1.4M622.3 495.4l4.9 1.3M669.3 553.6l0.9-2.8M670.2 550.8l0.7-2.4M668.5 556l0.8-2.4M670.9 548.4l0.7-2.6M667.7 558.2l0.8-2.2M636.7 500l-5-1.4M671.6 545.8l0.8-3M667 560.3l0.7-2.1M672.4 542.8l0.8-3.4M666.2 562.3l0.8-2M627.6 497.5l-0.9-0.2M627.2 496.7l5 1.3M665.5 564l0.7-1.7M641.7 501.3l-5-1.3M673.2 539.4l1-4.4M664.4 566.3l1.1-2.3M632.2 498l5 1.3M646.8 502.7l-5.1-1.4M476.6 542.2l6-5.4M663.3 568.5l1.1-2.2M674.2 535l1.2-6.4M637.2 499.3l5.1 1.3M650.2 503.5l-3.4-0.8M653.7 504.4l-3.5-0.9M662.3 570.6l1-2.1M642.3 500.6l5.1 1.3M657.1 505.3l-3.4-0.9M647.4 501.9l3.4 0.9M660.6 506.2l-3.5-0.9M661.2 572.7l1.1-2.1M661.6 506.4l-1-0.2M650.8 502.8l3.4 0.9M675.4 528.6l1.7-10.2M654.2 503.7l3.4 0.9M659.8 575.5l1.4-2.8M657.6 504.6l3.5 0.9M470.5 547.7l6.1-5.5M664.1 507l-2.5-0.6M661.1 505.5l3.5 0.9M667.6 507.9l-3.5-0.9M664.6 506.4l3.5 0.9M658.4 578.3l1.4-2.8M671.2 508.7l-3.6-0.8M668.1 507.3l3.5 1M674.8 509.6l-3.6-0.9M671.6 508.3l3.5 0.9M678.4 510.4l-3.6-0.8M677.1 518.4l1.3-8M678.4 510.4l0.2-0.3M675.1 509.2l3.5 0.9M657 581.1l1.4-2.8M654.9 585.2l2.1-4.1M464.1 553.3l6.4-5.6M652.7 589.3l2.2-4.1M650.5 593.3l2.2-4M457.7 559.1l6.4-5.8M648.4 597.3l2.1-4M646.2 601.2l2.2-3.9M451 565l6.7-5.9M644 605.1l2.2-3.9M641.8 609l2.2-3.9M447.7 568.1l3.3-3.1M444.2 571.1l3.5-3M639.5 612.7l2.3-3.7M440.8 574.2l3.4-3.1M635 620.2l4.5-7.5M437.3 577.4l3.5-3.2M434.8 579.6l2.5-2.2M433 581.2l1.8-1.6M431.7 582.3l1.3-1.1M630.4 627.3l4.6-7.1M431 582.9l0.7-0.6M430.6 583.3l0.4-0.4M430.3 583.5l0.3-0.2M430.1 583.7l0.2-0.2M430.1 583.7l9.6 3.5M439.7 587.2l9.7 3.6M625.8 634.1l4.6-6.8M449.4 590.8l9.9 3.6M621.1 640.5l4.7-6.4M459.3 594.4l10 3.6M469.3 598l10.1 3.7M616.2 646.8l4.9-6.3M479.4 601.7l5.2 1.9M484.6 603.6l5.1 1.9M489.7 605.5l5.3 1.9M613.7 650l2.5-3.2M495 607.4l5.2 1.9M611.2 653.2l2.5-3.2M500.2 609.3l5.3 1.9M505.5 611.2l5.3 1.9M608.6 656.7l2.6-3.5M510.8 613.1l5.4 2M516.2 615.1l5.4 2M606 660.2l2.6-3.5M521.6 617.1l5.5 1.9M527.1 619l5.4 2M604.1 662.9l1.9-2.7M532.5 621l5.6 2M602.8 664.7l1.3-1.8M538.1 623l5.6 2.1M601.9 665.4l0.9-0.7M543.7 625.1l5.6 2M601.5 663.7l0.4 1.7M549.3 627.1l5.6 2.1M554.9 629.2l5.8 2M601.4 659.6l0.1 4.1M560.7 631.2l5.7 2.1M566.4 633.3l3.9 1.4M570.3 634.7l3.8 1.4M601.6 653.6l-0.2 6M574.1 636.1l3.9 1.4M578 637.5l4 1.4M582 638.9l3.9 1.4M585.9 640.3l4 1.4M589.9 641.7l4 1.4M593.9 643.1l4 1.4M601.9 645.8l-0.3 7.8M597.9 644.5l4 1.3"/>
<path d="M417.4 551.5L427.1 613.7M684.1 506.9L675.9 566.3M417.4 551.5L523 465.2M523 465.2L684.1 506.9M606 616.3L417.4 551.5M606 616.3L684.1 506.9M606 616.3L602 681.5M602 681.5L427.1 613.7M602 681.5L675.9 566.3" stroke="#777" stroke-width="0.7" fill="none"/>
<text x="395.8" y="521.9" font-size="12">−Π</text>
<text x="411.6" y="524.8" font-size="7.7">0</text>
<text x="411.8" y="514" font-size="7.7" font-style="italic">ζ</text>
<text x="414.4" y="558.6" font-size="7.3" text-anchor="end">0.0005</text>
<text x="418.4" y="584" font-size="7.3" text-anchor="end">0.0000</text>
<text x="421.5" y="607" font-size="7.3" text-anchor="end">−0.0005</text>
<text x="425" y="624.2" font-size="7.3" text-anchor="middle">0</text>
<text x="608" y="684.6" font-size="7.3" text-anchor="middle">0</text>
<text x="478" y="645.2" font-size="7.6" font-style="italic" text-anchor="middle">π</text>
<path d="M475.5 650h5" stroke="#111" stroke-width="1"/>
<text x="478" y="661.7" font-size="7.6" text-anchor="middle">6</text>
<text x="538.9" y="668.8" font-size="7.6" font-style="italic" text-anchor="middle">π</text>
<path d="M536.4 673.8h5" stroke="#111" stroke-width="1"/>
<text x="538.9" y="684.7" font-size="7.6" text-anchor="middle">3</text>
<text x="636.6" y="638.2" font-size="7.6" font-style="italic" text-anchor="middle">π</text>
<path d="M634.1 643.4h5" stroke="#111" stroke-width="1"/>
<text x="636.6" y="654.7" font-size="7.6" text-anchor="middle">6</text>
<text x="660" y="602.2" font-size="7.6" font-style="italic" text-anchor="middle">π</text>
<path d="M657.5 608h5" stroke="#111" stroke-width="1"/>
<text x="660" y="619.3" font-size="7.6" text-anchor="middle">3</text>
<text x="679.4" y="570.8" font-size="7.6" font-style="italic" text-anchor="middle">π</text>
<path d="M676.9 576h5" stroke="#111" stroke-width="1"/>
<text x="679.4" y="588.1" font-size="7.6" text-anchor="middle">2</text>
<text x="505.4" y="671.4" font-size="10" text-anchor="middle" font-style="italic">ρ</text>
<text x="666.4" y="636.6" font-size="10" text-anchor="middle" font-style="italic">ζ</text>
<path d="M427.1 613.7L430.7 610.4M484.4 635.9L487.7 632.3M544.9 659.3L548 655.4M602 681.5L596.1 679.2M629.5 638.6L623.9 636.6M652.1 603.4L646.8 601.7M673.2 570.5L668.2 569M426.6 610.4L428.6 611.2M425.9 605.9L429.8 607.4M425.2 601.4L427.3 602.2M424.5 596.8L426.5 597.6M423.8 592.1L425.8 592.9M423 587.4L425.1 588.2M422.3 582.7L426.3 584.1M421.5 577.9L423.6 578.6M420.8 573L422.9 573.8M420 568.1L422.1 568.8M419.3 563.1L421.4 563.9M418.5 558.1L422.6 559.5M417.7 553L419.8 553.7" stroke="#666" stroke-width="0.5" fill="none"/>
</svg></body></html>
